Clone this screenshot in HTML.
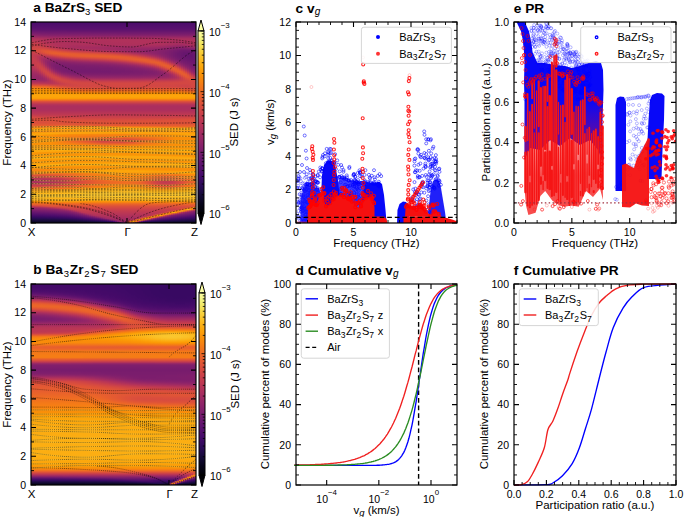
<!DOCTYPE html>
<html><head><meta charset="utf-8"><style>
html,body{margin:0;padding:0;background:#fff;}
svg{display:block;font-family:"Liberation Sans", sans-serif;}
.hc{position:absolute;}
</style></head><body><div style="position:relative;width:685px;height:517px;overflow:hidden">
<div class="hc" style="left:31px;top:22px;width:2px;height:201px;background:linear-gradient(#4a0c6b,#4d0d6c,#520e6d,#550f6d,#59106e,#5f136e,#6a176e,#741a6e,#7f1e6c,#8d2369,#9f2a63,#ae305c,#b93556,#bf3952,#c63d4d,#cb4149,#cc4248,#cf4446,#d34743,#d24644,#cc4248,#c63d4d,#c43c4e,#c63d4d,#c63d4d,#c63d4d,#c43c4e,#c33b4f,#c03a51,#bd3853,#b93556,#b43359,#ae305c,#a82e5f,#a22b62,#9d2964,#9a2865,#972766,#952667,#9f2a63,#ae305c,#bf3952,#d74b3f,#eb6628,#f57b17,#fa9207,#fb9606,#fb9b06,#fca108,#fca50a,#fca50a,#fb9d07,#f3761b,#dd513a,#c83f4b,#b63458,#ab2f5e,#ab2f5e,#ab2f5e,#ae305c,#b43359,#ba3655,#c33b4f,#ce4347,#d94d3d,#dd513a,#db503b,#d94d3d,#df5337,#e65d2f,#ed6925,#f98e09,#fcaa0f,#f78410,#fb9d07,#fca80d,#f98e09,#f98e09,#f98e09,#f98e09,#f98e09,#fa9008,#fa9008,#fa9008,#fa9207,#fb9906,#fcae12,#fb9d07,#fa9207,#fa9207,#fb9d07,#fcae12,#fb9906,#fa9207,#fa9407,#fca309,#fcaa0f,#fa9207,#f8890c,#f78410,#f98b0b,#f37819,#e15635,#d04545,#bf3952,#b1325a,#a92e5e,#ad305d,#b63458,#c73e4c,#da4e3c,#ec6726,#f78410,#fc9f07,#fcb216,#fbbc21,#fac026,#fbba1f,#fcae12,#fc9f07,#f98b0b,#ef6e21,#e45a31,#c13a50,#952667,#85216b,#751b6e,#65156e,#57106e,#470b6a,#380962,#280b53,#1b0c41,#0e092b,#07051b)"></div><div class="hc" style="left:33px;top:22px;width:2px;height:201px;background:linear-gradient(#4a0c6b,#4d0d6c,#520e6d,#550f6d,#59106e,#5f136e,#69166e,#741a6e,#7f1e6c,#8d2369,#9f2a63,#ae305c,#b73557,#bd3853,#c43c4e,#ca404a,#cc4248,#cf4446,#d34743,#d34743,#ce4347,#c73e4c,#c33b4f,#c33b4f,#c43c4e,#c63d4d,#c63d4d,#c63d4d,#c33b4f,#c03a51,#bc3754,#b63458,#b0315b,#a82e5f,#a22b62,#9d2964,#9a2865,#972766,#952667,#9f2a63,#ae305c,#bf3952,#d74b3f,#eb6628,#f57b17,#fa9207,#fb9606,#fb9b06,#fca108,#fca50a,#fca50a,#fb9d07,#f3761b,#dd513a,#c83f4b,#b63458,#ab2f5e,#ab2f5e,#ab2f5e,#ae305c,#b43359,#ba3655,#c33b4f,#ce4347,#d84c3e,#dd513a,#db503b,#d94d3d,#df5337,#e65d2f,#ed6925,#f98e09,#fca80d,#f78212,#fb9d07,#fca60c,#f98e09,#f98e09,#f98e09,#f98e09,#f98e09,#fa9008,#fa9008,#fa9008,#fa9207,#fb9906,#fcae12,#fb9d07,#fa9207,#fa9207,#fc9f07,#fcae12,#fb9906,#fa9207,#fa9407,#fca309,#fca80d,#fa9008,#f8890c,#f78410,#f98b0b,#f3761b,#e15635,#cf4446,#bd3853,#b0315b,#a92e5e,#ab2f5e,#b63458,#c63d4d,#da4e3c,#eb6628,#f78410,#fb9d07,#fcb216,#fbbc21,#fac026,#fbba1f,#fcae12,#fc9f07,#f98b0b,#ef6e21,#e45a31,#c13a50,#952667,#85216b,#751b6e,#65156e,#57106e,#490b6a,#380962,#280b53,#1b0c41,#0e092b,#07051b)"></div><div class="hc" style="left:35px;top:22px;width:2px;height:201px;background:linear-gradient(#4a0c6b,#4d0d6c,#510e6c,#550f6d,#59106e,#5f136e,#69166e,#741a6e,#7f1e6c,#8c2369,#9d2964,#ae305c,#b73557,#bd3853,#c33b4f,#c83f4b,#cb4149,#cf4446,#d44842,#d54a41,#d24644,#c83f4b,#c13a50,#bf3952,#c03a51,#c33b4f,#c63d4d,#c73e4c,#c73e4c,#c63d4d,#c13a50,#bc3754,#b3325a,#ab2f5e,#a32c61,#9d2964,#982766,#952667,#932667,#9d2964,#ad305d,#bf3952,#d74b3f,#eb6628,#f57b17,#fa9207,#fb9606,#fb9b06,#fca108,#fca50a,#fca50a,#fb9d07,#f3761b,#dd513a,#c83f4b,#b63458,#ab2f5e,#ab2f5e,#ab2f5e,#ae305c,#b43359,#ba3655,#c13a50,#cc4248,#d84c3e,#dd513a,#db503b,#da4e3c,#df5337,#e65d2f,#ee6a24,#fa9407,#fca80d,#f78212,#fca108,#fca60c,#f98c0a,#f98e09,#f98e09,#f98e09,#f98e09,#fa9008,#fa9008,#fa9008,#fa9207,#fb9b06,#fcae12,#fb9b06,#fa9207,#fa9207,#fc9f07,#fcae12,#fb9706,#fa9207,#fa9407,#fca50a,#fca80d,#fa9008,#f8890c,#f78410,#f98b0b,#f2741c,#e15635,#cf4446,#bd3853,#ae305c,#a82e5f,#ab2f5e,#b43359,#c63d4d,#da4e3c,#eb6628,#f78410,#fb9d07,#fcb216,#fbbc21,#fac026,#fbba1f,#fcae12,#fc9f07,#f98b0b,#ef6e21,#e45a31,#c43c4e,#952667,#85216b,#751b6e,#67166e,#57106e,#490b6a,#380962,#280b53,#1b0c41,#10092d,#07051b)"></div><div class="hc" style="left:37px;top:22px;width:2px;height:201px;background:linear-gradient(#4a0c6b,#4d0d6c,#510e6c,#550f6d,#59106e,#5d126e,#69166e,#741a6e,#7d1e6d,#8c2369,#9d2964,#ad305d,#b63458,#ba3655,#c13a50,#c73e4c,#ca404a,#cf4446,#d44842,#d84c3e,#d54a41,#cb4149,#c13a50,#ba3655,#ba3655,#bd3853,#c13a50,#c63d4d,#ca404a,#ca404a,#c83f4b,#c33b4f,#bc3754,#b1325a,#a82e5f,#9f2a63,#982766,#952667,#932667,#9d2964,#ad305d,#bf3952,#d74b3f,#eb6628,#f57b17,#fa9207,#fb9606,#fb9b06,#fca108,#fca50a,#fca50a,#fb9d07,#f3761b,#dd513a,#c83f4b,#b63458,#ab2f5e,#ab2f5e,#ab2f5e,#ae305c,#b43359,#ba3655,#c13a50,#cc4248,#d74b3f,#dd513a,#db503b,#da4e3c,#df5337,#e65d2f,#ee6a24,#fb9606,#fca50a,#f78212,#fca309,#fca309,#f98c0a,#f98e09,#f98e09,#f98e09,#f98e09,#fa9008,#fa9008,#fa9008,#fa9207,#fb9b06,#fcae12,#fb9b06,#fa9207,#fa9407,#fca108,#fcac11,#fb9706,#fa9207,#fa9407,#fca50a,#fca60c,#fa9008,#f8890c,#f78410,#f98c0a,#f1731d,#e05536,#cf4446,#bd3853,#ae305c,#a82e5f,#a92e5e,#b43359,#c63d4d,#d94d3d,#eb6628,#f78410,#fb9d07,#fcb216,#fbbc21,#fac026,#fbba1f,#fcae12,#fc9f07,#f98b0b,#ef6e21,#e45a31,#c63d4d,#972766,#87216b,#771c6d,#67166e,#57106e,#490b6a,#390963,#290b55,#1b0c41,#10092d,#07051b)"></div><div class="hc" style="left:39px;top:22px;width:2px;height:201px;background:linear-gradient(#4a0c6b,#4d0d6c,#510e6c,#550f6d,#59106e,#5d126e,#69166e,#721a6e,#7d1e6d,#8a226a,#9b2964,#ab2f5e,#b43359,#b93556,#bf3952,#c43c4e,#c83f4b,#ce4347,#d54a41,#da4e3c,#d94d3d,#cf4446,#c33b4f,#b73557,#b3325a,#b3325a,#b93556,#bf3952,#c63d4d,#ca404a,#cc4248,#cb4149,#c63d4d,#bc3754,#b1325a,#a52c60,#9b2964,#972766,#932667,#9b2964,#ab2f5e,#bd3853,#d54a41,#eb6628,#f57b17,#fa9207,#fb9706,#fb9d07,#fca108,#fca50a,#fca50a,#fb9d07,#f3761b,#dd513a,#c83f4b,#b63458,#ab2f5e,#ab2f5e,#ab2f5e,#ae305c,#b43359,#ba3655,#c13a50,#cb4149,#d74b3f,#dd513a,#dd513a,#da4e3c,#df5337,#e65d2f,#ee6a24,#fb9706,#fca309,#f78212,#fca309,#fca309,#f98c0a,#f98e09,#f98e09,#f98e09,#f98e09,#fa9008,#fa9008,#fa9008,#fa9207,#fb9b06,#fcae12,#fb9906,#fa9207,#fa9407,#fca108,#fcac11,#fb9706,#fa9207,#fa9407,#fca60c,#fca60c,#fa9008,#f8890c,#f8850f,#f98c0a,#f1731d,#e05536,#cf4446,#bd3853,#ae305c,#a82e5f,#a92e5e,#b43359,#c63d4d,#d94d3d,#eb6628,#f78410,#fb9d07,#fcb216,#fbbc21,#fac026,#fbba1f,#fcae12,#fc9f07,#f98b0b,#ef6e21,#e45a31,#c83f4b,#972766,#87216b,#771c6d,#67166e,#59106e,#490b6a,#390963,#290b55,#1b0c41,#10092d,#07051b)"></div><div class="hc" style="left:41px;top:22px;width:2px;height:201px;background:linear-gradient(#4a0c6b,#4d0d6c,#510e6c,#550f6d,#59106e,#5d126e,#67166e,#721a6e,#7c1d6d,#8a226a,#9b2964,#ab2f5e,#b3325a,#b73557,#bc3754,#c13a50,#c63d4d,#cc4248,#d54a41,#dd513a,#dd513a,#d44842,#c63d4d,#b63458,#ab2f5e,#a82e5f,#ab2f5e,#b1325a,#ba3655,#c33b4f,#ca404a,#ce4347,#ce4347,#c73e4c,#bd3853,#b0315b,#a32c61,#9a2865,#952667,#9b2964,#ab2f5e,#bc3754,#d54a41,#eb6628,#f57b17,#fa9207,#fb9706,#fb9d07,#fca108,#fca50a,#fca50a,#fb9d07,#f3761b,#dd513a,#c83f4b,#b63458,#ab2f5e,#ab2f5e,#ab2f5e,#ae305c,#b43359,#ba3655,#c13a50,#cb4149,#d54a41,#db503b,#dd513a,#da4e3c,#df5337,#e65d2f,#ef6c23,#fb9b06,#fca309,#f78212,#fca60c,#fca108,#f98c0a,#f98e09,#f98e09,#f98e09,#f98e09,#fa9008,#fa9008,#fa9008,#fa9207,#fb9d07,#fcae12,#fb9906,#fa9207,#fa9407,#fca309,#fcac11,#fb9606,#fa9207,#fa9407,#fca80d,#fca50a,#fa9008,#f8890c,#f8850f,#f98e09,#f1711f,#e05536,#cf4446,#bd3853,#ae305c,#a82e5f,#a92e5e,#b43359,#c63d4d,#d94d3d,#eb6628,#f78410,#fb9d07,#fcb216,#fbbc21,#fac026,#fbba1f,#fcae12,#fc9f07,#f98b0b,#ef6e21,#e45a31,#cb4149,#9a2865,#88226a,#781c6d,#69166e,#59106e,#490b6a,#390963,#290b55,#1b0c41,#10092d,#07051b)"></div><div class="hc" style="left:43px;top:22px;width:2px;height:201px;background:linear-gradient(#4a0c6b,#4d0d6c,#510e6c,#540f6d,#59106e,#5d126e,#67166e,#721a6e,#7c1d6d,#88226a,#9a2865,#a92e5e,#b3325a,#b43359,#b93556,#bf3952,#c33b4f,#cb4149,#d54a41,#df5337,#e05536,#d94d3d,#c83f4b,#b73557,#a82e5f,#a02a63,#9f2a63,#a32c61,#ab2f5e,#b63458,#c03a51,#ca404a,#cf4446,#cf4446,#c83f4b,#bd3853,#b0315b,#a32c61,#9a2865,#9d2964,#a92e5e,#bc3754,#d44842,#eb6429,#f47918,#fa9207,#fb9606,#fb9b06,#fca108,#fca50a,#fca50a,#fb9d07,#f3761b,#dd513a,#c83f4b,#b63458,#ab2f5e,#ab2f5e,#ab2f5e,#ae305c,#b43359,#ba3655,#c13a50,#cb4149,#d54a41,#db503b,#dd513a,#da4e3c,#df5337,#e65d2f,#ef6c23,#fb9b06,#fc9f07,#f78212,#fca60c,#fc9f07,#f98c0a,#f98e09,#f98e09,#f98e09,#f98e09,#fa9008,#fa9008,#fa9008,#fa9207,#fb9d07,#fcae12,#fb9906,#fa9207,#fa9407,#fca309,#fcaa0f,#fb9606,#fa9207,#fa9407,#fca80d,#fca50a,#f98e09,#f8890c,#f8850f,#f98e09,#f1711f,#e05536,#cf4446,#bd3853,#b0315b,#a92e5e,#ab2f5e,#b43359,#c63d4d,#da4e3c,#eb6628,#f78410,#fb9d07,#fcb216,#fbbc21,#fac026,#fbba1f,#fcae12,#fc9f07,#f98b0b,#ef6e21,#e45a31,#cf4446,#9d2964,#88226a,#781c6d,#69166e,#59106e,#4a0c6b,#390963,#290b55,#1b0c41,#10092d,#07051b)"></div><div class="hc" style="left:45px;top:22px;width:2px;height:201px;background:linear-gradient(#4a0c6b,#4d0d6c,#510e6c,#540f6d,#59106e,#5d126e,#67166e,#71196e,#7c1d6d,#88226a,#9a2865,#a92e5e,#b1325a,#b3325a,#b63458,#bc3754,#c03a51,#c83f4b,#d44842,#df5337,#e35933,#dd513a,#ce4347,#b93556,#a62d60,#9b2964,#952667,#972766,#9a2865,#a32c61,#b0315b,#bf3952,#ca404a,#d04545,#d04545,#ca404a,#bd3853,#ae305c,#a22b62,#a02a63,#ab2f5e,#ba3655,#d34743,#ea632a,#f37819,#fa9008,#fb9606,#fb9b06,#fca108,#fca50a,#fca50a,#fb9d07,#f3761b,#dd513a,#c83f4b,#b63458,#ab2f5e,#ab2f5e,#ab2f5e,#ae305c,#b43359,#ba3655,#c13a50,#ca404a,#d44842,#db503b,#dd513a,#da4e3c,#df5337,#e65d2f,#ef6c23,#fc9f07,#fb9d07,#f78212,#fca80d,#fb9d07,#f98b0b,#f98e09,#f98e09,#f98e09,#f98e09,#fa9008,#fa9008,#fa9008,#fa9207,#fc9f07,#fcae12,#fb9706,#fa9207,#fa9407,#fca50a,#fcaa0f,#fb9606,#fa9207,#fb9606,#fcaa0f,#fca309,#f98e09,#f8890c,#f8870e,#f98e09,#f1711f,#e15635,#d04545,#bf3952,#b0315b,#a92e5e,#ab2f5e,#b63458,#c73e4c,#da4e3c,#ec6726,#f78410,#fc9f07,#fcb216,#fbbc21,#fac026,#fbba1f,#fcae12,#fc9f07,#f98b0b,#ef6e21,#e45a31,#d24644,#a02a63,#8a226a,#7a1d6d,#6a176e,#5a116e,#4a0c6b,#3b0964,#290b55,#1b0c41,#10092d,#07051b)"></div><div class="hc" style="left:47px;top:22px;width:2px;height:201px;background:linear-gradient(#4a0c6b,#4d0d6c,#510e6c,#540f6d,#59106e,#5d126e,#67166e,#71196e,#7a1d6d,#88226a,#982766,#a82e5f,#b0315b,#b1325a,#b43359,#b93556,#bc3754,#c43c4e,#d24644,#df5337,#e45a31,#e05536,#d24644,#bc3754,#a62d60,#982766,#902568,#8d2369,#8f2469,#952667,#9f2a63,#ae305c,#bd3853,#ca404a,#d24644,#d24644,#ca404a,#bc3754,#ae305c,#a82e5f,#ad305d,#b93556,#d04545,#e8602d,#f3761b,#f98e09,#fa9407,#fb9b06,#fca108,#fca50a,#fca50a,#fb9d07,#f3761b,#dd513a,#c83f4b,#b63458,#ab2f5e,#ab2f5e,#ab2f5e,#ae305c,#b43359,#ba3655,#c13a50,#ca404a,#d44842,#db503b,#dd513a,#db503b,#df5337,#e65d2f,#ef6e21,#fca108,#fb9b06,#f78212,#fcaa0f,#fb9d07,#f98b0b,#f98e09,#f98e09,#f98e09,#f98e09,#fa9008,#fa9008,#fa9008,#fa9207,#fca108,#fcae12,#fb9706,#fa9207,#fa9407,#fca60c,#fcaa0f,#fb9606,#fa9207,#fb9606,#fcaa0f,#fca309,#f98e09,#f8890c,#f8870e,#fa9008,#f1711f,#e15635,#d04545,#bf3952,#b1325a,#ab2f5e,#ad305d,#b73557,#c73e4c,#db503b,#ec6726,#f78410,#fc9f07,#fcb216,#fbbc21,#fac026,#fbba1f,#fcae12,#fc9f07,#f98b0b,#ef6e21,#e45a31,#d54a41,#a52c60,#8c2369,#7c1d6d,#6a176e,#5a116e,#4c0c6b,#3b0964,#2b0b57,#1b0c41,#10092d,#07051b)"></div><div class="hc" style="left:49px;top:22px;width:2px;height:201px;background:linear-gradient(#4a0c6b,#4d0d6c,#510e6c,#540f6d,#59106e,#5d126e,#67166e,#71196e,#7a1d6d,#87216b,#982766,#a82e5f,#b0315b,#b1325a,#b3325a,#b63458,#b93556,#c13a50,#cf4446,#de5238,#e55c30,#e35933,#d54a41,#c03a51,#a92e5e,#982766,#8d2369,#88226a,#87216b,#8a226a,#902568,#9d2964,#ad305d,#bf3952,#cb4149,#d24644,#d24644,#c83f4b,#ba3655,#b0315b,#b0315b,#b93556,#cf4446,#e65d2f,#f1731d,#f98c0a,#fa9407,#fb9b06,#fca108,#fca50a,#fca50a,#fb9d07,#f3761b,#dd513a,#c83f4b,#b63458,#ab2f5e,#ab2f5e,#ab2f5e,#ae305c,#b43359,#ba3655,#c03a51,#ca404a,#d44842,#da4e3c,#dd513a,#db503b,#de5238,#e65d2f,#ef6e21,#fca309,#fb9906,#f78410,#fcaa0f,#fb9b06,#f98b0b,#f98e09,#f98e09,#f98e09,#f98e09,#fa9008,#fa9008,#fa9008,#fa9207,#fca108,#fcac11,#fb9706,#fa9207,#fa9407,#fca60c,#fca80d,#fa9407,#fa9207,#fb9606,#fcaa0f,#fca108,#f98e09,#f8890c,#f8870e,#fa9008,#f1711f,#e25734,#d24644,#c03a51,#b3325a,#ad305d,#ae305c,#b93556,#c83f4b,#db503b,#ed6925,#f8850f,#fc9f07,#fcb216,#fbbc21,#fac026,#fbba1f,#fcae12,#fc9f07,#f98b0b,#ef6e21,#e45a31,#d84c3e,#a92e5e,#8d2369,#7c1d6d,#6c186e,#5c126e,#4c0c6b,#3b0964,#2b0b57,#1c0c43,#10092d,#07051b)"></div><div class="hc" style="left:51px;top:22px;width:2px;height:201px;background:linear-gradient(#4a0c6b,#4d0d6c,#510e6c,#540f6d,#57106e,#5d126e,#67166e,#71196e,#7a1d6d,#87216b,#982766,#a82e5f,#b0315b,#b0315b,#b1325a,#b43359,#b63458,#bd3853,#cc4248,#db503b,#e55c30,#e55c30,#d94d3d,#c43c4e,#ad305d,#982766,#8c2369,#85216b,#82206c,#82206c,#87216b,#8f2469,#9d2964,#ae305c,#c03a51,#ce4347,#d34743,#d04545,#c63d4d,#b93556,#b43359,#ba3655,#ce4347,#e45a31,#f1711f,#f8890c,#fa9207,#fb9906,#fca108,#fca50a,#fca50a,#fb9d07,#f3761b,#dd513a,#c83f4b,#b63458,#ab2f5e,#ab2f5e,#ab2f5e,#ae305c,#b43359,#ba3655,#c03a51,#ca404a,#d34743,#da4e3c,#dd513a,#db503b,#de5238,#e55c30,#f06f20,#fca50a,#fb9706,#f78410,#fcac11,#fb9906,#f98b0b,#f98c0a,#f98c0a,#f98e09,#f98e09,#f98e09,#fa9008,#fa9008,#fa9207,#fca309,#fcac11,#fb9706,#fa9207,#fa9407,#fca80d,#fca80d,#fa9407,#fa9207,#fb9606,#fcac11,#fca108,#f98e09,#f8890c,#f8890c,#fa9207,#f1711f,#e25734,#d34743,#c33b4f,#b63458,#ae305c,#b0315b,#ba3655,#ca404a,#dd513a,#ed6925,#f8850f,#fc9f07,#fcb216,#fbbc21,#fac026,#fbba1f,#fcae12,#fc9f07,#f98b0b,#ef6e21,#e45a31,#d94d3d,#b0315b,#8f2469,#7d1e6d,#6d186e,#5d126e,#4d0d6c,#3d0965,#2b0b57,#1c0c43,#10092d,#07051b)"></div><div class="hc" style="left:53px;top:22px;width:2px;height:201px;background:linear-gradient(#4a0c6b,#4d0d6c,#510e6c,#540f6d,#57106e,#5d126e,#67166e,#71196e,#7a1d6d,#87216b,#982766,#a82e5f,#b0315b,#b0315b,#b0315b,#b3325a,#b43359,#ba3655,#c83f4b,#d94d3d,#e55c30,#e65d2f,#dd513a,#c83f4b,#b0315b,#9b2964,#8d2369,#84206b,#801f6c,#7f1e6c,#801f6c,#85216b,#8f2469,#9f2a63,#b1325a,#c43c4e,#d04545,#d34743,#cc4248,#c33b4f,#ba3655,#bc3754,#cc4248,#e25734,#ef6c23,#f8850f,#f98e09,#fb9906,#fca108,#fca50a,#fca50a,#fb9d07,#f3761b,#dd513a,#c83f4b,#b63458,#ab2f5e,#ab2f5e,#ab2f5e,#ae305c,#b43359,#ba3655,#c03a51,#c83f4b,#d34743,#da4e3c,#dd513a,#db503b,#de5238,#e55c30,#f06f20,#fca60c,#fb9606,#f78410,#fcac11,#fb9706,#f8890c,#f98b0b,#f8890c,#f8890c,#f98b0b,#f98c0a,#f98e09,#fa9008,#fa9207,#fca309,#fcac11,#fb9606,#fa9207,#fa9407,#fca80d,#fca60c,#fa9407,#fa9207,#fb9706,#fcac11,#fc9f07,#f98e09,#f8890c,#f98b0b,#fa9207,#f1711f,#e35933,#d44842,#c43c4e,#b73557,#b1325a,#b3325a,#bc3754,#cb4149,#de5238,#ee6a24,#f8870e,#fca108,#fcb216,#fbbc21,#fac026,#fbba1f,#fcae12,#fc9f07,#f98b0b,#ef6e21,#e45a31,#da4e3c,#b63458,#902568,#7f1e6c,#6f196e,#5d126e,#4d0d6c,#3d0965,#2b0b57,#1c0c43,#10092d,#07051b)"></div><div class="hc" style="left:55px;top:22px;width:2px;height:201px;background:linear-gradient(#4a0c6b,#4d0d6c,#510e6c,#540f6d,#57106e,#5c126e,#67166e,#71196e,#7a1d6d,#87216b,#982766,#a82e5f,#ae305c,#b0315b,#b0315b,#b1325a,#b1325a,#b73557,#c63d4d,#d74b3f,#e45a31,#e75e2e,#df5337,#cc4248,#b43359,#9d2964,#8d2369,#84206b,#7f1e6c,#7c1d6d,#7c1d6d,#7f1e6c,#85216b,#922568,#a52c60,#b93556,#ca404a,#d34743,#d24644,#ca404a,#c13a50,#bf3952,#cb4149,#df5337,#ed6925,#f78212,#f98c0a,#fb9706,#fca108,#fca50a,#fca50a,#fb9d07,#f3761b,#dd513a,#c83f4b,#b63458,#ab2f5e,#ab2f5e,#ab2f5e,#ae305c,#b43359,#ba3655,#c03a51,#c83f4b,#d34743,#da4e3c,#dd513a,#db503b,#de5238,#e55c30,#f1711f,#fca60c,#fa9407,#f8850f,#fcac11,#fb9606,#f8870e,#f8870e,#f8850f,#f78410,#f8870e,#f98b0b,#f98e09,#fa9008,#fa9207,#fca309,#fcaa0f,#fb9606,#fa9207,#fb9606,#fca80d,#fca60c,#fa9407,#fa9207,#fb9706,#fcac11,#fc9f07,#f98e09,#f8890c,#f98b0b,#fa9407,#f1711f,#e45a31,#d54a41,#c63d4d,#ba3655,#b3325a,#b43359,#bf3952,#ce4347,#df5337,#ef6c23,#f8870e,#fca108,#fcb418,#fbbe23,#fac026,#fbba1f,#fcae12,#fc9f07,#f98b0b,#ef6e21,#e45a31,#da4e3c,#bd3853,#922568,#801f6c,#71196e,#5f136e,#4f0d6c,#3e0966,#2d0b59,#1c0c43,#10092d,#07051b)"></div><div class="hc" style="left:57px;top:22px;width:2px;height:201px;background:linear-gradient(#4a0c6b,#4d0d6c,#510e6c,#540f6d,#57106e,#5c126e,#67166e,#71196e,#7a1d6d,#87216b,#972766,#a82e5f,#ae305c,#ae305c,#b0315b,#b0315b,#b0315b,#b43359,#c13a50,#d44842,#e25734,#e75e2e,#e15635,#d04545,#b73557,#a02a63,#8f2469,#84206b,#7f1e6c,#7c1d6d,#7a1d6d,#7c1d6d,#801f6c,#8a226a,#982766,#ae305c,#c13a50,#cf4446,#d34743,#cf4446,#c73e4c,#c13a50,#ca404a,#dd513a,#eb6429,#f67e14,#f98b0b,#fb9606,#fc9f07,#fca50a,#fca50a,#fb9d07,#f3761b,#dd513a,#c83f4b,#b63458,#ab2f5e,#ab2f5e,#ab2f5e,#ae305c,#b43359,#ba3655,#c03a51,#c83f4b,#d24644,#d94d3d,#dd513a,#db503b,#de5238,#e55c30,#f1711f,#fcaa0f,#fa9207,#f8850f,#fcae12,#fa9407,#f8870e,#f8850f,#f78212,#f78212,#f8850f,#f8890c,#f98e09,#fa9008,#fa9207,#fca50a,#fcaa0f,#fb9606,#fa9207,#fb9606,#fcaa0f,#fca50a,#fa9407,#fa9207,#fb9706,#fcae12,#fc9f07,#f98e09,#f8890c,#f98c0a,#fa9407,#f1731d,#e55c30,#d84c3e,#c83f4b,#bc3754,#b63458,#b73557,#c03a51,#cf4446,#e05536,#ef6e21,#f8890c,#fca108,#fcb418,#fbbe23,#fac026,#fbba1f,#fcae12,#fc9f07,#f98b0b,#ef6e21,#e45a31,#da4e3c,#c33b4f,#952667,#84206b,#721a6e,#61136e,#510e6c,#3e0966,#2d0b59,#1e0c45,#10092d,#07051b)"></div><div class="hc" style="left:59px;top:22px;width:2px;height:201px;background:linear-gradient(#4a0c6b,#4d0d6c,#510e6c,#540f6d,#57106e,#5c126e,#67166e,#71196e,#7a1d6d,#87216b,#972766,#a82e5f,#ae305c,#ae305c,#ae305c,#b0315b,#ae305c,#b3325a,#bf3952,#d04545,#e15635,#e75e2e,#e35933,#d34743,#bc3754,#a32c61,#902568,#85216b,#7f1e6c,#7a1d6d,#781c6d,#7a1d6d,#7c1d6d,#84206b,#902568,#a32c61,#b73557,#c83f4b,#d34743,#d24644,#cb4149,#c63d4d,#ca404a,#da4e3c,#e9612b,#f57b17,#f8870e,#fa9407,#fc9f07,#fca50a,#fca50a,#fb9b06,#f3761b,#dd513a,#c83f4b,#b63458,#ab2f5e,#ab2f5e,#ab2f5e,#ae305c,#b43359,#ba3655,#c03a51,#c83f4b,#d24644,#d94d3d,#dd513a,#db503b,#de5238,#e55c30,#f1731d,#fca80d,#fa9008,#f8850f,#fcac11,#fa9207,#f8850f,#f78410,#f67e14,#f67e14,#f78212,#f8870e,#f98c0a,#fa9008,#fa9207,#fca50a,#fca80d,#fb9606,#fa9207,#fb9606,#fcaa0f,#fca50a,#fa9407,#fa9207,#fb9706,#fcac11,#fb9d07,#f98e09,#f8890c,#f98c0a,#fa9407,#f1731d,#e65d2f,#d94d3d,#cb4149,#bf3952,#b93556,#ba3655,#c33b4f,#d24644,#e25734,#f06f20,#f8890c,#fca309,#fcb418,#fbbe23,#fac026,#fbba1f,#fcae12,#fc9f07,#f98b0b,#ef6e21,#e45a31,#da4e3c,#c73e4c,#9a2865,#85216b,#741a6e,#62146e,#510e6c,#400a67,#2f0a5b,#1e0c45,#10092d,#07051b)"></div><div class="hc" style="left:61px;top:22px;width:2px;height:201px;background:linear-gradient(#4a0c6b,#4d0d6c,#510e6c,#540f6d,#57106e,#5c126e,#67166e,#71196e,#7a1d6d,#87216b,#972766,#a82e5f,#ae305c,#ae305c,#ae305c,#b0315b,#ae305c,#b0315b,#bc3754,#ce4347,#df5337,#e75e2e,#e45a31,#d74b3f,#bf3952,#a62d60,#932667,#87216b,#7f1e6c,#7a1d6d,#781c6d,#781c6d,#7a1d6d,#7f1e6c,#88226a,#9a2865,#ae305c,#c13a50,#cf4446,#d34743,#cf4446,#c83f4b,#cb4149,#d94d3d,#e75e2e,#f37819,#f8850f,#fa9407,#fc9f07,#fca50a,#fca50a,#fb9b06,#f3761b,#dd513a,#c83f4b,#b63458,#ab2f5e,#ab2f5e,#ab2f5e,#ae305c,#b43359,#ba3655,#c03a51,#c83f4b,#d24644,#d94d3d,#dd513a,#db503b,#de5238,#e55c30,#f2741c,#fcac11,#f98e09,#f8870e,#fcae12,#fa9207,#f8850f,#f78212,#f57b17,#f57b17,#f67e14,#f8870e,#f98c0a,#fa9008,#fa9207,#fca60c,#fca80d,#fb9606,#fa9207,#fb9606,#fcaa0f,#fca50a,#fa9407,#fa9207,#fb9906,#fcae12,#fb9d07,#f98e09,#f98b0b,#f98e09,#fb9606,#f2741c,#e75e2e,#da4e3c,#cc4248,#c13a50,#bc3754,#bd3853,#c63d4d,#d34743,#e35933,#f1711f,#f98b0b,#fca309,#fcb418,#fbbe23,#fac026,#fbba1f,#fcae12,#fc9f07,#f98b0b,#ef6e21,#e45a31,#da4e3c,#cb4149,#9f2a63,#87216b,#751b6e,#64156e,#520e6d,#400a67,#2f0a5b,#1e0c45,#110a30,#07051b)"></div><div class="hc" style="left:63px;top:22px;width:2px;height:201px;background:linear-gradient(#4a0c6b,#4d0d6c,#510e6c,#540f6d,#57106e,#5c126e,#67166e,#71196e,#7a1d6d,#87216b,#972766,#a82e5f,#ae305c,#ae305c,#ae305c,#b0315b,#ad305d,#ae305c,#b93556,#cb4149,#dd513a,#e65d2f,#e55c30,#d94d3d,#c33b4f,#a92e5e,#952667,#87216b,#7f1e6c,#7a1d6d,#781c6d,#771c6d,#781c6d,#7c1d6d,#84206b,#932667,#a62d60,#bc3754,#cb4149,#d34743,#d24644,#cb4149,#cb4149,#d74b3f,#e55c30,#f2741c,#f78212,#fa9207,#fc9f07,#fca50a,#fca50a,#fb9b06,#f3761b,#dd513a,#c83f4b,#b63458,#ab2f5e,#ab2f5e,#ab2f5e,#ae305c,#b43359,#ba3655,#c03a51,#c83f4b,#d24644,#d94d3d,#dd513a,#db503b,#de5238,#e55c30,#f2741c,#fcac11,#f98e09,#f8890c,#fcae12,#fa9008,#f78410,#f68013,#f47918,#f37819,#f57d15,#f78410,#f98b0b,#f98e09,#fa9407,#fca60c,#fca80d,#fa9407,#fa9207,#fb9606,#fcac11,#fca309,#fa9407,#fa9207,#fb9906,#fcae12,#fb9d07,#f98e09,#f98b0b,#fa9008,#fb9606,#f2741c,#e8602d,#dd513a,#cf4446,#c43c4e,#bf3952,#c03a51,#c83f4b,#d54a41,#e45a31,#f1731d,#f98c0a,#fca50a,#fcb418,#fbbe23,#fac026,#fbba1f,#fcae12,#fc9f07,#f98b0b,#ef6e21,#e45a31,#da4e3c,#cf4446,#a62d60,#88226a,#771c6d,#65156e,#540f6d,#420a68,#310a5c,#1e0c45,#110a30,#07051b)"></div><div class="hc" style="left:65px;top:22px;width:2px;height:201px;background:linear-gradient(#4a0c6b,#4d0d6c,#510e6c,#540f6d,#57106e,#5c126e,#67166e,#71196e,#7a1d6d,#87216b,#972766,#a82e5f,#ae305c,#ae305c,#ae305c,#ae305c,#ad305d,#ad305d,#b63458,#c83f4b,#db503b,#e65d2f,#e65d2f,#db503b,#c63d4d,#ad305d,#972766,#88226a,#801f6c,#7a1d6d,#781c6d,#771c6d,#771c6d,#7a1d6d,#82206c,#8f2469,#a02a63,#b63458,#c73e4c,#d24644,#d34743,#ce4347,#cc4248,#d54a41,#e35933,#f1711f,#f68013,#fa9008,#fb9d07,#fca50a,#fca50a,#fb9b06,#f3761b,#dd513a,#c83f4b,#b63458,#ab2f5e,#ab2f5e,#ab2f5e,#ae305c,#b43359,#ba3655,#c03a51,#c73e4c,#d04545,#d84c3e,#dd513a,#dd513a,#de5238,#e55c30,#f2741c,#fcac11,#f98c0a,#f8890c,#fcac11,#fa9008,#f78410,#f67e14,#f3761b,#f2741c,#f47918,#f78212,#f98b0b,#f98e09,#fa9407,#fca60c,#fca60c,#fa9407,#fa9207,#fb9606,#fcac11,#fca309,#fa9407,#fa9207,#fb9906,#fcae12,#fb9b06,#f98e09,#f98b0b,#fa9008,#fb9706,#f3761b,#e9612b,#de5238,#d24644,#c73e4c,#c13a50,#c33b4f,#ca404a,#d84c3e,#e65d2f,#f2741c,#f98c0a,#fca50a,#fbb61a,#fbbe23,#fac026,#fbba1f,#fcae12,#fc9f07,#f98b0b,#ef6e21,#e45a31,#da4e3c,#d04545,#ae305c,#8c2369,#781c6d,#67166e,#550f6d,#440a68,#310a5c,#1f0c48,#110a30,#07051b)"></div><div class="hc" style="left:67px;top:22px;width:2px;height:201px;background:linear-gradient(#4a0c6b,#4d0d6c,#510e6c,#540f6d,#57106e,#5c126e,#65156e,#71196e,#7a1d6d,#87216b,#972766,#a82e5f,#ae305c,#ae305c,#ae305c,#ae305c,#ab2f5e,#ab2f5e,#b43359,#c63d4d,#d94d3d,#e55c30,#e75e2e,#dd513a,#c83f4b,#b0315b,#9a2865,#8a226a,#801f6c,#7c1d6d,#781c6d,#771c6d,#771c6d,#781c6d,#7f1e6c,#8c2369,#9b2964,#b0315b,#c33b4f,#d04545,#d34743,#cf4446,#ce4347,#d44842,#e15635,#ef6e21,#f57d15,#f98e09,#fb9d07,#fca50a,#fca50a,#fb9b06,#f3761b,#dd513a,#c83f4b,#b63458,#ab2f5e,#ab2f5e,#ab2f5e,#ae305c,#b43359,#ba3655,#c03a51,#c73e4c,#d04545,#d84c3e,#dd513a,#dd513a,#de5238,#e55c30,#f3761b,#fcae12,#f98b0b,#f98b0b,#fcae12,#f98e09,#f78410,#f57d15,#f2741c,#f1711f,#f3761b,#f68013,#f8890c,#f98e09,#fa9407,#fca80d,#fca60c,#fa9407,#fa9207,#fb9706,#fcac11,#fca108,#fa9407,#fa9207,#fb9906,#fcae12,#fb9b06,#f98e09,#f98b0b,#fa9207,#fb9906,#f3761b,#ea632a,#e05536,#d44842,#cb4149,#c63d4d,#c63d4d,#cc4248,#d94d3d,#e75e2e,#f3761b,#f98e09,#fca50a,#fbb61a,#fbbe23,#fac026,#fbba1f,#fcae12,#fc9f07,#f98b0b,#ef6e21,#e45a31,#da4e3c,#d24644,#b73557,#8f2469,#7c1d6d,#69166e,#57106e,#450a69,#320a5e,#1f0c48,#110a30,#07051b)"></div><div class="hc" style="left:69px;top:22px;width:2px;height:201px;background:linear-gradient(#4a0c6b,#4d0d6c,#510e6c,#540f6d,#57106e,#5c126e,#65156e,#71196e,#7a1d6d,#87216b,#972766,#a82e5f,#ae305c,#ae305c,#ae305c,#ae305c,#ab2f5e,#a92e5e,#b3325a,#c33b4f,#d74b3f,#e45a31,#e75e2e,#df5337,#cb4149,#b1325a,#9b2964,#8c2369,#801f6c,#7c1d6d,#781c6d,#771c6d,#771c6d,#781c6d,#7d1e6d,#88226a,#972766,#a92e5e,#bf3952,#ce4347,#d34743,#d04545,#ce4347,#d44842,#e05536,#ee6a24,#f57b17,#f98c0a,#fb9d07,#fca50a,#fca50a,#fb9b06,#f3761b,#dd513a,#c83f4b,#b63458,#ab2f5e,#ab2f5e,#ab2f5e,#ae305c,#b43359,#ba3655,#c03a51,#c73e4c,#d04545,#d84c3e,#dd513a,#dd513a,#de5238,#e55c30,#f37819,#fcac11,#f8890c,#f98b0b,#fcae12,#f98e09,#f78212,#f57b17,#f1711f,#ef6e21,#f1731d,#f67e14,#f8890c,#f98e09,#fa9407,#fca80d,#fca60c,#fa9407,#fa9207,#fb9706,#fcac11,#fca108,#fa9407,#fa9207,#fb9b06,#fcae12,#fb9b06,#f98e09,#f98b0b,#fa9407,#fb9906,#f37819,#eb6628,#e25734,#d74b3f,#ce4347,#c83f4b,#c83f4b,#cf4446,#db503b,#e9612b,#f37819,#fa9008,#fca60c,#fbb61a,#fbbe23,#fac026,#fbba1f,#fcae12,#fc9f07,#f98b0b,#ef6e21,#e45a31,#da4e3c,#d24644,#c03a51,#952667,#7f1e6c,#6c186e,#59106e,#470b6a,#340a5f,#210c4a,#110a30,#07051b)"></div><div class="hc" style="left:71px;top:22px;width:2px;height:201px;background:linear-gradient(#4a0c6b,#4d0d6c,#510e6c,#540f6d,#57106e,#5c126e,#65156e,#71196e,#7a1d6d,#87216b,#972766,#a82e5f,#ae305c,#ae305c,#ae305c,#ae305c,#ab2f5e,#a92e5e,#b0315b,#c03a51,#d54a41,#e35933,#e75e2e,#e05536,#ce4347,#b43359,#9d2964,#8d2369,#82206c,#7c1d6d,#781c6d,#771c6d,#751b6e,#771c6d,#7c1d6d,#85216b,#932667,#a52c60,#ba3655,#cb4149,#d34743,#d24644,#cf4446,#d34743,#de5238,#ec6726,#f47918,#f98c0a,#fb9d07,#fca50a,#fca50a,#fb9b06,#f3761b,#dd513a,#c83f4b,#b63458,#ab2f5e,#ab2f5e,#ab2f5e,#ae305c,#b43359,#ba3655,#c03a51,#c73e4c,#d04545,#d84c3e,#dd513a,#dd513a,#de5238,#e55c30,#f37819,#fcae12,#f8890c,#f98c0a,#fcae12,#f98c0a,#f78212,#f47918,#f06f20,#ee6a24,#f06f20,#f57d15,#f8870e,#f98e09,#fa9407,#fca80d,#fca60c,#fa9407,#fa9207,#fb9706,#fcac11,#fca108,#fa9207,#fa9207,#fb9b06,#fcae12,#fb9906,#f98e09,#f98b0b,#fa9407,#fb9906,#f47918,#ec6726,#e35933,#d94d3d,#d04545,#cb4149,#cb4149,#d24644,#de5238,#ea632a,#f47918,#fa9207,#fca60c,#fbb61a,#fbbe23,#fac026,#fbba1f,#fcae12,#fc9f07,#f98b0b,#ef6e21,#e45a31,#da4e3c,#d24644,#c73e4c,#a02a63,#84206b,#6f196e,#5c126e,#490b6a,#360961,#210c4a,#120a32,#07051b)"></div><div class="hc" style="left:73px;top:22px;width:2px;height:201px;background:linear-gradient(#4a0c6b,#4d0d6c,#510e6c,#540f6d,#57106e,#5c126e,#65156e,#71196e,#7a1d6d,#87216b,#972766,#a82e5f,#ae305c,#ae305c,#ae305c,#ae305c,#a92e5e,#a82e5f,#ae305c,#bf3952,#d34743,#e35933,#e75e2e,#e15635,#cf4446,#b73557,#9f2a63,#8d2369,#82206c,#7c1d6d,#781c6d,#771c6d,#751b6e,#771c6d,#7a1d6d,#84206b,#902568,#a22b62,#b63458,#c83f4b,#d24644,#d34743,#d04545,#d34743,#dd513a,#eb6429,#f3761b,#f98b0b,#fb9b06,#fca50a,#fca50a,#fb9b06,#f3761b,#dd513a,#c83f4b,#b63458,#ab2f5e,#ab2f5e,#ab2f5e,#ae305c,#b43359,#ba3655,#c03a51,#c73e4c,#d04545,#d84c3e,#dd513a,#dd513a,#de5238,#e55c30,#f47918,#fcae12,#f8870e,#f98c0a,#fcae12,#f98c0a,#f78212,#f47918,#ef6c23,#ec6726,#ef6e21,#f57b17,#f8870e,#f98e09,#fa9407,#fcaa0f,#fca50a,#fa9407,#fa9207,#fb9706,#fcae12,#fc9f07,#fa9207,#fa9207,#fb9b06,#fcae12,#fb9906,#f98e09,#f98c0a,#fb9606,#fb9b06,#f47918,#ed6925,#e55c30,#db503b,#d34743,#cf4446,#ce4347,#d54a41,#e05536,#eb6628,#f57b17,#fa9207,#fca80d,#fbb81d,#fac026,#fac026,#fbbc21,#fcae12,#fc9f07,#f98b0b,#ef6e21,#e45a31,#da4e3c,#d24644,#ca404a,#ad305d,#88226a,#741a6e,#5f136e,#4c0c6b,#380962,#230c4c,#120a32,#07051b)"></div><div class="hc" style="left:75px;top:22px;width:2px;height:201px;background:linear-gradient(#4a0c6b,#4d0d6c,#510e6c,#540f6d,#57106e,#5c126e,#65156e,#71196e,#7a1d6d,#87216b,#972766,#a82e5f,#ae305c,#ae305c,#ae305c,#ae305c,#a92e5e,#a82e5f,#ae305c,#bd3853,#d24644,#e25734,#e75e2e,#e25734,#d24644,#b93556,#a02a63,#8f2469,#84206b,#7c1d6d,#781c6d,#771c6d,#751b6e,#751b6e,#7a1d6d,#82206c,#8d2369,#9f2a63,#b1325a,#c63d4d,#d24644,#d34743,#d04545,#d34743,#db503b,#ea632a,#f2741c,#f8890c,#fb9b06,#fca50a,#fca50a,#fb9b06,#f3761b,#dd513a,#c83f4b,#b63458,#ab2f5e,#ab2f5e,#ab2f5e,#ae305c,#b43359,#ba3655,#c03a51,#c73e4c,#cf4446,#d74b3f,#db503b,#dd513a,#de5238,#e55c30,#f47918,#fcac11,#f8850f,#f98c0a,#fcac11,#f98b0b,#f68013,#f37819,#ee6a24,#eb6429,#ee6a24,#f47918,#f8850f,#f98c0a,#fa9407,#fcaa0f,#fca50a,#fa9407,#fa9207,#fb9706,#fcac11,#fc9f07,#fa9207,#fa9207,#fb9b06,#fcae12,#fb9906,#f98e09,#f98c0a,#fb9706,#fb9b06,#f57b17,#ee6a24,#e75e2e,#de5238,#d74b3f,#d24644,#d04545,#d84c3e,#e25734,#ec6726,#f57d15,#fa9407,#fca80d,#fbb81d,#fac026,#fac026,#fbbc21,#fcae12,#fc9f07,#f98b0b,#ef6e21,#e45a31,#da4e3c,#d24644,#ca404a,#b93556,#8f2469,#781c6d,#64156e,#4f0d6c,#390963,#240c4f,#120a32,#07051b)"></div><div class="hc" style="left:77px;top:22px;width:2px;height:201px;background:linear-gradient(#4a0c6b,#4d0d6c,#510e6c,#540f6d,#57106e,#5c126e,#65156e,#71196e,#7a1d6d,#87216b,#972766,#a82e5f,#ae305c,#ae305c,#ae305c,#ae305c,#a92e5e,#a62d60,#ad305d,#bc3754,#d04545,#e15635,#e75e2e,#e35933,#d34743,#ba3655,#a22b62,#902568,#84206b,#7d1e6d,#781c6d,#771c6d,#751b6e,#751b6e,#7a1d6d,#801f6c,#8c2369,#9b2964,#b0315b,#c43c4e,#d04545,#d34743,#d24644,#d34743,#da4e3c,#e9612b,#f1731d,#f8890c,#fb9b06,#fca50a,#fca50a,#fb9b06,#f3761b,#dd513a,#c83f4b,#b63458,#ab2f5e,#ab2f5e,#ab2f5e,#ae305c,#b43359,#ba3655,#c03a51,#c73e4c,#cf4446,#d74b3f,#db503b,#dd513a,#de5238,#e45a31,#f57b17,#fcae12,#f8850f,#f98e09,#fcac11,#f98b0b,#f68013,#f3761b,#ec6726,#e9612b,#ec6726,#f3761b,#f8850f,#f98c0a,#fa9407,#fcaa0f,#fca50a,#fa9407,#fa9207,#fb9906,#fcae12,#fc9f07,#fa9207,#fa9207,#fb9d07,#fcae12,#fb9906,#f98e09,#f98c0a,#fb9706,#fb9d07,#f57d15,#ef6e21,#e8602d,#e05536,#d94d3d,#d44842,#d34743,#da4e3c,#e35933,#ee6a24,#f67e14,#fb9606,#fcaa0f,#fbb81d,#fac026,#fac026,#fbbc21,#fcae12,#fc9f07,#f98b0b,#ef6e21,#e45a31,#da4e3c,#d24644,#ca404a,#c03a51,#9b2964,#7d1e6d,#67166e,#520e6d,#3d0965,#260c51,#140b34,#07051b)"></div><div class="hc" style="left:79px;top:22px;width:2px;height:201px;background:linear-gradient(#4a0c6b,#4d0d6c,#510e6c,#540f6d,#57106e,#5c126e,#65156e,#71196e,#7a1d6d,#87216b,#972766,#a82e5f,#ae305c,#ae305c,#ae305c,#ae305c,#a92e5e,#a62d60,#ab2f5e,#b93556,#cf4446,#e05536,#e75e2e,#e35933,#d44842,#bd3853,#a32c61,#902568,#84206b,#7d1e6d,#781c6d,#771c6d,#751b6e,#751b6e,#781c6d,#801f6c,#8c2369,#9a2865,#ad305d,#c33b4f,#d04545,#d34743,#d24644,#d34743,#da4e3c,#e8602d,#f1731d,#f8870e,#fb9b06,#fca50a,#fca50a,#fb9b06,#f3761b,#dd513a,#c83f4b,#b63458,#ab2f5e,#ab2f5e,#ab2f5e,#ae305c,#b43359,#ba3655,#c03a51,#c73e4c,#cf4446,#d74b3f,#db503b,#dd513a,#de5238,#e45a31,#f57d15,#fcae12,#f8850f,#fa9008,#fcac11,#f98b0b,#f68013,#f2741c,#eb6628,#e75e2e,#eb6429,#f2741c,#f78410,#f98c0a,#fa9407,#fcaa0f,#fca309,#fa9407,#fa9207,#fb9906,#fcae12,#fc9f07,#fa9207,#fa9207,#fb9d07,#fcae12,#fb9906,#f98e09,#f98c0a,#fb9906,#fb9d07,#f57d15,#f06f20,#ea632a,#e25734,#db503b,#d74b3f,#d74b3f,#dd513a,#e55c30,#ef6c23,#f68013,#fb9706,#fcaa0f,#fbb81d,#fac026,#fac026,#fbbc21,#fcae12,#fc9f07,#f98b0b,#ef6e21,#e45a31,#da4e3c,#d24644,#ca404a,#c33b4f,#a92e5e,#84206b,#6d186e,#550f6d,#400a67,#280b53,#140b34,#07051b)"></div><div class="hc" style="left:81px;top:22px;width:2px;height:201px;background:linear-gradient(#4a0c6b,#4d0d6c,#510e6c,#540f6d,#57106e,#5c126e,#65156e,#71196e,#7a1d6d,#87216b,#972766,#a82e5f,#b0315b,#ae305c,#ae305c,#ae305c,#a92e5e,#a62d60,#a92e5e,#b73557,#ce4347,#df5337,#e75e2e,#e45a31,#d54a41,#bf3952,#a52c60,#922568,#85216b,#7d1e6d,#781c6d,#771c6d,#751b6e,#751b6e,#781c6d,#801f6c,#8a226a,#9a2865,#ad305d,#c13a50,#cf4446,#d34743,#d24644,#d34743,#da4e3c,#e8602d,#f1711f,#f8870e,#fb9b06,#fca50a,#fca50a,#fb9b06,#f3761b,#dd513a,#c83f4b,#b63458,#ab2f5e,#ab2f5e,#ab2f5e,#ae305c,#b43359,#ba3655,#c03a51,#c73e4c,#cf4446,#d74b3f,#db503b,#dd513a,#de5238,#e45a31,#f57d15,#fcac11,#f78410,#fa9008,#fcaa0f,#f8890c,#f68013,#f2741c,#ea632a,#e55c30,#e9612b,#f1731d,#f78212,#f98c0a,#fa9407,#fcaa0f,#fca309,#fa9407,#fa9207,#fb9906,#fcae12,#fb9d07,#fa9207,#fa9207,#fb9d07,#fcae12,#fb9706,#f98e09,#f98c0a,#fb9906,#fb9d07,#f67e14,#f1711f,#eb6429,#e45a31,#de5238,#da4e3c,#d94d3d,#de5238,#e75e2e,#ef6e21,#f78212,#fb9706,#fcac11,#fbba1f,#fac026,#fac026,#fbbc21,#fcae12,#fc9f07,#f98b0b,#ef6e21,#e45a31,#da4e3c,#d24644,#ca404a,#c33b4f,#b63458,#8c2369,#721a6e,#5a116e,#420a68,#290b55,#150b37,#07051b)"></div><div class="hc" style="left:83px;top:22px;width:2px;height:201px;background:linear-gradient(#4a0c6b,#4d0d6c,#510e6c,#540f6d,#57106e,#5c126e,#65156e,#71196e,#7a1d6d,#85216b,#972766,#a82e5f,#b0315b,#ae305c,#ae305c,#ae305c,#a92e5e,#a62d60,#a92e5e,#b73557,#cc4248,#de5238,#e75e2e,#e45a31,#d74b3f,#c03a51,#a62d60,#932667,#85216b,#7d1e6d,#781c6d,#771c6d,#751b6e,#751b6e,#781c6d,#801f6c,#8a226a,#982766,#ab2f5e,#c13a50,#cf4446,#d34743,#d24644,#d34743,#da4e3c,#e75e2e,#f1711f,#f8870e,#fb9b06,#fca50a,#fca50a,#fb9b06,#f3761b,#dd513a,#c83f4b,#b63458,#ab2f5e,#ab2f5e,#ab2f5e,#ae305c,#b43359,#ba3655,#c03a51,#c73e4c,#cf4446,#d74b3f,#db503b,#dd513a,#de5238,#e45a31,#f67e14,#fcae12,#f78410,#fa9207,#fcac11,#f8890c,#f67e14,#f1731d,#e9612b,#e35933,#e75e2e,#f06f20,#f78212,#f98c0a,#fa9407,#fcac11,#fca309,#fa9407,#fa9207,#fb9906,#fcae12,#fb9d07,#fa9207,#fa9207,#fc9f07,#fcae12,#fb9706,#f98e09,#f98e09,#fb9b06,#fc9f07,#f68013,#f1731d,#ec6726,#e65d2f,#e05536,#dd513a,#da4e3c,#e05536,#e8602d,#f1711f,#f78410,#fb9906,#fcac11,#fbba1f,#fac026,#fac228,#fbbc21,#fcb014,#fc9f07,#f98b0b,#ef6e21,#e45a31,#da4e3c,#d24644,#ca404a,#c33b4f,#bc3754,#9a2865,#781c6d,#5f136e,#470b6a,#2d0b59,#160b39,#07051b)"></div><div class="hc" style="left:85px;top:22px;width:2px;height:201px;background:linear-gradient(#4a0c6b,#4d0d6c,#510e6c,#540f6d,#57106e,#5c126e,#65156e,#71196e,#7a1d6d,#85216b,#972766,#a82e5f,#b0315b,#ae305c,#ae305c,#ae305c,#a92e5e,#a52c60,#a82e5f,#b63458,#cb4149,#de5238,#e75e2e,#e55c30,#d84c3e,#c13a50,#a82e5f,#932667,#87216b,#7d1e6d,#7a1d6d,#771c6d,#751b6e,#751b6e,#781c6d,#801f6c,#8a226a,#982766,#ab2f5e,#c13a50,#cf4446,#d34743,#d24644,#d34743,#d94d3d,#e75e2e,#f1711f,#f8870e,#fb9b06,#fca50a,#fca50a,#fb9b06,#f3761b,#dd513a,#c83f4b,#b63458,#ab2f5e,#ab2f5e,#ab2f5e,#ae305c,#b43359,#ba3655,#c03a51,#c73e4c,#cf4446,#d54a41,#db503b,#dd513a,#de5238,#e45a31,#f67e14,#fcae12,#f78410,#fa9207,#fcaa0f,#f8890c,#f67e14,#f1711f,#e8602d,#e15635,#e55c30,#ef6e21,#f68013,#f98b0b,#fa9407,#fcac11,#fca309,#fa9407,#fa9207,#fb9906,#fcae12,#fb9d07,#fa9207,#fa9207,#fc9f07,#fcae12,#fb9706,#fa9008,#f98e09,#fb9b06,#fc9f07,#f68013,#f2741c,#ed6925,#e8602d,#e25734,#df5337,#dd513a,#e25734,#ea632a,#f1731d,#f8850f,#fb9b06,#fcac11,#fbba1f,#fac026,#fac228,#fbbc21,#fcae12,#fc9f07,#f98b0b,#ef6e21,#e45a31,#da4e3c,#d24644,#ca404a,#c33b4f,#bd3853,#a82e5f,#7f1e6c,#64156e,#4a0c6b,#2f0a5b,#160b39,#07051b)"></div><div class="hc" style="left:87px;top:22px;width:2px;height:201px;background:linear-gradient(#4a0c6b,#4d0d6c,#510e6c,#540f6d,#57106e,#5c126e,#65156e,#71196e,#7a1d6d,#85216b,#972766,#a82e5f,#b0315b,#ae305c,#ae305c,#ae305c,#a92e5e,#a52c60,#a82e5f,#b43359,#ca404a,#dd513a,#e65d2f,#e55c30,#d94d3d,#c33b4f,#a92e5e,#952667,#87216b,#7f1e6c,#7a1d6d,#771c6d,#751b6e,#751b6e,#781c6d,#7f1e6c,#8a226a,#982766,#a92e5e,#c03a51,#cf4446,#d34743,#d24644,#d34743,#d94d3d,#e75e2e,#f1711f,#f8870e,#fb9b06,#fca50a,#fca50a,#fb9b06,#f2741c,#dd513a,#c83f4b,#b63458,#ab2f5e,#ab2f5e,#ab2f5e,#ae305c,#b43359,#ba3655,#c03a51,#c73e4c,#cf4446,#d54a41,#db503b,#dd513a,#de5238,#e45a31,#f68013,#fcae12,#f78410,#fa9207,#fcaa0f,#f8890c,#f67e14,#f1711f,#e65d2f,#df5337,#e45a31,#ef6c23,#f67e14,#f98b0b,#fa9407,#fcac11,#fca309,#fa9407,#fa9207,#fb9906,#fcae12,#fb9d07,#fa9207,#fa9207,#fc9f07,#fcae12,#fb9706,#fa9008,#f98e09,#fb9d07,#fc9f07,#f78212,#f3761b,#ef6c23,#e9612b,#e45a31,#e15635,#df5337,#e45a31,#eb6628,#f2741c,#f8870e,#fb9b06,#fcae12,#fbba1f,#fac026,#fac228,#fbbc21,#fcb014,#fc9f07,#f98b0b,#ef6e21,#e45a31,#da4e3c,#d24644,#ca404a,#c33b4f,#bd3853,#b1325a,#88226a,#6a176e,#4d0d6c,#320a5e,#180c3c,#07051b)"></div><div class="hc" style="left:89px;top:22px;width:2px;height:201px;background:linear-gradient(#4a0c6b,#4d0d6c,#510e6c,#540f6d,#57106e,#5c126e,#65156e,#71196e,#7a1d6d,#85216b,#972766,#a82e5f,#b0315b,#ae305c,#ae305c,#ae305c,#a92e5e,#a52c60,#a62d60,#b3325a,#c83f4b,#db503b,#e65d2f,#e65d2f,#da4e3c,#c43c4e,#ab2f5e,#952667,#87216b,#7f1e6c,#7a1d6d,#771c6d,#751b6e,#751b6e,#781c6d,#7f1e6c,#88226a,#972766,#a92e5e,#c03a51,#ce4347,#d34743,#d24644,#d34743,#d94d3d,#e65d2f,#f06f20,#f8870e,#fb9b06,#fca50a,#fca50a,#fb9b06,#f2741c,#dd513a,#c83f4b,#b63458,#ab2f5e,#ab2f5e,#ab2f5e,#ae305c,#b43359,#ba3655,#c03a51,#c73e4c,#cf4446,#d54a41,#db503b,#dd513a,#de5238,#e45a31,#f68013,#fcae12,#f78212,#fa9407,#fcaa0f,#f8870e,#f67e14,#f06f20,#e55c30,#dd513a,#e25734,#ed6925,#f67e14,#f98b0b,#fa9407,#fcac11,#fca108,#fa9407,#fa9207,#fb9b06,#fcae12,#fb9d07,#fa9207,#fa9207,#fc9f07,#fcae12,#fb9706,#fa9008,#f98e09,#fc9f07,#fca108,#f78212,#f37819,#ef6e21,#eb6429,#e65d2f,#e25734,#e15635,#e55c30,#ec6726,#f37819,#f8890c,#fb9d07,#fcae12,#fbbc21,#fac026,#fac228,#fbbc21,#fcb014,#fc9f07,#f98b0b,#ef6e21,#e45a31,#da4e3c,#d24644,#ca404a,#c33b4f,#bd3853,#b63458,#972766,#6f196e,#520e6d,#360961,#190c3e,#07051b)"></div><div class="hc" style="left:91px;top:22px;width:2px;height:201px;background:linear-gradient(#4a0c6b,#4d0d6c,#510e6c,#540f6d,#57106e,#5c126e,#65156e,#6f196e,#7a1d6d,#85216b,#972766,#a82e5f,#b0315b,#ae305c,#ae305c,#ae305c,#a92e5e,#a52c60,#a62d60,#b1325a,#c73e4c,#da4e3c,#e65d2f,#e65d2f,#db503b,#c63d4d,#ad305d,#972766,#88226a,#7f1e6c,#7a1d6d,#771c6d,#751b6e,#751b6e,#781c6d,#7f1e6c,#88226a,#972766,#a92e5e,#bf3952,#ce4347,#d34743,#d24644,#d34743,#d94d3d,#e65d2f,#f06f20,#f8850f,#fb9906,#fca50a,#fca50a,#fb9906,#f2741c,#dd513a,#c83f4b,#b63458,#ab2f5e,#ab2f5e,#ab2f5e,#ae305c,#b43359,#ba3655,#c03a51,#c73e4c,#cf4446,#d54a41,#db503b,#dd513a,#de5238,#e45a31,#f68013,#fcac11,#f78212,#fa9407,#fca80d,#f8870e,#f57d15,#ef6e21,#e35933,#da4e3c,#e05536,#ec6726,#f57d15,#f98b0b,#fa9407,#fcac11,#fca108,#fa9407,#fa9207,#fb9b06,#fcae12,#fb9b06,#fa9207,#fa9207,#fc9f07,#fcac11,#fb9706,#fa9008,#f98e09,#fc9f07,#fc9f07,#f78410,#f47918,#f06f20,#eb6628,#e8602d,#e45a31,#e35933,#e75e2e,#ed6925,#f47918,#f98b0b,#fc9f07,#fcb014,#fbbc21,#fac228,#fac228,#fbbc21,#fcae12,#fc9f07,#f98b0b,#ef6e21,#e45a31,#da4e3c,#d24644,#ca404a,#c33b4f,#bd3853,#b73557,#a32c61,#751b6e,#57106e,#380962,#1b0c41,#07051b)"></div><div class="hc" style="left:93px;top:22px;width:2px;height:201px;background:linear-gradient(#4a0c6b,#4d0d6c,#510e6c,#540f6d,#57106e,#5c126e,#65156e,#6f196e,#7a1d6d,#85216b,#972766,#a82e5f,#b0315b,#ae305c,#ae305c,#ae305c,#a92e5e,#a32c61,#a62d60,#b1325a,#c63d4d,#da4e3c,#e55c30,#e65d2f,#db503b,#c73e4c,#ad305d,#972766,#88226a,#7f1e6c,#7a1d6d,#771c6d,#751b6e,#751b6e,#781c6d,#7f1e6c,#88226a,#972766,#a82e5f,#bf3952,#ce4347,#d34743,#d24644,#d34743,#d94d3d,#e65d2f,#f06f20,#f8850f,#fb9b06,#fca50a,#fca50a,#fb9b06,#f2741c,#dd513a,#c83f4b,#b63458,#ab2f5e,#ab2f5e,#ab2f5e,#ae305c,#b43359,#ba3655,#c03a51,#c73e4c,#cf4446,#d54a41,#db503b,#dd513a,#de5238,#e45a31,#f78212,#fcae12,#f78212,#fa9407,#fcaa0f,#f8870e,#f57d15,#ef6e21,#e25734,#d84c3e,#de5238,#eb6628,#f57b17,#f8890c,#fa9407,#fcac11,#fca108,#fa9407,#fa9207,#fb9b06,#fcae12,#fb9b06,#fa9207,#fa9207,#fc9f07,#fcae12,#fb9706,#fa9008,#f98e09,#fc9f07,#fca108,#f78410,#f57b17,#f1731d,#ed6925,#e9612b,#e65d2f,#e45a31,#e8602d,#ef6c23,#f57b17,#f98c0a,#fc9f07,#fcb014,#fbbc21,#fac228,#fac228,#fbbc21,#fcb014,#fc9f07,#f98b0b,#ef6e21,#e45a31,#da4e3c,#d24644,#ca404a,#c33b4f,#bd3853,#b73557,#ab2f5e,#7f1e6c,#5c126e,#3b0964,#1c0c43,#07051b)"></div><div class="hc" style="left:95px;top:22px;width:2px;height:201px;background:linear-gradient(#4a0c6b,#4d0d6c,#510e6c,#540f6d,#57106e,#5c126e,#65156e,#6f196e,#7a1d6d,#85216b,#972766,#a82e5f,#b0315b,#ae305c,#ae305c,#ae305c,#a92e5e,#a32c61,#a52c60,#b0315b,#c43c4e,#d94d3d,#e55c30,#e65d2f,#dd513a,#c83f4b,#ae305c,#982766,#88226a,#801f6c,#7a1d6d,#771c6d,#751b6e,#751b6e,#781c6d,#7f1e6c,#88226a,#952667,#a82e5f,#bf3952,#ce4347,#d34743,#d34743,#d34743,#d94d3d,#e65d2f,#f06f20,#f8850f,#fb9906,#fca50a,#fca50a,#fb9906,#f2741c,#dd513a,#c83f4b,#b63458,#ab2f5e,#ab2f5e,#ab2f5e,#ae305c,#b43359,#ba3655,#c03a51,#c73e4c,#ce4347,#d54a41,#db503b,#dd513a,#de5238,#e45a31,#f78212,#fcac11,#f78212,#fa9407,#fcaa0f,#f8870e,#f57d15,#ef6c23,#e15635,#d54a41,#db503b,#ea632a,#f57b17,#f8890c,#fa9407,#fcac11,#fca108,#fa9407,#fa9207,#fb9b06,#fcae12,#fb9b06,#fa9207,#fa9207,#fca108,#fcae12,#fb9706,#fa9008,#f98e09,#fca108,#fca108,#f8850f,#f57d15,#f2741c,#ee6a24,#eb6429,#e75e2e,#e65d2f,#ea632a,#ef6e21,#f57d15,#f98e09,#fca108,#fcb014,#fbbc21,#fac228,#fac228,#fbbc21,#fcb014,#fc9f07,#f98b0b,#ef6e21,#e45a31,#da4e3c,#d24644,#ca404a,#c33b4f,#bd3853,#b73557,#b0315b,#8c2369,#61136e,#400a67,#1e0c45,#07051b)"></div><div class="hc" style="left:97px;top:22px;width:2px;height:201px;background:linear-gradient(#4a0c6b,#4d0d6c,#510e6c,#540f6d,#57106e,#5c126e,#65156e,#6f196e,#7a1d6d,#85216b,#972766,#a82e5f,#b0315b,#ae305c,#ae305c,#ae305c,#a82e5f,#a32c61,#a52c60,#ae305c,#c33b4f,#d84c3e,#e55c30,#e75e2e,#de5238,#ca404a,#b0315b,#9a2865,#8a226a,#801f6c,#7a1d6d,#771c6d,#751b6e,#751b6e,#781c6d,#7f1e6c,#88226a,#952667,#a82e5f,#bf3952,#ce4347,#d34743,#d34743,#d34743,#d94d3d,#e65d2f,#f06f20,#f8850f,#fb9906,#fca50a,#fca50a,#fb9906,#f2741c,#dd513a,#c83f4b,#b63458,#ab2f5e,#ab2f5e,#ab2f5e,#ae305c,#b43359,#ba3655,#c03a51,#c73e4c,#ce4347,#d54a41,#db503b,#dd513a,#de5238,#e45a31,#f78212,#fcac11,#f68013,#fa9407,#fca80d,#f8870e,#f57d15,#ee6a24,#df5337,#d44842,#d94d3d,#e9612b,#f47918,#f8890c,#fa9407,#fcac11,#fca108,#fa9207,#fa9207,#fb9b06,#fcae12,#fb9b06,#fa9207,#fa9207,#fc9f07,#fcac11,#fb9706,#fa9008,#fa9008,#fca108,#fca108,#f8850f,#f57d15,#f3761b,#ef6e21,#eb6628,#e9612b,#e75e2e,#eb6429,#f06f20,#f67e14,#f98e09,#fca108,#fcb216,#fbbc21,#fac228,#fac228,#fbbc21,#fcb014,#fc9f07,#f98b0b,#ef6e21,#e45a31,#da4e3c,#d24644,#ca404a,#c33b4f,#bd3853,#b73557,#b1325a,#9a2865,#67166e,#440a68,#1f0c48,#07051b)"></div><div class="hc" style="left:99px;top:22px;width:2px;height:201px;background:linear-gradient(#4a0c6b,#4d0d6c,#510e6c,#540f6d,#57106e,#5c126e,#65156e,#6f196e,#7a1d6d,#85216b,#972766,#a82e5f,#b0315b,#ae305c,#ae305c,#ae305c,#a82e5f,#a32c61,#a32c61,#ae305c,#c13a50,#d74b3f,#e45a31,#e75e2e,#df5337,#cb4149,#b1325a,#9a2865,#8a226a,#801f6c,#7c1d6d,#781c6d,#751b6e,#751b6e,#781c6d,#7f1e6c,#88226a,#952667,#a62d60,#bd3853,#ce4347,#d34743,#d34743,#d34743,#d84c3e,#e55c30,#ef6e21,#f8850f,#fb9906,#fca50a,#fca50a,#fb9906,#f2741c,#dd513a,#c83f4b,#b63458,#ab2f5e,#ab2f5e,#ab2f5e,#ae305c,#b43359,#ba3655,#c03a51,#c73e4c,#ce4347,#d54a41,#db503b,#dd513a,#de5238,#e45a31,#f78410,#fcae12,#f68013,#fb9606,#fcaa0f,#f8870e,#f57b17,#ee6a24,#de5238,#d24644,#d74b3f,#e8602d,#f37819,#f8890c,#fa9407,#fcac11,#fca108,#fa9207,#fa9207,#fb9b06,#fcae12,#fb9b06,#fa9207,#fa9407,#fca108,#fcae12,#fb9706,#fa9008,#fa9008,#fca108,#fca309,#f8870e,#f67e14,#f37819,#f06f20,#ec6726,#ea632a,#e8602d,#eb6628,#f1711f,#f68013,#fa9008,#fca309,#fcb216,#fbbc21,#fac228,#fac228,#fbbc21,#fcb014,#fc9f07,#f98b0b,#ef6e21,#e45a31,#da4e3c,#d24644,#ca404a,#c33b4f,#bd3853,#b73557,#b1325a,#a32c61,#6f196e,#490b6a,#210c4a,#07051b)"></div><div class="hc" style="left:101px;top:22px;width:2px;height:201px;background:linear-gradient(#4a0c6b,#4d0d6c,#510e6c,#540f6d,#57106e,#5c126e,#65156e,#6f196e,#7a1d6d,#85216b,#972766,#a82e5f,#b0315b,#ae305c,#ae305c,#ae305c,#a82e5f,#a32c61,#a32c61,#ad305d,#c03a51,#d54a41,#e45a31,#e75e2e,#df5337,#cc4248,#b3325a,#9b2964,#8c2369,#801f6c,#7c1d6d,#781c6d,#771c6d,#751b6e,#781c6d,#7f1e6c,#88226a,#952667,#a62d60,#bd3853,#cc4248,#d34743,#d34743,#d34743,#d84c3e,#e55c30,#ef6e21,#f8850f,#fb9906,#fca50a,#fca50a,#fb9906,#f2741c,#dd513a,#c83f4b,#b63458,#ab2f5e,#ab2f5e,#ab2f5e,#ae305c,#b43359,#ba3655,#c03a51,#c73e4c,#ce4347,#d54a41,#db503b,#dd513a,#de5238,#e45a31,#f78410,#fcac11,#f68013,#fb9606,#fca80d,#f8850f,#f57b17,#ed6925,#dd513a,#cf4446,#d44842,#e65d2f,#f37819,#f8890c,#fa9407,#fcac11,#fc9f07,#fa9207,#fa9207,#fb9b06,#fcae12,#fb9b06,#fa9207,#fa9407,#fca108,#fcac11,#fb9706,#fa9008,#fa9008,#fca309,#fca309,#f8870e,#f68013,#f47918,#f1711f,#ee6a24,#eb6429,#e9612b,#ec6726,#f1731d,#f68013,#fa9207,#fca309,#fcb216,#fbbe23,#fac228,#fac228,#fbbc21,#fcb014,#fc9f07,#f98b0b,#ef6e21,#e45a31,#da4e3c,#d24644,#ca404a,#c33b4f,#bd3853,#b73557,#b1325a,#a92e5e,#7d1e6d,#4d0d6c,#240c4f,#07051b)"></div><div class="hc" style="left:103px;top:22px;width:2px;height:201px;background:linear-gradient(#4a0c6b,#4d0d6c,#510e6c,#540f6d,#57106e,#5c126e,#65156e,#6f196e,#7a1d6d,#85216b,#972766,#a82e5f,#b0315b,#ae305c,#ae305c,#ae305c,#a82e5f,#a32c61,#a22b62,#ab2f5e,#bf3952,#d44842,#e35933,#e75e2e,#e05536,#ce4347,#b43359,#9d2964,#8c2369,#82206c,#7c1d6d,#781c6d,#771c6d,#751b6e,#781c6d,#7f1e6c,#88226a,#952667,#a62d60,#bd3853,#cc4248,#d34743,#d34743,#d34743,#d84c3e,#e55c30,#ef6e21,#f8850f,#fb9906,#fca50a,#fca50a,#fb9906,#f2741c,#dd513a,#c83f4b,#b63458,#ab2f5e,#ab2f5e,#ab2f5e,#ae305c,#b43359,#ba3655,#c03a51,#c73e4c,#ce4347,#d54a41,#da4e3c,#dd513a,#de5238,#e45a31,#f78410,#fcac11,#f68013,#fb9606,#fca80d,#f8850f,#f57b17,#ed6925,#db503b,#ce4347,#d34743,#e65d2f,#f3761b,#f8870e,#fa9407,#fcac11,#fc9f07,#fa9207,#fa9207,#fb9b06,#fcae12,#fb9b06,#fa9207,#fa9407,#fca108,#fcac11,#fb9706,#fa9008,#fa9008,#fca309,#fca309,#f8890c,#f68013,#f47918,#f1731d,#ef6c23,#eb6628,#ea632a,#ed6925,#f2741c,#f78212,#fa9207,#fca309,#fcb216,#fbbe23,#fac228,#fac228,#fbbc21,#fcb014,#fc9f07,#f98b0b,#ef6e21,#e45a31,#da4e3c,#d24644,#ca404a,#c33b4f,#bd3853,#b73557,#b1325a,#ab2f5e,#8d2369,#540f6d,#260c51,#07051b)"></div><div class="hc" style="left:105px;top:22px;width:2px;height:201px;background:linear-gradient(#4a0c6b,#4d0d6c,#510e6c,#540f6d,#57106e,#5c126e,#65156e,#6f196e,#7a1d6d,#85216b,#972766,#a82e5f,#b0315b,#ae305c,#ae305c,#ae305c,#a82e5f,#a22b62,#a22b62,#a92e5e,#bd3853,#d34743,#e25734,#e75e2e,#e15635,#cf4446,#b73557,#9f2a63,#8d2369,#82206c,#7c1d6d,#781c6d,#771c6d,#751b6e,#781c6d,#7f1e6c,#88226a,#952667,#a62d60,#bd3853,#cc4248,#d34743,#d34743,#d34743,#d84c3e,#e55c30,#ef6e21,#f8850f,#fb9906,#fca50a,#fca50a,#fb9906,#f2741c,#dd513a,#c83f4b,#b63458,#ab2f5e,#ab2f5e,#ab2f5e,#ae305c,#b43359,#ba3655,#c03a51,#c73e4c,#ce4347,#d54a41,#da4e3c,#dd513a,#de5238,#e45a31,#f8850f,#fcac11,#f68013,#fb9606,#fca80d,#f8850f,#f57b17,#ed6925,#db503b,#ce4347,#d34743,#e65d2f,#f3761b,#f8870e,#fa9407,#fcae12,#fc9f07,#fa9207,#fa9207,#fb9b06,#fcae12,#fb9b06,#fa9207,#fa9407,#fca108,#fcac11,#fb9706,#fa9008,#fa9008,#fca309,#fca50a,#f8890c,#f78212,#f57b17,#f2741c,#ef6e21,#ed6925,#eb6429,#ee6a24,#f3761b,#f78410,#fa9407,#fca50a,#fcb418,#fbbe23,#fac228,#fac228,#fbbc21,#fcb014,#fc9f07,#f98b0b,#ef6e21,#e45a31,#da4e3c,#d24644,#ca404a,#c33b4f,#bd3853,#b73557,#b1325a,#ab2f5e,#9a2865,#5c126e,#290b55,#07051b)"></div><div class="hc" style="left:107px;top:22px;width:2px;height:201px;background:linear-gradient(#4a0c6b,#4d0d6c,#510e6c,#540f6d,#57106e,#5c126e,#65156e,#6f196e,#7a1d6d,#85216b,#972766,#a82e5f,#b0315b,#ae305c,#ae305c,#ae305c,#a82e5f,#a22b62,#a02a63,#a82e5f,#bc3754,#d24644,#e15635,#e75e2e,#e25734,#d24644,#b93556,#a02a63,#8f2469,#82206c,#7c1d6d,#781c6d,#771c6d,#751b6e,#781c6d,#7f1e6c,#88226a,#952667,#a62d60,#bd3853,#cc4248,#d34743,#d34743,#d34743,#d84c3e,#e55c30,#ef6e21,#f8850f,#fb9906,#fca50a,#fca309,#fb9906,#f2741c,#dd513a,#c83f4b,#b63458,#ab2f5e,#ab2f5e,#ab2f5e,#ae305c,#b43359,#ba3655,#c03a51,#c73e4c,#ce4347,#d54a41,#da4e3c,#dd513a,#de5238,#e45a31,#f78410,#fcaa0f,#f68013,#fb9606,#fca80d,#f8850f,#f57b17,#ed6925,#db503b,#ce4347,#d34743,#e65d2f,#f3761b,#f8870e,#fa9407,#fcac11,#fc9f07,#fa9207,#fa9207,#fb9b06,#fcae12,#fb9b06,#fa9207,#fa9407,#fca108,#fcac11,#fb9606,#fa9008,#fa9008,#fca309,#fca309,#f8890c,#f78212,#f57d15,#f3761b,#f06f20,#ed6925,#eb6628,#ef6c23,#f37819,#f78410,#fa9407,#fca50a,#fcb418,#fbbe23,#fac228,#fac228,#fbbc21,#fcb014,#fc9f07,#f98b0b,#ef6e21,#e45a31,#da4e3c,#d24644,#ca404a,#c33b4f,#bd3853,#b73557,#b1325a,#ab2f5e,#a22b62,#6a176e,#2f0a5b,#07051b)"></div><div class="hc" style="left:109px;top:22px;width:2px;height:201px;background:linear-gradient(#4a0c6b,#4d0d6c,#510e6c,#540f6d,#57106e,#5c126e,#65156e,#6f196e,#7a1d6d,#85216b,#972766,#a82e5f,#b0315b,#ae305c,#ae305c,#ae305c,#a82e5f,#a22b62,#a02a63,#a62d60,#b93556,#cf4446,#e15635,#e75e2e,#e35933,#d34743,#bc3754,#a22b62,#8f2469,#84206b,#7d1e6d,#781c6d,#771c6d,#751b6e,#781c6d,#7f1e6c,#88226a,#952667,#a62d60,#bd3853,#cc4248,#d34743,#d34743,#d34743,#d84c3e,#e55c30,#ef6e21,#f8850f,#fb9906,#fca50a,#fca50a,#fb9906,#f2741c,#dd513a,#c83f4b,#b63458,#ab2f5e,#ab2f5e,#ab2f5e,#ae305c,#b43359,#ba3655,#c03a51,#c73e4c,#ce4347,#d54a41,#da4e3c,#dd513a,#de5238,#e45a31,#f8850f,#fcac11,#f68013,#fb9706,#fca80d,#f8850f,#f57b17,#ed6925,#db503b,#ce4347,#d34743,#e55c30,#f3761b,#f8870e,#fb9606,#fcae12,#fc9f07,#fa9207,#fa9207,#fb9b06,#fcae12,#fb9b06,#fa9207,#fa9407,#fca108,#fcac11,#fb9706,#fa9008,#fa9008,#fca309,#fca50a,#f98b0b,#f78410,#f57d15,#f3761b,#f06f20,#ee6a24,#ec6726,#ef6e21,#f37819,#f8850f,#fb9606,#fca50a,#fcb418,#fbbe23,#fac228,#fac228,#fbbc21,#fcb014,#fc9f07,#f98b0b,#ef6e21,#e45a31,#da4e3c,#d24644,#ca404a,#c33b4f,#bd3853,#b73557,#b1325a,#ab2f5e,#a52c60,#7f1e6c,#340a5f,#07051b)"></div><div class="hc" style="left:111px;top:22px;width:2px;height:201px;background:linear-gradient(#4a0c6b,#4d0d6c,#510e6c,#540f6d,#57106e,#5c126e,#65156e,#6f196e,#7a1d6d,#85216b,#972766,#a82e5f,#b0315b,#b0315b,#ae305c,#ae305c,#a82e5f,#a22b62,#9f2a63,#a52c60,#b73557,#ce4347,#df5337,#e75e2e,#e45a31,#d54a41,#bd3853,#a52c60,#902568,#85216b,#7d1e6d,#781c6d,#771c6d,#771c6d,#781c6d,#7f1e6c,#88226a,#952667,#a62d60,#bd3853,#cc4248,#d34743,#d34743,#d34743,#d84c3e,#e55c30,#ef6e21,#f8850f,#fb9906,#fca50a,#fca50a,#fb9906,#f2741c,#dd513a,#c83f4b,#b63458,#ab2f5e,#ab2f5e,#ab2f5e,#ae305c,#b43359,#ba3655,#c03a51,#c73e4c,#ce4347,#d54a41,#da4e3c,#dd513a,#de5238,#e45a31,#f8850f,#fcac11,#f68013,#fb9706,#fca80d,#f8850f,#f57b17,#ed6925,#db503b,#ce4347,#d34743,#e55c30,#f3761b,#f8870e,#fb9606,#fcac11,#fc9f07,#fa9207,#fa9207,#fb9b06,#fcae12,#fb9b06,#fa9207,#fa9407,#fca108,#fcac11,#fb9706,#fa9008,#fa9008,#fca50a,#fca50a,#f98b0b,#f78410,#f67e14,#f37819,#f1711f,#ef6c23,#ed6925,#ef6e21,#f47918,#f8850f,#fb9606,#fca60c,#fcb418,#fbbe23,#fac228,#fac228,#fbbc21,#fcb014,#fc9f07,#f98b0b,#ef6e21,#e45a31,#da4e3c,#d24644,#ca404a,#c33b4f,#bd3853,#b73557,#b1325a,#ab2f5e,#a52c60,#902568,#3b0964,#07051b)"></div><div class="hc" style="left:113px;top:22px;width:2px;height:201px;background:linear-gradient(#4a0c6b,#4d0d6c,#510e6c,#540f6d,#57106e,#5c126e,#65156e,#6f196e,#7a1d6d,#85216b,#972766,#a82e5f,#b0315b,#b0315b,#ae305c,#ae305c,#a82e5f,#a22b62,#9f2a63,#a32c61,#b63458,#cb4149,#de5238,#e75e2e,#e55c30,#d74b3f,#c03a51,#a62d60,#922568,#85216b,#7d1e6d,#7a1d6d,#771c6d,#771c6d,#781c6d,#7f1e6c,#88226a,#952667,#a62d60,#bd3853,#cc4248,#d34743,#d34743,#d34743,#d84c3e,#e55c30,#ef6e21,#f8850f,#fb9906,#fca50a,#fca309,#fb9906,#f2741c,#dd513a,#c83f4b,#b63458,#ab2f5e,#ab2f5e,#ab2f5e,#ae305c,#b43359,#ba3655,#c03a51,#c73e4c,#ce4347,#d54a41,#da4e3c,#dd513a,#de5238,#e45a31,#f78410,#fcaa0f,#f68013,#fb9606,#fca80d,#f8850f,#f57b17,#ed6925,#db503b,#ce4347,#d34743,#e55c30,#f3761b,#f8870e,#fa9407,#fcac11,#fc9f07,#fa9207,#fa9207,#fb9b06,#fcae12,#fb9b06,#fa9207,#fa9407,#fca108,#fcac11,#fb9706,#fa9008,#fa9008,#fca309,#fca50a,#f98b0b,#f8850f,#f68013,#f47918,#f1731d,#ef6e21,#ed6925,#f06f20,#f47918,#f8870e,#fb9606,#fca60c,#fcb418,#fbbe23,#fac228,#fac228,#fbbc21,#fcb014,#fc9f07,#f98b0b,#ef6e21,#e45a31,#da4e3c,#d24644,#ca404a,#c33b4f,#bd3853,#b73557,#b1325a,#ab2f5e,#a52c60,#9b2964,#4f0d6c,#07051b)"></div><div class="hc" style="left:115px;top:22px;width:2px;height:201px;background:linear-gradient(#4a0c6b,#4d0d6c,#510e6c,#540f6d,#57106e,#5c126e,#65156e,#6f196e,#7a1d6d,#85216b,#972766,#a82e5f,#b0315b,#b0315b,#ae305c,#ae305c,#a82e5f,#a02a63,#9d2964,#a22b62,#b3325a,#c83f4b,#dd513a,#e65d2f,#e55c30,#d94d3d,#c33b4f,#a92e5e,#932667,#87216b,#7f1e6c,#7a1d6d,#771c6d,#771c6d,#781c6d,#7f1e6c,#88226a,#952667,#a62d60,#bd3853,#cc4248,#d34743,#d34743,#d34743,#d84c3e,#e55c30,#ef6e21,#f8850f,#fb9906,#fca50a,#fca50a,#fb9906,#f2741c,#dd513a,#c83f4b,#b63458,#ab2f5e,#ab2f5e,#ab2f5e,#ae305c,#b43359,#ba3655,#c03a51,#c73e4c,#ce4347,#d54a41,#da4e3c,#dd513a,#de5238,#e45a31,#f8850f,#fcac11,#f68013,#fb9706,#fca80d,#f8850f,#f57b17,#ed6925,#db503b,#ce4347,#d34743,#e55c30,#f3761b,#f8870e,#fb9606,#fcae12,#fc9f07,#fa9207,#fa9207,#fb9b06,#fcae12,#fb9b06,#fa9207,#fa9407,#fca108,#fcac11,#fb9706,#fa9008,#fa9008,#fca50a,#fca50a,#f98b0b,#f8850f,#f68013,#f47918,#f1731d,#ef6e21,#ee6a24,#f1711f,#f57b17,#f8870e,#fb9706,#fca60c,#fcb418,#fbbe23,#fac228,#fac228,#fbbc21,#fcb014,#fc9f07,#f98b0b,#ef6e21,#e45a31,#da4e3c,#d24644,#ca404a,#c33b4f,#bd3853,#b73557,#b1325a,#ab2f5e,#a52c60,#9f2a63,#6a176e,#07051b)"></div><div class="hc" style="left:117px;top:22px;width:2px;height:201px;background:linear-gradient(#4a0c6b,#4d0d6c,#510e6c,#540f6d,#57106e,#5c126e,#65156e,#6f196e,#781c6d,#85216b,#972766,#a82e5f,#b0315b,#b0315b,#ae305c,#ae305c,#a82e5f,#a02a63,#9d2964,#a02a63,#b1325a,#c73e4c,#da4e3c,#e65d2f,#e65d2f,#da4e3c,#c63d4d,#ab2f5e,#972766,#88226a,#7f1e6c,#7a1d6d,#781c6d,#771c6d,#781c6d,#7f1e6c,#88226a,#952667,#a62d60,#bd3853,#cc4248,#d34743,#d34743,#d34743,#d84c3e,#e55c30,#ef6e21,#f8850f,#fb9906,#fca50a,#fca309,#fb9906,#f2741c,#dd513a,#c83f4b,#b63458,#ab2f5e,#ab2f5e,#ab2f5e,#ae305c,#b43359,#ba3655,#c03a51,#c73e4c,#ce4347,#d54a41,#da4e3c,#dd513a,#de5238,#e45a31,#f78410,#fcac11,#f68013,#fb9606,#fca80d,#f8850f,#f57b17,#ed6925,#db503b,#ce4347,#d34743,#e55c30,#f3761b,#f8870e,#fa9407,#fcac11,#fc9f07,#fa9207,#fa9207,#fb9b06,#fcae12,#fb9b06,#fa9207,#fa9407,#fca108,#fcac11,#fb9706,#fa9008,#fa9008,#fca50a,#fca50a,#f98b0b,#f8850f,#f68013,#f57b17,#f2741c,#f06f20,#ee6a24,#f1711f,#f57b17,#f8890c,#fb9706,#fca60c,#fcb418,#fbbe23,#fac228,#fac228,#fbbc21,#fcb014,#fc9f07,#f98b0b,#ef6e21,#e45a31,#da4e3c,#d24644,#ca404a,#c33b4f,#bd3853,#b73557,#b1325a,#ab2f5e,#a52c60,#9f2a63,#85216b,#09061f)"></div><div class="hc" style="left:119px;top:22px;width:2px;height:201px;background:linear-gradient(#4a0c6b,#4d0d6c,#510e6c,#540f6d,#57106e,#5c126e,#65156e,#6f196e,#781c6d,#85216b,#972766,#a82e5f,#b0315b,#b0315b,#ae305c,#ae305c,#a82e5f,#a02a63,#9b2964,#9f2a63,#ae305c,#c43c4e,#d94d3d,#e55c30,#e75e2e,#dd513a,#c83f4b,#ae305c,#982766,#88226a,#801f6c,#7c1d6d,#781c6d,#771c6d,#781c6d,#7f1e6c,#88226a,#952667,#a62d60,#bd3853,#cc4248,#d34743,#d34743,#d34743,#d84c3e,#e55c30,#ef6e21,#f8850f,#fb9906,#fca50a,#fca50a,#fb9906,#f2741c,#dd513a,#c83f4b,#b63458,#ab2f5e,#ab2f5e,#ab2f5e,#ae305c,#b43359,#ba3655,#c03a51,#c73e4c,#ce4347,#d54a41,#da4e3c,#dd513a,#de5238,#e45a31,#f78410,#fcac11,#f68013,#fb9606,#fca80d,#f8850f,#f57b17,#ed6925,#db503b,#ce4347,#d34743,#e65d2f,#f3761b,#f8870e,#fa9407,#fcac11,#fc9f07,#fa9207,#fa9207,#fb9b06,#fcae12,#fb9b06,#fa9207,#fa9407,#fca108,#fcac11,#fb9706,#fa9008,#fa9008,#fca50a,#fca60c,#f98c0a,#f8850f,#f78212,#f57b17,#f2741c,#f06f20,#ef6c23,#f1711f,#f57b17,#f8890c,#fb9706,#fca60c,#fbb61a,#fbbe23,#fac228,#fac228,#fbbc21,#fcb014,#fc9f07,#f98b0b,#ef6e21,#e45a31,#da4e3c,#d24644,#ca404a,#c33b4f,#bd3853,#b73557,#b1325a,#ab2f5e,#a52c60,#9f2a63,#972766,#1c0c43)"></div><div class="hc" style="left:121px;top:22px;width:2px;height:201px;background:linear-gradient(#4a0c6b,#4d0d6c,#510e6c,#540f6d,#57106e,#5c126e,#65156e,#6f196e,#781c6d,#85216b,#972766,#a82e5f,#b0315b,#b0315b,#ae305c,#ae305c,#a82e5f,#a02a63,#9b2964,#9d2964,#ab2f5e,#c13a50,#d74b3f,#e45a31,#e75e2e,#df5337,#cb4149,#b1325a,#9a2865,#8a226a,#801f6c,#7c1d6d,#781c6d,#771c6d,#7a1d6d,#7f1e6c,#88226a,#952667,#a62d60,#bd3853,#cc4248,#d34743,#d34743,#d34743,#d84c3e,#e55c30,#ef6e21,#f8850f,#fb9906,#fca50a,#fca50a,#fb9906,#f2741c,#dd513a,#c83f4b,#b63458,#ab2f5e,#ab2f5e,#ab2f5e,#ae305c,#b43359,#ba3655,#c03a51,#c73e4c,#ce4347,#d54a41,#da4e3c,#dd513a,#de5238,#e45a31,#f78410,#fcac11,#f68013,#fb9606,#fca80d,#f8850f,#f57b17,#ed6925,#db503b,#ce4347,#d34743,#e65d2f,#f3761b,#f8870e,#fa9407,#fcac11,#fc9f07,#fa9207,#fa9207,#fb9b06,#fcae12,#fb9b06,#fa9207,#fa9407,#fca108,#fcac11,#fb9706,#fa9008,#fa9008,#fca50a,#fca60c,#f98c0a,#f8870e,#f78212,#f57b17,#f3761b,#f06f20,#ef6c23,#f1731d,#f57d15,#f8890c,#fb9706,#fca60c,#fbb61a,#fbbe23,#fac228,#fac228,#fbbc21,#fcb014,#fc9f07,#f98b0b,#ef6e21,#e45a31,#da4e3c,#d24644,#ca404a,#c33b4f,#bd3853,#b73557,#b1325a,#ab2f5e,#a52c60,#9f2a63,#982766,#470b6a)"></div><div class="hc" style="left:123px;top:22px;width:2px;height:201px;background:linear-gradient(#4a0c6b,#4d0d6c,#510e6c,#540f6d,#57106e,#5c126e,#65156e,#6f196e,#781c6d,#85216b,#972766,#a82e5f,#b0315b,#b0315b,#ae305c,#ae305c,#a82e5f,#a02a63,#9b2964,#9b2964,#a92e5e,#bf3952,#d44842,#e35933,#e75e2e,#e05536,#ce4347,#b43359,#9d2964,#8c2369,#82206c,#7c1d6d,#781c6d,#771c6d,#7a1d6d,#7f1e6c,#88226a,#952667,#a62d60,#bd3853,#cc4248,#d34743,#d34743,#d34743,#d84c3e,#e55c30,#ef6e21,#f8850f,#fb9906,#fca50a,#fca309,#fb9906,#f2741c,#dd513a,#c83f4b,#b63458,#ab2f5e,#ab2f5e,#ab2f5e,#ae305c,#b43359,#ba3655,#c03a51,#c73e4c,#ce4347,#d54a41,#da4e3c,#dd513a,#de5238,#e45a31,#f78410,#fcaa0f,#f68013,#fb9606,#fca80d,#f8850f,#f57b17,#ec6726,#db503b,#ce4347,#d34743,#e65d2f,#f3761b,#f8870e,#fa9407,#fcac11,#fc9f07,#fa9207,#fa9207,#fb9b06,#fcae12,#fb9b06,#fa9207,#fa9407,#fca108,#fcac11,#fb9706,#fa9008,#fa9008,#fca309,#fca60c,#f98c0a,#f8870e,#f78212,#f57b17,#f3761b,#f1711f,#ef6c23,#f1731d,#f57d15,#f8890c,#fb9706,#fca60c,#fbb61a,#fbbe23,#fac228,#fac228,#fbbc21,#fcb014,#fc9f07,#f98b0b,#ef6e21,#e45a31,#da4e3c,#d24644,#ca404a,#c33b4f,#bd3853,#b73557,#b1325a,#ab2f5e,#a52c60,#9f2a63,#982766,#71196e)"></div><div class="hc" style="left:125px;top:22px;width:2px;height:201px;background:linear-gradient(#4a0c6b,#4d0d6c,#510e6c,#540f6d,#57106e,#5c126e,#65156e,#6f196e,#781c6d,#85216b,#972766,#a82e5f,#b0315b,#b0315b,#ae305c,#ae305c,#a82e5f,#9f2a63,#9a2865,#9a2865,#a62d60,#bc3754,#d24644,#e25734,#e75e2e,#e25734,#d04545,#b73557,#a02a63,#8d2369,#84206b,#7d1e6d,#7a1d6d,#781c6d,#7a1d6d,#7f1e6c,#88226a,#952667,#a62d60,#bd3853,#cc4248,#d34743,#d34743,#d34743,#d84c3e,#e55c30,#ef6e21,#f8850f,#fb9906,#fca50a,#fca50a,#fb9906,#f2741c,#dd513a,#c83f4b,#b63458,#ab2f5e,#ab2f5e,#ab2f5e,#ae305c,#b43359,#ba3655,#c03a51,#c73e4c,#ce4347,#d54a41,#da4e3c,#dd513a,#de5238,#e45a31,#f78410,#fcac11,#f68013,#fb9606,#fca80d,#f8850f,#f57b17,#ed6925,#dd513a,#d04545,#d54a41,#e75e2e,#f37819,#f8890c,#fa9407,#fcac11,#fca108,#fa9207,#fa9207,#fb9b06,#fcae12,#fb9b06,#fa9207,#fa9407,#fca108,#fcae12,#fb9706,#fa9008,#fa9008,#fca50a,#fca60c,#f98c0a,#f8870e,#f78212,#f57b17,#f3761b,#f1711f,#ef6c23,#f1731d,#f57d15,#f8890c,#fb9706,#fca80d,#fbb61a,#fbbe23,#fac228,#fac228,#fbbc21,#fcb014,#fc9f07,#f98b0b,#ef6e21,#e45a31,#da4e3c,#d24644,#ca404a,#c33b4f,#bd3853,#b73557,#b1325a,#ab2f5e,#a52c60,#9f2a63,#982766,#8f2469)"></div><div class="hc" style="left:127px;top:22px;width:2px;height:201px;background:linear-gradient(#4a0c6b,#4d0d6c,#510e6c,#540f6d,#57106e,#5c126e,#65156e,#6f196e,#781c6d,#85216b,#972766,#a82e5f,#b0315b,#b0315b,#ae305c,#ae305c,#a82e5f,#9f2a63,#9a2865,#9a2865,#a52c60,#b93556,#cf4446,#e05536,#e75e2e,#e35933,#d44842,#bc3754,#a32c61,#902568,#84206b,#7d1e6d,#7a1d6d,#781c6d,#7a1d6d,#7f1e6c,#88226a,#952667,#a62d60,#bd3853,#cc4248,#d34743,#d34743,#d34743,#d84c3e,#e55c30,#ef6e21,#f8850f,#fb9906,#fca50a,#fca50a,#fb9906,#f2741c,#dd513a,#c83f4b,#b63458,#ab2f5e,#ab2f5e,#ab2f5e,#ae305c,#b43359,#ba3655,#c03a51,#c73e4c,#ce4347,#d54a41,#db503b,#dd513a,#de5238,#e45a31,#f78410,#fcac11,#f68013,#fb9606,#fcaa0f,#f8870e,#f57d15,#ee6a24,#df5337,#d34743,#d84c3e,#e8602d,#f47918,#f8890c,#fa9407,#fcac11,#fca108,#fa9207,#fa9207,#fb9b06,#fcae12,#fb9b06,#fa9207,#fa9207,#fca108,#fcae12,#fb9706,#fa9008,#fa9008,#fca50a,#fca60c,#f98c0a,#f8870e,#f78212,#f57b17,#f3761b,#f06f20,#ef6c23,#f1711f,#f57d15,#f8890c,#fb9706,#fca60c,#fbb61a,#fbbe23,#fac228,#fac228,#fbbc21,#fcb014,#fc9f07,#f98b0b,#ef6e21,#e45a31,#da4e3c,#d24644,#ca404a,#c33b4f,#bd3853,#b73557,#b1325a,#ab2f5e,#a52c60,#a02a63,#cb4149,#fb9d07)"></div><div class="hc" style="left:129px;top:22px;width:2px;height:201px;background:linear-gradient(#4a0c6b,#4d0d6c,#510e6c,#540f6d,#57106e,#5c126e,#65156e,#6f196e,#781c6d,#85216b,#972766,#a82e5f,#b0315b,#b0315b,#b0315b,#ae305c,#a82e5f,#9f2a63,#982766,#982766,#a22b62,#b63458,#cb4149,#df5337,#e75e2e,#e45a31,#d74b3f,#bf3952,#a62d60,#922568,#85216b,#7f1e6c,#7a1d6d,#781c6d,#7a1d6d,#801f6c,#88226a,#952667,#a62d60,#bd3853,#cc4248,#d34743,#d34743,#d34743,#d84c3e,#e55c30,#ef6e21,#f8850f,#fb9906,#fca50a,#fca309,#fb9906,#f2741c,#dd513a,#c83f4b,#b63458,#ab2f5e,#ab2f5e,#ab2f5e,#ae305c,#b43359,#ba3655,#c03a51,#c73e4c,#ce4347,#d54a41,#db503b,#dd513a,#de5238,#e45a31,#f78212,#fcac11,#f68013,#fa9407,#fca80d,#f8870e,#f57d15,#ef6c23,#e05536,#d44842,#da4e3c,#ea632a,#f47918,#f8890c,#fa9407,#fcac11,#fca108,#fa9407,#fa9207,#fb9b06,#fcae12,#fb9b06,#fa9207,#fa9207,#fc9f07,#fcac11,#fb9706,#fa9008,#fa9008,#fca309,#fca60c,#f98c0a,#f8870e,#f78212,#f57b17,#f2741c,#f06f20,#ee6a24,#f1711f,#f57b17,#f8890c,#fb9706,#fca60c,#fbb61a,#fbbe23,#fac228,#fac228,#fbbc21,#fcb014,#fc9f07,#f98b0b,#ef6e21,#e45a31,#da4e3c,#d24644,#ca404a,#c33b4f,#bd3853,#b73557,#b1325a,#ab2f5e,#a52c60,#a32c61,#ee6a24,#eb6628)"></div><div class="hc" style="left:131px;top:22px;width:2px;height:201px;background:linear-gradient(#4a0c6b,#4d0d6c,#510e6c,#540f6d,#57106e,#5c126e,#65156e,#6f196e,#781c6d,#85216b,#972766,#a82e5f,#b0315b,#b0315b,#b0315b,#ae305c,#a82e5f,#9f2a63,#982766,#972766,#a02a63,#b1325a,#c83f4b,#dd513a,#e65d2f,#e55c30,#d94d3d,#c33b4f,#a92e5e,#952667,#87216b,#7f1e6c,#7c1d6d,#781c6d,#7a1d6d,#801f6c,#88226a,#952667,#a62d60,#bd3853,#cc4248,#d34743,#d34743,#d34743,#d84c3e,#e55c30,#ef6e21,#f8850f,#fb9906,#fca50a,#fca50a,#fb9906,#f2741c,#dd513a,#c83f4b,#b63458,#ab2f5e,#ab2f5e,#ab2f5e,#ae305c,#b43359,#ba3655,#c03a51,#c73e4c,#ce4347,#d54a41,#db503b,#dd513a,#de5238,#e45a31,#f78212,#fcae12,#f78212,#fa9407,#fcaa0f,#f8870e,#f57d15,#ef6c23,#e15635,#d74b3f,#dd513a,#eb6429,#f57b17,#f8890c,#fa9407,#fcac11,#fca108,#fa9407,#fa9207,#fb9b06,#fcae12,#fb9b06,#fa9207,#fa9207,#fca108,#fcae12,#fb9706,#fa9008,#fa9008,#fca309,#fca80d,#f98c0a,#f8870e,#f78212,#f57b17,#f2741c,#ef6e21,#ee6a24,#f1711f,#f57b17,#f8870e,#fb9706,#fca60c,#fcb418,#fbbe23,#fac228,#fac228,#fbbc21,#fcb014,#fc9f07,#f98b0b,#ef6e21,#e45a31,#da4e3c,#d24644,#ca404a,#c33b4f,#bd3853,#b73557,#b1325a,#ab2f5e,#a52c60,#b0315b,#fb9b06,#ad305d)"></div><div class="hc" style="left:133px;top:22px;width:2px;height:201px;background:linear-gradient(#4a0c6b,#4d0d6c,#510e6c,#540f6d,#57106e,#5c126e,#65156e,#6f196e,#781c6d,#85216b,#972766,#a82e5f,#b0315b,#b0315b,#b0315b,#ae305c,#a82e5f,#9f2a63,#982766,#952667,#9d2964,#ae305c,#c43c4e,#d94d3d,#e55c30,#e65d2f,#dd513a,#c73e4c,#ad305d,#972766,#88226a,#801f6c,#7c1d6d,#7a1d6d,#7a1d6d,#801f6c,#88226a,#952667,#a62d60,#bd3853,#cc4248,#d34743,#d34743,#d34743,#d84c3e,#e55c30,#ef6e21,#f8850f,#fb9906,#fca50a,#fca50a,#fb9906,#f2741c,#dd513a,#c83f4b,#b63458,#ab2f5e,#ab2f5e,#ab2f5e,#ae305c,#b43359,#ba3655,#c03a51,#c73e4c,#ce4347,#d54a41,#db503b,#dd513a,#de5238,#e45a31,#f68013,#fcac11,#f78212,#fa9407,#fcaa0f,#f8870e,#f57d15,#ef6e21,#e35933,#d94d3d,#df5337,#eb6628,#f57d15,#f98b0b,#fa9407,#fcac11,#fca108,#fa9407,#fa9207,#fb9b06,#fcae12,#fb9b06,#fa9207,#fa9207,#fc9f07,#fcae12,#fb9706,#fa9008,#fa9008,#fca309,#fca60c,#f98c0a,#f8850f,#f68013,#f47918,#f1731d,#ef6e21,#ed6925,#f06f20,#f47918,#f8870e,#fb9606,#fca60c,#fcb418,#fbbe23,#fac228,#fac228,#fbbc21,#fcb014,#fc9f07,#f98b0b,#ef6e21,#e45a31,#da4e3c,#d24644,#ca404a,#c33b4f,#bd3853,#b73557,#b1325a,#ab2f5e,#a52c60,#ca404a,#fca309,#5f136e)"></div><div class="hc" style="left:135px;top:22px;width:2px;height:201px;background:linear-gradient(#4a0c6b,#4d0d6c,#510e6c,#540f6d,#57106e,#5c126e,#65156e,#6f196e,#781c6d,#85216b,#972766,#a82e5f,#b0315b,#b0315b,#b0315b,#ae305c,#a82e5f,#9f2a63,#972766,#932667,#9b2964,#ab2f5e,#c13a50,#d74b3f,#e45a31,#e75e2e,#df5337,#cb4149,#b1325a,#9a2865,#8c2369,#82206c,#7c1d6d,#7a1d6d,#7c1d6d,#801f6c,#88226a,#952667,#a62d60,#bd3853,#cc4248,#d34743,#d34743,#d34743,#d84c3e,#e55c30,#ef6e21,#f8850f,#fb9906,#fca50a,#fca50a,#fb9906,#f2741c,#dd513a,#c83f4b,#b63458,#ab2f5e,#ab2f5e,#ab2f5e,#ae305c,#b43359,#ba3655,#c03a51,#c73e4c,#ce4347,#d54a41,#db503b,#dd513a,#de5238,#e45a31,#f68013,#fcae12,#f78212,#fa9407,#fcaa0f,#f8870e,#f67e14,#f06f20,#e45a31,#db503b,#e15635,#ed6925,#f57d15,#f98b0b,#fa9407,#fcac11,#fca108,#fa9407,#fa9207,#fb9b06,#fcae12,#fb9d07,#fa9207,#fa9207,#fc9f07,#fcae12,#fb9706,#fa9008,#fa9008,#fca309,#fca80d,#f98c0a,#f8850f,#f68013,#f37819,#f1711f,#ee6a24,#ec6726,#ef6e21,#f37819,#f8850f,#fb9606,#fca60c,#fcb418,#fbbe23,#fac228,#fac228,#fbbc21,#fcb014,#fc9f07,#f98b0b,#ef6e21,#e45a31,#da4e3c,#d24644,#ca404a,#c33b4f,#bd3853,#b73557,#b1325a,#ab2f5e,#a82e5f,#eb6628,#f47918,#240c4f)"></div><div class="hc" style="left:137px;top:22px;width:2px;height:201px;background:linear-gradient(#4a0c6b,#4d0d6c,#510e6c,#540f6d,#57106e,#5c126e,#65156e,#6f196e,#781c6d,#85216b,#972766,#a82e5f,#b0315b,#b0315b,#b0315b,#ae305c,#a82e5f,#9f2a63,#972766,#922568,#982766,#a82e5f,#bd3853,#d34743,#e25734,#e75e2e,#e15635,#cf4446,#b63458,#9f2a63,#8d2369,#82206c,#7d1e6d,#7a1d6d,#7c1d6d,#801f6c,#88226a,#952667,#a62d60,#bd3853,#cc4248,#d34743,#d34743,#d34743,#d84c3e,#e55c30,#ef6e21,#f8850f,#fb9906,#fca50a,#fca50a,#fb9906,#f2741c,#dd513a,#c83f4b,#b63458,#ab2f5e,#ab2f5e,#ab2f5e,#ae305c,#b43359,#ba3655,#c03a51,#c73e4c,#ce4347,#d54a41,#db503b,#dd513a,#de5238,#e45a31,#f68013,#fcae12,#f78212,#fa9207,#fcaa0f,#f8890c,#f67e14,#f06f20,#e55c30,#de5238,#e25734,#ee6a24,#f67e14,#f98b0b,#fa9407,#fcac11,#fca309,#fa9407,#fa9207,#fb9906,#fcae12,#fb9d07,#fa9207,#fa9207,#fc9f07,#fcae12,#fb9706,#fa9008,#fa9008,#fca309,#fca80d,#f98c0a,#f8850f,#f67e14,#f3761b,#f06f20,#ed6925,#eb6429,#ee6a24,#f3761b,#f78410,#fa9407,#fca50a,#fcb418,#fbbe23,#fac228,#fac228,#fbbc21,#fcb014,#fc9f07,#f98b0b,#ef6e21,#e45a31,#da4e3c,#d24644,#ca404a,#c33b4f,#bd3853,#b73557,#b1325a,#ab2f5e,#b1325a,#fb9606,#cf4446,#0b0724)"></div><div class="hc" style="left:139px;top:22px;width:2px;height:201px;background:linear-gradient(#4a0c6b,#4d0d6c,#510e6c,#540f6d,#57106e,#5c126e,#65156e,#6f196e,#781c6d,#85216b,#972766,#a82e5f,#b0315b,#b0315b,#b0315b,#ae305c,#a82e5f,#9f2a63,#972766,#922568,#972766,#a32c61,#b93556,#cf4446,#e15635,#e75e2e,#e35933,#d34743,#ba3655,#a22b62,#902568,#84206b,#7f1e6c,#7c1d6d,#7c1d6d,#801f6c,#88226a,#952667,#a62d60,#bd3853,#cc4248,#d34743,#d34743,#d34743,#d84c3e,#e55c30,#ef6e21,#f8850f,#fb9906,#fca50a,#fca309,#fb9906,#f2741c,#dd513a,#c83f4b,#b63458,#ab2f5e,#ab2f5e,#ab2f5e,#ae305c,#b43359,#ba3655,#c03a51,#c73e4c,#cf4446,#d54a41,#db503b,#dd513a,#de5238,#e45a31,#f67e14,#fcac11,#f78212,#fa9207,#fcaa0f,#f8890c,#f67e14,#f1711f,#e75e2e,#e05536,#e45a31,#ef6c23,#f68013,#f98b0b,#fa9407,#fcaa0f,#fca108,#fa9407,#fa9207,#fb9906,#fcae12,#fb9d07,#fa9207,#fa9207,#fc9f07,#fcae12,#fb9706,#fa9008,#fa9008,#fca108,#fca60c,#f98c0a,#f78410,#f57d15,#f2741c,#ef6c23,#eb6628,#ea632a,#ec6726,#f1731d,#f68013,#fa9207,#fca50a,#fcb418,#fbbe23,#fac228,#fac228,#fbbc21,#fcb014,#fc9f07,#f98b0b,#ef6e21,#e45a31,#da4e3c,#d24644,#ca404a,#c33b4f,#bd3853,#b73557,#b1325a,#ab2f5e,#c83f4b,#fca60c,#952667,#08051d)"></div><div class="hc" style="left:141px;top:22px;width:2px;height:201px;background:linear-gradient(#4a0c6b,#4d0d6c,#510e6c,#540f6d,#57106e,#5c126e,#65156e,#6f196e,#781c6d,#85216b,#972766,#a82e5f,#b0315b,#b0315b,#b0315b,#ae305c,#a82e5f,#9d2964,#952667,#902568,#952667,#a02a63,#b43359,#cb4149,#de5238,#e75e2e,#e45a31,#d74b3f,#c03a51,#a62d60,#932667,#87216b,#7f1e6c,#7c1d6d,#7c1d6d,#801f6c,#8a226a,#952667,#a82e5f,#bd3853,#ce4347,#d34743,#d34743,#d34743,#d84c3e,#e55c30,#ef6e21,#f8850f,#fb9906,#fca50a,#fca50a,#fb9906,#f2741c,#dd513a,#c83f4b,#b63458,#ab2f5e,#ab2f5e,#ab2f5e,#ae305c,#b43359,#ba3655,#c03a51,#c73e4c,#cf4446,#d54a41,#db503b,#dd513a,#de5238,#e45a31,#f67e14,#fcae12,#f78410,#fa9207,#fcac11,#f8890c,#f67e14,#f1731d,#e8602d,#e25734,#e65d2f,#f06f20,#f68013,#f98c0a,#fa9407,#fcac11,#fca309,#fa9407,#fa9207,#fb9906,#fcae12,#fb9d07,#fa9207,#fa9207,#fc9f07,#fcae12,#fb9906,#fa9008,#fa9008,#fca108,#fca80d,#f98b0b,#f78212,#f57b17,#f1711f,#ed6925,#ea632a,#e75e2e,#eb6429,#f06f20,#f67e14,#fa9008,#fca309,#fcb216,#fbbe23,#fac228,#fac228,#fbbc21,#fcb014,#fc9f07,#f98b0b,#ef6e21,#e45a31,#da4e3c,#d24644,#ca404a,#c33b4f,#bd3853,#b73557,#b1325a,#ad305d,#e75e2e,#f8870e,#65156e,#07051b)"></div><div class="hc" style="left:143px;top:22px;width:2px;height:201px;background:linear-gradient(#4a0c6b,#4d0d6c,#510e6c,#540f6d,#57106e,#5c126e,#65156e,#6f196e,#781c6d,#85216b,#972766,#a82e5f,#b0315b,#b0315b,#b0315b,#ae305c,#a82e5f,#9d2964,#952667,#8f2469,#932667,#9d2964,#b0315b,#c73e4c,#db503b,#e65d2f,#e65d2f,#da4e3c,#c43c4e,#ab2f5e,#972766,#88226a,#801f6c,#7d1e6d,#7d1e6d,#82206c,#8a226a,#972766,#a82e5f,#bd3853,#ce4347,#d34743,#d34743,#d34743,#d84c3e,#e65d2f,#ef6e21,#f8850f,#fb9906,#fca50a,#fca50a,#fb9906,#f2741c,#dd513a,#c83f4b,#b63458,#ab2f5e,#ab2f5e,#ab2f5e,#ae305c,#b43359,#ba3655,#c03a51,#c73e4c,#cf4446,#d54a41,#db503b,#dd513a,#de5238,#e45a31,#f57d15,#fcae12,#f78410,#fa9008,#fcac11,#f8890c,#f68013,#f1731d,#ea632a,#e45a31,#e8602d,#f1711f,#f78212,#f98c0a,#fa9407,#fcac11,#fca309,#fa9407,#fa9207,#fb9906,#fcae12,#fb9d07,#fa9207,#fa9207,#fb9d07,#fcae12,#fb9906,#fa9008,#fa9008,#fca108,#fca80d,#f98b0b,#f68013,#f37819,#ef6e21,#eb6429,#e75e2e,#e55c30,#e9612b,#ef6c23,#f57b17,#f98e09,#fca108,#fcb216,#fbbe23,#fac228,#fac228,#fbbc21,#fcb014,#fc9f07,#f98b0b,#ef6e21,#e45a31,#da4e3c,#d24644,#ca404a,#c33b4f,#bd3853,#b73557,#b1325a,#b43359,#f98e09,#df5337,#470b6a,#07051b)"></div><div class="hc" style="left:145px;top:22px;width:2px;height:201px;background:linear-gradient(#4a0c6b,#4d0d6c,#510e6c,#540f6d,#57106e,#5c126e,#65156e,#6f196e,#781c6d,#85216b,#972766,#a82e5f,#b0315b,#b0315b,#b0315b,#ae305c,#a82e5f,#9d2964,#952667,#8f2469,#922568,#9a2865,#ab2f5e,#c13a50,#d84c3e,#e55c30,#e75e2e,#de5238,#ca404a,#b1325a,#9a2865,#8c2369,#82206c,#7d1e6d,#7d1e6d,#82206c,#8a226a,#972766,#a82e5f,#bf3952,#ce4347,#d34743,#d34743,#d34743,#d94d3d,#e65d2f,#f06f20,#f8850f,#fb9906,#fca50a,#fca50a,#fb9906,#f2741c,#dd513a,#c83f4b,#b63458,#ab2f5e,#ab2f5e,#ab2f5e,#ae305c,#b43359,#ba3655,#c03a51,#c73e4c,#cf4446,#d54a41,#db503b,#dd513a,#de5238,#e45a31,#f57d15,#fcae12,#f78410,#fa9008,#fcac11,#f8890c,#f68013,#f2741c,#eb6429,#e65d2f,#ea632a,#f1731d,#f78410,#f98c0a,#fa9407,#fcaa0f,#fca309,#fa9407,#fa9207,#fb9906,#fcae12,#fb9d07,#fa9207,#fa9207,#fb9d07,#fcae12,#fb9906,#fa9008,#fa9008,#fc9f07,#fca60c,#f98b0b,#f67e14,#f3761b,#ee6a24,#e9612b,#e45a31,#e25734,#e65d2f,#ec6726,#f37819,#f98b0b,#fc9f07,#fcb014,#fbbc21,#fac228,#fac228,#fbbc21,#fcb014,#fc9f07,#f98b0b,#ef6e21,#e45a31,#da4e3c,#d24644,#ca404a,#c33b4f,#bd3853,#b73557,#b1325a,#c63d4d,#fca80d,#b1325a,#390963,#07051b)"></div><div class="hc" style="left:147px;top:22px;width:2px;height:201px;background:linear-gradient(#4a0c6b,#4d0d6c,#510e6c,#540f6d,#57106e,#5c126e,#65156e,#6f196e,#781c6d,#85216b,#972766,#a82e5f,#b0315b,#b0315b,#b0315b,#ae305c,#a82e5f,#9d2964,#932667,#8d2369,#8f2469,#972766,#a62d60,#bc3754,#d34743,#e35933,#e75e2e,#e15635,#cf4446,#b63458,#9f2a63,#8d2369,#84206b,#7f1e6c,#7f1e6c,#82206c,#8a226a,#972766,#a82e5f,#bf3952,#ce4347,#d34743,#d34743,#d34743,#d94d3d,#e65d2f,#f06f20,#f8850f,#fb9906,#fca50a,#fca50a,#fb9906,#f2741c,#dd513a,#c83f4b,#b63458,#ab2f5e,#ab2f5e,#ab2f5e,#ae305c,#b43359,#ba3655,#c03a51,#c73e4c,#cf4446,#d74b3f,#db503b,#dd513a,#de5238,#e45a31,#f57b17,#fcae12,#f8850f,#f98e09,#fcac11,#f98b0b,#f68013,#f3761b,#eb6628,#e8602d,#eb6628,#f3761b,#f78410,#f98c0a,#fa9407,#fcaa0f,#fca50a,#fa9407,#fa9207,#fb9906,#fcae12,#fc9f07,#fa9207,#fa9207,#fb9d07,#fcae12,#fb9906,#fa9008,#fa9008,#fc9f07,#fca80d,#f8890c,#f57d15,#f1731d,#ec6726,#e65d2f,#e15635,#df5337,#e35933,#eb6429,#f2741c,#f8890c,#fb9d07,#fcb014,#fbbc21,#fac228,#fac228,#fbbc21,#fcb014,#fc9f07,#f98b0b,#ef6e21,#e45a31,#da4e3c,#d24644,#ca404a,#c33b4f,#bd3853,#b73557,#b3325a,#e25734,#fb9606,#87216b,#320a5e,#07051b)"></div><div class="hc" style="left:149px;top:22px;width:2px;height:201px;background:linear-gradient(#4a0c6b,#4d0d6c,#510e6c,#540f6d,#57106e,#5c126e,#65156e,#6f196e,#781c6d,#85216b,#972766,#a82e5f,#b0315b,#b0315b,#b0315b,#ae305c,#a82e5f,#9d2964,#932667,#8d2369,#8d2369,#952667,#a22b62,#b73557,#ce4347,#e05536,#e75e2e,#e35933,#d44842,#bc3754,#a32c61,#902568,#85216b,#801f6c,#7f1e6c,#84206b,#8a226a,#972766,#a82e5f,#bf3952,#ce4347,#d34743,#d34743,#d34743,#d94d3d,#e65d2f,#f06f20,#f8850f,#fb9906,#fca50a,#fca50a,#fb9906,#f2741c,#dd513a,#c83f4b,#b63458,#ab2f5e,#ab2f5e,#ab2f5e,#ae305c,#b43359,#ba3655,#c03a51,#c73e4c,#cf4446,#d74b3f,#db503b,#dd513a,#de5238,#e45a31,#f57b17,#fcae12,#f8850f,#f98e09,#fcac11,#f98b0b,#f68013,#f37819,#ed6925,#ea632a,#ed6925,#f37819,#f8850f,#f98c0a,#fa9407,#fcaa0f,#fca50a,#fa9407,#fa9207,#fb9706,#fcae12,#fc9f07,#fa9207,#fa9207,#fb9d07,#fcae12,#fb9906,#fa9008,#fa9008,#fb9d07,#fca60c,#f8890c,#f57b17,#f06f20,#ea632a,#e35933,#de5238,#db503b,#e05536,#e8602d,#f1711f,#f8850f,#fb9b06,#fcae12,#fbbc21,#fac228,#fac228,#fbbc21,#fcb014,#fc9f07,#f98b0b,#ef6e21,#e45a31,#da4e3c,#d24644,#ca404a,#c33b4f,#bd3853,#b73557,#b73557,#f78410,#eb6628,#6a176e,#2d0b59,#07051b)"></div><div class="hc" style="left:151px;top:22px;width:2px;height:201px;background:linear-gradient(#4a0c6b,#4d0d6c,#510e6c,#540f6d,#57106e,#5c126e,#65156e,#6f196e,#781c6d,#85216b,#972766,#a82e5f,#b0315b,#b0315b,#b0315b,#ae305c,#a62d60,#9d2964,#932667,#8c2369,#8c2369,#922568,#9d2964,#b1325a,#c83f4b,#dd513a,#e65d2f,#e55c30,#d94d3d,#c33b4f,#a92e5e,#952667,#88226a,#801f6c,#801f6c,#84206b,#8c2369,#972766,#a82e5f,#bf3952,#ce4347,#d34743,#d24644,#d34743,#d94d3d,#e65d2f,#f06f20,#f8850f,#fb9906,#fca50a,#fca50a,#fb9906,#f2741c,#dd513a,#c83f4b,#b63458,#ab2f5e,#ab2f5e,#ab2f5e,#ae305c,#b43359,#ba3655,#c03a51,#c73e4c,#cf4446,#d74b3f,#db503b,#dd513a,#de5238,#e45a31,#f47918,#fcae12,#f8870e,#f98c0a,#fcac11,#f98c0a,#f78212,#f37819,#ee6a24,#eb6628,#ef6c23,#f47918,#f8870e,#f98e09,#fa9407,#fcaa0f,#fca50a,#fa9407,#fa9207,#fb9706,#fcae12,#fc9f07,#fa9207,#fa9207,#fb9b06,#fcae12,#fb9906,#fa9008,#f98e09,#fb9d07,#fca60c,#f8870e,#f47918,#ef6c23,#e75e2e,#df5337,#d94d3d,#d74b3f,#db503b,#e55c30,#ef6c23,#f78212,#fb9906,#fcae12,#fbbc21,#fac228,#fac228,#fbbc21,#fcb014,#fc9f07,#f98b0b,#ef6e21,#e45a31,#da4e3c,#d24644,#ca404a,#c33b4f,#bd3853,#b73557,#c43c4e,#fca60c,#c63d4d,#5a116e,#290b55,#07051b)"></div><div class="hc" style="left:153px;top:22px;width:2px;height:201px;background:linear-gradient(#4a0c6b,#4d0d6c,#510e6c,#540f6d,#57106e,#5c126e,#65156e,#6f196e,#781c6d,#85216b,#972766,#a82e5f,#b0315b,#b0315b,#ae305c,#ae305c,#a62d60,#9d2964,#922568,#8a226a,#8c2369,#8f2469,#9a2865,#ab2f5e,#c33b4f,#d94d3d,#e55c30,#e65d2f,#dd513a,#c83f4b,#b0315b,#9a2865,#8c2369,#84206b,#801f6c,#84206b,#8c2369,#982766,#a92e5e,#bf3952,#ce4347,#d34743,#d24644,#d34743,#d94d3d,#e65d2f,#f06f20,#f8850f,#fb9b06,#fca50a,#fca50a,#fb9b06,#f2741c,#dd513a,#c83f4b,#b63458,#ab2f5e,#ab2f5e,#ab2f5e,#ae305c,#b43359,#ba3655,#c03a51,#c73e4c,#cf4446,#d74b3f,#db503b,#dd513a,#de5238,#e45a31,#f47918,#fcae12,#f8890c,#f98c0a,#fcae12,#f98c0a,#f78212,#f47918,#ef6e21,#ed6925,#f06f20,#f57b17,#f8870e,#f98e09,#fa9407,#fcaa0f,#fca60c,#fa9407,#fa9207,#fb9706,#fcae12,#fca108,#fa9207,#fa9207,#fb9b06,#fcae12,#fb9b06,#fa9008,#f98e09,#fb9b06,#fca60c,#f8870e,#f37819,#ee6a24,#e55c30,#db503b,#d54a41,#d34743,#d84c3e,#e25734,#ed6925,#f68013,#fb9706,#fcac11,#fbba1f,#fac228,#fac228,#fbbc21,#fcb014,#fc9f07,#f98b0b,#ef6e21,#e45a31,#da4e3c,#d24644,#ca404a,#c33b4f,#bd3853,#b73557,#db503b,#fca309,#9f2a63,#520e6d,#260c51,#07051b)"></div><div class="hc" style="left:155px;top:22px;width:2px;height:201px;background:linear-gradient(#4a0c6b,#4d0d6c,#510e6c,#540f6d,#57106e,#5c126e,#65156e,#6f196e,#781c6d,#85216b,#972766,#a82e5f,#b0315b,#b0315b,#ae305c,#ae305c,#a62d60,#9b2964,#922568,#8a226a,#8a226a,#8d2369,#952667,#a52c60,#bc3754,#d34743,#e25734,#e75e2e,#e15635,#d04545,#b93556,#a22b62,#902568,#85216b,#82206c,#85216b,#8c2369,#982766,#a92e5e,#bf3952,#ce4347,#d34743,#d24644,#d34743,#d94d3d,#e65d2f,#f06f20,#f8850f,#fb9906,#fca50a,#fca309,#fb9906,#f2741c,#dd513a,#c83f4b,#b63458,#ab2f5e,#ab2f5e,#ab2f5e,#ae305c,#b43359,#ba3655,#c03a51,#c73e4c,#cf4446,#d74b3f,#db503b,#dd513a,#de5238,#e45a31,#f37819,#fcac11,#f8890c,#f98b0b,#fcac11,#f98c0a,#f78212,#f57b17,#f06f20,#ef6c23,#f1711f,#f67e14,#f8890c,#f98e09,#fa9407,#fca80d,#fca60c,#fa9407,#fa9207,#fb9706,#fcac11,#fca108,#fa9407,#fa9207,#fb9b06,#fcae12,#fb9b06,#fa9008,#f98e09,#fb9b06,#fca50a,#f8850f,#f3761b,#ec6726,#e25734,#d84c3e,#d04545,#ce4347,#d44842,#df5337,#eb6628,#f57d15,#fb9606,#fcac11,#fbba1f,#fac026,#fac228,#fbbc21,#fcb014,#fc9f07,#f98b0b,#ef6e21,#e45a31,#da4e3c,#d24644,#ca404a,#c33b4f,#bd3853,#ba3655,#f37819,#f47918,#82206c,#4d0d6c,#230c4c,#07051b)"></div><div class="hc" style="left:157px;top:22px;width:2px;height:201px;background:linear-gradient(#4a0c6b,#4d0d6c,#510e6c,#540f6d,#57106e,#5c126e,#65156e,#6f196e,#781c6d,#85216b,#972766,#a82e5f,#b0315b,#ae305c,#ae305c,#ae305c,#a62d60,#9b2964,#902568,#88226a,#88226a,#8a226a,#902568,#9f2a63,#b3325a,#cb4149,#df5337,#e75e2e,#e55c30,#d84c3e,#c13a50,#a92e5e,#972766,#8a226a,#85216b,#87216b,#8d2369,#982766,#a92e5e,#bf3952,#ce4347,#d34743,#d24644,#d34743,#d94d3d,#e65d2f,#f06f20,#f8850f,#fb9b06,#fca50a,#fca50a,#fb9b06,#f2741c,#dd513a,#c83f4b,#b63458,#ab2f5e,#ab2f5e,#ab2f5e,#ae305c,#b43359,#ba3655,#c03a51,#c73e4c,#cf4446,#d74b3f,#db503b,#dd513a,#de5238,#e45a31,#f37819,#fcae12,#f98b0b,#f98b0b,#fcae12,#f98e09,#f78410,#f57d15,#f1731d,#f06f20,#f2741c,#f68013,#f8890c,#f98e09,#fa9407,#fca80d,#fca60c,#fa9407,#fa9207,#fb9706,#fcac11,#fca108,#fa9407,#fa9207,#fb9b06,#fcae12,#fb9b06,#fa9008,#f98e09,#fb9906,#fca60c,#f8850f,#f2741c,#eb6429,#e05536,#d44842,#cc4248,#cb4149,#d04545,#db503b,#e9612b,#f57b17,#fa9407,#fcaa0f,#fbba1f,#fac026,#fac228,#fbbc21,#fcb014,#fc9f07,#f98b0b,#ef6e21,#e45a31,#da4e3c,#d24644,#ca404a,#c33b4f,#bd3853,#c33b4f,#fca108,#d94d3d,#71196e,#490b6a,#210c4a,#07051b)"></div><div class="hc" style="left:159px;top:22px;width:2px;height:201px;background:linear-gradient(#4a0c6b,#4d0d6c,#510e6c,#540f6d,#57106e,#5c126e,#65156e,#6f196e,#781c6d,#85216b,#972766,#a62d60,#ae305c,#ae305c,#ae305c,#ae305c,#a52c60,#9a2865,#902568,#87216b,#85216b,#87216b,#8d2369,#982766,#a92e5e,#c33b4f,#d84c3e,#e55c30,#e75e2e,#df5337,#cc4248,#b43359,#9f2a63,#8f2469,#88226a,#88226a,#8d2369,#9a2865,#a92e5e,#c03a51,#ce4347,#d34743,#d24644,#d34743,#d94d3d,#e65d2f,#f06f20,#f8850f,#fb9b06,#fca50a,#fca50a,#fb9b06,#f2741c,#dd513a,#c83f4b,#b63458,#ab2f5e,#ab2f5e,#ab2f5e,#ae305c,#b43359,#ba3655,#c03a51,#c73e4c,#cf4446,#d74b3f,#db503b,#dd513a,#de5238,#e45a31,#f3761b,#fcac11,#f98b0b,#f8890c,#fcae12,#f98e09,#f78410,#f67e14,#f2741c,#f1731d,#f37819,#f78212,#f98b0b,#f98e09,#fa9407,#fca80d,#fca60c,#fa9407,#fa9207,#fb9706,#fcac11,#fca309,#fa9407,#fa9207,#fb9906,#fcae12,#fb9d07,#fa9008,#f98e09,#fb9906,#fca50a,#f8850f,#f1731d,#ea632a,#de5238,#d24644,#ca404a,#c73e4c,#cc4248,#d94d3d,#e8602d,#f37819,#fa9207,#fcaa0f,#fbba1f,#fac026,#fac228,#fbbc21,#fcb014,#fc9f07,#f98b0b,#ef6e21,#e45a31,#da4e3c,#d24644,#ca404a,#c33b4f,#bd3853,#d54a41,#fcaa0f,#b43359,#67166e,#440a68,#1f0c48,#07051b)"></div><div class="hc" style="left:161px;top:22px;width:2px;height:201px;background:linear-gradient(#4a0c6b,#4d0d6c,#510e6c,#540f6d,#57106e,#5c126e,#65156e,#6f196e,#781c6d,#85216b,#972766,#a62d60,#ae305c,#ae305c,#ae305c,#ad305d,#a52c60,#9a2865,#8f2469,#85216b,#84206b,#85216b,#88226a,#922568,#a22b62,#b73557,#cf4446,#e15635,#e75e2e,#e45a31,#d54a41,#c03a51,#a82e5f,#952667,#8c2369,#8a226a,#8f2469,#9a2865,#ab2f5e,#c03a51,#ce4347,#d34743,#d24644,#d34743,#d94d3d,#e65d2f,#f06f20,#f8850f,#fb9b06,#fca50a,#fca50a,#fb9b06,#f2741c,#dd513a,#c83f4b,#b63458,#ab2f5e,#ab2f5e,#ab2f5e,#ae305c,#b43359,#ba3655,#c03a51,#c73e4c,#d04545,#d74b3f,#dd513a,#dd513a,#de5238,#e45a31,#f2741c,#fcac11,#f98c0a,#f8890c,#fcac11,#fa9008,#f78410,#f67e14,#f37819,#f3761b,#f57b17,#f78410,#f98b0b,#f98e09,#fa9407,#fca60c,#fca80d,#fa9407,#fa9207,#fb9606,#fcac11,#fca309,#fa9407,#fa9207,#fb9906,#fcae12,#fb9d07,#fa9008,#f98e09,#fb9706,#fca50a,#f8850f,#f1731d,#e9612b,#dd513a,#cf4446,#c73e4c,#c43c4e,#cb4149,#d74b3f,#e65d2f,#f3761b,#fa9207,#fca80d,#fbba1f,#fac026,#fac228,#fbbc21,#fcb014,#fc9f07,#f98b0b,#ef6e21,#e45a31,#da4e3c,#d24644,#ca404a,#c33b4f,#bf3952,#ed6925,#f98e09,#972766,#61136e,#400a67,#1e0c45,#07051b)"></div><div class="hc" style="left:163px;top:22px;width:2px;height:201px;background:linear-gradient(#4a0c6b,#4d0d6c,#510e6c,#540f6d,#57106e,#5c126e,#65156e,#6f196e,#781c6d,#85216b,#972766,#a62d60,#ae305c,#ae305c,#ad305d,#ad305d,#a32c61,#982766,#8d2369,#84206b,#82206c,#82206c,#85216b,#8c2369,#982766,#ad305d,#c43c4e,#da4e3c,#e55c30,#e75e2e,#de5238,#cb4149,#b43359,#9f2a63,#922568,#8d2369,#902568,#9b2964,#ab2f5e,#c03a51,#ce4347,#d34743,#d24644,#d34743,#d94d3d,#e65d2f,#f06f20,#f8870e,#fb9b06,#fca50a,#fca50a,#fb9b06,#f2741c,#dd513a,#c83f4b,#b63458,#ab2f5e,#ab2f5e,#ab2f5e,#ae305c,#b43359,#ba3655,#c03a51,#c73e4c,#d04545,#d84c3e,#dd513a,#dd513a,#de5238,#e45a31,#f2741c,#fcac11,#f98e09,#f8870e,#fcae12,#fa9207,#f8850f,#f68013,#f57b17,#f47918,#f57d15,#f8850f,#f98c0a,#fa9008,#fa9207,#fca60c,#fca80d,#fb9606,#fa9207,#fb9606,#fcac11,#fca309,#fa9407,#fa9207,#fb9906,#fcae12,#fb9d07,#fa9008,#f98e09,#fb9706,#fca60c,#f8850f,#f1711f,#e8602d,#db503b,#ce4347,#c43c4e,#c33b4f,#c83f4b,#d54a41,#e65d2f,#f3761b,#fa9207,#fca80d,#fbb81d,#fac026,#fac228,#fbbc21,#fcb014,#fc9f07,#f98b0b,#ef6e21,#e45a31,#da4e3c,#d24644,#ca404a,#c33b4f,#c43c4e,#fa9207,#e9612b,#82206c,#5c126e,#3b0964,#1c0c43,#07051b)"></div><div class="hc" style="left:165px;top:22px;width:2px;height:201px;background:linear-gradient(#4a0c6b,#4d0d6c,#510e6c,#540f6d,#57106e,#5c126e,#65156e,#6f196e,#781c6d,#85216b,#972766,#a62d60,#ae305c,#ae305c,#ad305d,#ab2f5e,#a22b62,#972766,#8c2369,#82206c,#7f1e6c,#7f1e6c,#82206c,#87216b,#902568,#a22b62,#b93556,#d04545,#e15635,#e75e2e,#e45a31,#d54a41,#c03a51,#a92e5e,#982766,#922568,#932667,#9b2964,#ab2f5e,#c03a51,#cf4446,#d34743,#d24644,#d24644,#d94d3d,#e65d2f,#f06f20,#f8870e,#fb9b06,#fca50a,#fca50a,#fb9b06,#f2741c,#dd513a,#c83f4b,#b63458,#ab2f5e,#ab2f5e,#ab2f5e,#ae305c,#b43359,#ba3655,#c03a51,#c73e4c,#d04545,#d84c3e,#dd513a,#dd513a,#de5238,#e55c30,#f1731d,#fcaa0f,#fa9008,#f8870e,#fcac11,#fa9207,#f8850f,#f78212,#f57d15,#f57d15,#f68013,#f8870e,#f98c0a,#fa9008,#fa9207,#fca50a,#fca80d,#fb9606,#fa9207,#fb9606,#fcaa0f,#fca50a,#fa9407,#fa9207,#fb9906,#fcae12,#fc9f07,#fa9008,#f98e09,#fb9606,#fca50a,#f8850f,#f1711f,#e8602d,#da4e3c,#ce4347,#c43c4e,#c13a50,#c83f4b,#d54a41,#e55c30,#f3761b,#fa9008,#fca80d,#fbb81d,#fac026,#fac228,#fbbc21,#fcb014,#fc9f07,#f98b0b,#ef6e21,#e45a31,#da4e3c,#d24644,#ca404a,#c43c4e,#d04545,#fcac11,#c83f4b,#771c6d,#57106e,#390963,#1b0c41,#07051b)"></div><div class="hc" style="left:167px;top:22px;width:2px;height:201px;background:linear-gradient(#4a0c6b,#4d0d6c,#510e6c,#540f6d,#57106e,#5c126e,#65156e,#6f196e,#781c6d,#85216b,#972766,#a62d60,#ae305c,#ad305d,#ab2f5e,#a92e5e,#a02a63,#952667,#8a226a,#801f6c,#7d1e6d,#7d1e6d,#7d1e6d,#82206c,#8a226a,#982766,#ad305d,#c43c4e,#d94d3d,#e55c30,#e75e2e,#de5238,#cc4248,#b63458,#a22b62,#972766,#952667,#9d2964,#ad305d,#c13a50,#cf4446,#d34743,#d24644,#d24644,#d94d3d,#e75e2e,#f1711f,#f8870e,#fb9b06,#fca50a,#fca50a,#fb9b06,#f3761b,#dd513a,#c83f4b,#b63458,#ab2f5e,#ab2f5e,#ab2f5e,#ae305c,#b43359,#ba3655,#c03a51,#c73e4c,#d04545,#d84c3e,#dd513a,#dd513a,#de5238,#e55c30,#f1711f,#fcaa0f,#fa9008,#f8850f,#fcac11,#fa9407,#f8870e,#f78410,#f68013,#f68013,#f78410,#f8890c,#f98c0a,#fa9008,#fa9207,#fca50a,#fcaa0f,#fb9606,#fa9207,#fb9606,#fcaa0f,#fca50a,#fa9407,#fa9207,#fb9706,#fcae12,#fc9f07,#fa9008,#f98e09,#fb9606,#fca50a,#f8850f,#f1711f,#e8602d,#db503b,#ce4347,#c43c4e,#c33b4f,#c83f4b,#d54a41,#e55c30,#f3761b,#fa9008,#fca80d,#fbb81d,#fac026,#fac228,#fbbc21,#fcb014,#fc9f07,#f98b0b,#ef6e21,#e45a31,#da4e3c,#d24644,#ca404a,#c43c4e,#e55c30,#fca309,#a92e5e,#71196e,#540f6d,#360961,#190c3e,#07051b)"></div><div class="hc" style="left:169px;top:22px;width:2px;height:201px;background:linear-gradient(#4a0c6b,#4d0d6c,#510e6c,#540f6d,#57106e,#5c126e,#65156e,#6f196e,#781c6d,#85216b,#972766,#a62d60,#ae305c,#ad305d,#ab2f5e,#a82e5f,#9f2a63,#922568,#87216b,#7d1e6d,#7a1d6d,#7a1d6d,#7a1d6d,#7d1e6d,#84206b,#8f2469,#a02a63,#b73557,#cf4446,#e05536,#e75e2e,#e45a31,#d74b3f,#c13a50,#ad305d,#9f2a63,#9a2865,#a02a63,#ae305c,#c13a50,#cf4446,#d34743,#d24644,#d24644,#d94d3d,#e75e2e,#f1711f,#f8870e,#fb9b06,#fca50a,#fca50a,#fb9b06,#f3761b,#dd513a,#c83f4b,#b63458,#ab2f5e,#ab2f5e,#ab2f5e,#ae305c,#b43359,#ba3655,#c03a51,#c73e4c,#d04545,#d84c3e,#dd513a,#dd513a,#de5238,#e55c30,#f1711f,#fca80d,#fa9407,#f8850f,#fcac11,#fb9606,#f8870e,#f8870e,#f78410,#f78410,#f8850f,#f98b0b,#f98e09,#fa9008,#fa9207,#fca50a,#fcaa0f,#fb9606,#fa9207,#fb9606,#fcaa0f,#fca60c,#fa9407,#fa9207,#fb9706,#fcae12,#fc9f07,#fa9008,#f98e09,#fb9606,#fca60c,#f8870e,#f1711f,#e9612b,#db503b,#cf4446,#c63d4d,#c43c4e,#ca404a,#d74b3f,#e65d2f,#f3761b,#fa9207,#fca80d,#fbba1f,#fac026,#fac228,#fbbc21,#fcb014,#fc9f07,#f98b0b,#ef6e21,#e45a31,#da4e3c,#d24644,#ca404a,#c73e4c,#f78212,#f57b17,#922568,#6c186e,#4f0d6c,#320a5e,#180c3c,#07051b)"></div><div class="hc" style="left:171px;top:22px;width:2px;height:201px;background:linear-gradient(#4a0c6b,#4d0d6c,#510e6c,#540f6d,#57106e,#5c126e,#65156e,#6f196e,#781c6d,#85216b,#972766,#a62d60,#ad305d,#ad305d,#a92e5e,#a82e5f,#9d2964,#902568,#85216b,#7c1d6d,#781c6d,#771c6d,#771c6d,#7a1d6d,#7f1e6c,#87216b,#972766,#ab2f5e,#c33b4f,#d84c3e,#e55c30,#e75e2e,#e05536,#cf4446,#b93556,#a82e5f,#a02a63,#a32c61,#b0315b,#c33b4f,#cf4446,#d34743,#d24644,#d24644,#d94d3d,#e75e2e,#f1711f,#f8870e,#fb9b06,#fca50a,#fca50a,#fb9b06,#f2741c,#dd513a,#c83f4b,#b63458,#ab2f5e,#ab2f5e,#ab2f5e,#ae305c,#b43359,#ba3655,#c03a51,#c83f4b,#d04545,#d84c3e,#dd513a,#dd513a,#de5238,#e55c30,#f06f20,#fca50a,#fa9407,#f78410,#fcaa0f,#fb9606,#f8890c,#f8890c,#f8870e,#f8870e,#f8890c,#f98c0a,#f98e09,#fa9008,#fa9207,#fca309,#fcaa0f,#fb9606,#fa9207,#fa9407,#fca80d,#fca60c,#fa9407,#fa9207,#fb9706,#fcac11,#fca108,#fa9008,#f98e09,#fa9407,#fca50a,#f8890c,#f1731d,#ea632a,#de5238,#d24644,#c83f4b,#c63d4d,#cc4248,#d94d3d,#e75e2e,#f37819,#fa9207,#fcaa0f,#fbba1f,#fac026,#fac228,#fbbc21,#fcb014,#fc9f07,#f98b0b,#ef6e21,#e45a31,#da4e3c,#d24644,#ca404a,#cf4446,#fca50a,#dd513a,#84206b,#67166e,#4c0c6b,#310a5c,#180c3c,#07051b)"></div><div class="hc" style="left:173px;top:22px;width:2px;height:201px;background:linear-gradient(#4a0c6b,#4d0d6c,#510e6c,#540f6d,#57106e,#5c126e,#65156e,#6f196e,#781c6d,#85216b,#972766,#a62d60,#ad305d,#ab2f5e,#a92e5e,#a62d60,#9b2964,#8f2469,#82206c,#781c6d,#751b6e,#741a6e,#741a6e,#751b6e,#7a1d6d,#82206c,#8d2369,#9f2a63,#b63458,#ce4347,#df5337,#e75e2e,#e55c30,#da4e3c,#c73e4c,#b43359,#a82e5f,#a82e5f,#b3325a,#c43c4e,#d04545,#d34743,#d24644,#d24644,#d94d3d,#e75e2e,#f1711f,#f8870e,#fb9b06,#fca50a,#fca50a,#fb9b06,#f3761b,#dd513a,#c83f4b,#b63458,#ab2f5e,#ab2f5e,#ab2f5e,#ae305c,#b43359,#ba3655,#c03a51,#c83f4b,#d24644,#d94d3d,#dd513a,#db503b,#de5238,#e55c30,#f06f20,#fca60c,#fb9706,#f78410,#fcac11,#fb9906,#f98b0b,#f98c0a,#f98b0b,#f98c0a,#f98c0a,#f98e09,#fa9008,#fa9008,#fa9207,#fca309,#fcac11,#fb9606,#fa9207,#fa9407,#fca80d,#fca60c,#fa9407,#fa9207,#fb9706,#fcac11,#fca108,#fa9008,#f98e09,#fa9407,#fca60c,#f98b0b,#f2741c,#eb6429,#e05536,#d44842,#cb4149,#ca404a,#cf4446,#db503b,#e9612b,#f47918,#fa9407,#fcaa0f,#fbba1f,#fac026,#fac228,#fbbc21,#fcb014,#fc9f07,#f98b0b,#ef6e21,#e45a31,#da4e3c,#d24644,#ca404a,#de5238,#fcae12,#bd3853,#7d1e6d,#62146e,#490b6a,#2f0a5b,#160b39,#07051b)"></div><div class="hc" style="left:175px;top:22px;width:2px;height:201px;background:linear-gradient(#4a0c6b,#4d0d6c,#510e6c,#540f6d,#57106e,#5c126e,#65156e,#6f196e,#781c6d,#85216b,#972766,#a62d60,#ad305d,#ab2f5e,#a82e5f,#a52c60,#9a2865,#8d2369,#801f6c,#771c6d,#721a6e,#71196e,#71196e,#721a6e,#751b6e,#7c1d6d,#85216b,#932667,#a82e5f,#c03a51,#d54a41,#e35933,#e75e2e,#e25734,#d44842,#c13a50,#b3325a,#ae305c,#b63458,#c63d4d,#d04545,#d34743,#d04545,#d24644,#d94d3d,#e75e2e,#f1711f,#f8870e,#fb9b06,#fca50a,#fca50a,#fb9b06,#f3761b,#dd513a,#c83f4b,#b63458,#ab2f5e,#ab2f5e,#ab2f5e,#ae305c,#b43359,#ba3655,#c03a51,#c83f4b,#d24644,#d94d3d,#dd513a,#db503b,#de5238,#e55c30,#ef6e21,#fca50a,#fb9906,#f78410,#fcaa0f,#fb9906,#f98b0b,#f98e09,#f98e09,#f98e09,#f98e09,#fa9008,#fa9008,#fa9008,#fa9207,#fca108,#fcac11,#fb9706,#fa9207,#fa9407,#fca60c,#fca80d,#fa9407,#fa9207,#fb9606,#fcac11,#fca309,#fa9207,#f98e09,#fa9407,#fca60c,#f98c0a,#f3761b,#eb6628,#e25734,#d74b3f,#cf4446,#ce4347,#d34743,#de5238,#eb6429,#f57d15,#fb9606,#fcac11,#fbba1f,#fac026,#fac228,#fbbc21,#fcb014,#fc9f07,#f98b0b,#ef6e21,#e45a31,#da4e3c,#d24644,#cb4149,#f06f20,#fb9606,#a32c61,#771c6d,#5f136e,#450a69,#2d0b59,#160b39,#07051b)"></div><div class="hc" style="left:177px;top:22px;width:2px;height:201px;background:linear-gradient(#4a0c6b,#4d0d6c,#510e6c,#540f6d,#57106e,#5c126e,#65156e,#6f196e,#781c6d,#85216b,#972766,#a62d60,#ad305d,#ab2f5e,#a82e5f,#a32c61,#982766,#8a226a,#7f1e6c,#741a6e,#71196e,#6d186e,#6d186e,#6f196e,#721a6e,#771c6d,#7f1e6c,#8a226a,#9b2964,#b0315b,#c83f4b,#db503b,#e55c30,#e75e2e,#df5337,#cf4446,#bf3952,#b63458,#ba3655,#c73e4c,#d04545,#d34743,#d04545,#d04545,#d94d3d,#e75e2e,#f1711f,#f8870e,#fb9b06,#fca50a,#fca50a,#fb9b06,#f3761b,#dd513a,#c83f4b,#b63458,#ab2f5e,#ab2f5e,#ab2f5e,#ae305c,#b43359,#ba3655,#c03a51,#c83f4b,#d24644,#d94d3d,#dd513a,#db503b,#de5238,#e55c30,#ef6e21,#fca108,#fb9906,#f78212,#fcaa0f,#fb9b06,#f98b0b,#f98e09,#f98e09,#f98e09,#f98e09,#fa9008,#fa9008,#fa9008,#fa9207,#fca108,#fcac11,#fb9706,#fa9207,#fa9407,#fca60c,#fca80d,#fb9606,#fa9207,#fb9606,#fcaa0f,#fca309,#fa9207,#f98e09,#fa9407,#fca60c,#f98e09,#f37819,#ed6925,#e45a31,#da4e3c,#d44842,#d24644,#d74b3f,#e15635,#ec6726,#f67e14,#fb9706,#fcac11,#fbba1f,#fac228,#fac228,#fbbc21,#fcb014,#fc9f07,#f98b0b,#ef6e21,#e45a31,#da4e3c,#d24644,#cf4446,#fb9606,#ee6a24,#902568,#721a6e,#5a116e,#440a68,#2b0b57,#150b37,#07051b)"></div><div class="hc" style="left:179px;top:22px;width:2px;height:201px;background:linear-gradient(#4a0c6b,#4d0d6c,#510e6c,#540f6d,#57106e,#5c126e,#65156e,#6f196e,#781c6d,#85216b,#972766,#a62d60,#ad305d,#ab2f5e,#a82e5f,#a32c61,#982766,#8a226a,#7d1e6d,#721a6e,#6d186e,#6c186e,#6c186e,#6d186e,#6f196e,#741a6e,#7a1d6d,#82206c,#8f2469,#a22b62,#b93556,#cf4446,#df5337,#e75e2e,#e55c30,#db503b,#cc4248,#c03a51,#c03a51,#c83f4b,#d24644,#d34743,#d04545,#d04545,#d84c3e,#e65d2f,#f06f20,#f8870e,#fb9b06,#fca50a,#fca50a,#fb9b06,#f3761b,#dd513a,#c83f4b,#b63458,#ab2f5e,#ab2f5e,#ab2f5e,#ae305c,#b43359,#ba3655,#c03a51,#c83f4b,#d24644,#d94d3d,#dd513a,#db503b,#de5238,#e55c30,#ef6c23,#fca108,#fb9d07,#f78212,#fcaa0f,#fb9d07,#f98b0b,#f98e09,#f98e09,#f98e09,#f98e09,#fa9008,#fa9008,#fa9008,#fa9207,#fc9f07,#fcae12,#fb9706,#fa9207,#fa9407,#fca50a,#fcaa0f,#fb9606,#fa9207,#fb9606,#fcaa0f,#fca50a,#fa9207,#f98e09,#fa9207,#fca80d,#fa9008,#f47918,#ef6c23,#e75e2e,#df5337,#d84c3e,#d54a41,#da4e3c,#e45a31,#ef6c23,#f78212,#fb9906,#fcae12,#fbbc21,#fac228,#fac228,#fbbc21,#fcb014,#fc9f07,#f98b0b,#ef6e21,#e45a31,#da4e3c,#d24644,#d94d3d,#fcb014,#d34743,#87216b,#6f196e,#57106e,#400a67,#290b55,#150b37,#07051b)"></div><div class="hc" style="left:181px;top:22px;width:2px;height:201px;background:linear-gradient(#4a0c6b,#4d0d6c,#510e6c,#540f6d,#57106e,#5c126e,#65156e,#6f196e,#781c6d,#85216b,#972766,#a62d60,#ad305d,#ab2f5e,#a82e5f,#a32c61,#982766,#8a226a,#7c1d6d,#71196e,#6c186e,#6a176e,#69166e,#6a176e,#6d186e,#71196e,#751b6e,#7d1e6d,#87216b,#952667,#a82e5f,#bf3952,#d44842,#e25734,#e75e2e,#e35933,#d94d3d,#cc4248,#c73e4c,#cb4149,#d24644,#d34743,#cf4446,#cf4446,#d74b3f,#e55c30,#ef6e21,#f8850f,#fb9906,#fca50a,#fca309,#fb9906,#f2741c,#dd513a,#c83f4b,#b63458,#ab2f5e,#ab2f5e,#ab2f5e,#ae305c,#b43359,#ba3655,#c03a51,#c83f4b,#d34743,#da4e3c,#dd513a,#db503b,#de5238,#e55c30,#ef6c23,#fb9d07,#fc9f07,#f78212,#fca60c,#fc9f07,#f98c0a,#f98e09,#f98e09,#f98e09,#f98e09,#fa9008,#fa9008,#fa9008,#fa9207,#fc9f07,#fcae12,#fb9906,#fa9207,#fa9407,#fca50a,#fcaa0f,#fb9606,#fa9207,#fb9606,#fca80d,#fca50a,#fa9207,#f98e09,#fa9207,#fca80d,#fa9207,#f57d15,#f06f20,#e9612b,#e25734,#dd513a,#da4e3c,#df5337,#e75e2e,#f06f20,#f8850f,#fb9b06,#fcae12,#fbbc21,#fac228,#fac228,#fbbc21,#fcb014,#fc9f07,#f98b0b,#ef6e21,#e45a31,#da4e3c,#d24644,#e8602d,#fcaa0f,#b63458,#82206c,#6a176e,#540f6d,#3e0966,#280b53,#140b34,#07051b)"></div><div class="hc" style="left:183px;top:22px;width:2px;height:201px;background:linear-gradient(#4a0c6b,#4d0d6c,#510e6c,#540f6d,#57106e,#5c126e,#65156e,#6f196e,#781c6d,#85216b,#972766,#a62d60,#ad305d,#ab2f5e,#a92e5e,#a52c60,#9a2865,#8a226a,#7c1d6d,#6f196e,#6a176e,#67166e,#67166e,#69166e,#6a176e,#6d186e,#721a6e,#781c6d,#801f6c,#8a226a,#9a2865,#ae305c,#c43c4e,#d84c3e,#e35933,#e65d2f,#e15635,#d74b3f,#cf4446,#cf4446,#d34743,#d34743,#cf4446,#cf4446,#d54a41,#e45a31,#ef6c23,#f78410,#fb9906,#fca50a,#fca309,#fb9906,#f2741c,#dd513a,#c83f4b,#b63458,#ab2f5e,#ab2f5e,#ab2f5e,#ae305c,#b43359,#ba3655,#c03a51,#c83f4b,#d34743,#da4e3c,#dd513a,#db503b,#de5238,#e55c30,#ef6c23,#fb9b06,#fca108,#f78212,#fca60c,#fc9f07,#f98c0a,#f98e09,#f98e09,#f98e09,#f98e09,#fa9008,#fa9008,#fa9008,#fa9207,#fb9d07,#fcae12,#fb9906,#fa9207,#fa9407,#fca309,#fcac11,#fb9606,#fa9207,#fb9606,#fca80d,#fca60c,#fa9207,#f98e09,#fa9207,#fca80d,#fb9606,#f67e14,#f1731d,#eb6628,#e55c30,#e05536,#de5238,#e25734,#ea632a,#f1731d,#f8870e,#fb9d07,#fcb014,#fbbc21,#fac228,#fac228,#fbbc21,#fcb014,#fc9f07,#f98b0b,#ef6e21,#e45a31,#da4e3c,#d44842,#f78212,#f8890c,#a02a63,#7d1e6d,#67166e,#520e6d,#3d0965,#260c51,#140b34,#07051b)"></div><div class="hc" style="left:185px;top:22px;width:2px;height:201px;background:linear-gradient(#4a0c6b,#4d0d6c,#510e6c,#540f6d,#57106e,#5c126e,#65156e,#6f196e,#781c6d,#85216b,#972766,#a62d60,#ad305d,#ab2f5e,#ab2f5e,#a62d60,#9b2964,#8c2369,#7c1d6d,#6f196e,#6a176e,#67166e,#65156e,#67166e,#69166e,#6c186e,#71196e,#751b6e,#7a1d6d,#82206c,#8d2369,#9f2a63,#b3325a,#c83f4b,#da4e3c,#e45a31,#e55c30,#df5337,#d54a41,#d24644,#d34743,#d34743,#cf4446,#ce4347,#d44842,#e25734,#ed6925,#f68013,#fb9706,#fca50a,#fca309,#fb9906,#f2741c,#dd513a,#c83f4b,#b63458,#ab2f5e,#ab2f5e,#ab2f5e,#ae305c,#b43359,#ba3655,#c03a51,#ca404a,#d34743,#da4e3c,#dd513a,#db503b,#de5238,#e55c30,#ee6a24,#fb9906,#fca309,#f78212,#fca50a,#fca309,#f98c0a,#f98e09,#f98e09,#f98e09,#f98e09,#fa9008,#fa9008,#fa9008,#fa9207,#fb9d07,#fcae12,#fb9906,#fa9207,#fa9407,#fca309,#fcac11,#fb9606,#fa9207,#fa9407,#fca80d,#fca80d,#fa9207,#f98e09,#fa9207,#fca80d,#fb9706,#f68013,#f2741c,#ed6925,#e8602d,#e45a31,#e15635,#e55c30,#ec6726,#f37819,#f98b0b,#fc9f07,#fcb014,#fbbc21,#fac228,#fac228,#fbbc21,#fcb014,#fc9f07,#f98b0b,#ef6e21,#e45a31,#da4e3c,#d94d3d,#fca309,#e8602d,#922568,#781c6d,#64156e,#4f0d6c,#390963,#240c4f,#120a32,#07051b)"></div><div class="hc" style="left:187px;top:22px;width:2px;height:201px;background:linear-gradient(#4a0c6b,#4d0d6c,#510e6c,#540f6d,#57106e,#5c126e,#65156e,#6f196e,#781c6d,#85216b,#972766,#a62d60,#ad305d,#ad305d,#ad305d,#a92e5e,#9f2a63,#8f2469,#7d1e6d,#71196e,#69166e,#65156e,#65156e,#65156e,#67166e,#6a176e,#6d186e,#721a6e,#771c6d,#7d1e6d,#85216b,#902568,#a22b62,#b63458,#ca404a,#da4e3c,#e25734,#e15635,#da4e3c,#d44842,#d34743,#d34743,#d04545,#ce4347,#d34743,#df5337,#eb6628,#f67e14,#fb9706,#fca50a,#fca309,#fb9906,#f2741c,#dd513a,#c83f4b,#b63458,#ab2f5e,#ab2f5e,#ab2f5e,#ae305c,#b43359,#ba3655,#c03a51,#ca404a,#d44842,#da4e3c,#dd513a,#db503b,#de5238,#e55c30,#ee6a24,#fb9606,#fca309,#f78212,#fca309,#fca309,#f98c0a,#f98e09,#f98e09,#f98e09,#f98e09,#fa9008,#fa9008,#fa9008,#fa9207,#fb9b06,#fcae12,#fb9b06,#fa9207,#fa9407,#fca108,#fcac11,#fb9706,#fa9207,#fa9407,#fca60c,#fca80d,#fa9207,#f98e09,#fa9008,#fca60c,#fb9906,#f78212,#f37819,#ef6e21,#eb6429,#e75e2e,#e45a31,#e8602d,#ee6a24,#f57b17,#f98c0a,#fca108,#fcb216,#fbbe23,#fac228,#fac228,#fbbc21,#fcb014,#fc9f07,#f98b0b,#ef6e21,#e45a31,#da4e3c,#e35933,#fcb418,#cc4248,#8a226a,#751b6e,#61136e,#4c0c6b,#380962,#230c4c,#120a32,#07051b)"></div><div class="hc" style="left:189px;top:22px;width:2px;height:201px;background:linear-gradient(#4a0c6b,#4d0d6c,#510e6c,#540f6d,#57106e,#5c126e,#65156e,#6f196e,#781c6d,#85216b,#972766,#a62d60,#ae305c,#ae305c,#ae305c,#ad305d,#a22b62,#922568,#7f1e6c,#71196e,#6a176e,#67166e,#65156e,#65156e,#67166e,#69166e,#6c186e,#71196e,#741a6e,#781c6d,#7f1e6c,#87216b,#932667,#a32c61,#b73557,#cb4149,#da4e3c,#df5337,#dd513a,#d74b3f,#d44842,#d34743,#d24644,#d04545,#d24644,#de5238,#ea632a,#f57d15,#fb9706,#fca50a,#fca309,#fb9906,#f2741c,#dd513a,#c83f4b,#b63458,#ab2f5e,#ab2f5e,#ab2f5e,#ae305c,#b43359,#ba3655,#c13a50,#ca404a,#d44842,#db503b,#dd513a,#db503b,#df5337,#e65d2f,#ee6a24,#fa9407,#fca60c,#f78212,#fca108,#fca50a,#f98c0a,#f98e09,#f98e09,#f98e09,#f98e09,#fa9008,#fa9008,#fa9008,#fa9207,#fb9b06,#fcae12,#fb9b06,#fa9207,#fa9207,#fca108,#fcae12,#fb9706,#fa9207,#fa9407,#fca60c,#fcaa0f,#fa9407,#f98e09,#fa9008,#fca80d,#fb9d07,#f78410,#f57b17,#f1711f,#ed6925,#e9612b,#e75e2e,#eb6429,#f06f20,#f67e14,#fa9008,#fca309,#fcb216,#fbbe23,#fac228,#fac228,#fbbc21,#fcb014,#fc9f07,#f98b0b,#ef6e21,#e45a31,#db503b,#f06f20,#fca50a,#b3325a,#85216b,#721a6e,#5d126e,#4a0c6b,#360961,#230c4c,#120a32,#07051b)"></div><div class="hc" style="left:191px;top:22px;width:2px;height:201px;background:linear-gradient(#4a0c6b,#4d0d6c,#510e6c,#540f6d,#57106e,#5c126e,#65156e,#6f196e,#781c6d,#85216b,#972766,#a62d60,#ae305c,#b0315b,#b0315b,#ae305c,#a52c60,#932667,#801f6c,#721a6e,#6a176e,#67166e,#65156e,#65156e,#67166e,#69166e,#6c186e,#6f196e,#721a6e,#751b6e,#7a1d6d,#801f6c,#88226a,#952667,#a52c60,#ba3655,#cc4248,#d84c3e,#da4e3c,#d74b3f,#d44842,#d44842,#d44842,#d34743,#d34743,#dd513a,#e9612b,#f57b17,#fb9606,#fca50a,#fca309,#fb9906,#f2741c,#dd513a,#c83f4b,#b63458,#ab2f5e,#ab2f5e,#ab2f5e,#ae305c,#b43359,#ba3655,#c13a50,#ca404a,#d44842,#db503b,#dd513a,#da4e3c,#df5337,#e65d2f,#ed6925,#fa9207,#fca80d,#f78212,#fc9f07,#fca60c,#f98e09,#f98e09,#f98e09,#f98e09,#f98e09,#fa9008,#fa9008,#fa9008,#fa9207,#fb9906,#fcae12,#fb9d07,#fa9207,#fa9207,#fc9f07,#fcae12,#fb9706,#fa9207,#fa9407,#fca50a,#fcaa0f,#fa9407,#f98e09,#fa9008,#fca60c,#fc9f07,#f8850f,#f57d15,#f2741c,#ef6c23,#eb6628,#e9612b,#ec6726,#f1731d,#f68013,#fa9207,#fca50a,#fcb418,#fbbe23,#fac228,#fac228,#fbbc21,#fcb014,#fc9f07,#f98b0b,#ef6e21,#e45a31,#de5238,#fa9008,#f78212,#9f2a63,#82206c,#6f196e,#5a116e,#490b6a,#340a5f,#210c4a,#120a32,#07051b)"></div><div class="hc" style="left:193px;top:22px;width:2px;height:201px;background:linear-gradient(#4a0c6b,#4d0d6c,#510e6c,#540f6d,#57106e,#5c126e,#65156e,#6f196e,#781c6d,#85216b,#972766,#a62d60,#ae305c,#b0315b,#b1325a,#b0315b,#a82e5f,#972766,#84206b,#741a6e,#6c186e,#69166e,#67166e,#67166e,#67166e,#69166e,#6c186e,#6d186e,#71196e,#741a6e,#771c6d,#7c1d6d,#82206c,#8a226a,#972766,#a92e5e,#bd3853,#cc4248,#d44842,#d54a41,#d44842,#d44842,#d54a41,#d34743,#d34743,#dd513a,#e9612b,#f57b17,#fb9606,#fca50a,#fca309,#fb9906,#f2741c,#dd513a,#c83f4b,#b63458,#ab2f5e,#ab2f5e,#ab2f5e,#ae305c,#b43359,#ba3655,#c13a50,#cb4149,#d54a41,#db503b,#dd513a,#da4e3c,#df5337,#e65d2f,#ed6925,#f98e09,#fca80d,#f78410,#fb9d07,#fca60c,#f98e09,#f98e09,#f98e09,#f98e09,#f98e09,#fa9008,#fa9008,#fa9008,#fa9207,#fb9906,#fcae12,#fb9d07,#fa9207,#fa9207,#fb9d07,#fcae12,#fb9906,#fa9207,#fa9407,#fca309,#fcaa0f,#fa9407,#f98e09,#fa9008,#fca60c,#fca108,#f8870e,#f67e14,#f3761b,#f06f20,#ed6925,#eb6429,#ee6a24,#f3761b,#f78410,#fa9407,#fca50a,#fcb418,#fbbe23,#fac228,#fac228,#fbbc21,#fcb014,#fc9f07,#f98b0b,#ef6e21,#e45a31,#e25734,#fcac11,#e45a31,#932667,#7d1e6d,#6c186e,#59106e,#450a69,#320a5e,#1f0c48,#110a30,#07051b)"></div><div class="hc" style="left:195px;top:22px;width:1px;height:201px;background:linear-gradient(#4a0c6b,#4d0d6c,#510e6c,#540f6d,#57106e,#5c126e,#65156e,#6f196e,#781c6d,#85216b,#972766,#a82e5f,#b0315b,#b0315b,#b1325a,#b1325a,#a82e5f,#982766,#85216b,#751b6e,#6d186e,#69166e,#67166e,#67166e,#67166e,#69166e,#6a176e,#6d186e,#6f196e,#721a6e,#751b6e,#781c6d,#7f1e6c,#85216b,#8f2469,#9f2a63,#b0315b,#c13a50,#cf4446,#d44842,#d54a41,#d54a41,#d44842,#d24644,#d34743,#de5238,#ea632a,#f57d15,#fb9706,#fca50a,#fca309,#fb9906,#f2741c,#dd513a,#c83f4b,#b63458,#ab2f5e,#ab2f5e,#ab2f5e,#ae305c,#b43359,#ba3655,#c13a50,#cb4149,#d54a41,#db503b,#dd513a,#da4e3c,#df5337,#e65d2f,#ed6925,#f98c0a,#fcac11,#f78410,#fb9d07,#fca80d,#f98e09,#f98e09,#f98e09,#f98e09,#f98e09,#fa9008,#fa9008,#fa9008,#fa9207,#fb9906,#fcae12,#fc9f07,#fa9207,#fa9207,#fb9d07,#fcae12,#fb9906,#fa9207,#fa9407,#fca309,#fcac11,#fb9606,#f98e09,#fa9008,#fca50a,#fca309,#f8890c,#f68013,#f37819,#f1711f,#ee6a24,#ec6726,#ef6c23,#f37819,#f8850f,#fb9606,#fca60c,#fcb418,#fbbe23,#fac228,#fac228,#fbbc21,#fcb014,#fc9f07,#f98b0b,#ef6e21,#e45a31,#e8602d,#fbb61a,#d04545,#8f2469,#7c1d6d,#69166e,#57106e,#450a69,#320a5e,#1f0c48,#110a30,#07051b)"></div><div class="hc" style="left:31px;top:284px;width:2px;height:201px;background:linear-gradient(#420a68,#420a68,#440a68,#470b6a,#4a0c6b,#4f0d6c,#57106e,#64156e,#751b6e,#8d2369,#a82e5f,#c33b4f,#d84c3e,#e65d2f,#eb6628,#eb6429,#e35933,#d54a41,#c13a50,#ab2f5e,#972766,#88226a,#7f1e6c,#7a1d6d,#7a1d6d,#85216b,#922568,#a02a63,#ab2f5e,#b63458,#ba3655,#bc3754,#bd3853,#ca404a,#e15635,#f1731d,#f8850f,#f98c0a,#f98e09,#f98c0a,#f78212,#f1711f,#e9612b,#eb6429,#ef6e21,#f37819,#f47918,#f57b17,#f67e14,#f57b17,#ea632a,#da4e3c,#c13a50,#9b2964,#82206c,#7f1e6c,#7c1d6d,#781c6d,#7a1d6d,#7d1e6d,#82206c,#902568,#a32c61,#b63458,#c63d4d,#d54a41,#da4e3c,#df5337,#e25734,#e45a31,#e55c30,#e65d2f,#e8602d,#ea632a,#eb6628,#ed6925,#ef6c23,#f06f20,#f2741c,#f37819,#f57b17,#f67e14,#f78212,#f8850f,#f8890c,#f98e09,#fa9207,#fb9606,#fb9b06,#fca108,#fca50a,#fca60c,#fca60c,#fca80d,#fca80d,#fcaa0f,#fcaa0f,#fcaa0f,#fcaa0f,#fcac11,#fcac11,#fcac11,#fcae12,#fcae12,#fcae12,#fcae12,#fcae12,#fcae12,#fcae12,#fcae12,#fcae12,#fcae12,#fcae12,#fcae12,#fcae12,#fcae12,#fcac11,#fcaa0f,#fca80d,#fca60c,#fca309,#fb9b06,#fa9407,#f98c0a,#f47918,#e8602d,#d44842,#ba3655,#972766,#6f196e,#4d0d6c,#320a5e,#1b0c41,#0d0829,#07051b)"></div><div class="hc" style="left:33px;top:284px;width:2px;height:201px;background:linear-gradient(#420a68,#420a68,#440a68,#470b6a,#4a0c6b,#4f0d6c,#57106e,#64156e,#751b6e,#8c2369,#a62d60,#c13a50,#d84c3e,#e55c30,#eb6628,#eb6429,#e45a31,#d54a41,#c13a50,#ab2f5e,#972766,#88226a,#7f1e6c,#7a1d6d,#7a1d6d,#85216b,#922568,#a02a63,#ab2f5e,#b63458,#ba3655,#bc3754,#bd3853,#ca404a,#e15635,#f1731d,#f8850f,#f98c0a,#f98e09,#f98c0a,#f78212,#f1711f,#e8602d,#eb6429,#ef6e21,#f37819,#f47918,#f57b17,#f67e14,#f57b17,#ea632a,#da4e3c,#c13a50,#9b2964,#82206c,#7f1e6c,#7c1d6d,#781c6d,#7a1d6d,#7d1e6d,#82206c,#902568,#a32c61,#b63458,#c63d4d,#d54a41,#da4e3c,#df5337,#e25734,#e45a31,#e55c30,#e65d2f,#e8602d,#ea632a,#eb6628,#ed6925,#ef6c23,#f06f20,#f2741c,#f37819,#f57b17,#f67e14,#f78212,#f8850f,#f8890c,#f98e09,#fa9207,#fb9606,#fb9b06,#fca108,#fca50a,#fca60c,#fca60c,#fca80d,#fca80d,#fcaa0f,#fcaa0f,#fcaa0f,#fcaa0f,#fcac11,#fcac11,#fcac11,#fcae12,#fcae12,#fcae12,#fcae12,#fcae12,#fcae12,#fcae12,#fcae12,#fcae12,#fcae12,#fcae12,#fcae12,#fcae12,#fcae12,#fcac11,#fcaa0f,#fca80d,#fca60c,#fca309,#fb9b06,#fa9407,#f98c0a,#f47918,#e8602d,#d44842,#ba3655,#972766,#6f196e,#4d0d6c,#320a5e,#1b0c41,#0d0829,#07051b)"></div><div class="hc" style="left:35px;top:284px;width:2px;height:201px;background:linear-gradient(#420a68,#420a68,#440a68,#470b6a,#4a0c6b,#4f0d6c,#57106e,#64156e,#751b6e,#8c2369,#a52c60,#c03a51,#d74b3f,#e55c30,#eb6628,#eb6429,#e45a31,#d74b3f,#c33b4f,#ad305d,#982766,#8a226a,#7f1e6c,#7a1d6d,#7a1d6d,#85216b,#922568,#a02a63,#ab2f5e,#b63458,#ba3655,#bc3754,#bd3853,#ca404a,#e15635,#f2741c,#f8850f,#f98c0a,#f98e09,#f98c0a,#f78212,#f1711f,#e8602d,#eb6429,#ef6e21,#f37819,#f47918,#f57b17,#f67e14,#f57b17,#ea632a,#da4e3c,#c13a50,#9b2964,#82206c,#7f1e6c,#7c1d6d,#781c6d,#7a1d6d,#7d1e6d,#82206c,#902568,#a32c61,#b63458,#c63d4d,#d54a41,#da4e3c,#df5337,#e25734,#e45a31,#e55c30,#e65d2f,#e8602d,#ea632a,#eb6628,#ed6925,#ef6c23,#f06f20,#f2741c,#f37819,#f57b17,#f67e14,#f78212,#f8850f,#f8890c,#f98e09,#fa9207,#fb9606,#fb9b06,#fca108,#fca50a,#fca60c,#fca60c,#fca80d,#fca80d,#fcaa0f,#fcaa0f,#fcaa0f,#fcaa0f,#fcac11,#fcac11,#fcac11,#fcae12,#fcae12,#fcae12,#fcae12,#fcae12,#fcae12,#fcae12,#fcae12,#fcae12,#fcae12,#fcae12,#fcae12,#fcae12,#fcae12,#fcac11,#fcaa0f,#fca80d,#fca60c,#fca309,#fb9b06,#fa9407,#f98c0a,#f47918,#e8602d,#d44842,#ba3655,#972766,#6f196e,#4d0d6c,#320a5e,#1b0c41,#0d0829,#07051b)"></div><div class="hc" style="left:37px;top:284px;width:2px;height:201px;background:linear-gradient(#420a68,#420a68,#440a68,#470b6a,#4a0c6b,#4f0d6c,#57106e,#62146e,#741a6e,#8a226a,#a52c60,#c03a51,#d54a41,#e45a31,#eb6429,#eb6628,#e55c30,#d84c3e,#c43c4e,#ad305d,#9a2865,#8a226a,#801f6c,#7c1d6d,#7a1d6d,#85216b,#922568,#a02a63,#ad305d,#b63458,#ba3655,#bc3754,#bd3853,#cb4149,#e15635,#f2741c,#f8870e,#f98c0a,#f98e09,#f98c0a,#f68013,#f1711f,#e8602d,#eb6429,#ef6c23,#f37819,#f47918,#f57b17,#f67e14,#f57b17,#ea632a,#da4e3c,#c13a50,#9b2964,#82206c,#7f1e6c,#7c1d6d,#781c6d,#7a1d6d,#7d1e6d,#82206c,#902568,#a32c61,#b63458,#c63d4d,#d54a41,#da4e3c,#df5337,#e25734,#e45a31,#e55c30,#e65d2f,#e8602d,#ea632a,#eb6628,#ed6925,#ef6c23,#f06f20,#f2741c,#f37819,#f57b17,#f67e14,#f78212,#f8850f,#f8890c,#f98e09,#fa9207,#fb9606,#fb9b06,#fca108,#fca50a,#fca60c,#fca60c,#fca80d,#fca80d,#fcaa0f,#fcaa0f,#fcaa0f,#fcaa0f,#fcac11,#fcac11,#fcac11,#fcae12,#fcae12,#fcae12,#fcae12,#fcae12,#fcae12,#fcae12,#fcae12,#fcae12,#fcae12,#fcae12,#fcae12,#fcae12,#fcae12,#fcac11,#fcaa0f,#fca80d,#fca60c,#fca309,#fb9b06,#fa9407,#f98c0a,#f47918,#e8602d,#d44842,#ba3655,#972766,#6f196e,#4d0d6c,#320a5e,#1b0c41,#0d0829,#07051b)"></div><div class="hc" style="left:39px;top:284px;width:2px;height:201px;background:linear-gradient(#420a68,#420a68,#440a68,#470b6a,#490b6a,#4d0d6c,#550f6d,#62146e,#721a6e,#88226a,#a32c61,#bf3952,#d54a41,#e45a31,#eb6429,#eb6628,#e55c30,#d84c3e,#c63d4d,#ae305c,#9a2865,#8c2369,#801f6c,#7c1d6d,#7a1d6d,#85216b,#922568,#a02a63,#ad305d,#b63458,#ba3655,#bc3754,#bd3853,#cb4149,#e25734,#f2741c,#f8870e,#f98c0a,#f98c0a,#f98c0a,#f68013,#f06f20,#e8602d,#eb6429,#ef6c23,#f37819,#f47918,#f57b17,#f67e14,#f57b17,#ea632a,#da4e3c,#c13a50,#9b2964,#82206c,#7f1e6c,#7c1d6d,#781c6d,#7a1d6d,#7d1e6d,#82206c,#902568,#a32c61,#b63458,#c63d4d,#d54a41,#da4e3c,#df5337,#e25734,#e45a31,#e55c30,#e65d2f,#e8602d,#ea632a,#eb6628,#ed6925,#ef6c23,#f06f20,#f2741c,#f37819,#f57b17,#f67e14,#f78212,#f8850f,#f8890c,#f98e09,#fa9207,#fb9606,#fb9b06,#fca108,#fca50a,#fca60c,#fca60c,#fca80d,#fca80d,#fcaa0f,#fcaa0f,#fcaa0f,#fcaa0f,#fcac11,#fcac11,#fcac11,#fcae12,#fcae12,#fcae12,#fcae12,#fcae12,#fcae12,#fcae12,#fcae12,#fcae12,#fcae12,#fcae12,#fcae12,#fcae12,#fcae12,#fcac11,#fcaa0f,#fca80d,#fca60c,#fca309,#fb9b06,#fa9407,#f98c0a,#f47918,#e8602d,#d44842,#ba3655,#972766,#6f196e,#4d0d6c,#320a5e,#1b0c41,#0d0829,#07051b)"></div><div class="hc" style="left:41px;top:284px;width:2px;height:201px;background:linear-gradient(#420a68,#420a68,#440a68,#450a69,#490b6a,#4d0d6c,#550f6d,#61136e,#721a6e,#87216b,#a22b62,#bc3754,#d34743,#e35933,#eb6429,#eb6628,#e65d2f,#d94d3d,#c73e4c,#b0315b,#9b2964,#8c2369,#82206c,#7c1d6d,#7a1d6d,#85216b,#932667,#a02a63,#ad305d,#b63458,#ba3655,#bc3754,#bd3853,#cb4149,#e25734,#f2741c,#f8870e,#f98c0a,#f98c0a,#f98c0a,#f68013,#f06f20,#e8602d,#eb6429,#ef6c23,#f37819,#f47918,#f57b17,#f67e14,#f57b17,#ea632a,#da4e3c,#c13a50,#9b2964,#82206c,#7f1e6c,#7c1d6d,#781c6d,#7a1d6d,#7d1e6d,#82206c,#902568,#a32c61,#b63458,#c63d4d,#d54a41,#da4e3c,#df5337,#e25734,#e45a31,#e55c30,#e65d2f,#e8602d,#ea632a,#eb6628,#ed6925,#ef6c23,#f06f20,#f2741c,#f37819,#f57b17,#f67e14,#f78212,#f8850f,#f8890c,#f98e09,#fa9207,#fb9606,#fb9b06,#fca108,#fca50a,#fca60c,#fca60c,#fca80d,#fca80d,#fcaa0f,#fcaa0f,#fcaa0f,#fcaa0f,#fcac11,#fcac11,#fcac11,#fcae12,#fcae12,#fcae12,#fcae12,#fcae12,#fcae12,#fcae12,#fcae12,#fcae12,#fcae12,#fcae12,#fcae12,#fcae12,#fcae12,#fcac11,#fcaa0f,#fca80d,#fca60c,#fca309,#fb9b06,#fa9407,#f98c0a,#f47918,#e8602d,#d44842,#ba3655,#972766,#6f196e,#4d0d6c,#320a5e,#1b0c41,#0d0829,#07051b)"></div><div class="hc" style="left:43px;top:284px;width:2px;height:201px;background:linear-gradient(#420a68,#420a68,#440a68,#450a69,#490b6a,#4d0d6c,#550f6d,#61136e,#71196e,#85216b,#9f2a63,#ba3655,#d24644,#e25734,#eb6429,#eb6628,#e75e2e,#da4e3c,#c83f4b,#b3325a,#9d2964,#8d2369,#82206c,#7c1d6d,#7c1d6d,#85216b,#932667,#a22b62,#ad305d,#b63458,#ba3655,#bc3754,#bd3853,#cb4149,#e25734,#f3761b,#f8870e,#f98c0a,#f98c0a,#f98c0a,#f68013,#f06f20,#e75e2e,#ea632a,#ef6c23,#f37819,#f47918,#f57b17,#f67e14,#f57b17,#ea632a,#da4e3c,#c13a50,#9b2964,#82206c,#7f1e6c,#7c1d6d,#781c6d,#7a1d6d,#7d1e6d,#82206c,#902568,#a32c61,#b63458,#c63d4d,#d54a41,#da4e3c,#df5337,#e25734,#e45a31,#e55c30,#e65d2f,#e8602d,#ea632a,#eb6628,#ed6925,#ef6c23,#f06f20,#f2741c,#f37819,#f57b17,#f67e14,#f78212,#f8850f,#f8890c,#f98e09,#fa9207,#fb9606,#fb9b06,#fca108,#fca50a,#fca60c,#fca60c,#fca80d,#fca80d,#fcaa0f,#fcaa0f,#fcaa0f,#fcaa0f,#fcac11,#fcac11,#fcac11,#fcae12,#fcae12,#fcae12,#fcae12,#fcae12,#fcae12,#fcae12,#fcae12,#fcae12,#fcae12,#fcae12,#fcae12,#fcae12,#fcae12,#fcac11,#fcaa0f,#fca80d,#fca60c,#fca309,#fb9b06,#fa9407,#f98c0a,#f47918,#e8602d,#d44842,#ba3655,#982766,#71196e,#4d0d6c,#320a5e,#1b0c41,#0d0829,#07051b)"></div><div class="hc" style="left:45px;top:284px;width:2px;height:201px;background:linear-gradient(#420a68,#420a68,#440a68,#450a69,#490b6a,#4d0d6c,#540f6d,#5f136e,#6f196e,#84206b,#9d2964,#b93556,#d04545,#e15635,#ea632a,#eb6628,#e75e2e,#db503b,#ca404a,#b43359,#9f2a63,#8f2469,#84206b,#7d1e6d,#7c1d6d,#85216b,#932667,#a22b62,#ad305d,#b63458,#ba3655,#bc3754,#bd3853,#cc4248,#e35933,#f3761b,#f8870e,#f98c0a,#f98c0a,#f98c0a,#f68013,#f06f20,#e75e2e,#ea632a,#ef6c23,#f37819,#f47918,#f57b17,#f67e14,#f57b17,#ea632a,#da4e3c,#c13a50,#9b2964,#82206c,#7f1e6c,#7c1d6d,#781c6d,#7a1d6d,#7d1e6d,#82206c,#902568,#a32c61,#b63458,#c63d4d,#d54a41,#da4e3c,#df5337,#e25734,#e45a31,#e55c30,#e65d2f,#e8602d,#ea632a,#eb6628,#ed6925,#ef6c23,#f06f20,#f2741c,#f37819,#f57b17,#f67e14,#f78212,#f8850f,#f8890c,#f98e09,#fa9207,#fb9606,#fb9b06,#fca108,#fca50a,#fca60c,#fca60c,#fca80d,#fca80d,#fcaa0f,#fcaa0f,#fcaa0f,#fcaa0f,#fcac11,#fcac11,#fcac11,#fcae12,#fcae12,#fcae12,#fcae12,#fcae12,#fcae12,#fcae12,#fcae12,#fcae12,#fcae12,#fcae12,#fcae12,#fcae12,#fcae12,#fcac11,#fcaa0f,#fca80d,#fca60c,#fca309,#fb9b06,#fa9407,#f98c0a,#f47918,#e8602d,#d44842,#ba3655,#982766,#71196e,#4d0d6c,#320a5e,#1b0c41,#0d0829,#07051b)"></div><div class="hc" style="left:47px;top:284px;width:2px;height:201px;background:linear-gradient(#420a68,#420a68,#440a68,#450a69,#490b6a,#4d0d6c,#540f6d,#5d126e,#6d186e,#82206c,#9b2964,#b63458,#cf4446,#e05536,#ea632a,#eb6628,#e8602d,#de5238,#cb4149,#b63458,#a22b62,#902568,#85216b,#7d1e6d,#7c1d6d,#87216b,#932667,#a22b62,#ad305d,#b63458,#ba3655,#bc3754,#bf3952,#cc4248,#e35933,#f3761b,#f8870e,#f98c0a,#f98c0a,#f98b0b,#f68013,#f06f20,#e75e2e,#ea632a,#ef6c23,#f37819,#f47918,#f57b17,#f67e14,#f57b17,#ea632a,#da4e3c,#c13a50,#9b2964,#82206c,#7f1e6c,#7c1d6d,#781c6d,#7a1d6d,#7d1e6d,#82206c,#902568,#a32c61,#b63458,#c63d4d,#d54a41,#da4e3c,#df5337,#e25734,#e45a31,#e55c30,#e65d2f,#e8602d,#ea632a,#eb6628,#ed6925,#ef6c23,#f06f20,#f2741c,#f37819,#f57b17,#f67e14,#f78212,#f8850f,#f8890c,#f98e09,#fa9207,#fb9606,#fb9b06,#fca108,#fca50a,#fca60c,#fca60c,#fca80d,#fca80d,#fcaa0f,#fcaa0f,#fcaa0f,#fcaa0f,#fcac11,#fcac11,#fcac11,#fcae12,#fcae12,#fcae12,#fcae12,#fcae12,#fcae12,#fcae12,#fcae12,#fcae12,#fcae12,#fcae12,#fcae12,#fcae12,#fcae12,#fcac11,#fcaa0f,#fca80d,#fca60c,#fca309,#fb9b06,#fa9407,#f98c0a,#f47918,#e8602d,#d44842,#ba3655,#982766,#71196e,#4d0d6c,#320a5e,#1b0c41,#0d0829,#07051b)"></div><div class="hc" style="left:49px;top:284px;width:2px;height:201px;background:linear-gradient(#420a68,#420a68,#440a68,#450a69,#490b6a,#4c0c6b,#520e6d,#5d126e,#6c186e,#7f1e6c,#982766,#b43359,#cc4248,#df5337,#e9612b,#eb6628,#e9612b,#df5337,#ce4347,#b93556,#a32c61,#922568,#85216b,#7f1e6c,#7c1d6d,#87216b,#932667,#a22b62,#ad305d,#b63458,#ba3655,#bc3754,#bf3952,#cc4248,#e35933,#f3761b,#f8870e,#f98c0a,#f98c0a,#f98b0b,#f67e14,#ef6e21,#e75e2e,#ea632a,#ef6c23,#f37819,#f47918,#f57b17,#f67e14,#f57b17,#ea632a,#da4e3c,#c13a50,#9b2964,#82206c,#7f1e6c,#7c1d6d,#781c6d,#7a1d6d,#7d1e6d,#82206c,#902568,#a32c61,#b63458,#c63d4d,#d54a41,#da4e3c,#df5337,#e25734,#e45a31,#e55c30,#e65d2f,#e8602d,#ea632a,#eb6628,#ed6925,#ef6c23,#f06f20,#f2741c,#f37819,#f57b17,#f67e14,#f78212,#f8850f,#f8890c,#f98e09,#fa9207,#fb9606,#fb9b06,#fca108,#fca50a,#fca60c,#fca60c,#fca80d,#fca80d,#fcaa0f,#fcaa0f,#fcaa0f,#fcaa0f,#fcac11,#fcac11,#fcac11,#fcae12,#fcae12,#fcae12,#fcae12,#fcae12,#fcae12,#fcae12,#fcae12,#fcae12,#fcae12,#fcae12,#fcae12,#fcae12,#fcae12,#fcac11,#fcaa0f,#fca80d,#fca60c,#fca309,#fb9b06,#fa9407,#f98c0a,#f47918,#e8602d,#d44842,#ba3655,#982766,#71196e,#4d0d6c,#320a5e,#1c0c43,#0d0829,#07051b)"></div><div class="hc" style="left:51px;top:284px;width:2px;height:201px;background:linear-gradient(#420a68,#420a68,#440a68,#450a69,#490b6a,#4c0c6b,#520e6d,#5c126e,#6a176e,#7d1e6d,#952667,#b1325a,#cb4149,#de5238,#e8602d,#eb6628,#e9612b,#e05536,#cf4446,#ba3655,#a52c60,#932667,#87216b,#7f1e6c,#7d1e6d,#87216b,#932667,#a22b62,#ad305d,#b63458,#ba3655,#bc3754,#bf3952,#cc4248,#e45a31,#f37819,#f8870e,#f98c0a,#f98c0a,#f98b0b,#f67e14,#ef6e21,#e75e2e,#ea632a,#ef6c23,#f37819,#f47918,#f57b17,#f67e14,#f57b17,#ea632a,#da4e3c,#c13a50,#9b2964,#82206c,#7f1e6c,#7c1d6d,#781c6d,#7a1d6d,#7d1e6d,#82206c,#902568,#a32c61,#b63458,#c63d4d,#d54a41,#da4e3c,#df5337,#e25734,#e45a31,#e55c30,#e65d2f,#e8602d,#ea632a,#eb6628,#ed6925,#ef6c23,#f06f20,#f2741c,#f37819,#f57b17,#f67e14,#f78212,#f8850f,#f8890c,#f98e09,#fa9207,#fb9606,#fb9b06,#fca108,#fca50a,#fca60c,#fca60c,#fca80d,#fca80d,#fcaa0f,#fcaa0f,#fcaa0f,#fcaa0f,#fcac11,#fcac11,#fcac11,#fcae12,#fcae12,#fcae12,#fcae12,#fcae12,#fcae12,#fcae12,#fcae12,#fcae12,#fcae12,#fcae12,#fcae12,#fcae12,#fcae12,#fcac11,#fcaa0f,#fca80d,#fca60c,#fca309,#fb9b06,#fa9407,#f98c0a,#f47918,#e8602d,#d44842,#ba3655,#982766,#71196e,#4d0d6c,#320a5e,#1c0c43,#0d0829,#07051b)"></div><div class="hc" style="left:53px;top:284px;width:2px;height:201px;background:linear-gradient(#420a68,#420a68,#440a68,#450a69,#470b6a,#4c0c6b,#520e6d,#5a116e,#69166e,#7c1d6d,#932667,#ae305c,#c83f4b,#dd513a,#e8602d,#eb6628,#ea632a,#e15635,#d24644,#bd3853,#a82e5f,#952667,#88226a,#801f6c,#7d1e6d,#87216b,#932667,#a22b62,#ad305d,#b63458,#ba3655,#bc3754,#bf3952,#ce4347,#e45a31,#f37819,#f8870e,#f98c0a,#f98c0a,#f98b0b,#f67e14,#ef6e21,#e75e2e,#ea632a,#ef6c23,#f37819,#f47918,#f57b17,#f67e14,#f57b17,#ea632a,#da4e3c,#c13a50,#9b2964,#82206c,#7f1e6c,#7c1d6d,#781c6d,#7a1d6d,#7d1e6d,#82206c,#902568,#a32c61,#b63458,#c63d4d,#d54a41,#da4e3c,#df5337,#e25734,#e45a31,#e55c30,#e65d2f,#e8602d,#ea632a,#eb6628,#ed6925,#ef6c23,#f06f20,#f2741c,#f37819,#f57b17,#f67e14,#f78212,#f8850f,#f8890c,#f98e09,#fa9207,#fb9606,#fb9b06,#fca108,#fca50a,#fca60c,#fca60c,#fca80d,#fca80d,#fcaa0f,#fcaa0f,#fcaa0f,#fcaa0f,#fcac11,#fcac11,#fcac11,#fcae12,#fcae12,#fcae12,#fcae12,#fcae12,#fcae12,#fcae12,#fcae12,#fcae12,#fcae12,#fcae12,#fcae12,#fcae12,#fcae12,#fcac11,#fcaa0f,#fca80d,#fca60c,#fca309,#fb9b06,#fa9407,#f98c0a,#f47918,#e8602d,#d44842,#ba3655,#982766,#71196e,#4d0d6c,#320a5e,#1c0c43,#0d0829,#07051b)"></div><div class="hc" style="left:55px;top:284px;width:2px;height:201px;background:linear-gradient(#420a68,#420a68,#440a68,#450a69,#470b6a,#4c0c6b,#510e6c,#5a116e,#67166e,#781c6d,#902568,#ab2f5e,#c63d4d,#da4e3c,#e75e2e,#eb6628,#ea632a,#e25734,#d44842,#c03a51,#a92e5e,#982766,#8a226a,#82206c,#7f1e6c,#87216b,#932667,#a22b62,#ad305d,#b63458,#ba3655,#bc3754,#bf3952,#ce4347,#e45a31,#f37819,#f8870e,#f98c0a,#f98c0a,#f98b0b,#f67e14,#ef6e21,#e75e2e,#ea632a,#ef6c23,#f37819,#f47918,#f57b17,#f67e14,#f57b17,#ea632a,#da4e3c,#c13a50,#9b2964,#82206c,#7f1e6c,#7c1d6d,#781c6d,#7a1d6d,#7d1e6d,#82206c,#902568,#a32c61,#b63458,#c63d4d,#d54a41,#da4e3c,#df5337,#e25734,#e45a31,#e55c30,#e65d2f,#e8602d,#ea632a,#eb6628,#ed6925,#ef6c23,#f06f20,#f2741c,#f37819,#f57b17,#f67e14,#f78212,#f8850f,#f8890c,#f98e09,#fa9207,#fb9606,#fb9b06,#fca108,#fca50a,#fca60c,#fca60c,#fca80d,#fca80d,#fcaa0f,#fcaa0f,#fcaa0f,#fcaa0f,#fcac11,#fcac11,#fcac11,#fcae12,#fcae12,#fcae12,#fcae12,#fcae12,#fcae12,#fcae12,#fcae12,#fcae12,#fcae12,#fcae12,#fcae12,#fcae12,#fcae12,#fcac11,#fcaa0f,#fca80d,#fca60c,#fca309,#fb9b06,#fa9407,#f98c0a,#f47918,#e8602d,#d44842,#ba3655,#982766,#721a6e,#4f0d6c,#320a5e,#1c0c43,#0d0829,#07051b)"></div><div class="hc" style="left:57px;top:284px;width:2px;height:201px;background:linear-gradient(#420a68,#420a68,#440a68,#450a69,#470b6a,#4a0c6b,#510e6c,#59106e,#65156e,#771c6d,#8d2369,#a82e5f,#c33b4f,#d84c3e,#e65d2f,#eb6628,#eb6429,#e45a31,#d54a41,#c33b4f,#ad305d,#9a2865,#8c2369,#82206c,#7f1e6c,#88226a,#932667,#a22b62,#ad305d,#b73557,#ba3655,#bc3754,#bf3952,#ce4347,#e55c30,#f37819,#f8890c,#f98c0a,#f98c0a,#f98b0b,#f67e14,#ef6e21,#e65d2f,#ea632a,#ef6c23,#f37819,#f47918,#f57b17,#f67e14,#f57b17,#ea632a,#da4e3c,#c13a50,#9b2964,#82206c,#7f1e6c,#7c1d6d,#781c6d,#7a1d6d,#7d1e6d,#82206c,#902568,#a32c61,#b63458,#c63d4d,#d54a41,#da4e3c,#df5337,#e25734,#e45a31,#e55c30,#e65d2f,#e8602d,#ea632a,#eb6628,#ed6925,#ef6c23,#f06f20,#f2741c,#f37819,#f57b17,#f67e14,#f78212,#f8850f,#f8890c,#f98e09,#fa9207,#fb9606,#fb9b06,#fca108,#fca50a,#fca60c,#fca60c,#fca80d,#fca80d,#fcaa0f,#fcaa0f,#fcaa0f,#fcaa0f,#fcac11,#fcac11,#fcac11,#fcae12,#fcae12,#fcae12,#fcae12,#fcae12,#fcae12,#fcae12,#fcae12,#fcae12,#fcae12,#fcae12,#fcae12,#fcae12,#fcae12,#fcac11,#fcaa0f,#fca80d,#fca60c,#fca309,#fb9b06,#fa9407,#f98c0a,#f47918,#e8602d,#d44842,#ba3655,#982766,#721a6e,#4f0d6c,#320a5e,#1c0c43,#0d0829,#07051b)"></div><div class="hc" style="left:59px;top:284px;width:2px;height:201px;background:linear-gradient(#420a68,#420a68,#440a68,#450a69,#470b6a,#4a0c6b,#4f0d6c,#57106e,#64156e,#751b6e,#8c2369,#a52c60,#c03a51,#d74b3f,#e55c30,#eb6429,#eb6628,#e55c30,#d84c3e,#c43c4e,#b0315b,#9d2964,#8d2369,#84206b,#801f6c,#88226a,#952667,#a22b62,#ad305d,#b73557,#ba3655,#bc3754,#bf3952,#cf4446,#e55c30,#f47918,#f8890c,#f98c0a,#f98c0a,#f98b0b,#f67e14,#ef6e21,#e65d2f,#ea632a,#ef6c23,#f37819,#f47918,#f57b17,#f67e14,#f57b17,#ea632a,#da4e3c,#c13a50,#9b2964,#82206c,#7f1e6c,#7c1d6d,#781c6d,#7a1d6d,#7d1e6d,#82206c,#902568,#a32c61,#b63458,#c63d4d,#d54a41,#da4e3c,#df5337,#e25734,#e45a31,#e55c30,#e65d2f,#e8602d,#ea632a,#eb6628,#ed6925,#ef6c23,#f06f20,#f2741c,#f37819,#f57b17,#f67e14,#f78212,#f8850f,#f8890c,#f98e09,#fa9207,#fb9606,#fb9b06,#fca108,#fca50a,#fca60c,#fca60c,#fca80d,#fca80d,#fcaa0f,#fcaa0f,#fcaa0f,#fcaa0f,#fcac11,#fcac11,#fcac11,#fcae12,#fcae12,#fcae12,#fcae12,#fcae12,#fcae12,#fcae12,#fcae12,#fcae12,#fcae12,#fcae12,#fcae12,#fcae12,#fcae12,#fcac11,#fcaa0f,#fca80d,#fca60c,#fca309,#fb9b06,#fa9407,#f98c0a,#f47918,#e8602d,#d44842,#ba3655,#982766,#721a6e,#4f0d6c,#340a5f,#1c0c43,#0d0829,#07051b)"></div><div class="hc" style="left:61px;top:284px;width:2px;height:201px;background:linear-gradient(#420a68,#420a68,#440a68,#450a69,#470b6a,#4a0c6b,#4f0d6c,#57106e,#62146e,#721a6e,#88226a,#a22b62,#bd3853,#d44842,#e35933,#eb6429,#eb6628,#e65d2f,#da4e3c,#c73e4c,#b3325a,#9f2a63,#8f2469,#85216b,#801f6c,#88226a,#952667,#a22b62,#ae305c,#b73557,#bc3754,#bc3754,#bf3952,#cf4446,#e65d2f,#f47918,#f8890c,#f98c0a,#f98c0a,#f98b0b,#f67e14,#ef6e21,#e65d2f,#ea632a,#ef6c23,#f37819,#f47918,#f57b17,#f67e14,#f57b17,#ea632a,#da4e3c,#c13a50,#9b2964,#82206c,#7f1e6c,#7c1d6d,#781c6d,#781c6d,#7d1e6d,#82206c,#902568,#a32c61,#b43359,#c63d4d,#d54a41,#da4e3c,#df5337,#e25734,#e45a31,#e55c30,#e65d2f,#e8602d,#ea632a,#eb6628,#ed6925,#ef6c23,#f06f20,#f2741c,#f37819,#f57b17,#f67e14,#f78212,#f8850f,#f8890c,#f98e09,#fa9207,#fb9606,#fb9b06,#fca108,#fca50a,#fca60c,#fca60c,#fca80d,#fca80d,#fcaa0f,#fcaa0f,#fcaa0f,#fcaa0f,#fcac11,#fcac11,#fcac11,#fcae12,#fcae12,#fcae12,#fcae12,#fcae12,#fcae12,#fcae12,#fcae12,#fcae12,#fcae12,#fcae12,#fcae12,#fcae12,#fcae12,#fcac11,#fcaa0f,#fca80d,#fca60c,#fca309,#fb9b06,#fa9407,#f98c0a,#f47918,#e8602d,#d44842,#ba3655,#982766,#721a6e,#4f0d6c,#340a5f,#1c0c43,#0d0829,#07051b)"></div><div class="hc" style="left:63px;top:284px;width:2px;height:201px;background:linear-gradient(#420a68,#420a68,#440a68,#450a69,#470b6a,#4a0c6b,#4d0d6c,#550f6d,#61136e,#71196e,#85216b,#9f2a63,#ba3655,#d24644,#e25734,#ea632a,#eb6628,#e75e2e,#db503b,#ca404a,#b63458,#a22b62,#922568,#87216b,#82206c,#88226a,#952667,#a32c61,#ae305c,#b73557,#bc3754,#bc3754,#c03a51,#d04545,#e65d2f,#f57b17,#f8890c,#f98c0a,#f98c0a,#f98b0b,#f67e14,#ef6c23,#e65d2f,#ea632a,#ef6c23,#f37819,#f47918,#f57b17,#f67e14,#f57b17,#ea632a,#da4e3c,#c13a50,#9b2964,#82206c,#7f1e6c,#7c1d6d,#781c6d,#781c6d,#7d1e6d,#82206c,#902568,#a32c61,#b43359,#c63d4d,#d44842,#da4e3c,#de5238,#e25734,#e35933,#e55c30,#e65d2f,#e8602d,#ea632a,#eb6628,#ed6925,#ef6c23,#f06f20,#f2741c,#f37819,#f57b17,#f67e14,#f78212,#f8850f,#f8890c,#f98e09,#fa9207,#fb9606,#fb9b06,#fca108,#fca50a,#fca60c,#fca60c,#fca80d,#fca80d,#fcaa0f,#fcaa0f,#fcaa0f,#fcaa0f,#fcac11,#fcac11,#fcac11,#fcae12,#fcae12,#fcae12,#fcae12,#fcae12,#fcae12,#fcae12,#fcae12,#fcae12,#fcae12,#fcae12,#fcae12,#fcae12,#fcae12,#fcac11,#fcaa0f,#fca80d,#fca60c,#fca309,#fb9b06,#fa9407,#f98c0a,#f47918,#e8602d,#d44842,#ba3655,#9a2865,#741a6e,#4f0d6c,#340a5f,#1c0c43,#0d0829,#07051b)"></div><div class="hc" style="left:65px;top:284px;width:2px;height:201px;background:linear-gradient(#420a68,#420a68,#440a68,#450a69,#470b6a,#490b6a,#4d0d6c,#540f6d,#5f136e,#6d186e,#82206c,#9b2964,#b73557,#cf4446,#e05536,#ea632a,#eb6628,#e8602d,#de5238,#cc4248,#b73557,#a32c61,#932667,#88226a,#82206c,#8a226a,#952667,#a32c61,#ae305c,#b73557,#bc3754,#bc3754,#c03a51,#d04545,#e75e2e,#f57b17,#f8890c,#f98c0a,#f98c0a,#f98b0b,#f57d15,#ef6c23,#e65d2f,#ea632a,#ef6c23,#f37819,#f47918,#f57b17,#f67e14,#f57b17,#ea632a,#d94d3d,#c13a50,#9b2964,#82206c,#7f1e6c,#7c1d6d,#781c6d,#781c6d,#7d1e6d,#82206c,#902568,#a22b62,#b43359,#c43c4e,#d44842,#d94d3d,#de5238,#e25734,#e35933,#e55c30,#e65d2f,#e8602d,#ea632a,#eb6628,#ed6925,#ef6c23,#f06f20,#f2741c,#f37819,#f57b17,#f67e14,#f78212,#f8850f,#f8890c,#f98e09,#fa9207,#fb9606,#fb9b06,#fca108,#fca50a,#fca60c,#fca60c,#fca80d,#fca80d,#fcaa0f,#fcaa0f,#fcaa0f,#fcaa0f,#fcac11,#fcac11,#fcac11,#fcae12,#fcae12,#fcae12,#fcae12,#fcae12,#fcae12,#fcae12,#fcae12,#fcae12,#fcae12,#fcae12,#fcae12,#fcae12,#fcae12,#fcac11,#fcaa0f,#fca80d,#fca60c,#fca309,#fb9b06,#fa9407,#f98c0a,#f47918,#e8602d,#d44842,#ba3655,#9a2865,#741a6e,#510e6c,#340a5f,#1c0c43,#0d0829,#07051b)"></div><div class="hc" style="left:67px;top:284px;width:2px;height:201px;background:linear-gradient(#420a68,#420a68,#440a68,#440a68,#470b6a,#490b6a,#4d0d6c,#540f6d,#5d126e,#6c186e,#7f1e6c,#982766,#b43359,#cc4248,#df5337,#e9612b,#eb6628,#e9612b,#df5337,#cf4446,#bc3754,#a62d60,#952667,#8a226a,#84206b,#8a226a,#952667,#a32c61,#ae305c,#b73557,#bc3754,#bc3754,#c03a51,#d24644,#e8602d,#f57d15,#f98b0b,#f98c0a,#f98c0a,#f98b0b,#f57d15,#ef6c23,#e65d2f,#ea632a,#ef6c23,#f37819,#f47918,#f57b17,#f67e14,#f57b17,#ea632a,#d94d3d,#c13a50,#9b2964,#82206c,#7f1e6c,#7c1d6d,#781c6d,#781c6d,#7d1e6d,#82206c,#8f2469,#a22b62,#b3325a,#c43c4e,#d44842,#d94d3d,#de5238,#e25734,#e35933,#e55c30,#e65d2f,#e8602d,#ea632a,#eb6628,#ed6925,#ef6c23,#f06f20,#f2741c,#f37819,#f57b17,#f67e14,#f78212,#f8850f,#f8890c,#f98e09,#fa9207,#fb9606,#fb9b06,#fca108,#fca50a,#fca60c,#fca60c,#fca80d,#fca80d,#fcaa0f,#fcaa0f,#fcaa0f,#fcaa0f,#fcac11,#fcac11,#fcac11,#fcae12,#fcae12,#fcae12,#fcae12,#fcae12,#fcae12,#fcae12,#fcae12,#fcae12,#fcae12,#fcae12,#fcae12,#fcae12,#fcae12,#fcac11,#fcaa0f,#fca80d,#fca60c,#fca309,#fb9b06,#fa9407,#f98c0a,#f47918,#e8602d,#d44842,#ba3655,#9a2865,#741a6e,#510e6c,#340a5f,#1c0c43,#0d0829,#07051b)"></div><div class="hc" style="left:69px;top:284px;width:2px;height:201px;background:linear-gradient(#420a68,#420a68,#440a68,#440a68,#450a69,#490b6a,#4c0c6b,#520e6d,#5c126e,#6a176e,#7d1e6d,#952667,#b0315b,#ca404a,#dd513a,#e8602d,#eb6628,#ea632a,#e15635,#d24644,#bf3952,#a92e5e,#982766,#8c2369,#85216b,#8c2369,#952667,#a32c61,#ae305c,#b73557,#bc3754,#bc3754,#c13a50,#d34743,#e9612b,#f57d15,#f98b0b,#f98c0a,#f98c0a,#f98b0b,#f57d15,#ef6c23,#e65d2f,#ea632a,#ef6c23,#f37819,#f47918,#f57b17,#f67e14,#f57b17,#ea632a,#d94d3d,#c13a50,#9b2964,#82206c,#7f1e6c,#7c1d6d,#781c6d,#781c6d,#7d1e6d,#801f6c,#8f2469,#a22b62,#b3325a,#c33b4f,#d34743,#d94d3d,#de5238,#e15635,#e35933,#e55c30,#e65d2f,#e8602d,#ea632a,#eb6628,#ed6925,#ef6c23,#f06f20,#f2741c,#f37819,#f57b17,#f67e14,#f78212,#f8850f,#f8890c,#f98e09,#fa9207,#fb9606,#fb9b06,#fca108,#fca50a,#fca60c,#fca60c,#fca80d,#fca80d,#fcaa0f,#fcaa0f,#fcaa0f,#fcaa0f,#fcac11,#fcac11,#fcac11,#fcae12,#fcae12,#fcae12,#fcae12,#fcae12,#fcae12,#fcae12,#fcae12,#fcae12,#fcae12,#fcae12,#fcae12,#fcae12,#fcae12,#fcac11,#fcaa0f,#fca80d,#fca60c,#fca309,#fb9b06,#fa9407,#f98c0a,#f47918,#e8602d,#d44842,#ba3655,#9a2865,#751b6e,#510e6c,#340a5f,#1c0c43,#0d0829,#07051b)"></div><div class="hc" style="left:71px;top:284px;width:2px;height:201px;background:linear-gradient(#420a68,#420a68,#440a68,#440a68,#450a69,#490b6a,#4c0c6b,#510e6c,#5a116e,#67166e,#7a1d6d,#922568,#ad305d,#c73e4c,#da4e3c,#e75e2e,#eb6628,#ea632a,#e25734,#d44842,#c13a50,#ad305d,#9a2865,#8d2369,#85216b,#8c2369,#972766,#a32c61,#ae305c,#b73557,#bc3754,#bc3754,#c33b4f,#d44842,#ea632a,#f67e14,#f98b0b,#f98e09,#f98c0a,#f98b0b,#f57d15,#ef6c23,#e65d2f,#ea632a,#ef6c23,#f37819,#f47918,#f57b17,#f67e14,#f57b17,#e9612b,#d94d3d,#c13a50,#9a2865,#82206c,#7f1e6c,#7c1d6d,#781c6d,#781c6d,#7d1e6d,#801f6c,#8f2469,#a02a63,#b1325a,#c33b4f,#d24644,#d84c3e,#dd513a,#e15635,#e35933,#e55c30,#e65d2f,#e8602d,#ea632a,#eb6628,#ed6925,#ef6c23,#f06f20,#f2741c,#f37819,#f57b17,#f67e14,#f78212,#f8850f,#f8890c,#f98e09,#fa9207,#fb9606,#fb9b06,#fca108,#fca50a,#fca60c,#fca60c,#fca80d,#fca80d,#fcaa0f,#fcaa0f,#fcaa0f,#fcaa0f,#fcac11,#fcac11,#fcac11,#fcae12,#fcae12,#fcae12,#fcae12,#fcae12,#fcae12,#fcae12,#fcae12,#fcae12,#fcae12,#fcae12,#fcae12,#fcae12,#fcae12,#fcac11,#fcaa0f,#fca80d,#fca60c,#fca309,#fb9b06,#fa9407,#f98c0a,#f47918,#e8602d,#d44842,#ba3655,#9a2865,#751b6e,#510e6c,#340a5f,#1c0c43,#0d0829,#07051b)"></div><div class="hc" style="left:73px;top:284px;width:2px;height:201px;background:linear-gradient(#420a68,#420a68,#440a68,#440a68,#450a69,#470b6a,#4c0c6b,#510e6c,#59106e,#65156e,#771c6d,#8f2469,#a92e5e,#c33b4f,#d84c3e,#e65d2f,#eb6628,#eb6429,#e45a31,#d74b3f,#c43c4e,#b0315b,#9d2964,#8f2469,#87216b,#8d2369,#972766,#a32c61,#ae305c,#b73557,#bc3754,#bd3853,#c43c4e,#d74b3f,#eb6429,#f68013,#f98c0a,#f98e09,#f98c0a,#f98b0b,#f57d15,#ef6c23,#e65d2f,#ea632a,#ef6c23,#f37819,#f47918,#f57b17,#f67e14,#f57b17,#e9612b,#d94d3d,#c13a50,#9a2865,#82206c,#7f1e6c,#7c1d6d,#781c6d,#781c6d,#7d1e6d,#801f6c,#8f2469,#a02a63,#b1325a,#c13a50,#d24644,#d84c3e,#dd513a,#e15635,#e35933,#e45a31,#e65d2f,#e8602d,#ea632a,#eb6628,#ed6925,#ef6c23,#f06f20,#f2741c,#f37819,#f57b17,#f67e14,#f78212,#f8850f,#f8890c,#f98e09,#fa9207,#fb9606,#fb9b06,#fca108,#fca50a,#fca60c,#fca60c,#fca80d,#fca80d,#fcaa0f,#fcaa0f,#fcaa0f,#fcaa0f,#fcac11,#fcac11,#fcac11,#fcae12,#fcae12,#fcae12,#fcae12,#fcae12,#fcae12,#fcae12,#fcae12,#fcae12,#fcae12,#fcae12,#fcae12,#fcae12,#fcae12,#fcac11,#fcaa0f,#fca80d,#fca60c,#fca309,#fb9b06,#fa9407,#f98c0a,#f47918,#e8602d,#d44842,#ba3655,#9a2865,#751b6e,#520e6d,#340a5f,#1c0c43,#0d0829,#07051b)"></div><div class="hc" style="left:75px;top:284px;width:2px;height:201px;background:linear-gradient(#400a67,#420a68,#440a68,#440a68,#450a69,#470b6a,#4a0c6b,#4f0d6c,#57106e,#64156e,#741a6e,#8c2369,#a52c60,#c03a51,#d54a41,#e45a31,#eb6429,#eb6628,#e55c30,#d94d3d,#c73e4c,#b3325a,#a02a63,#922568,#88226a,#8d2369,#972766,#a32c61,#ae305c,#b73557,#bc3754,#bd3853,#c63d4d,#d84c3e,#eb6628,#f68013,#f98c0a,#f98e09,#f98c0a,#f98b0b,#f57d15,#ef6c23,#e65d2f,#ea632a,#ef6c23,#f37819,#f47918,#f57b17,#f67e14,#f57b17,#e9612b,#d94d3d,#c03a51,#9a2865,#82206c,#7f1e6c,#7c1d6d,#781c6d,#781c6d,#7d1e6d,#801f6c,#8d2369,#9f2a63,#b0315b,#c03a51,#d04545,#d74b3f,#db503b,#e15635,#e25734,#e45a31,#e65d2f,#e8602d,#ea632a,#eb6628,#ed6925,#ef6c23,#f06f20,#f2741c,#f37819,#f57b17,#f67e14,#f78212,#f8850f,#f8890c,#f98e09,#fa9207,#fb9606,#fb9b06,#fca108,#fca50a,#fca60c,#fca60c,#fca80d,#fca80d,#fcaa0f,#fcaa0f,#fcaa0f,#fcaa0f,#fcac11,#fcac11,#fcac11,#fcae12,#fcae12,#fcae12,#fcae12,#fcae12,#fcae12,#fcae12,#fcae12,#fcae12,#fcae12,#fcae12,#fcae12,#fcae12,#fcae12,#fcac11,#fcaa0f,#fca80d,#fca60c,#fca309,#fb9b06,#fa9407,#f98c0a,#f47918,#e8602d,#d44842,#ba3655,#9a2865,#751b6e,#520e6d,#360961,#1c0c43,#0d0829,#07051b)"></div><div class="hc" style="left:77px;top:284px;width:2px;height:201px;background:linear-gradient(#400a67,#420a68,#440a68,#440a68,#450a69,#470b6a,#4a0c6b,#4f0d6c,#550f6d,#61136e,#721a6e,#87216b,#a02a63,#bc3754,#d34743,#e25734,#eb6429,#eb6628,#e75e2e,#db503b,#cb4149,#b73557,#a32c61,#952667,#8c2369,#8f2469,#982766,#a32c61,#ae305c,#b73557,#bc3754,#bf3952,#c73e4c,#da4e3c,#ed6925,#f78212,#f98e09,#f98e09,#f98c0a,#f98b0b,#f57d15,#ef6c23,#e65d2f,#ea632a,#ef6c23,#f37819,#f47918,#f57b17,#f67e14,#f57b17,#e9612b,#d94d3d,#c03a51,#9a2865,#82206c,#7f1e6c,#7c1d6d,#781c6d,#781c6d,#7d1e6d,#801f6c,#8d2369,#9f2a63,#ae305c,#bf3952,#cf4446,#d54a41,#db503b,#e05536,#e25734,#e45a31,#e65d2f,#e8602d,#ea632a,#eb6628,#ed6925,#ef6c23,#f06f20,#f2741c,#f37819,#f57b17,#f67e14,#f78212,#f8850f,#f8890c,#f98e09,#fa9207,#fb9606,#fb9b06,#fca108,#fca50a,#fca60c,#fca60c,#fca80d,#fca80d,#fcaa0f,#fcaa0f,#fcaa0f,#fcaa0f,#fcac11,#fcac11,#fcac11,#fcae12,#fcae12,#fcae12,#fcae12,#fcae12,#fcae12,#fcae12,#fcae12,#fcae12,#fcae12,#fcae12,#fcae12,#fcae12,#fcae12,#fcac11,#fcaa0f,#fca80d,#fca60c,#fca309,#fb9b06,#fa9407,#f98c0a,#f47918,#e8602d,#d44842,#ba3655,#9a2865,#771c6d,#520e6d,#360961,#1c0c43,#0d0829,#07051b)"></div><div class="hc" style="left:79px;top:284px;width:2px;height:201px;background:linear-gradient(#400a67,#420a68,#420a68,#440a68,#450a69,#470b6a,#4a0c6b,#4d0d6c,#540f6d,#5f136e,#6f196e,#84206b,#9b2964,#b73557,#cf4446,#e05536,#ea632a,#eb6628,#e8602d,#df5337,#ce4347,#ba3655,#a82e5f,#972766,#8d2369,#902568,#982766,#a52c60,#ae305c,#b73557,#bc3754,#c03a51,#ca404a,#db503b,#ee6a24,#f78410,#f98e09,#f98e09,#f98c0a,#f98b0b,#f57d15,#ef6c23,#e65d2f,#ea632a,#ef6c23,#f37819,#f47918,#f57b17,#f57d15,#f57b17,#e9612b,#d94d3d,#c03a51,#9a2865,#82206c,#7f1e6c,#7c1d6d,#781c6d,#781c6d,#7d1e6d,#801f6c,#8d2369,#9d2964,#ae305c,#bf3952,#ce4347,#d54a41,#da4e3c,#e05536,#e25734,#e45a31,#e65d2f,#e75e2e,#ea632a,#eb6628,#ed6925,#ef6c23,#f06f20,#f2741c,#f37819,#f57b17,#f67e14,#f78212,#f8850f,#f8890c,#f98e09,#fa9207,#fb9606,#fb9b06,#fca108,#fca50a,#fca60c,#fca60c,#fca80d,#fca80d,#fcaa0f,#fcaa0f,#fcaa0f,#fcaa0f,#fcac11,#fcac11,#fcac11,#fcae12,#fcae12,#fcae12,#fcae12,#fcae12,#fcae12,#fcae12,#fcae12,#fcae12,#fcae12,#fcae12,#fcae12,#fcae12,#fcae12,#fcac11,#fcaa0f,#fca80d,#fca60c,#fca309,#fb9b06,#fa9407,#f98c0a,#f47918,#e8602d,#d44842,#ba3655,#9a2865,#771c6d,#520e6d,#360961,#1e0c45,#0d0829,#07051b)"></div><div class="hc" style="left:81px;top:284px;width:2px;height:201px;background:linear-gradient(#400a67,#420a68,#420a68,#440a68,#450a69,#470b6a,#490b6a,#4d0d6c,#540f6d,#5d126e,#6c186e,#7f1e6c,#972766,#b3325a,#cb4149,#de5238,#e8602d,#eb6628,#ea632a,#e15635,#d24644,#bf3952,#ab2f5e,#9b2964,#8f2469,#922568,#9a2865,#a52c60,#ae305c,#b73557,#bd3853,#c13a50,#cb4149,#de5238,#ef6e21,#f8850f,#fa9008,#fa9008,#f98c0a,#f98b0b,#f57d15,#ef6c23,#e65d2f,#e9612b,#ef6c23,#f37819,#f47918,#f57b17,#f57d15,#f57b17,#e9612b,#d94d3d,#c03a51,#9a2865,#801f6c,#7d1e6d,#7c1d6d,#781c6d,#781c6d,#7c1d6d,#801f6c,#8c2369,#9b2964,#ad305d,#bd3853,#cc4248,#d44842,#da4e3c,#df5337,#e25734,#e45a31,#e65d2f,#e75e2e,#ea632a,#eb6628,#ed6925,#ef6c23,#f06f20,#f2741c,#f37819,#f57b17,#f67e14,#f78212,#f8850f,#f8890c,#f98e09,#fa9207,#fb9606,#fb9b06,#fca108,#fca50a,#fca60c,#fca60c,#fca80d,#fca80d,#fcaa0f,#fcaa0f,#fcaa0f,#fcaa0f,#fcac11,#fcac11,#fcac11,#fcae12,#fcae12,#fcae12,#fcae12,#fcae12,#fcae12,#fcae12,#fcae12,#fcae12,#fcae12,#fcae12,#fcae12,#fcae12,#fcae12,#fcac11,#fcaa0f,#fca80d,#fca60c,#fca309,#fb9b06,#fa9407,#f98c0a,#f47918,#e8602d,#d44842,#ba3655,#9b2964,#771c6d,#540f6d,#360961,#1e0c45,#0d0829,#07051b)"></div><div class="hc" style="left:83px;top:284px;width:2px;height:201px;background:linear-gradient(#400a67,#420a68,#420a68,#440a68,#450a69,#470b6a,#490b6a,#4c0c6b,#520e6d,#5a116e,#69166e,#7c1d6d,#922568,#ad305d,#c73e4c,#da4e3c,#e75e2e,#eb6628,#eb6429,#e35933,#d54a41,#c33b4f,#b0315b,#9f2a63,#922568,#932667,#9a2865,#a52c60,#ae305c,#b73557,#bd3853,#c33b4f,#ce4347,#e05536,#f06f20,#f8870e,#fa9008,#fa9008,#f98e09,#f98b0b,#f57d15,#ef6c23,#e65d2f,#e9612b,#ef6c23,#f37819,#f47918,#f57b17,#f57d15,#f47918,#e9612b,#d94d3d,#c03a51,#9a2865,#801f6c,#7d1e6d,#7c1d6d,#781c6d,#781c6d,#7c1d6d,#7f1e6c,#8c2369,#9b2964,#ab2f5e,#bc3754,#cb4149,#d34743,#d94d3d,#df5337,#e15635,#e35933,#e55c30,#e75e2e,#ea632a,#eb6628,#ed6925,#ef6c23,#f06f20,#f2741c,#f37819,#f57b17,#f67e14,#f78212,#f8850f,#f8890c,#f98e09,#fa9207,#fb9606,#fb9b06,#fca108,#fca50a,#fca60c,#fca60c,#fca80d,#fca80d,#fcaa0f,#fcaa0f,#fcaa0f,#fcaa0f,#fcac11,#fcac11,#fcac11,#fcae12,#fcae12,#fcae12,#fcae12,#fcae12,#fcae12,#fcae12,#fcae12,#fcae12,#fcae12,#fcae12,#fcae12,#fcae12,#fcae12,#fcac11,#fcaa0f,#fca80d,#fca60c,#fca309,#fb9b06,#fa9407,#f98c0a,#f47918,#e8602d,#d44842,#ba3655,#9b2964,#781c6d,#540f6d,#360961,#1e0c45,#0d0829,#07051b)"></div><div class="hc" style="left:85px;top:284px;width:2px;height:201px;background:linear-gradient(#400a67,#420a68,#420a68,#440a68,#440a68,#450a69,#490b6a,#4c0c6b,#510e6c,#59106e,#65156e,#771c6d,#8d2369,#a82e5f,#c13a50,#d74b3f,#e55c30,#eb6628,#eb6628,#e55c30,#d94d3d,#c83f4b,#b43359,#a22b62,#952667,#952667,#9b2964,#a52c60,#ae305c,#b73557,#bd3853,#c43c4e,#d04545,#e25734,#f1731d,#f8890c,#fa9008,#fa9008,#f98e09,#f98b0b,#f57d15,#ef6c23,#e65d2f,#e9612b,#ef6c23,#f37819,#f47918,#f57b17,#f57d15,#f47918,#e9612b,#d84c3e,#c03a51,#9a2865,#801f6c,#7d1e6d,#7a1d6d,#781c6d,#781c6d,#7c1d6d,#7f1e6c,#8a226a,#9a2865,#a92e5e,#b93556,#ca404a,#d24644,#d84c3e,#de5238,#e15635,#e35933,#e55c30,#e75e2e,#e9612b,#eb6628,#ed6925,#ef6c23,#f06f20,#f1731d,#f37819,#f57b17,#f67e14,#f78212,#f8850f,#f8890c,#f98e09,#fa9207,#fb9606,#fb9b06,#fca108,#fca50a,#fca60c,#fca60c,#fca80d,#fca80d,#fcaa0f,#fcaa0f,#fcaa0f,#fcaa0f,#fcac11,#fcac11,#fcac11,#fcae12,#fcae12,#fcae12,#fcae12,#fcae12,#fcae12,#fcae12,#fcae12,#fcae12,#fcae12,#fcae12,#fcae12,#fcae12,#fcae12,#fcac11,#fcaa0f,#fca80d,#fca60c,#fca309,#fb9b06,#fa9407,#f98c0a,#f47918,#e8602d,#d44842,#ba3655,#9b2964,#781c6d,#540f6d,#380962,#1e0c45,#0e092b,#07051b)"></div><div class="hc" style="left:87px;top:284px;width:2px;height:201px;background:linear-gradient(#400a67,#420a68,#420a68,#440a68,#440a68,#450a69,#470b6a,#4a0c6b,#4f0d6c,#57106e,#62146e,#721a6e,#88226a,#a22b62,#bc3754,#d34743,#e25734,#eb6429,#eb6628,#e75e2e,#dd513a,#cc4248,#b93556,#a62d60,#982766,#972766,#9d2964,#a62d60,#ae305c,#b73557,#bf3952,#c63d4d,#d34743,#e45a31,#f3761b,#f98b0b,#fa9207,#fa9207,#f98e09,#f98b0b,#f57d15,#ef6c23,#e65d2f,#e9612b,#ef6c23,#f37819,#f47918,#f57b17,#f57d15,#f47918,#e9612b,#d84c3e,#c03a51,#9a2865,#801f6c,#7d1e6d,#7a1d6d,#781c6d,#781c6d,#7c1d6d,#7f1e6c,#8a226a,#982766,#a82e5f,#b73557,#c83f4b,#d04545,#d74b3f,#de5238,#e05536,#e35933,#e55c30,#e75e2e,#e9612b,#eb6429,#ec6726,#ef6c23,#f06f20,#f1731d,#f3761b,#f57b17,#f67e14,#f78212,#f8850f,#f8890c,#f98e09,#fa9207,#fb9606,#fb9b06,#fca108,#fca50a,#fca60c,#fca60c,#fca80d,#fca80d,#fcaa0f,#fcaa0f,#fcaa0f,#fcaa0f,#fcac11,#fcac11,#fcac11,#fcae12,#fcae12,#fcae12,#fcae12,#fcae12,#fcae12,#fcae12,#fcae12,#fcae12,#fcae12,#fcae12,#fcae12,#fcae12,#fcae12,#fcac11,#fcaa0f,#fca80d,#fca60c,#fca309,#fb9b06,#fa9407,#f98c0a,#f47918,#e8602d,#d44842,#ba3655,#9b2964,#781c6d,#550f6d,#380962,#1e0c45,#0e092b,#07051b)"></div><div class="hc" style="left:89px;top:284px;width:2px;height:201px;background:linear-gradient(#400a67,#420a68,#420a68,#440a68,#440a68,#450a69,#470b6a,#4a0c6b,#4d0d6c,#550f6d,#5f136e,#6f196e,#84206b,#9b2964,#b73557,#ce4347,#e05536,#e9612b,#eb6628,#e9612b,#e05536,#d04545,#bf3952,#ab2f5e,#9d2964,#9a2865,#9f2a63,#a62d60,#ae305c,#b73557,#bf3952,#c83f4b,#d54a41,#e75e2e,#f37819,#f98c0a,#fa9207,#fa9207,#f98e09,#f98b0b,#f57d15,#ef6c23,#e65d2f,#e9612b,#ef6c23,#f37819,#f47918,#f57b17,#f57d15,#f47918,#e9612b,#d84c3e,#c03a51,#9a2865,#801f6c,#7d1e6d,#7a1d6d,#781c6d,#781c6d,#7c1d6d,#7f1e6c,#88226a,#972766,#a62d60,#b63458,#c73e4c,#cf4446,#d54a41,#dd513a,#e05536,#e35933,#e55c30,#e65d2f,#e9612b,#eb6429,#ec6726,#ee6a24,#ef6e21,#f1731d,#f3761b,#f57b17,#f67e14,#f78212,#f8850f,#f8890c,#f98e09,#fa9207,#fb9606,#fb9b06,#fca108,#fca50a,#fca60c,#fca60c,#fca80d,#fca80d,#fcaa0f,#fcaa0f,#fcaa0f,#fcaa0f,#fcac11,#fcac11,#fcac11,#fcae12,#fcae12,#fcae12,#fcae12,#fcae12,#fcae12,#fcae12,#fcae12,#fcae12,#fcae12,#fcae12,#fcae12,#fcae12,#fcae12,#fcac11,#fcaa0f,#fca80d,#fca60c,#fca309,#fb9b06,#fa9407,#f98c0a,#f47918,#e8602d,#d44842,#ba3655,#9b2964,#7a1d6d,#550f6d,#380962,#1e0c45,#0e092b,#07051b)"></div><div class="hc" style="left:91px;top:284px;width:2px;height:201px;background:linear-gradient(#400a67,#420a68,#420a68,#440a68,#440a68,#450a69,#470b6a,#490b6a,#4d0d6c,#520e6d,#5d126e,#6c186e,#7f1e6c,#972766,#b0315b,#ca404a,#dd513a,#e8602d,#eb6628,#ea632a,#e25734,#d54a41,#c33b4f,#b0315b,#a02a63,#9d2964,#a02a63,#a62d60,#ae305c,#b73557,#c03a51,#ca404a,#d84c3e,#e9612b,#f57b17,#f98e09,#fa9407,#fa9207,#f98e09,#f98b0b,#f57d15,#ef6c23,#e65d2f,#e9612b,#ef6c23,#f37819,#f47918,#f57b17,#f57d15,#f47918,#e9612b,#d84c3e,#bf3952,#9a2865,#801f6c,#7d1e6d,#7a1d6d,#781c6d,#781c6d,#7c1d6d,#7f1e6c,#88226a,#972766,#a52c60,#b43359,#c43c4e,#ce4347,#d54a41,#db503b,#df5337,#e25734,#e45a31,#e65d2f,#e8602d,#ea632a,#eb6628,#ed6925,#ef6e21,#f1711f,#f3761b,#f47918,#f67e14,#f78212,#f8850f,#f8890c,#f98e09,#fa9207,#fb9606,#fb9b06,#fca108,#fca50a,#fca60c,#fca60c,#fca80d,#fca80d,#fcaa0f,#fcaa0f,#fcaa0f,#fcaa0f,#fcac11,#fcac11,#fcac11,#fcae12,#fcae12,#fcae12,#fcae12,#fcae12,#fcae12,#fcae12,#fcae12,#fcae12,#fcae12,#fcae12,#fcae12,#fcae12,#fcae12,#fcac11,#fcaa0f,#fca80d,#fca60c,#fca309,#fb9b06,#fa9407,#f98c0a,#f47918,#e8602d,#d44842,#ba3655,#9b2964,#7a1d6d,#57106e,#380962,#1e0c45,#0e092b,#07051b)"></div><div class="hc" style="left:93px;top:284px;width:2px;height:201px;background:linear-gradient(#400a67,#420a68,#420a68,#420a68,#440a68,#450a69,#470b6a,#490b6a,#4c0c6b,#510e6c,#5a116e,#67166e,#7a1d6d,#902568,#a92e5e,#c43c4e,#d94d3d,#e55c30,#eb6628,#eb6429,#e55c30,#d94d3d,#c83f4b,#b63458,#a52c60,#a02a63,#a22b62,#a82e5f,#ae305c,#b73557,#c03a51,#cc4248,#da4e3c,#eb6429,#f67e14,#f98e09,#fa9407,#fa9207,#f98e09,#f98b0b,#f57d15,#ef6c23,#e65d2f,#e9612b,#ef6c23,#f37819,#f47918,#f57b17,#f57d15,#f47918,#e9612b,#d84c3e,#bf3952,#982766,#801f6c,#7d1e6d,#7a1d6d,#781c6d,#781c6d,#7c1d6d,#7f1e6c,#88226a,#952667,#a32c61,#b3325a,#c33b4f,#cb4149,#d44842,#da4e3c,#df5337,#e25734,#e45a31,#e65d2f,#e8602d,#ea632a,#eb6628,#ed6925,#ef6c23,#f1711f,#f2741c,#f47918,#f67e14,#f78212,#f8850f,#f8890c,#f98e09,#fa9207,#fb9606,#fb9b06,#fca108,#fca50a,#fca60c,#fca60c,#fca80d,#fca80d,#fcaa0f,#fcaa0f,#fcaa0f,#fcaa0f,#fcac11,#fcac11,#fcac11,#fcae12,#fcae12,#fcae12,#fcae12,#fcae12,#fcae12,#fcae12,#fcae12,#fcae12,#fcae12,#fcae12,#fcae12,#fcae12,#fcae12,#fcac11,#fcaa0f,#fca80d,#fca60c,#fca309,#fb9b06,#fa9407,#f98c0a,#f47918,#e8602d,#d44842,#ba3655,#9b2964,#7a1d6d,#57106e,#380962,#1e0c45,#0e092b,#07051b)"></div><div class="hc" style="left:95px;top:284px;width:2px;height:201px;background:linear-gradient(#400a67,#400a67,#420a68,#420a68,#440a68,#440a68,#450a69,#470b6a,#4a0c6b,#4f0d6c,#57106e,#64156e,#751b6e,#8a226a,#a32c61,#bf3952,#d44842,#e35933,#eb6429,#eb6628,#e75e2e,#dd513a,#cc4248,#ba3655,#a92e5e,#a32c61,#a32c61,#a92e5e,#b0315b,#b73557,#c13a50,#ce4347,#de5238,#ec6726,#f68013,#fa9008,#fb9606,#fa9407,#f98e09,#f98b0b,#f57d15,#ef6c23,#e65d2f,#e9612b,#ef6c23,#f37819,#f47918,#f57b17,#f57d15,#f47918,#e9612b,#d84c3e,#bf3952,#982766,#801f6c,#7d1e6d,#7a1d6d,#781c6d,#781c6d,#7c1d6d,#7d1e6d,#87216b,#932667,#a02a63,#b0315b,#c13a50,#ca404a,#d34743,#da4e3c,#de5238,#e15635,#e45a31,#e65d2f,#e8602d,#e9612b,#eb6429,#ec6726,#ee6a24,#f06f20,#f2741c,#f47918,#f57d15,#f78212,#f8850f,#f8890c,#f98e09,#fa9207,#fb9606,#fb9b06,#fca108,#fca50a,#fca60c,#fca60c,#fca80d,#fca80d,#fcaa0f,#fcaa0f,#fcaa0f,#fcaa0f,#fcac11,#fcac11,#fcac11,#fcae12,#fcae12,#fcae12,#fcae12,#fcae12,#fcae12,#fcae12,#fcae12,#fcae12,#fcae12,#fcae12,#fcae12,#fcae12,#fcae12,#fcac11,#fcaa0f,#fca80d,#fca60c,#fca309,#fb9b06,#fa9407,#f98c0a,#f47918,#e8602d,#d44842,#ba3655,#9b2964,#7c1d6d,#57106e,#390963,#1e0c45,#0e092b,#07051b)"></div><div class="hc" style="left:97px;top:284px;width:2px;height:201px;background:linear-gradient(#400a67,#400a67,#420a68,#420a68,#440a68,#440a68,#450a69,#470b6a,#4a0c6b,#4d0d6c,#550f6d,#61136e,#71196e,#85216b,#9d2964,#b73557,#cf4446,#e05536,#e9612b,#eb6628,#e9612b,#e05536,#d24644,#c03a51,#ae305c,#a62d60,#a62d60,#a92e5e,#b0315b,#b93556,#c33b4f,#d04545,#e05536,#ef6c23,#f78410,#fa9207,#fb9606,#fa9407,#fa9008,#f98b0b,#f57d15,#ef6c23,#e55c30,#e9612b,#ef6c23,#f37819,#f47918,#f57b17,#f57d15,#f47918,#e9612b,#d84c3e,#bf3952,#982766,#801f6c,#7d1e6d,#7a1d6d,#781c6d,#781c6d,#7c1d6d,#7d1e6d,#87216b,#922568,#9f2a63,#ae305c,#bf3952,#c83f4b,#d24644,#d94d3d,#de5238,#e15635,#e35933,#e55c30,#e75e2e,#e9612b,#ea632a,#eb6628,#ee6a24,#ef6e21,#f1731d,#f37819,#f57d15,#f78212,#f8850f,#f8890c,#f98e09,#fa9207,#fb9606,#fb9b06,#fca108,#fca50a,#fca60c,#fca60c,#fca80d,#fca80d,#fcaa0f,#fcaa0f,#fcaa0f,#fcaa0f,#fcac11,#fcac11,#fcac11,#fcae12,#fcae12,#fcae12,#fcae12,#fcae12,#fcae12,#fcae12,#fcae12,#fcae12,#fcae12,#fcae12,#fcae12,#fcae12,#fcae12,#fcac11,#fcaa0f,#fca80d,#fca60c,#fca309,#fb9b06,#fa9407,#f98c0a,#f47918,#e8602d,#d44842,#ba3655,#9b2964,#7c1d6d,#59106e,#390963,#1f0c48,#0e092b,#07051b)"></div><div class="hc" style="left:99px;top:284px;width:2px;height:201px;background:linear-gradient(#400a67,#400a67,#420a68,#420a68,#440a68,#440a68,#450a69,#470b6a,#490b6a,#4d0d6c,#540f6d,#5d126e,#6c186e,#7f1e6c,#972766,#b1325a,#ca404a,#dd513a,#e8602d,#eb6628,#ea632a,#e35933,#d54a41,#c63d4d,#b3325a,#ab2f5e,#a82e5f,#ab2f5e,#b1325a,#b93556,#c43c4e,#d34743,#e25734,#f06f20,#f8850f,#fa9407,#fb9706,#fa9407,#fa9008,#f98b0b,#f57d15,#ef6c23,#e55c30,#e9612b,#ef6c23,#f37819,#f47918,#f57b17,#f57d15,#f47918,#e9612b,#d84c3e,#bf3952,#982766,#801f6c,#7d1e6d,#7a1d6d,#781c6d,#781c6d,#7c1d6d,#7d1e6d,#85216b,#902568,#9d2964,#ab2f5e,#bd3853,#c73e4c,#cf4446,#d84c3e,#dd513a,#e05536,#e35933,#e55c30,#e75e2e,#e8602d,#ea632a,#eb6429,#ed6925,#ef6e21,#f1731d,#f37819,#f57d15,#f78212,#f8850f,#f8890c,#f98e09,#fa9207,#fb9606,#fb9b06,#fca108,#fca50a,#fca60c,#fca60c,#fca80d,#fca80d,#fcaa0f,#fcaa0f,#fcaa0f,#fcaa0f,#fcac11,#fcac11,#fcac11,#fcae12,#fcae12,#fcae12,#fcae12,#fcae12,#fcae12,#fcae12,#fcae12,#fcae12,#fcae12,#fcae12,#fcae12,#fcae12,#fcae12,#fcac11,#fcaa0f,#fca80d,#fca60c,#fca309,#fb9b06,#fa9407,#f98c0a,#f47918,#e8602d,#d44842,#ba3655,#9b2964,#7c1d6d,#59106e,#390963,#1f0c48,#0e092b,#07051b)"></div><div class="hc" style="left:101px;top:284px;width:2px;height:201px;background:linear-gradient(#400a67,#400a67,#420a68,#420a68,#420a68,#440a68,#450a69,#450a69,#490b6a,#4c0c6b,#510e6c,#5a116e,#67166e,#7a1d6d,#902568,#a92e5e,#c43c4e,#d84c3e,#e55c30,#eb6628,#eb6628,#e55c30,#da4e3c,#ca404a,#b93556,#ae305c,#ab2f5e,#ae305c,#b1325a,#ba3655,#c63d4d,#d54a41,#e45a31,#f1731d,#f8890c,#fb9606,#fb9706,#fb9606,#fa9008,#f98b0b,#f57d15,#ef6c23,#e55c30,#e9612b,#ef6c23,#f37819,#f47918,#f57b17,#f57d15,#f47918,#e9612b,#d84c3e,#bf3952,#982766,#801f6c,#7d1e6d,#7a1d6d,#781c6d,#781c6d,#7a1d6d,#7d1e6d,#85216b,#8f2469,#9b2964,#a92e5e,#ba3655,#c43c4e,#ce4347,#d74b3f,#db503b,#e05536,#e35933,#e45a31,#e65d2f,#e75e2e,#e9612b,#ea632a,#ec6726,#ef6c23,#f1711f,#f3761b,#f57d15,#f68013,#f8850f,#f8890c,#f98e09,#fa9207,#fb9606,#fb9b06,#fca108,#fca50a,#fca60c,#fca60c,#fca80d,#fca80d,#fcaa0f,#fcaa0f,#fcaa0f,#fcaa0f,#fcac11,#fcac11,#fcac11,#fcae12,#fcae12,#fcae12,#fcae12,#fcae12,#fcae12,#fcae12,#fcae12,#fcae12,#fcae12,#fcae12,#fcae12,#fcae12,#fcae12,#fcac11,#fcaa0f,#fca80d,#fca60c,#fca309,#fb9b06,#fa9407,#f98c0a,#f47918,#e8602d,#d44842,#ba3655,#9b2964,#7d1e6d,#5a116e,#3b0964,#1f0c48,#0e092b,#07051b)"></div><div class="hc" style="left:103px;top:284px;width:2px;height:201px;background:linear-gradient(#400a67,#400a67,#400a67,#420a68,#420a68,#440a68,#440a68,#450a69,#470b6a,#4a0c6b,#4f0d6c,#59106e,#64156e,#741a6e,#8a226a,#a32c61,#bd3853,#d34743,#e35933,#eb6429,#eb6628,#e8602d,#de5238,#cf4446,#bf3952,#b3325a,#ae305c,#b0315b,#b3325a,#bc3754,#c73e4c,#d74b3f,#e65d2f,#f3761b,#f98b0b,#fb9706,#fb9906,#fb9606,#fa9008,#f98b0b,#f57d15,#ef6c23,#e55c30,#e9612b,#ef6c23,#f37819,#f47918,#f57b17,#f57d15,#f47918,#e9612b,#d84c3e,#bf3952,#982766,#801f6c,#7d1e6d,#7a1d6d,#781c6d,#781c6d,#7a1d6d,#7d1e6d,#84206b,#8d2369,#9a2865,#a62d60,#b73557,#c33b4f,#cc4248,#d54a41,#db503b,#e05536,#e25734,#e45a31,#e65d2f,#e75e2e,#e8602d,#e9612b,#eb6628,#ee6a24,#f06f20,#f3761b,#f57b17,#f68013,#f8850f,#f8890c,#f98e09,#fa9207,#fb9606,#fb9b06,#fca108,#fca50a,#fca60c,#fca60c,#fca80d,#fca80d,#fcaa0f,#fcaa0f,#fcaa0f,#fcaa0f,#fcac11,#fcac11,#fcac11,#fcae12,#fcae12,#fcae12,#fcae12,#fcae12,#fcae12,#fcae12,#fcae12,#fcae12,#fcae12,#fcae12,#fcae12,#fcae12,#fcae12,#fcac11,#fcaa0f,#fca80d,#fca60c,#fca309,#fb9b06,#fa9407,#f98c0a,#f47918,#e8602d,#d44842,#ba3655,#9b2964,#7d1e6d,#5a116e,#3b0964,#1f0c48,#0e092b,#07051b)"></div><div class="hc" style="left:105px;top:284px;width:2px;height:201px;background:linear-gradient(#400a67,#400a67,#400a67,#420a68,#420a68,#440a68,#440a68,#450a69,#470b6a,#4a0c6b,#4d0d6c,#550f6d,#61136e,#6f196e,#84206b,#9b2964,#b73557,#ce4347,#df5337,#e9612b,#eb6628,#e9612b,#e15635,#d44842,#c33b4f,#b73557,#b1325a,#b1325a,#b43359,#bc3754,#ca404a,#d94d3d,#e9612b,#f47918,#f98e09,#fb9906,#fb9906,#fb9606,#fa9008,#f98b0b,#f57d15,#ef6c23,#e55c30,#e9612b,#ef6c23,#f37819,#f47918,#f57b17,#f57d15,#f47918,#e9612b,#d84c3e,#bf3952,#982766,#801f6c,#7d1e6d,#7a1d6d,#781c6d,#781c6d,#7a1d6d,#7c1d6d,#84206b,#8d2369,#972766,#a52c60,#b63458,#c03a51,#cb4149,#d44842,#da4e3c,#df5337,#e25734,#e45a31,#e55c30,#e65d2f,#e75e2e,#e8602d,#eb6429,#ed6925,#f06f20,#f2741c,#f57b17,#f68013,#f8850f,#f8890c,#f98e09,#fa9207,#fb9606,#fb9b06,#fca108,#fca50a,#fca60c,#fca60c,#fca80d,#fca80d,#fcaa0f,#fcaa0f,#fcaa0f,#fcaa0f,#fcac11,#fcac11,#fcac11,#fcae12,#fcae12,#fcae12,#fcae12,#fcae12,#fcae12,#fcae12,#fcae12,#fcae12,#fcae12,#fcae12,#fcae12,#fcae12,#fcae12,#fcac11,#fcaa0f,#fca80d,#fca60c,#fca309,#fb9b06,#fa9407,#f98c0a,#f47918,#e8602d,#d44842,#ba3655,#9b2964,#7d1e6d,#5c126e,#3b0964,#1f0c48,#0e092b,#07051b)"></div><div class="hc" style="left:107px;top:284px;width:2px;height:201px;background:linear-gradient(#400a67,#400a67,#400a67,#420a68,#420a68,#420a68,#440a68,#450a69,#470b6a,#490b6a,#4d0d6c,#540f6d,#5d126e,#6c186e,#7d1e6d,#952667,#b0315b,#c83f4b,#db503b,#e75e2e,#eb6628,#eb6429,#e45a31,#d84c3e,#c83f4b,#bc3754,#b63458,#b43359,#b63458,#bd3853,#cb4149,#db503b,#eb6429,#f57d15,#fa9008,#fb9906,#fb9b06,#fb9706,#fa9008,#f98c0a,#f57d15,#ef6c23,#e55c30,#e9612b,#ef6c23,#f37819,#f47918,#f57b17,#f57d15,#f47918,#e9612b,#d84c3e,#bf3952,#982766,#801f6c,#7d1e6d,#7a1d6d,#781c6d,#781c6d,#7a1d6d,#7c1d6d,#82206c,#8c2369,#952667,#a32c61,#b3325a,#bf3952,#ca404a,#d34743,#d94d3d,#de5238,#e15635,#e35933,#e55c30,#e55c30,#e65d2f,#e75e2e,#ea632a,#ec6726,#ef6e21,#f2741c,#f57b17,#f68013,#f8850f,#f8890c,#f98e09,#fa9207,#fb9606,#fb9b06,#fca108,#fca50a,#fca60c,#fca60c,#fca80d,#fca80d,#fcaa0f,#fcaa0f,#fcaa0f,#fcaa0f,#fcac11,#fcac11,#fcac11,#fcae12,#fcae12,#fcae12,#fcae12,#fcae12,#fcae12,#fcae12,#fcae12,#fcae12,#fcae12,#fcae12,#fcae12,#fcae12,#fcae12,#fcac11,#fcaa0f,#fca80d,#fca60c,#fca309,#fb9b06,#fa9407,#f98c0a,#f47918,#e8602d,#d44842,#ba3655,#9b2964,#7f1e6c,#5d126e,#3d0965,#210c4a,#0e092b,#07051b)"></div><div class="hc" style="left:109px;top:284px;width:2px;height:201px;background:linear-gradient(#3e0966,#400a67,#400a67,#400a67,#420a68,#420a68,#440a68,#440a68,#450a69,#470b6a,#4c0c6b,#510e6c,#5a116e,#67166e,#781c6d,#8f2469,#a82e5f,#c13a50,#d74b3f,#e45a31,#eb6429,#eb6628,#e65d2f,#dd513a,#ce4347,#c03a51,#b93556,#b73557,#b73557,#c03a51,#cc4248,#de5238,#eb6628,#f67e14,#fa9207,#fb9b06,#fb9b06,#fb9706,#fa9207,#f98c0a,#f57d15,#ef6c23,#e55c30,#e9612b,#ef6c23,#f37819,#f47918,#f57b17,#f57d15,#f47918,#e9612b,#d84c3e,#bf3952,#982766,#801f6c,#7d1e6d,#7a1d6d,#781c6d,#781c6d,#7a1d6d,#7c1d6d,#82206c,#8a226a,#932667,#a02a63,#b0315b,#bc3754,#c73e4c,#d24644,#d94d3d,#de5238,#e15635,#e35933,#e45a31,#e55c30,#e55c30,#e65d2f,#e8602d,#eb6628,#ef6c23,#f1731d,#f47918,#f68013,#f8850f,#f8890c,#f98c0a,#fa9207,#fb9606,#fb9b06,#fca108,#fca50a,#fca60c,#fca60c,#fca80d,#fca80d,#fcaa0f,#fcaa0f,#fcaa0f,#fcaa0f,#fcac11,#fcac11,#fcac11,#fcae12,#fcae12,#fcae12,#fcae12,#fcae12,#fcae12,#fcae12,#fcae12,#fcae12,#fcae12,#fcae12,#fcae12,#fcae12,#fcae12,#fcac11,#fcaa0f,#fca80d,#fca60c,#fca309,#fb9b06,#fa9407,#f98c0a,#f47918,#e8602d,#d44842,#ba3655,#9b2964,#7f1e6c,#5d126e,#3d0965,#210c4a,#0e092b,#07051b)"></div><div class="hc" style="left:111px;top:284px;width:2px;height:201px;background:linear-gradient(#3e0966,#400a67,#400a67,#400a67,#420a68,#420a68,#440a68,#440a68,#450a69,#470b6a,#4a0c6b,#4f0d6c,#57106e,#64156e,#741a6e,#88226a,#a22b62,#bc3754,#d24644,#e25734,#ea632a,#eb6628,#e8602d,#e05536,#d24644,#c63d4d,#bd3853,#b93556,#ba3655,#c13a50,#ce4347,#df5337,#ed6925,#f78212,#fa9407,#fb9d07,#fb9d07,#fb9706,#fa9207,#f98c0a,#f67e14,#ef6c23,#e55c30,#e9612b,#ef6c23,#f37819,#f47918,#f57b17,#f57d15,#f47918,#e9612b,#d84c3e,#bf3952,#982766,#801f6c,#7d1e6d,#7a1d6d,#781c6d,#781c6d,#7a1d6d,#7c1d6d,#801f6c,#88226a,#922568,#9f2a63,#ae305c,#ba3655,#c63d4d,#d04545,#d84c3e,#dd513a,#e15635,#e35933,#e45a31,#e45a31,#e45a31,#e55c30,#e75e2e,#eb6429,#ee6a24,#f1711f,#f47918,#f67e14,#f78410,#f8890c,#f98c0a,#fa9207,#fb9606,#fb9b06,#fca108,#fca50a,#fca60c,#fca60c,#fca80d,#fca80d,#fcaa0f,#fcaa0f,#fcaa0f,#fcaa0f,#fcac11,#fcac11,#fcac11,#fcae12,#fcae12,#fcae12,#fcae12,#fcae12,#fcae12,#fcae12,#fcae12,#fcae12,#fcae12,#fcae12,#fcae12,#fcae12,#fcae12,#fcac11,#fcaa0f,#fca80d,#fca60c,#fca309,#fb9b06,#fa9407,#f98c0a,#f47918,#e8602d,#d44842,#ba3655,#9b2964,#7f1e6c,#5f136e,#3e0966,#210c4a,#0e092b,#07051b)"></div><div class="hc" style="left:113px;top:284px;width:2px;height:201px;background:linear-gradient(#3e0966,#400a67,#400a67,#400a67,#420a68,#420a68,#420a68,#440a68,#450a69,#470b6a,#490b6a,#4d0d6c,#550f6d,#5f136e,#6f196e,#82206c,#9a2865,#b43359,#cc4248,#de5238,#e8602d,#eb6628,#ea632a,#e35933,#d74b3f,#ca404a,#c13a50,#bd3853,#bd3853,#c33b4f,#d04545,#e15635,#ef6c23,#f8850f,#fb9706,#fc9f07,#fb9d07,#fb9706,#fa9207,#f98c0a,#f67e14,#ef6c23,#e55c30,#e9612b,#ef6c23,#f37819,#f47918,#f57b17,#f57d15,#f47918,#e9612b,#d84c3e,#bf3952,#982766,#801f6c,#7d1e6d,#7a1d6d,#781c6d,#781c6d,#7a1d6d,#7c1d6d,#801f6c,#87216b,#902568,#9b2964,#ab2f5e,#b73557,#c43c4e,#cf4446,#d74b3f,#dd513a,#e05536,#e25734,#e35933,#e45a31,#e45a31,#e45a31,#e65d2f,#e9612b,#ed6925,#f1711f,#f37819,#f67e14,#f78410,#f8890c,#f98c0a,#fa9207,#fb9606,#fb9b06,#fca108,#fca50a,#fca60c,#fca60c,#fca80d,#fca80d,#fcaa0f,#fcaa0f,#fcaa0f,#fcaa0f,#fcac11,#fcac11,#fcac11,#fcae12,#fcae12,#fcae12,#fcae12,#fcae12,#fcae12,#fcae12,#fcae12,#fcae12,#fcae12,#fcae12,#fcae12,#fcae12,#fcae12,#fcac11,#fcaa0f,#fca80d,#fca60c,#fca309,#fb9b06,#fa9407,#f98c0a,#f47918,#e8602d,#d44842,#ba3655,#9b2964,#801f6c,#61136e,#400a67,#230c4c,#0e092b,#07051b)"></div><div class="hc" style="left:115px;top:284px;width:2px;height:201px;background:linear-gradient(#3e0966,#3e0966,#400a67,#400a67,#400a67,#420a68,#420a68,#440a68,#440a68,#450a69,#490b6a,#4c0c6b,#540f6d,#5c126e,#6a176e,#7d1e6d,#932667,#ad305d,#c63d4d,#d94d3d,#e65d2f,#eb6628,#eb6429,#e55c30,#db503b,#cf4446,#c63d4d,#c03a51,#c03a51,#c63d4d,#d24644,#e25734,#f06f20,#f8870e,#fb9906,#fca108,#fc9f07,#fb9906,#fa9207,#f98c0a,#f67e14,#ef6c23,#e55c30,#e9612b,#ef6c23,#f37819,#f47918,#f57b17,#f57d15,#f47918,#e9612b,#d84c3e,#bf3952,#982766,#801f6c,#7d1e6d,#7a1d6d,#781c6d,#781c6d,#7a1d6d,#7c1d6d,#801f6c,#85216b,#8d2369,#9a2865,#a92e5e,#b63458,#c13a50,#ce4347,#d54a41,#db503b,#e05536,#e25734,#e35933,#e35933,#e35933,#e35933,#e55c30,#e8602d,#ec6726,#f06f20,#f37819,#f67e14,#f78410,#f8890c,#f98c0a,#fa9207,#fb9606,#fb9b06,#fca108,#fca50a,#fca60c,#fca60c,#fca80d,#fca80d,#fcaa0f,#fcaa0f,#fcaa0f,#fcaa0f,#fcac11,#fcac11,#fcac11,#fcae12,#fcae12,#fcae12,#fcae12,#fcae12,#fcae12,#fcae12,#fcae12,#fcae12,#fcae12,#fcae12,#fcae12,#fcae12,#fcae12,#fcac11,#fcaa0f,#fca80d,#fca60c,#fca309,#fb9b06,#fa9407,#f98c0a,#f47918,#e8602d,#d44842,#ba3655,#9b2964,#801f6c,#62146e,#400a67,#230c4c,#10092d,#07051b)"></div><div class="hc" style="left:117px;top:284px;width:2px;height:201px;background:linear-gradient(#3e0966,#3e0966,#400a67,#400a67,#400a67,#400a67,#420a68,#420a68,#440a68,#450a69,#470b6a,#4c0c6b,#510e6c,#5a116e,#65156e,#771c6d,#8c2369,#a52c60,#bf3952,#d34743,#e25734,#ea632a,#eb6429,#e75e2e,#df5337,#d44842,#ca404a,#c43c4e,#c33b4f,#c83f4b,#d44842,#e45a31,#f1711f,#f98b0b,#fb9b06,#fca108,#fc9f07,#fb9906,#fa9207,#f98c0a,#f67e14,#ef6c23,#e55c30,#e9612b,#ef6c23,#f37819,#f47918,#f57b17,#f57d15,#f47918,#e9612b,#d84c3e,#bf3952,#982766,#801f6c,#7d1e6d,#7a1d6d,#781c6d,#781c6d,#7a1d6d,#7c1d6d,#7f1e6c,#85216b,#8c2369,#972766,#a62d60,#b3325a,#c03a51,#cc4248,#d54a41,#db503b,#df5337,#e25734,#e35933,#e25734,#e25734,#e25734,#e45a31,#e75e2e,#eb6628,#ef6e21,#f3761b,#f57d15,#f78410,#f8890c,#f98c0a,#fa9207,#fb9606,#fb9b06,#fca108,#fca50a,#fca60c,#fca60c,#fca80d,#fca80d,#fcaa0f,#fcaa0f,#fcaa0f,#fcaa0f,#fcac11,#fcac11,#fcac11,#fcae12,#fcae12,#fcae12,#fcae12,#fcae12,#fcae12,#fcae12,#fcae12,#fcae12,#fcae12,#fcae12,#fcae12,#fcae12,#fcae12,#fcac11,#fcaa0f,#fca80d,#fca60c,#fca309,#fb9b06,#fa9407,#f98c0a,#f47918,#e8602d,#d44842,#ba3655,#9b2964,#801f6c,#64156e,#420a68,#230c4c,#10092d,#07051b)"></div><div class="hc" style="left:119px;top:284px;width:2px;height:201px;background:linear-gradient(#3e0966,#3e0966,#3e0966,#400a67,#400a67,#400a67,#420a68,#420a68,#440a68,#440a68,#470b6a,#4a0c6b,#4f0d6c,#57106e,#61136e,#71196e,#84206b,#9b2964,#b63458,#cc4248,#dd513a,#e75e2e,#eb6429,#e9612b,#e25734,#d94d3d,#cf4446,#c83f4b,#c73e4c,#cb4149,#d74b3f,#e65d2f,#f2741c,#f98c0a,#fb9d07,#fca309,#fca108,#fb9b06,#fa9407,#f98c0a,#f67e14,#ef6c23,#e55c30,#e9612b,#ef6c23,#f37819,#f47918,#f57b17,#f57d15,#f47918,#e9612b,#d84c3e,#bf3952,#982766,#801f6c,#7d1e6d,#7a1d6d,#781c6d,#781c6d,#7a1d6d,#7a1d6d,#7f1e6c,#84206b,#8a226a,#952667,#a32c61,#b1325a,#bf3952,#cb4149,#d44842,#da4e3c,#df5337,#e15635,#e25734,#e25734,#e15635,#e15635,#e35933,#e65d2f,#eb6429,#ef6c23,#f3761b,#f57d15,#f78410,#f8890c,#f98c0a,#fa9207,#fb9606,#fb9b06,#fca108,#fca50a,#fca60c,#fca60c,#fca80d,#fca80d,#fcaa0f,#fcaa0f,#fcaa0f,#fcaa0f,#fcac11,#fcac11,#fcac11,#fcae12,#fcae12,#fcae12,#fcae12,#fcae12,#fcae12,#fcae12,#fcae12,#fcae12,#fcae12,#fcae12,#fcae12,#fcae12,#fcae12,#fcac11,#fcaa0f,#fca80d,#fca60c,#fca309,#fb9b06,#fa9407,#f98c0a,#f47918,#e8602d,#d44842,#ba3655,#9b2964,#801f6c,#64156e,#440a68,#240c4f,#10092d,#07051b)"></div><div class="hc" style="left:121px;top:284px;width:2px;height:201px;background:linear-gradient(#3e0966,#3e0966,#3e0966,#3e0966,#400a67,#400a67,#400a67,#420a68,#420a68,#440a68,#450a69,#490b6a,#4d0d6c,#540f6d,#5d126e,#6a176e,#7d1e6d,#922568,#ab2f5e,#c33b4f,#d74b3f,#e35933,#e9612b,#e9612b,#e45a31,#dd513a,#d44842,#ce4347,#ca404a,#ce4347,#d94d3d,#e8602d,#f37819,#fa9008,#fc9f07,#fca50a,#fca309,#fb9b06,#fa9407,#f98c0a,#f67e14,#ef6c23,#e55c30,#e9612b,#ef6c23,#f37819,#f47918,#f57b17,#f57d15,#f47918,#e9612b,#d84c3e,#bf3952,#982766,#801f6c,#7d1e6d,#7a1d6d,#781c6d,#781c6d,#7a1d6d,#7a1d6d,#7d1e6d,#82206c,#88226a,#922568,#a22b62,#ae305c,#bc3754,#ca404a,#d34743,#da4e3c,#df5337,#e15635,#e25734,#e15635,#e05536,#e05536,#e15635,#e55c30,#ea632a,#ee6a24,#f2741c,#f57d15,#f78410,#f8890c,#f98c0a,#fa9207,#fb9606,#fb9b06,#fca108,#fca50a,#fca60c,#fca60c,#fca80d,#fca80d,#fcaa0f,#fcaa0f,#fcaa0f,#fcaa0f,#fcac11,#fcac11,#fcac11,#fcae12,#fcae12,#fcae12,#fcae12,#fcae12,#fcae12,#fcae12,#fcae12,#fcae12,#fcae12,#fcae12,#fcae12,#fcae12,#fcae12,#fcac11,#fcaa0f,#fca80d,#fca60c,#fca309,#fb9b06,#fa9407,#f98c0a,#f47918,#e8602d,#d44842,#ba3655,#9b2964,#801f6c,#65156e,#450a69,#240c4f,#10092d,#07051b)"></div><div class="hc" style="left:123px;top:284px;width:2px;height:201px;background:linear-gradient(#3e0966,#3e0966,#3e0966,#3e0966,#400a67,#400a67,#400a67,#420a68,#420a68,#440a68,#450a69,#470b6a,#4c0c6b,#510e6c,#59106e,#65156e,#751b6e,#8a226a,#a22b62,#b93556,#cf4446,#de5238,#e65d2f,#e8602d,#e65d2f,#e05536,#d84c3e,#d24644,#ce4347,#d04545,#db503b,#e9612b,#f57b17,#fa9207,#fca108,#fca60c,#fca309,#fb9d07,#fa9407,#f98e09,#f67e14,#ef6c23,#e55c30,#e9612b,#ef6c23,#f37819,#f47918,#f57b17,#f57d15,#f47918,#e9612b,#d84c3e,#bf3952,#982766,#801f6c,#7d1e6d,#7a1d6d,#781c6d,#781c6d,#7a1d6d,#7a1d6d,#7d1e6d,#82206c,#87216b,#902568,#9f2a63,#ad305d,#ba3655,#c83f4b,#d24644,#d94d3d,#de5238,#e15635,#e25734,#e15635,#e05536,#df5337,#e05536,#e45a31,#e9612b,#ee6a24,#f1731d,#f57b17,#f78212,#f8890c,#f98c0a,#fa9207,#fb9606,#fb9b06,#fca108,#fca50a,#fca60c,#fca60c,#fca80d,#fca80d,#fcaa0f,#fcaa0f,#fcaa0f,#fcaa0f,#fcac11,#fcac11,#fcac11,#fcae12,#fcae12,#fcae12,#fcae12,#fcae12,#fcae12,#fcae12,#fcae12,#fcae12,#fcae12,#fcae12,#fcae12,#fcae12,#fcae12,#fcac11,#fcaa0f,#fca80d,#fca60c,#fca309,#fb9b06,#fa9407,#f98c0a,#f47918,#e8602d,#d44842,#ba3655,#9b2964,#801f6c,#67166e,#470b6a,#260c51,#10092d,#07051b)"></div><div class="hc" style="left:125px;top:284px;width:2px;height:201px;background:linear-gradient(#3d0965,#3e0966,#3e0966,#3e0966,#3e0966,#400a67,#400a67,#400a67,#420a68,#420a68,#440a68,#470b6a,#4a0c6b,#4f0d6c,#550f6d,#61136e,#6f196e,#801f6c,#972766,#ae305c,#c63d4d,#d74b3f,#e25734,#e75e2e,#e65d2f,#e15635,#da4e3c,#d44842,#d04545,#d44842,#de5238,#eb6429,#f57d15,#fb9606,#fca50a,#fca80d,#fca50a,#fb9d07,#fb9606,#f98e09,#f67e14,#ef6c23,#e55c30,#e9612b,#ef6c23,#f37819,#f47918,#f57b17,#f57d15,#f47918,#e9612b,#d84c3e,#bf3952,#982766,#801f6c,#7d1e6d,#7a1d6d,#781c6d,#781c6d,#7a1d6d,#7a1d6d,#7d1e6d,#801f6c,#85216b,#8f2469,#9d2964,#a92e5e,#b93556,#c73e4c,#d04545,#d84c3e,#de5238,#e05536,#e15635,#e15635,#df5337,#de5238,#df5337,#e35933,#e8602d,#ed6925,#f1731d,#f57b17,#f78212,#f8890c,#f98c0a,#fa9207,#fb9606,#fb9b06,#fca108,#fca50a,#fca60c,#fca60c,#fca80d,#fca80d,#fcaa0f,#fcaa0f,#fcaa0f,#fcaa0f,#fcac11,#fcac11,#fcac11,#fcae12,#fcae12,#fcae12,#fcae12,#fcae12,#fcae12,#fcae12,#fcae12,#fcae12,#fcae12,#fcae12,#fcae12,#fcae12,#fcae12,#fcac11,#fcaa0f,#fca80d,#fca60c,#fca309,#fb9b06,#fa9407,#f98c0a,#f47918,#e8602d,#d44842,#ba3655,#9b2964,#7f1e6c,#67166e,#490b6a,#280b53,#110a30,#07051b)"></div><div class="hc" style="left:127px;top:284px;width:2px;height:201px;background:linear-gradient(#3d0965,#3d0965,#3e0966,#3e0966,#3e0966,#3e0966,#400a67,#400a67,#400a67,#420a68,#440a68,#450a69,#490b6a,#4d0d6c,#520e6d,#5c126e,#69166e,#781c6d,#8d2369,#a52c60,#bc3754,#cf4446,#dd513a,#e45a31,#e55c30,#e35933,#de5238,#d84c3e,#d44842,#d74b3f,#e05536,#ec6726,#f68013,#fb9706,#fca60c,#fca80d,#fca60c,#fc9f07,#fb9606,#f98e09,#f67e14,#ef6c23,#e55c30,#e9612b,#ef6c23,#f37819,#f47918,#f57b17,#f57d15,#f47918,#e9612b,#d84c3e,#bf3952,#982766,#801f6c,#7d1e6d,#7a1d6d,#781c6d,#781c6d,#7a1d6d,#7a1d6d,#7d1e6d,#801f6c,#84206b,#8d2369,#9a2865,#a82e5f,#b73557,#c63d4d,#cf4446,#d84c3e,#dd513a,#e05536,#e15635,#e05536,#df5337,#dd513a,#de5238,#e15635,#e75e2e,#ec6726,#f1711f,#f57b17,#f78212,#f8870e,#f98c0a,#fa9207,#fb9606,#fb9b06,#fca108,#fca50a,#fca60c,#fca60c,#fca80d,#fca80d,#fcaa0f,#fcaa0f,#fcaa0f,#fcaa0f,#fcac11,#fcac11,#fcac11,#fcae12,#fcae12,#fcae12,#fcae12,#fcae12,#fcae12,#fcae12,#fcae12,#fcae12,#fcae12,#fcae12,#fcae12,#fcae12,#fcae12,#fcac11,#fcaa0f,#fca80d,#fca60c,#fca309,#fb9b06,#fa9407,#f98c0a,#f47918,#e8602d,#d44842,#ba3655,#9b2964,#7f1e6c,#69166e,#4a0c6b,#280b53,#110a30,#07051b)"></div><div class="hc" style="left:129px;top:284px;width:2px;height:201px;background:linear-gradient(#3d0965,#3d0965,#3d0965,#3e0966,#3e0966,#3e0966,#3e0966,#400a67,#400a67,#420a68,#420a68,#450a69,#470b6a,#4c0c6b,#510e6c,#59106e,#64156e,#721a6e,#85216b,#9a2865,#b1325a,#c73e4c,#d74b3f,#e05536,#e45a31,#e35933,#df5337,#da4e3c,#d74b3f,#d94d3d,#e25734,#ee6a24,#f78410,#fb9b06,#fca80d,#fcaa0f,#fca60c,#fc9f07,#fb9706,#f98e09,#f67e14,#ef6c23,#e55c30,#e9612b,#ef6c23,#f37819,#f47918,#f57b17,#f57d15,#f47918,#e9612b,#d84c3e,#bf3952,#982766,#801f6c,#7d1e6d,#7a1d6d,#771c6d,#781c6d,#7a1d6d,#7a1d6d,#7c1d6d,#7f1e6c,#84206b,#8c2369,#982766,#a62d60,#b43359,#c43c4e,#cf4446,#d74b3f,#dd513a,#e05536,#e15635,#e05536,#de5238,#dd513a,#dd513a,#e05536,#e65d2f,#eb6628,#f1711f,#f47918,#f78212,#f8870e,#f98c0a,#fa9207,#fb9606,#fb9b06,#fca108,#fca50a,#fca60c,#fca60c,#fca80d,#fca80d,#fcaa0f,#fcaa0f,#fcaa0f,#fcaa0f,#fcac11,#fcac11,#fcac11,#fcae12,#fcae12,#fcae12,#fcae12,#fcae12,#fcae12,#fcae12,#fcae12,#fcae12,#fcae12,#fcae12,#fcae12,#fcae12,#fcae12,#fcac11,#fcaa0f,#fca80d,#fca60c,#fca309,#fb9b06,#fa9407,#f98c0a,#f47918,#e8602d,#d44842,#ba3655,#9b2964,#7f1e6c,#69166e,#4c0c6b,#290b55,#110a30,#07051b)"></div><div class="hc" style="left:131px;top:284px;width:2px;height:201px;background:linear-gradient(#3d0965,#3d0965,#3d0965,#3d0965,#3e0966,#3e0966,#3e0966,#3e0966,#400a67,#400a67,#420a68,#440a68,#470b6a,#4a0c6b,#4f0d6c,#550f6d,#5f136e,#6c186e,#7d1e6d,#902568,#a82e5f,#bf3952,#d04545,#db503b,#e15635,#e25734,#e05536,#db503b,#d94d3d,#db503b,#e45a31,#ef6e21,#f8870e,#fb9d07,#fcaa0f,#fcac11,#fca80d,#fca108,#fb9706,#fa9008,#f68013,#ef6c23,#e65d2f,#e9612b,#ef6c23,#f37819,#f47918,#f57b17,#f57d15,#f47918,#e9612b,#d84c3e,#bf3952,#982766,#801f6c,#7d1e6d,#7a1d6d,#771c6d,#781c6d,#7a1d6d,#7a1d6d,#7c1d6d,#7f1e6c,#82206c,#8a226a,#972766,#a32c61,#b3325a,#c33b4f,#ce4347,#d74b3f,#dd513a,#e05536,#e05536,#df5337,#dd513a,#db503b,#db503b,#e05536,#e55c30,#eb6628,#f06f20,#f47918,#f78212,#f8870e,#f98c0a,#fa9207,#fb9606,#fb9b06,#fca108,#fca50a,#fca60c,#fca60c,#fca80d,#fca80d,#fcaa0f,#fcaa0f,#fcaa0f,#fcaa0f,#fcac11,#fcac11,#fcac11,#fcae12,#fcae12,#fcae12,#fcae12,#fcae12,#fcae12,#fcae12,#fcae12,#fcae12,#fcae12,#fcae12,#fcae12,#fcae12,#fcae12,#fcac11,#fcaa0f,#fca80d,#fca60c,#fca309,#fb9b06,#fa9407,#f98c0a,#f47918,#e8602d,#d44842,#ba3655,#9b2964,#7f1e6c,#69166e,#4d0d6c,#2b0b57,#110a30,#07051b)"></div><div class="hc" style="left:133px;top:284px;width:2px;height:201px;background:linear-gradient(#3d0965,#3d0965,#3d0965,#3d0965,#3d0965,#3e0966,#3e0966,#3e0966,#400a67,#400a67,#420a68,#440a68,#450a69,#490b6a,#4d0d6c,#520e6d,#5c126e,#67166e,#771c6d,#88226a,#9f2a63,#b63458,#c83f4b,#d74b3f,#de5238,#e15635,#e05536,#dd513a,#da4e3c,#dd513a,#e55c30,#f1711f,#f8890c,#fca108,#fcac11,#fcae12,#fcaa0f,#fca309,#fb9906,#fa9008,#f68013,#ef6e21,#e65d2f,#e9612b,#ef6c23,#f37819,#f47918,#f57b17,#f57d15,#f47918,#e9612b,#d84c3e,#bf3952,#982766,#801f6c,#7d1e6d,#7a1d6d,#771c6d,#781c6d,#7a1d6d,#7a1d6d,#7c1d6d,#7d1e6d,#801f6c,#88226a,#952667,#a22b62,#b1325a,#c13a50,#cc4248,#d54a41,#db503b,#df5337,#e05536,#df5337,#dd513a,#da4e3c,#db503b,#df5337,#e45a31,#eb6429,#f06f20,#f47918,#f78212,#f8870e,#f98c0a,#fa9207,#fb9606,#fb9b06,#fca108,#fca50a,#fca60c,#fca60c,#fca80d,#fca80d,#fcaa0f,#fcaa0f,#fcaa0f,#fcaa0f,#fcac11,#fcac11,#fcac11,#fcae12,#fcae12,#fcae12,#fcae12,#fcae12,#fcae12,#fcae12,#fcae12,#fcae12,#fcae12,#fcae12,#fcae12,#fcae12,#fcae12,#fcac11,#fcaa0f,#fca80d,#fca60c,#fca309,#fb9b06,#fa9407,#f98c0a,#f47918,#e8602d,#d44842,#ba3655,#9b2964,#7f1e6c,#69166e,#4f0d6c,#2d0b59,#120a32,#07051b)"></div><div class="hc" style="left:135px;top:284px;width:2px;height:201px;background:linear-gradient(#3d0965,#3d0965,#3d0965,#3d0965,#3d0965,#3d0965,#3e0966,#3e0966,#3e0966,#400a67,#400a67,#440a68,#450a69,#490b6a,#4c0c6b,#510e6c,#59106e,#62146e,#71196e,#82206c,#972766,#ae305c,#c13a50,#d24644,#da4e3c,#df5337,#df5337,#de5238,#db503b,#df5337,#e75e2e,#f1731d,#f98c0a,#fca309,#fcae12,#fcb014,#fcac11,#fca309,#fb9906,#fa9207,#f68013,#ef6e21,#e65d2f,#e9612b,#ef6c23,#f37819,#f47918,#f57b17,#f57d15,#f47918,#e9612b,#d84c3e,#bf3952,#982766,#801f6c,#7d1e6d,#7a1d6d,#781c6d,#781c6d,#7a1d6d,#7a1d6d,#7c1d6d,#7d1e6d,#801f6c,#87216b,#922568,#a02a63,#b0315b,#c03a51,#cb4149,#d54a41,#db503b,#df5337,#e05536,#df5337,#dd513a,#da4e3c,#da4e3c,#de5238,#e35933,#ea632a,#ef6e21,#f37819,#f68013,#f8870e,#f98c0a,#fa9207,#fb9606,#fb9b06,#fca108,#fca50a,#fca60c,#fca60c,#fca80d,#fca80d,#fcaa0f,#fcaa0f,#fcaa0f,#fcaa0f,#fcac11,#fcac11,#fcac11,#fcae12,#fcae12,#fcae12,#fcae12,#fcae12,#fcae12,#fcae12,#fcae12,#fcae12,#fcae12,#fcae12,#fcae12,#fcae12,#fcae12,#fcac11,#fcaa0f,#fca80d,#fca60c,#fca309,#fb9b06,#fa9407,#f98c0a,#f47918,#e8602d,#d44842,#ba3655,#9b2964,#7f1e6c,#67166e,#510e6c,#2f0a5b,#120a32,#07051b)"></div><div class="hc" style="left:137px;top:284px;width:2px;height:201px;background:linear-gradient(#3d0965,#3d0965,#3d0965,#3d0965,#3d0965,#3d0965,#3d0965,#3e0966,#3e0966,#3e0966,#400a67,#420a68,#440a68,#470b6a,#4a0c6b,#4f0d6c,#550f6d,#5f136e,#6c186e,#7c1d6d,#902568,#a62d60,#bc3754,#cb4149,#d74b3f,#dd513a,#de5238,#de5238,#dd513a,#e05536,#e8602d,#f3761b,#f98e09,#fca50a,#fcb014,#fcb216,#fcae12,#fca50a,#fb9b06,#fa9207,#f78212,#ef6e21,#e65d2f,#e9612b,#ef6c23,#f37819,#f47918,#f57b17,#f57d15,#f47918,#e9612b,#d84c3e,#bf3952,#982766,#801f6c,#7d1e6d,#7a1d6d,#781c6d,#781c6d,#7a1d6d,#7a1d6d,#7c1d6d,#7d1e6d,#7f1e6c,#85216b,#902568,#9f2a63,#ae305c,#bf3952,#cb4149,#d44842,#db503b,#df5337,#e05536,#df5337,#db503b,#d94d3d,#d94d3d,#dd513a,#e35933,#ea632a,#ef6e21,#f37819,#f68013,#f8870e,#f98c0a,#fa9207,#fb9606,#fb9b06,#fca108,#fca50a,#fca60c,#fca60c,#fca80d,#fca80d,#fcaa0f,#fcaa0f,#fcaa0f,#fcaa0f,#fcac11,#fcac11,#fcac11,#fcae12,#fcae12,#fcae12,#fcae12,#fcae12,#fcae12,#fcae12,#fcae12,#fcae12,#fcae12,#fcae12,#fcae12,#fcae12,#fcae12,#fcac11,#fcaa0f,#fca80d,#fca60c,#fca309,#fb9b06,#fa9407,#f98c0a,#f47918,#e8602d,#d44842,#ba3655,#9b2964,#7f1e6c,#67166e,#520e6d,#310a5c,#140b34,#07051b)"></div><div class="hc" style="left:139px;top:284px;width:2px;height:201px;background:linear-gradient(#3b0964,#3b0964,#3b0964,#3d0965,#3d0965,#3d0965,#3d0965,#3d0965,#3e0966,#3e0966,#400a67,#420a68,#440a68,#470b6a,#4a0c6b,#4d0d6c,#540f6d,#5d126e,#69166e,#781c6d,#8c2369,#a02a63,#b63458,#c73e4c,#d34743,#da4e3c,#dd513a,#dd513a,#dd513a,#e05536,#e9612b,#f37819,#fa9207,#fca60c,#fcb216,#fcb418,#fcae12,#fca60c,#fb9b06,#fa9207,#f78212,#ef6e21,#e65d2f,#e9612b,#ef6c23,#f37819,#f47918,#f57b17,#f57d15,#f47918,#e9612b,#d84c3e,#bf3952,#982766,#801f6c,#7d1e6d,#7a1d6d,#781c6d,#781c6d,#7a1d6d,#7a1d6d,#7c1d6d,#7c1d6d,#7f1e6c,#84206b,#902568,#9d2964,#ad305d,#bd3853,#ca404a,#d44842,#da4e3c,#df5337,#e05536,#df5337,#db503b,#d94d3d,#d94d3d,#dd513a,#e25734,#e9612b,#ef6c23,#f37819,#f68013,#f8870e,#f98c0a,#fa9207,#fb9606,#fb9b06,#fca108,#fca50a,#fca60c,#fca60c,#fca80d,#fca80d,#fcaa0f,#fcaa0f,#fcaa0f,#fcaa0f,#fcac11,#fcac11,#fcac11,#fcae12,#fcae12,#fcae12,#fcae12,#fcae12,#fcae12,#fcae12,#fcae12,#fcae12,#fcae12,#fcae12,#fcae12,#fcae12,#fcae12,#fcac11,#fcaa0f,#fca80d,#fca60c,#fca309,#fb9b06,#fa9407,#f98c0a,#f47918,#e8602d,#d44842,#ba3655,#9b2964,#7f1e6c,#65156e,#520e6d,#320a5e,#140b34,#07051b)"></div><div class="hc" style="left:141px;top:284px;width:2px;height:201px;background:linear-gradient(#3b0964,#3b0964,#3b0964,#3b0964,#3b0964,#3d0965,#3d0965,#3d0965,#3d0965,#3e0966,#3e0966,#420a68,#440a68,#450a69,#490b6a,#4d0d6c,#540f6d,#5c126e,#67166e,#751b6e,#87216b,#9b2964,#b1325a,#c13a50,#cf4446,#d84c3e,#db503b,#db503b,#dd513a,#e05536,#ea632a,#f47918,#fa9407,#fcaa0f,#fcb418,#fbb61a,#fcb014,#fca80d,#fb9d07,#fa9407,#f78212,#ef6e21,#e65d2f,#e9612b,#ef6c23,#f37819,#f47918,#f57b17,#f57d15,#f47918,#e9612b,#d84c3e,#bf3952,#982766,#801f6c,#7d1e6d,#7a1d6d,#781c6d,#781c6d,#7a1d6d,#7a1d6d,#7c1d6d,#7c1d6d,#7d1e6d,#84206b,#8f2469,#9b2964,#ab2f5e,#bc3754,#c83f4b,#d34743,#da4e3c,#de5238,#e05536,#df5337,#db503b,#d94d3d,#d94d3d,#db503b,#e15635,#e9612b,#ef6c23,#f37819,#f68013,#f8870e,#f98c0a,#fa9207,#fb9606,#fb9b06,#fca108,#fca50a,#fca60c,#fca60c,#fca80d,#fca80d,#fcaa0f,#fcaa0f,#fcaa0f,#fcaa0f,#fcac11,#fcac11,#fcac11,#fcae12,#fcae12,#fcae12,#fcae12,#fcae12,#fcae12,#fcae12,#fcae12,#fcae12,#fcae12,#fcae12,#fcae12,#fcae12,#fcae12,#fcac11,#fcaa0f,#fca80d,#fca60c,#fca309,#fb9b06,#fa9407,#f98c0a,#f47918,#e8602d,#d44842,#ba3655,#9b2964,#7f1e6c,#64156e,#520e6d,#360961,#150b37,#07051b)"></div><div class="hc" style="left:143px;top:284px;width:2px;height:201px;background:linear-gradient(#3b0964,#3b0964,#3b0964,#3b0964,#3b0964,#3b0964,#3b0964,#3d0965,#3d0965,#3e0966,#3e0966,#400a67,#420a68,#450a69,#490b6a,#4c0c6b,#520e6d,#5a116e,#64156e,#721a6e,#84206b,#982766,#ab2f5e,#bd3853,#cb4149,#d44842,#d94d3d,#da4e3c,#db503b,#e15635,#eb6429,#f57b17,#fb9606,#fcac11,#fbb61a,#fbb61a,#fcb216,#fcaa0f,#fc9f07,#fa9407,#f78410,#f06f20,#e65d2f,#ea632a,#ef6c23,#f37819,#f47918,#f57b17,#f57d15,#f47918,#e9612b,#d84c3e,#bf3952,#982766,#801f6c,#7d1e6d,#7a1d6d,#781c6d,#781c6d,#7a1d6d,#7a1d6d,#7c1d6d,#7c1d6d,#7d1e6d,#82206c,#8d2369,#9b2964,#ab2f5e,#ba3655,#c83f4b,#d34743,#da4e3c,#de5238,#e05536,#df5337,#db503b,#d94d3d,#d84c3e,#db503b,#e15635,#e8602d,#ef6c23,#f3761b,#f68013,#f8870e,#f98c0a,#fa9008,#fb9606,#fb9b06,#fca108,#fca50a,#fca60c,#fca60c,#fca80d,#fca80d,#fcaa0f,#fcaa0f,#fcaa0f,#fcaa0f,#fcac11,#fcac11,#fcac11,#fcae12,#fcae12,#fcae12,#fcae12,#fcae12,#fcae12,#fcae12,#fcae12,#fcae12,#fcae12,#fcae12,#fcae12,#fcae12,#fcae12,#fcac11,#fcaa0f,#fca80d,#fca60c,#fca309,#fb9b06,#fa9407,#f98c0a,#f47918,#e8602d,#d44842,#ba3655,#9b2964,#7f1e6c,#62146e,#520e6d,#380962,#150b37,#07051b)"></div><div class="hc" style="left:145px;top:284px;width:2px;height:201px;background:linear-gradient(#3b0964,#3b0964,#3b0964,#3b0964,#3b0964,#3b0964,#3b0964,#3b0964,#3d0965,#3d0965,#3e0966,#400a67,#420a68,#440a68,#470b6a,#4c0c6b,#510e6c,#59106e,#62146e,#6f196e,#801f6c,#932667,#a62d60,#b93556,#c73e4c,#d24644,#d74b3f,#d94d3d,#db503b,#e15635,#eb6429,#f57d15,#fb9706,#fcac11,#fbb81d,#fbb81d,#fcb418,#fcac11,#fca108,#fb9606,#f78410,#f06f20,#e65d2f,#ea632a,#ef6c23,#f37819,#f47918,#f57b17,#f57d15,#f47918,#e9612b,#d84c3e,#bf3952,#982766,#801f6c,#7d1e6d,#7a1d6d,#781c6d,#781c6d,#7a1d6d,#7a1d6d,#7c1d6d,#7c1d6d,#7d1e6d,#82206c,#8d2369,#9a2865,#a92e5e,#ba3655,#c73e4c,#d24644,#d94d3d,#de5238,#e05536,#df5337,#db503b,#d94d3d,#d84c3e,#da4e3c,#e15635,#e8602d,#ee6a24,#f3761b,#f68013,#f8870e,#f98c0a,#fa9008,#fb9606,#fb9b06,#fca108,#fca50a,#fca60c,#fca60c,#fca80d,#fca80d,#fcaa0f,#fcaa0f,#fcaa0f,#fcaa0f,#fcac11,#fcac11,#fcac11,#fcae12,#fcae12,#fcae12,#fcae12,#fcae12,#fcae12,#fcae12,#fcae12,#fcae12,#fcae12,#fcae12,#fcae12,#fcae12,#fcae12,#fcac11,#fcaa0f,#fca80d,#fca60c,#fca309,#fb9b06,#fa9407,#f98c0a,#f47918,#e8602d,#d44842,#ba3655,#9b2964,#7f1e6c,#62146e,#510e6c,#390963,#160b39,#07051b)"></div><div class="hc" style="left:147px;top:284px;width:2px;height:201px;background:linear-gradient(#3b0964,#3b0964,#3b0964,#3b0964,#3b0964,#3b0964,#3b0964,#3b0964,#3b0964,#3d0965,#3e0966,#400a67,#420a68,#440a68,#470b6a,#4a0c6b,#510e6c,#57106e,#61136e,#6d186e,#7d1e6d,#8f2469,#a32c61,#b43359,#c33b4f,#cf4446,#d54a41,#d84c3e,#db503b,#e15635,#eb6628,#f67e14,#fb9906,#fcae12,#fbba1f,#fbba1f,#fbb61a,#fcac11,#fca108,#fb9606,#f78410,#f06f20,#e65d2f,#ea632a,#ef6c23,#f37819,#f47918,#f57b17,#f57d15,#f47918,#e9612b,#d84c3e,#bf3952,#982766,#801f6c,#7d1e6d,#7a1d6d,#781c6d,#781c6d,#7a1d6d,#7a1d6d,#7c1d6d,#7c1d6d,#7d1e6d,#82206c,#8c2369,#982766,#a82e5f,#b93556,#c73e4c,#d24644,#d94d3d,#de5238,#e05536,#df5337,#db503b,#d94d3d,#d84c3e,#da4e3c,#e05536,#e8602d,#ee6a24,#f3761b,#f67e14,#f8870e,#f98c0a,#fa9008,#fb9606,#fb9b06,#fca108,#fca50a,#fca60c,#fca60c,#fca80d,#fca80d,#fcaa0f,#fcaa0f,#fcaa0f,#fcaa0f,#fcac11,#fcac11,#fcac11,#fcae12,#fcae12,#fcae12,#fcae12,#fcae12,#fcae12,#fcae12,#fcae12,#fcae12,#fcae12,#fcae12,#fcae12,#fcae12,#fcae12,#fcac11,#fcaa0f,#fca80d,#fca60c,#fca309,#fb9b06,#fa9407,#f98c0a,#f47918,#e8602d,#d44842,#ba3655,#9b2964,#7f1e6c,#62146e,#510e6c,#3b0964,#180c3c,#07051b)"></div><div class="hc" style="left:149px;top:284px;width:2px;height:201px;background:linear-gradient(#3b0964,#3b0964,#390963,#390963,#390963,#3b0964,#3b0964,#3b0964,#3b0964,#3d0965,#3d0965,#3e0966,#400a67,#440a68,#470b6a,#4a0c6b,#4f0d6c,#550f6d,#5f136e,#6a176e,#7a1d6d,#8c2369,#9f2a63,#b1325a,#bf3952,#cb4149,#d34743,#d74b3f,#da4e3c,#e15635,#eb6628,#f68013,#fb9b06,#fcb014,#fbba1f,#fbbc21,#fbb81d,#fcae12,#fca309,#fb9706,#f8850f,#f06f20,#e65d2f,#ea632a,#ef6c23,#f37819,#f47918,#f57b17,#f57d15,#f57b17,#e9612b,#d84c3e,#bf3952,#982766,#801f6c,#7d1e6d,#7a1d6d,#781c6d,#781c6d,#7a1d6d,#7a1d6d,#7c1d6d,#7c1d6d,#7d1e6d,#82206c,#8c2369,#982766,#a82e5f,#b93556,#c63d4d,#d04545,#d94d3d,#de5238,#e05536,#df5337,#db503b,#d94d3d,#d84c3e,#da4e3c,#e05536,#e75e2e,#ee6a24,#f3761b,#f67e14,#f8870e,#f98c0a,#fa9008,#fb9606,#fb9b06,#fca108,#fca50a,#fca60c,#fca60c,#fca80d,#fca80d,#fcaa0f,#fcaa0f,#fcaa0f,#fcaa0f,#fcac11,#fcac11,#fcac11,#fcae12,#fcae12,#fcae12,#fcae12,#fcae12,#fcae12,#fcae12,#fcae12,#fcae12,#fcae12,#fcae12,#fcae12,#fcae12,#fcae12,#fcac11,#fcaa0f,#fca80d,#fca60c,#fca309,#fb9b06,#fa9407,#f98c0a,#f47918,#e8602d,#d44842,#ba3655,#9b2964,#7f1e6c,#62146e,#4d0d6c,#3d0965,#190c3e,#07051b)"></div><div class="hc" style="left:151px;top:284px;width:2px;height:201px;background:linear-gradient(#390963,#390963,#390963,#390963,#390963,#390963,#390963,#3b0964,#3b0964,#3b0964,#3d0965,#3e0966,#400a67,#440a68,#450a69,#4a0c6b,#4f0d6c,#550f6d,#5d126e,#69166e,#771c6d,#88226a,#9b2964,#ad305d,#bc3754,#c83f4b,#d04545,#d54a41,#da4e3c,#e15635,#ec6726,#f68013,#fb9d07,#fcb216,#fbbc21,#fbbe23,#fbba1f,#fcb014,#fca50a,#fb9906,#f8850f,#f06f20,#e75e2e,#ea632a,#ef6c23,#f37819,#f47918,#f57b17,#f67e14,#f57b17,#e9612b,#d84c3e,#c03a51,#982766,#801f6c,#7d1e6d,#7a1d6d,#781c6d,#781c6d,#7a1d6d,#7a1d6d,#7c1d6d,#7c1d6d,#7d1e6d,#82206c,#8c2369,#982766,#a62d60,#b73557,#c63d4d,#d04545,#d94d3d,#de5238,#e05536,#df5337,#dd513a,#d94d3d,#d84c3e,#da4e3c,#e05536,#e75e2e,#ee6a24,#f3761b,#f67e14,#f8870e,#f98c0a,#fa9008,#fb9606,#fb9b06,#fca108,#fca50a,#fca60c,#fca60c,#fca80d,#fca80d,#fcaa0f,#fcaa0f,#fcaa0f,#fcaa0f,#fcac11,#fcac11,#fcac11,#fcae12,#fcae12,#fcae12,#fcae12,#fcae12,#fcae12,#fcae12,#fcae12,#fcae12,#fcae12,#fcae12,#fcae12,#fcae12,#fcae12,#fcac11,#fcaa0f,#fca80d,#fca60c,#fca309,#fb9b06,#fa9407,#f98c0a,#f47918,#e8602d,#d44842,#ba3655,#9b2964,#7f1e6c,#62146e,#490b6a,#3e0966,#1c0c43,#07051b)"></div><div class="hc" style="left:153px;top:284px;width:2px;height:201px;background:linear-gradient(#390963,#390963,#390963,#390963,#390963,#390963,#390963,#390963,#3b0964,#3b0964,#3d0965,#3e0966,#400a67,#420a68,#450a69,#490b6a,#4d0d6c,#540f6d,#5c126e,#67166e,#751b6e,#85216b,#982766,#a92e5e,#b93556,#c63d4d,#cf4446,#d44842,#d94d3d,#e15635,#ec6726,#f78212,#fc9f07,#fcb418,#fbbe23,#fac026,#fbbc21,#fcb216,#fca60c,#fb9906,#f8850f,#f1711f,#e75e2e,#ea632a,#ef6c23,#f37819,#f47918,#f57b17,#f67e14,#f57b17,#e9612b,#d84c3e,#c03a51,#982766,#801f6c,#7d1e6d,#7a1d6d,#781c6d,#781c6d,#7a1d6d,#7a1d6d,#7c1d6d,#7c1d6d,#7d1e6d,#801f6c,#8a226a,#972766,#a62d60,#b73557,#c43c4e,#d04545,#d84c3e,#de5238,#e05536,#df5337,#dd513a,#d94d3d,#d84c3e,#da4e3c,#e05536,#e75e2e,#ed6925,#f2741c,#f67e14,#f8850f,#f98c0a,#fa9008,#fb9606,#fb9b06,#fca108,#fca50a,#fca60c,#fca60c,#fca80d,#fca80d,#fcaa0f,#fcaa0f,#fcaa0f,#fcaa0f,#fcac11,#fcac11,#fcac11,#fcae12,#fcae12,#fcae12,#fcae12,#fcae12,#fcae12,#fcae12,#fcae12,#fcae12,#fcae12,#fcae12,#fcae12,#fcae12,#fcae12,#fcac11,#fcaa0f,#fca80d,#fca60c,#fca309,#fb9b06,#fa9407,#f98c0a,#f47918,#e8602d,#d44842,#ba3655,#9b2964,#7f1e6c,#62146e,#450a69,#3d0965,#1f0c48,#07051b)"></div><div class="hc" style="left:155px;top:284px;width:2px;height:201px;background:linear-gradient(#390963,#390963,#390963,#390963,#390963,#390963,#390963,#390963,#390963,#3b0964,#3d0965,#3e0966,#400a67,#420a68,#450a69,#490b6a,#4d0d6c,#540f6d,#5c126e,#65156e,#741a6e,#84206b,#952667,#a62d60,#b43359,#c33b4f,#cc4248,#d34743,#d84c3e,#e15635,#ec6726,#f78410,#fca108,#fbb61a,#fac026,#fac228,#fbbe23,#fcb418,#fca60c,#fb9b06,#f8870e,#f1711f,#e75e2e,#ea632a,#ef6c23,#f37819,#f47918,#f57b17,#f67e14,#f57b17,#e9612b,#d84c3e,#c03a51,#9a2865,#801f6c,#7d1e6d,#7a1d6d,#781c6d,#781c6d,#7a1d6d,#7a1d6d,#7c1d6d,#7c1d6d,#7d1e6d,#801f6c,#8a226a,#972766,#a52c60,#b63458,#c43c4e,#cf4446,#d84c3e,#dd513a,#e05536,#df5337,#dd513a,#d94d3d,#d84c3e,#da4e3c,#e05536,#e75e2e,#ed6925,#f2741c,#f67e14,#f8850f,#f98c0a,#fa9008,#fb9606,#fb9b06,#fca108,#fca50a,#fca60c,#fca60c,#fca80d,#fca80d,#fcaa0f,#fcaa0f,#fcaa0f,#fcaa0f,#fcac11,#fcac11,#fcac11,#fcae12,#fcae12,#fcae12,#fcae12,#fcae12,#fcae12,#fcae12,#fcae12,#fcae12,#fcae12,#fcae12,#fcae12,#fcae12,#fcae12,#fcac11,#fcaa0f,#fca80d,#fca60c,#fca309,#fb9b06,#fa9407,#f98c0a,#f47918,#e8602d,#d44842,#ba3655,#9b2964,#7f1e6c,#62146e,#450a69,#390963,#210c4a,#07051b)"></div><div class="hc" style="left:157px;top:284px;width:2px;height:201px;background:linear-gradient(#390963,#390963,#390963,#390963,#390963,#390963,#390963,#390963,#390963,#3b0964,#3b0964,#3d0965,#3e0966,#420a68,#440a68,#490b6a,#4c0c6b,#520e6d,#5a116e,#64156e,#721a6e,#82206c,#922568,#a32c61,#b3325a,#c13a50,#cb4149,#d24644,#d84c3e,#e15635,#ed6925,#f8850f,#fca108,#fbb81d,#fac026,#fac228,#fbbe23,#fbb61a,#fca80d,#fb9b06,#f8870e,#f1711f,#e75e2e,#ea632a,#ef6c23,#f37819,#f47918,#f57b17,#f67e14,#f57b17,#e9612b,#d94d3d,#c03a51,#9a2865,#801f6c,#7d1e6d,#7a1d6d,#781c6d,#781c6d,#7a1d6d,#7a1d6d,#7c1d6d,#7d1e6d,#7d1e6d,#801f6c,#8a226a,#952667,#a52c60,#b63458,#c33b4f,#cf4446,#d84c3e,#dd513a,#e05536,#df5337,#dd513a,#d94d3d,#d84c3e,#da4e3c,#df5337,#e65d2f,#ed6925,#f2741c,#f67e14,#f8850f,#f98c0a,#fa9008,#fb9606,#fb9b06,#fca108,#fca50a,#fca60c,#fca60c,#fca80d,#fca80d,#fcaa0f,#fcaa0f,#fcaa0f,#fcaa0f,#fcac11,#fcac11,#fcac11,#fcae12,#fcae12,#fcae12,#fcae12,#fcae12,#fcae12,#fcae12,#fcae12,#fcae12,#fcae12,#fcae12,#fcae12,#fcae12,#fcae12,#fcac11,#fcaa0f,#fca80d,#fca60c,#fca309,#fb9b06,#fa9407,#f98c0a,#f47918,#e8602d,#d44842,#ba3655,#9b2964,#7f1e6c,#62146e,#450a69,#320a5e,#230c4c,#08051d)"></div><div class="hc" style="left:159px;top:284px;width:2px;height:201px;background:linear-gradient(#390963,#390963,#390963,#390963,#380962,#380962,#390963,#390963,#390963,#390963,#3b0964,#3d0965,#3e0966,#420a68,#440a68,#470b6a,#4c0c6b,#520e6d,#5a116e,#64156e,#71196e,#7f1e6c,#902568,#a02a63,#b0315b,#bf3952,#c83f4b,#d04545,#d74b3f,#e15635,#ed6925,#f8850f,#fca309,#fbb81d,#fac228,#fac42a,#fac026,#fbb61a,#fca80d,#fb9b06,#f8870e,#f1711f,#e75e2e,#ea632a,#ef6c23,#f37819,#f47918,#f57b17,#f67e14,#f57b17,#e9612b,#d94d3d,#c03a51,#9a2865,#801f6c,#7d1e6d,#7a1d6d,#781c6d,#781c6d,#7a1d6d,#7a1d6d,#7c1d6d,#7d1e6d,#7d1e6d,#801f6c,#88226a,#952667,#a32c61,#b43359,#c33b4f,#ce4347,#d74b3f,#dd513a,#e05536,#df5337,#dd513a,#d94d3d,#d84c3e,#da4e3c,#df5337,#e65d2f,#ed6925,#f2741c,#f67e14,#f8850f,#f98c0a,#fa9008,#fb9606,#fb9b06,#fca108,#fca50a,#fca60c,#fca60c,#fca80d,#fca80d,#fcaa0f,#fcaa0f,#fcaa0f,#fcaa0f,#fcac11,#fcac11,#fcac11,#fcae12,#fcae12,#fcae12,#fcae12,#fcae12,#fcae12,#fcae12,#fcae12,#fcae12,#fcae12,#fcae12,#fcae12,#fcae12,#fcae12,#fcac11,#fcaa0f,#fca80d,#fca60c,#fca309,#fb9b06,#fa9407,#f98c0a,#f47918,#e8602d,#d44842,#ba3655,#9b2964,#7f1e6c,#62146e,#450a69,#2f0a5b,#230c4c,#08051d)"></div><div class="hc" style="left:161px;top:284px;width:2px;height:201px;background:linear-gradient(#390963,#390963,#390963,#380962,#380962,#380962,#380962,#390963,#390963,#390963,#3b0964,#3d0965,#3e0966,#400a67,#440a68,#470b6a,#4c0c6b,#520e6d,#59106e,#62146e,#6f196e,#7f1e6c,#8f2469,#9f2a63,#ae305c,#bd3853,#c73e4c,#cf4446,#d74b3f,#e05536,#ed6925,#f8870e,#fca50a,#fbba1f,#fac42a,#fac42a,#fac228,#fbb81d,#fcaa0f,#fb9d07,#f8890c,#f1711f,#e75e2e,#ea632a,#ef6c23,#f37819,#f47918,#f57b17,#f67e14,#f57b17,#e9612b,#d94d3d,#c03a51,#9a2865,#801f6c,#7d1e6d,#7a1d6d,#781c6d,#781c6d,#7a1d6d,#7a1d6d,#7c1d6d,#7d1e6d,#7d1e6d,#801f6c,#88226a,#932667,#a32c61,#b3325a,#c13a50,#ce4347,#d74b3f,#dd513a,#e05536,#df5337,#dd513a,#d94d3d,#d84c3e,#da4e3c,#df5337,#e65d2f,#ed6925,#f2741c,#f67e14,#f8850f,#f98c0a,#fa9008,#fb9606,#fb9b06,#fca108,#fca50a,#fca60c,#fca60c,#fca80d,#fca80d,#fcaa0f,#fcaa0f,#fcaa0f,#fcaa0f,#fcac11,#fcac11,#fcac11,#fcae12,#fcae12,#fcae12,#fcae12,#fcae12,#fcae12,#fcae12,#fcae12,#fcae12,#fcae12,#fcae12,#fcae12,#fcae12,#fcae12,#fcac11,#fcaa0f,#fca80d,#fca60c,#fca309,#fb9b06,#fa9407,#f98c0a,#f47918,#e8602d,#d44842,#ba3655,#9b2964,#7f1e6c,#62146e,#450a69,#2f0a5b,#1f0c48,#08051d)"></div><div class="hc" style="left:163px;top:284px;width:2px;height:201px;background:linear-gradient(#390963,#390963,#380962,#380962,#380962,#380962,#380962,#380962,#390963,#390963,#3b0964,#3d0965,#3e0966,#400a67,#440a68,#470b6a,#4c0c6b,#510e6c,#59106e,#62146e,#6f196e,#7d1e6d,#8d2369,#9d2964,#ad305d,#bc3754,#c73e4c,#cf4446,#d54a41,#e05536,#ed6925,#f8870e,#fca50a,#fbba1f,#fac42a,#fac62d,#fac228,#fbb81d,#fcaa0f,#fb9d07,#f8890c,#f1731d,#e75e2e,#ea632a,#ef6c23,#f37819,#f47918,#f57b17,#f67e14,#f57b17,#e9612b,#d94d3d,#c03a51,#9a2865,#801f6c,#7d1e6d,#7a1d6d,#781c6d,#781c6d,#7a1d6d,#7a1d6d,#7c1d6d,#7d1e6d,#7d1e6d,#801f6c,#88226a,#932667,#a22b62,#b3325a,#c13a50,#ce4347,#d74b3f,#dd513a,#e05536,#df5337,#dd513a,#da4e3c,#d84c3e,#d94d3d,#df5337,#e65d2f,#ec6726,#f2741c,#f67e14,#f8850f,#f98c0a,#fa9008,#fb9606,#fb9b06,#fca108,#fca50a,#fca60c,#fca60c,#fca80d,#fca80d,#fcaa0f,#fcaa0f,#fcaa0f,#fcaa0f,#fcac11,#fcac11,#fcac11,#fcae12,#fcae12,#fcae12,#fcae12,#fcae12,#fcae12,#fcae12,#fcae12,#fcae12,#fcae12,#fcae12,#fcae12,#fcae12,#fcae12,#fcac11,#fcaa0f,#fca80d,#fca60c,#fca309,#fb9b06,#fa9407,#f98c0a,#f47918,#e8602d,#d44842,#ba3655,#9b2964,#7f1e6c,#62146e,#450a69,#2f0a5b,#1b0c41,#09061f)"></div><div class="hc" style="left:165px;top:284px;width:2px;height:201px;background:linear-gradient(#390963,#380962,#380962,#380962,#380962,#380962,#380962,#380962,#380962,#390963,#3b0964,#3b0964,#3e0966,#400a67,#440a68,#470b6a,#4c0c6b,#510e6c,#59106e,#61136e,#6d186e,#7d1e6d,#8d2369,#9d2964,#ab2f5e,#ba3655,#c63d4d,#ce4347,#d54a41,#e05536,#ed6925,#f8870e,#fca60c,#fbbc21,#fac42a,#fac62d,#fac228,#fbba1f,#fcac11,#fb9d07,#f8890c,#f1731d,#e75e2e,#ea632a,#ef6c23,#f37819,#f47918,#f57b17,#f67e14,#f57b17,#e9612b,#d94d3d,#c03a51,#9a2865,#801f6c,#7d1e6d,#7a1d6d,#781c6d,#781c6d,#7a1d6d,#7a1d6d,#7d1e6d,#7d1e6d,#7d1e6d,#801f6c,#87216b,#922568,#a22b62,#b1325a,#c03a51,#cc4248,#d74b3f,#dd513a,#df5337,#df5337,#dd513a,#da4e3c,#d84c3e,#d94d3d,#df5337,#e65d2f,#ec6726,#f1731d,#f57d15,#f8850f,#f98c0a,#fa9008,#fb9606,#fb9b06,#fca108,#fca50a,#fca60c,#fca60c,#fca80d,#fca80d,#fcaa0f,#fcaa0f,#fcaa0f,#fcaa0f,#fcac11,#fcac11,#fcac11,#fcae12,#fcae12,#fcae12,#fcae12,#fcae12,#fcae12,#fcae12,#fcae12,#fcae12,#fcae12,#fcae12,#fcae12,#fcae12,#fcae12,#fcac11,#fcaa0f,#fca80d,#fca60c,#fca309,#fb9b06,#fa9407,#f98c0a,#f47918,#e8602d,#d44842,#ba3655,#9b2964,#7f1e6c,#62146e,#450a69,#2f0a5b,#190c3e,#0a0722)"></div><div class="hc" style="left:167px;top:284px;width:2px;height:201px;background:linear-gradient(#390963,#380962,#380962,#380962,#380962,#380962,#380962,#380962,#380962,#390963,#390963,#3b0964,#3d0965,#400a67,#420a68,#470b6a,#4a0c6b,#510e6c,#57106e,#61136e,#6d186e,#7c1d6d,#8c2369,#9b2964,#a92e5e,#b93556,#c43c4e,#ce4347,#d44842,#e05536,#ed6925,#f8870e,#fca60c,#fbbc21,#fac62d,#fac62d,#fac42a,#fbba1f,#fcac11,#fb9d07,#f8890c,#f1731d,#e75e2e,#ea632a,#ef6c23,#f37819,#f47918,#f57b17,#f67e14,#f57b17,#e9612b,#d94d3d,#c03a51,#9a2865,#801f6c,#7d1e6d,#7a1d6d,#781c6d,#781c6d,#7a1d6d,#7a1d6d,#7d1e6d,#7d1e6d,#7d1e6d,#801f6c,#87216b,#922568,#a02a63,#b1325a,#c03a51,#cc4248,#d54a41,#db503b,#df5337,#e05536,#dd513a,#da4e3c,#d84c3e,#d94d3d,#df5337,#e55c30,#ec6726,#f1731d,#f57d15,#f8850f,#f98c0a,#fa9008,#fb9606,#fb9b06,#fca108,#fca50a,#fca60c,#fca60c,#fca80d,#fca80d,#fcaa0f,#fcaa0f,#fcaa0f,#fcaa0f,#fcac11,#fcac11,#fcac11,#fcae12,#fcae12,#fcae12,#fcae12,#fcae12,#fcae12,#fcae12,#fcae12,#fcae12,#fcae12,#fcae12,#fcae12,#fcae12,#fcae12,#fcac11,#fcaa0f,#fca80d,#fca60c,#fca309,#fb9b06,#fa9407,#f98c0a,#f47918,#e8602d,#d44842,#ba3655,#9b2964,#7f1e6c,#62146e,#450a69,#2f0a5b,#190c3e,#0a0722)"></div><div class="hc" style="left:169px;top:284px;width:2px;height:201px;background:linear-gradient(#390963,#380962,#380962,#380962,#380962,#380962,#380962,#380962,#380962,#390963,#390963,#3b0964,#3d0965,#400a67,#420a68,#450a69,#4a0c6b,#510e6c,#57106e,#61136e,#6d186e,#7c1d6d,#8c2369,#9b2964,#a92e5e,#b93556,#c43c4e,#cc4248,#d44842,#e05536,#ed6925,#f8890c,#fca60c,#fbbc21,#fac62d,#f9c72f,#fac42a,#fbba1f,#fcac11,#fb9d07,#f8890c,#f1731d,#e75e2e,#ea632a,#ef6c23,#f37819,#f47918,#f57b17,#f67e14,#f57b17,#e9612b,#d94d3d,#c03a51,#9a2865,#801f6c,#7d1e6d,#7a1d6d,#781c6d,#781c6d,#7a1d6d,#7a1d6d,#7d1e6d,#7d1e6d,#7d1e6d,#801f6c,#87216b,#922568,#a02a63,#b0315b,#bf3952,#cb4149,#d54a41,#db503b,#df5337,#e05536,#de5238,#da4e3c,#d84c3e,#d94d3d,#de5238,#e55c30,#ec6726,#f1731d,#f57d15,#f8850f,#f98c0a,#fa9008,#fb9606,#fb9b06,#fca108,#fca50a,#fca60c,#fca60c,#fca80d,#fca80d,#fcaa0f,#fcaa0f,#fcaa0f,#fcaa0f,#fcac11,#fcac11,#fcac11,#fcae12,#fcae12,#fcae12,#fcae12,#fcae12,#fcae12,#fcae12,#fcae12,#fcae12,#fcae12,#fcae12,#fcae12,#fcae12,#fcae12,#fcac11,#fcaa0f,#fca80d,#fca60c,#fca309,#fb9b06,#fa9407,#f98c0a,#f47918,#e8602d,#d44842,#ba3655,#9b2964,#7f1e6c,#62146e,#450a69,#310a5c,#8a226a,#ee6a24)"></div><div class="hc" style="left:171px;top:284px;width:2px;height:201px;background:linear-gradient(#380962,#380962,#380962,#380962,#380962,#380962,#380962,#380962,#380962,#390963,#390963,#3b0964,#3d0965,#400a67,#420a68,#450a69,#4a0c6b,#510e6c,#57106e,#61136e,#6d186e,#7c1d6d,#8c2369,#9b2964,#a92e5e,#b93556,#c43c4e,#cc4248,#d44842,#e05536,#ed6925,#f8870e,#fca60c,#fbbc21,#fac62d,#f9c72f,#fac42a,#fbba1f,#fcac11,#fb9d07,#f8890c,#f1731d,#e75e2e,#ea632a,#ef6c23,#f37819,#f47918,#f57b17,#f67e14,#f57b17,#e9612b,#d94d3d,#c03a51,#9a2865,#801f6c,#7d1e6d,#7a1d6d,#781c6d,#781c6d,#7a1d6d,#7a1d6d,#7d1e6d,#7d1e6d,#7d1e6d,#7f1e6c,#87216b,#902568,#9f2a63,#b0315b,#bf3952,#cb4149,#d54a41,#db503b,#df5337,#e05536,#de5238,#da4e3c,#d84c3e,#d94d3d,#de5238,#e55c30,#ec6726,#f1731d,#f57d15,#f8850f,#f98b0b,#fa9008,#fb9606,#fb9b06,#fca108,#fca50a,#fca60c,#fca60c,#fca80d,#fca80d,#fcaa0f,#fcaa0f,#fcaa0f,#fcaa0f,#fcac11,#fcac11,#fcac11,#fcae12,#fcae12,#fcae12,#fcae12,#fcae12,#fcae12,#fcae12,#fcae12,#fcae12,#fcae12,#fcae12,#fcae12,#fcae12,#fcae12,#fcac11,#fcaa0f,#fca80d,#fca60c,#fca309,#fb9b06,#fa9407,#f98c0a,#f47918,#e8602d,#d44842,#ba3655,#9b2964,#7f1e6c,#62146e,#450a69,#450a69,#ef6c23,#84206b)"></div><div class="hc" style="left:173px;top:284px;width:2px;height:201px;background:linear-gradient(#380962,#380962,#380962,#380962,#380962,#380962,#380962,#380962,#380962,#380962,#390963,#3b0964,#3d0965,#400a67,#420a68,#450a69,#4a0c6b,#510e6c,#57106e,#61136e,#6d186e,#7c1d6d,#8c2369,#9b2964,#a92e5e,#b93556,#c43c4e,#cc4248,#d44842,#e05536,#ed6925,#f8870e,#fca60c,#fbbc21,#fac62d,#f9c72f,#fac42a,#fbba1f,#fcac11,#fb9d07,#f8890c,#f1731d,#e75e2e,#ea632a,#ef6c23,#f37819,#f47918,#f57b17,#f67e14,#f57b17,#e9612b,#d94d3d,#c03a51,#9a2865,#801f6c,#7d1e6d,#7a1d6d,#781c6d,#781c6d,#7a1d6d,#7a1d6d,#7d1e6d,#7d1e6d,#7d1e6d,#7f1e6c,#85216b,#902568,#9f2a63,#ae305c,#bd3853,#cb4149,#d44842,#db503b,#df5337,#e05536,#de5238,#da4e3c,#d84c3e,#d94d3d,#de5238,#e55c30,#ec6726,#f1731d,#f57d15,#f8850f,#f98b0b,#fa9008,#fb9606,#fb9b06,#fca108,#fca50a,#fca60c,#fca60c,#fca80d,#fca80d,#fcaa0f,#fcaa0f,#fcaa0f,#fcaa0f,#fcac11,#fcac11,#fcac11,#fcae12,#fcae12,#fcae12,#fcae12,#fcae12,#fcae12,#fcae12,#fcae12,#fcae12,#fcae12,#fcae12,#fcae12,#fcae12,#fcae12,#fcac11,#fcaa0f,#fca80d,#fca60c,#fca309,#fb9b06,#fa9407,#f98c0a,#f47918,#e8602d,#d44842,#ba3655,#9b2964,#7f1e6c,#62146e,#470b6a,#8d2369,#f47918,#230c4c)"></div><div class="hc" style="left:175px;top:284px;width:2px;height:201px;background:linear-gradient(#380962,#380962,#380962,#380962,#380962,#380962,#380962,#380962,#380962,#380962,#390963,#3b0964,#3d0965,#3e0966,#420a68,#450a69,#4a0c6b,#510e6c,#57106e,#61136e,#6d186e,#7c1d6d,#8c2369,#9b2964,#a92e5e,#b93556,#c43c4e,#cc4248,#d44842,#e05536,#ed6925,#f8870e,#fca60c,#fbbc21,#fac42a,#fac62d,#fac42a,#fbba1f,#fcac11,#fb9d07,#f8890c,#f1731d,#e75e2e,#ea632a,#ef6c23,#f37819,#f47918,#f57b17,#f67e14,#f57b17,#e9612b,#d94d3d,#c03a51,#9a2865,#801f6c,#7d1e6d,#7a1d6d,#781c6d,#781c6d,#7a1d6d,#7a1d6d,#7d1e6d,#7d1e6d,#7d1e6d,#7f1e6c,#85216b,#8f2469,#9d2964,#ae305c,#bd3853,#ca404a,#d44842,#db503b,#df5337,#e05536,#de5238,#da4e3c,#d84c3e,#d94d3d,#de5238,#e55c30,#eb6628,#f1731d,#f57d15,#f8850f,#f98b0b,#fa9008,#fb9606,#fb9b06,#fca108,#fca50a,#fca60c,#fca60c,#fca80d,#fca80d,#fcaa0f,#fcaa0f,#fcaa0f,#fcaa0f,#fcac11,#fcac11,#fcac11,#fcae12,#fcae12,#fcae12,#fcae12,#fcae12,#fcae12,#fcae12,#fcae12,#fcae12,#fcae12,#fcae12,#fcae12,#fcae12,#fcae12,#fcac11,#fcaa0f,#fca80d,#fca60c,#fca309,#fb9b06,#fa9407,#f98c0a,#f47918,#e8602d,#d44842,#ba3655,#9b2964,#7f1e6c,#62146e,#550f6d,#ee6a24,#a02a63,#0b0724)"></div><div class="hc" style="left:177px;top:284px;width:2px;height:201px;background:linear-gradient(#380962,#380962,#380962,#380962,#380962,#380962,#380962,#380962,#380962,#380962,#390963,#3b0964,#3d0965,#3e0966,#420a68,#450a69,#4a0c6b,#510e6c,#57106e,#61136e,#6d186e,#7c1d6d,#8c2369,#9b2964,#a92e5e,#b93556,#c43c4e,#cc4248,#d44842,#e05536,#ed6925,#f8870e,#fca50a,#fbba1f,#fac42a,#fac62d,#fac228,#fbb81d,#fcaa0f,#fb9d07,#f8890c,#f1731d,#e75e2e,#ea632a,#ef6c23,#f37819,#f47918,#f57b17,#f67e14,#f57b17,#e9612b,#d94d3d,#c03a51,#9a2865,#801f6c,#7d1e6d,#7a1d6d,#781c6d,#781c6d,#7a1d6d,#7c1d6d,#7d1e6d,#7f1e6c,#7d1e6d,#7f1e6c,#85216b,#8f2469,#9d2964,#ad305d,#bc3754,#ca404a,#d44842,#da4e3c,#df5337,#e05536,#de5238,#da4e3c,#d84c3e,#d94d3d,#de5238,#e55c30,#eb6628,#f1731d,#f57d15,#f8850f,#f98b0b,#fa9008,#fb9606,#fb9b06,#fca108,#fca50a,#fca60c,#fca60c,#fca80d,#fca80d,#fcaa0f,#fcaa0f,#fcaa0f,#fcaa0f,#fcac11,#fcac11,#fcac11,#fcae12,#fcae12,#fcae12,#fcae12,#fcae12,#fcae12,#fcae12,#fcae12,#fcae12,#fcae12,#fcae12,#fcae12,#fcae12,#fcae12,#fcac11,#fcaa0f,#fca80d,#fca60c,#fca309,#fb9b06,#fa9407,#f98c0a,#f47918,#e8602d,#d44842,#ba3655,#9b2964,#7f1e6c,#64156e,#952667,#f78212,#450a69,#08051d)"></div><div class="hc" style="left:179px;top:284px;width:2px;height:201px;background:linear-gradient(#380962,#380962,#380962,#380962,#380962,#380962,#380962,#380962,#380962,#380962,#390963,#3b0964,#3d0965,#3e0966,#420a68,#450a69,#4a0c6b,#510e6c,#57106e,#61136e,#6d186e,#7c1d6d,#8c2369,#9b2964,#a92e5e,#b93556,#c43c4e,#cc4248,#d44842,#df5337,#ed6925,#f8850f,#fca50a,#fbba1f,#fac42a,#fac62d,#fac228,#fbb81d,#fcaa0f,#fb9d07,#f8890c,#f1711f,#e75e2e,#ea632a,#ef6c23,#f37819,#f47918,#f57b17,#f67e14,#f57b17,#e9612b,#d94d3d,#c03a51,#9a2865,#801f6c,#7d1e6d,#7a1d6d,#781c6d,#781c6d,#7a1d6d,#7c1d6d,#7d1e6d,#7f1e6c,#7d1e6d,#7f1e6c,#85216b,#8f2469,#9b2964,#ad305d,#bc3754,#c83f4b,#d34743,#da4e3c,#df5337,#e05536,#de5238,#da4e3c,#d84c3e,#d94d3d,#de5238,#e45a31,#eb6628,#f1731d,#f57d15,#f8850f,#f98b0b,#fa9008,#fb9606,#fb9b06,#fca108,#fca50a,#fca60c,#fca60c,#fca80d,#fca80d,#fcaa0f,#fcaa0f,#fcaa0f,#fcaa0f,#fcac11,#fcac11,#fcac11,#fcae12,#fcae12,#fcae12,#fcae12,#fcae12,#fcae12,#fcae12,#fcae12,#fcae12,#fcae12,#fcae12,#fcae12,#fcae12,#fcae12,#fcac11,#fcaa0f,#fca80d,#fca60c,#fca309,#fb9b06,#fa9407,#f98c0a,#f47918,#e8602d,#d44842,#ba3655,#9b2964,#7f1e6c,#6f196e,#ef6c23,#b1325a,#260c51,#07051b)"></div><div class="hc" style="left:181px;top:284px;width:2px;height:201px;background:linear-gradient(#380962,#380962,#380962,#380962,#380962,#380962,#380962,#380962,#380962,#380962,#390963,#3b0964,#3d0965,#3e0966,#420a68,#450a69,#4a0c6b,#510e6c,#57106e,#61136e,#6d186e,#7c1d6d,#8c2369,#9b2964,#a92e5e,#b93556,#c43c4e,#cc4248,#d44842,#df5337,#ec6726,#f8850f,#fca309,#fbb81d,#fac228,#fac42a,#fac026,#fbb61a,#fcaa0f,#fb9b06,#f8870e,#f1711f,#e75e2e,#ea632a,#ef6c23,#f37819,#f47918,#f57b17,#f67e14,#f57b17,#e9612b,#d94d3d,#c03a51,#9a2865,#801f6c,#7d1e6d,#7a1d6d,#781c6d,#781c6d,#7a1d6d,#7c1d6d,#7d1e6d,#7f1e6c,#7f1e6c,#7f1e6c,#85216b,#8d2369,#9b2964,#ab2f5e,#ba3655,#c83f4b,#d34743,#da4e3c,#df5337,#e05536,#de5238,#da4e3c,#d84c3e,#d94d3d,#de5238,#e45a31,#eb6628,#f1711f,#f57d15,#f8850f,#f98b0b,#fa9008,#fb9606,#fb9b06,#fca108,#fca50a,#fca60c,#fca60c,#fca80d,#fca80d,#fcaa0f,#fcaa0f,#fcaa0f,#fcaa0f,#fcac11,#fcac11,#fcac11,#fcae12,#fcae12,#fcae12,#fcae12,#fcae12,#fcae12,#fcae12,#fcae12,#fcae12,#fcae12,#fcae12,#fcae12,#fcae12,#fcae12,#fcac11,#fcaa0f,#fca80d,#fca60c,#fca309,#fb9b06,#fa9407,#f98c0a,#f47918,#e8602d,#d44842,#ba3655,#9b2964,#7f1e6c,#a62d60,#f98b0b,#5d126e,#1e0c45,#07051b)"></div><div class="hc" style="left:183px;top:284px;width:2px;height:201px;background:linear-gradient(#380962,#380962,#380962,#380962,#380962,#380962,#380962,#380962,#380962,#380962,#390963,#3b0964,#3d0965,#3e0966,#420a68,#450a69,#4a0c6b,#510e6c,#57106e,#61136e,#6d186e,#7c1d6d,#8c2369,#9b2964,#a92e5e,#b93556,#c43c4e,#cc4248,#d44842,#df5337,#ec6726,#f78410,#fca309,#fbb81d,#fac228,#fac228,#fbbe23,#fbb61a,#fca80d,#fb9b06,#f8870e,#f1711f,#e75e2e,#ea632a,#ef6c23,#f37819,#f47918,#f57b17,#f67e14,#f57b17,#e9612b,#d94d3d,#c03a51,#9a2865,#801f6c,#7d1e6d,#7a1d6d,#781c6d,#781c6d,#7a1d6d,#7c1d6d,#7d1e6d,#7f1e6c,#7f1e6c,#7f1e6c,#84206b,#8d2369,#9a2865,#ab2f5e,#ba3655,#c73e4c,#d34743,#da4e3c,#df5337,#e05536,#de5238,#da4e3c,#d84c3e,#d94d3d,#de5238,#e45a31,#eb6628,#f1711f,#f57d15,#f8850f,#f98b0b,#fa9008,#fb9606,#fb9b06,#fca108,#fca50a,#fca60c,#fca60c,#fca80d,#fca80d,#fcaa0f,#fcaa0f,#fcaa0f,#fcaa0f,#fcac11,#fcac11,#fcac11,#fcae12,#fcae12,#fcae12,#fcae12,#fcae12,#fcae12,#fcae12,#fcae12,#fcae12,#fcae12,#fcae12,#fcae12,#fcae12,#fcae12,#fcac11,#fcaa0f,#fca80d,#fca60c,#fca309,#fb9b06,#fa9407,#f98c0a,#f47918,#e8602d,#d44842,#ba3655,#9b2964,#8a226a,#f1731d,#c03a51,#420a68,#190c3e,#07051b)"></div><div class="hc" style="left:185px;top:284px;width:2px;height:201px;background:linear-gradient(#380962,#380962,#380962,#380962,#380962,#380962,#380962,#380962,#380962,#380962,#390963,#3b0964,#3d0965,#400a67,#420a68,#450a69,#4a0c6b,#510e6c,#57106e,#61136e,#6d186e,#7c1d6d,#8c2369,#9b2964,#a92e5e,#b93556,#c43c4e,#cc4248,#d44842,#df5337,#eb6628,#f78410,#fca108,#fbb61a,#fac026,#fac228,#fbbe23,#fcb418,#fca60c,#fb9b06,#f8870e,#f1711f,#e75e2e,#ea632a,#ef6c23,#f37819,#f47918,#f57b17,#f67e14,#f57b17,#e9612b,#d94d3d,#c03a51,#9a2865,#801f6c,#7d1e6d,#7a1d6d,#781c6d,#781c6d,#7a1d6d,#7c1d6d,#7d1e6d,#7f1e6c,#7f1e6c,#7f1e6c,#84206b,#8d2369,#9a2865,#a92e5e,#b93556,#c73e4c,#d24644,#da4e3c,#df5337,#df5337,#de5238,#da4e3c,#d84c3e,#d94d3d,#de5238,#e45a31,#eb6628,#f1711f,#f57d15,#f8850f,#f98b0b,#fa9008,#fb9606,#fb9b06,#fca108,#fca50a,#fca60c,#fca60c,#fca80d,#fca80d,#fcaa0f,#fcaa0f,#fcaa0f,#fcaa0f,#fcac11,#fcac11,#fcac11,#fcae12,#fcae12,#fcae12,#fcae12,#fcae12,#fcae12,#fcae12,#fcae12,#fcae12,#fcae12,#fcae12,#fcae12,#fcae12,#fcae12,#fcac11,#fcaa0f,#fca80d,#fca60c,#fca309,#fb9b06,#fa9407,#f98c0a,#f47918,#e8602d,#d44842,#ba3655,#9b2964,#b93556,#fa9207,#6f196e,#390963,#150b37,#07051b)"></div><div class="hc" style="left:187px;top:284px;width:2px;height:201px;background:linear-gradient(#390963,#380962,#380962,#380962,#380962,#380962,#380962,#380962,#380962,#390963,#390963,#3b0964,#3d0965,#400a67,#420a68,#450a69,#4a0c6b,#510e6c,#57106e,#61136e,#6d186e,#7c1d6d,#8c2369,#9b2964,#a92e5e,#b93556,#c43c4e,#cc4248,#d34743,#de5238,#eb6628,#f78212,#fc9f07,#fcb418,#fbbe23,#fac026,#fbbc21,#fcb216,#fca60c,#fb9906,#f8850f,#f1711f,#e75e2e,#ea632a,#ef6c23,#f37819,#f47918,#f57b17,#f67e14,#f57b17,#e9612b,#d94d3d,#c03a51,#9a2865,#801f6c,#7d1e6d,#7a1d6d,#781c6d,#781c6d,#7a1d6d,#7c1d6d,#7f1e6c,#7f1e6c,#7f1e6c,#7f1e6c,#84206b,#8c2369,#982766,#a92e5e,#b93556,#c73e4c,#d24644,#d94d3d,#de5238,#df5337,#de5238,#da4e3c,#d84c3e,#d94d3d,#de5238,#e45a31,#eb6628,#f1711f,#f57d15,#f8850f,#f98b0b,#fa9008,#fb9606,#fb9b06,#fca108,#fca50a,#fca60c,#fca60c,#fca80d,#fca80d,#fcaa0f,#fcaa0f,#fcaa0f,#fcaa0f,#fcac11,#fcac11,#fcac11,#fcae12,#fcae12,#fcae12,#fcae12,#fcae12,#fcae12,#fcae12,#fcae12,#fcae12,#fcae12,#fcae12,#fcae12,#fcae12,#fcae12,#fcac11,#fcaa0f,#fca80d,#fca60c,#fca309,#fb9b06,#fa9407,#f98c0a,#f47918,#e8602d,#d44842,#ba3655,#a52c60,#f67e14,#cc4248,#550f6d,#310a5c,#140b34,#07051b)"></div><div class="hc" style="left:189px;top:284px;width:2px;height:201px;background:linear-gradient(#390963,#380962,#380962,#380962,#380962,#380962,#380962,#380962,#380962,#390963,#390963,#3b0964,#3d0965,#400a67,#420a68,#470b6a,#4a0c6b,#510e6c,#57106e,#61136e,#6d186e,#7c1d6d,#8c2369,#9b2964,#a92e5e,#b93556,#c43c4e,#cc4248,#d34743,#de5238,#eb6429,#f68013,#fb9d07,#fcb216,#fbbc21,#fbbe23,#fbba1f,#fcb014,#fca50a,#fb9906,#f8850f,#f1711f,#e75e2e,#ea632a,#ef6c23,#f37819,#f47918,#f57b17,#f67e14,#f57b17,#e9612b,#d94d3d,#c03a51,#9a2865,#801f6c,#7d1e6d,#7a1d6d,#781c6d,#781c6d,#7a1d6d,#7c1d6d,#7f1e6c,#7f1e6c,#7f1e6c,#7f1e6c,#84206b,#8c2369,#982766,#a82e5f,#b73557,#c63d4d,#d24644,#d94d3d,#de5238,#df5337,#de5238,#da4e3c,#d84c3e,#d94d3d,#de5238,#e45a31,#eb6628,#f1711f,#f57d15,#f8850f,#f98b0b,#fa9008,#fb9606,#fb9b06,#fca108,#fca50a,#fca60c,#fca60c,#fca80d,#fca80d,#fcaa0f,#fcaa0f,#fcaa0f,#fcaa0f,#fcac11,#fcac11,#fcac11,#fcae12,#fcae12,#fcae12,#fcae12,#fcae12,#fcae12,#fcae12,#fcae12,#fcae12,#fcae12,#fcae12,#fcae12,#fcae12,#fcae12,#fcac11,#fcaa0f,#fca80d,#fca60c,#fca309,#fb9b06,#fa9407,#f98c0a,#f47918,#e8602d,#d44842,#ba3655,#cc4248,#fb9906,#82206c,#4c0c6b,#290b55,#110a30,#07051b)"></div><div class="hc" style="left:191px;top:284px;width:2px;height:201px;background:linear-gradient(#390963,#380962,#380962,#380962,#380962,#380962,#380962,#380962,#380962,#390963,#390963,#3b0964,#3e0966,#400a67,#440a68,#470b6a,#4a0c6b,#510e6c,#57106e,#61136e,#6d186e,#7c1d6d,#8c2369,#9b2964,#a92e5e,#b93556,#c43c4e,#cc4248,#d34743,#de5238,#eb6429,#f67e14,#fb9b06,#fcb216,#fbbc21,#fbbc21,#fbb81d,#fcb014,#fca309,#fb9706,#f8850f,#f06f20,#e75e2e,#ea632a,#ef6c23,#f37819,#f47918,#f57b17,#f67e14,#f57b17,#e9612b,#d94d3d,#c03a51,#9a2865,#801f6c,#7d1e6d,#7a1d6d,#781c6d,#781c6d,#7a1d6d,#7c1d6d,#7f1e6c,#7f1e6c,#7f1e6c,#7f1e6c,#84206b,#8c2369,#982766,#a82e5f,#b73557,#c63d4d,#d04545,#d94d3d,#de5238,#df5337,#de5238,#da4e3c,#d84c3e,#d94d3d,#de5238,#e45a31,#eb6628,#f1711f,#f57d15,#f8850f,#f98b0b,#fa9008,#fb9606,#fb9b06,#fca108,#fca50a,#fca60c,#fca60c,#fca80d,#fca80d,#fcaa0f,#fcaa0f,#fcaa0f,#fcaa0f,#fcac11,#fcac11,#fcac11,#fcae12,#fcae12,#fcae12,#fcae12,#fcae12,#fcae12,#fcae12,#fcae12,#fcae12,#fcae12,#fcae12,#fcae12,#fcae12,#fcae12,#fcac11,#fcaa0f,#fca80d,#fca60c,#fca309,#fb9b06,#fa9407,#f98c0a,#f47918,#e8602d,#d44842,#c13a50,#f98b0b,#d54a41,#67166e,#440a68,#240c4f,#10092d,#07051b)"></div><div class="hc" style="left:193px;top:284px;width:2px;height:201px;background:linear-gradient(#390963,#390963,#380962,#380962,#380962,#380962,#380962,#380962,#390963,#390963,#3b0964,#3d0965,#3e0966,#400a67,#440a68,#470b6a,#4c0c6b,#510e6c,#59106e,#61136e,#6d186e,#7c1d6d,#8c2369,#9b2964,#a92e5e,#b93556,#c43c4e,#cc4248,#d34743,#dd513a,#ea632a,#f57d15,#fb9906,#fcb014,#fbba1f,#fbba1f,#fbb61a,#fcae12,#fca309,#fb9706,#f78410,#f06f20,#e65d2f,#ea632a,#ef6c23,#f37819,#f47918,#f57b17,#f67e14,#f57b17,#e9612b,#d94d3d,#c03a51,#9a2865,#801f6c,#7d1e6d,#7a1d6d,#781c6d,#781c6d,#7a1d6d,#7c1d6d,#7f1e6c,#801f6c,#7f1e6c,#7f1e6c,#84206b,#8a226a,#972766,#a62d60,#b63458,#c43c4e,#d04545,#d94d3d,#de5238,#df5337,#de5238,#da4e3c,#d84c3e,#d94d3d,#de5238,#e45a31,#eb6628,#f1711f,#f57d15,#f8850f,#f98b0b,#fa9008,#fb9606,#fb9b06,#fca108,#fca50a,#fca60c,#fca60c,#fca80d,#fca80d,#fcaa0f,#fcaa0f,#fcaa0f,#fcaa0f,#fcac11,#fcac11,#fcac11,#fcae12,#fcae12,#fcae12,#fcae12,#fcae12,#fcae12,#fcae12,#fcae12,#fcae12,#fcae12,#fcae12,#fcae12,#fcae12,#fcae12,#fcac11,#fcaa0f,#fca80d,#fca60c,#fca309,#fb9b06,#fa9407,#f98c0a,#f47918,#e8602d,#d54a41,#e15635,#fb9d07,#932667,#5a116e,#3b0964,#1f0c48,#0e092b,#07051b)"></div><div class="hc" style="left:195px;top:284px;width:1px;height:201px;background:linear-gradient(#390963,#390963,#380962,#380962,#380962,#380962,#380962,#380962,#390963,#390963,#3b0964,#3d0965,#3e0966,#400a67,#440a68,#470b6a,#4c0c6b,#510e6c,#59106e,#61136e,#6d186e,#7c1d6d,#8c2369,#9b2964,#a92e5e,#b93556,#c43c4e,#cc4248,#d34743,#dd513a,#ea632a,#f57d15,#fb9706,#fcae12,#fbb81d,#fbba1f,#fbb61a,#fcac11,#fca108,#fb9606,#f78410,#f06f20,#e65d2f,#ea632a,#ef6c23,#f37819,#f47918,#f57b17,#f67e14,#f57b17,#ea632a,#d94d3d,#c03a51,#9a2865,#801f6c,#7d1e6d,#7a1d6d,#781c6d,#781c6d,#7a1d6d,#7c1d6d,#7f1e6c,#801f6c,#7f1e6c,#7f1e6c,#82206c,#8a226a,#972766,#a62d60,#b63458,#c43c4e,#d04545,#d84c3e,#de5238,#df5337,#de5238,#da4e3c,#d84c3e,#d94d3d,#de5238,#e45a31,#eb6628,#f1711f,#f57d15,#f8850f,#f98b0b,#fa9008,#fb9606,#fb9b06,#fca108,#fca50a,#fca60c,#fca60c,#fca80d,#fca80d,#fcaa0f,#fcaa0f,#fcaa0f,#fcaa0f,#fcac11,#fcac11,#fcac11,#fcae12,#fcae12,#fcae12,#fcae12,#fcae12,#fcae12,#fcae12,#fcae12,#fcae12,#fcae12,#fcae12,#fcae12,#fcae12,#fcae12,#fcac11,#fcaa0f,#fca80d,#fca60c,#fca309,#fb9b06,#fa9407,#f98c0a,#f47918,#e8602d,#d84c3e,#f8890c,#eb6429,#7c1d6d,#520e6d,#360961,#1c0c43,#0d0829,#07051b)"></div>
<svg width="685" height="517" viewBox="0 0 685 517" style="position:absolute;left:0;top:0">
<path d="M31.0 177.5L35.2 177.3L39.5 177.1L43.7 176.9L47.9 176.8L52.2 176.7L56.4 176.6L60.6 176.6L64.8 176.5L69.1 176.5L73.3 176.5L77.5 176.5L81.8 176.5L86.0 176.5L90.2 176.5L94.5 176.6L98.7 176.8L102.9 177.1L107.2 177.3L111.4 177.6L115.6 177.9L119.8 178.2L124.1 178.5L128.3 178.7L132.5 178.9L136.8 179.1L141.0 179.1L145.2 179.1L149.5 179.1L153.7 179.0L157.9 179.0L162.2 178.9L166.4 178.9L170.6 178.8L174.8 178.7L179.1 178.5L183.3 178.4L187.5 178.2L191.8 178.0L196.0 177.7M31.0 172.1L35.2 172.1L39.5 172.1L43.7 172.1L47.9 172.0L52.2 172.0L56.4 172.0L60.6 172.0L64.8 172.0L69.1 172.0L73.3 172.0L77.5 172.0L81.8 172.0L86.0 172.0L90.2 172.1L94.5 172.4L98.7 172.7L102.9 173.1L107.2 173.6L111.4 174.2L115.6 174.8L119.8 175.3L124.1 175.8L128.3 176.3L132.5 176.6L136.8 176.8L141.0 176.9L145.2 176.9L149.5 176.9L153.7 176.9L157.9 176.9L162.2 176.9L166.4 176.9L170.6 176.8L174.8 176.8L179.1 176.7L183.3 176.7L187.5 176.6L191.8 176.5L196.0 176.4M31.0 174.1L35.2 173.8L39.5 173.4L43.7 173.1L47.9 172.9L52.2 172.6L56.4 172.4L60.6 172.2L64.8 172.0L69.1 171.9L73.3 171.8L77.5 171.7L81.8 171.7L86.0 171.7L90.2 171.7L94.5 171.9L98.7 172.0L102.9 172.3L107.2 172.5L111.4 172.8L115.6 173.1L119.8 173.4L124.1 173.7L128.3 173.9L132.5 174.1L136.8 174.2L141.0 174.3L145.2 174.3L149.5 174.2L153.7 174.1L157.9 174.0L162.2 173.9L166.4 173.7L170.6 173.5L174.8 173.3L179.1 173.0L183.3 172.7L187.5 172.3L191.8 172.0L196.0 171.6M31.0 167.1L35.2 167.5L39.5 167.8L43.7 168.1L47.9 168.4L52.2 168.6L56.4 168.8L60.6 169.0L64.8 169.1L69.1 169.3L73.3 169.4L77.5 169.4L81.8 169.5L86.0 169.5L90.2 169.4L94.5 169.3L98.7 169.1L102.9 168.9L107.2 168.7L111.4 168.4L115.6 168.1L119.8 167.8L124.1 167.5L128.3 167.3L132.5 167.1L136.8 167.0L141.0 167.0L145.2 167.0L149.5 167.0L153.7 167.0L157.9 167.0L162.2 167.0L166.4 167.0L170.6 167.1L174.8 167.1L179.1 167.1L183.3 167.2L187.5 167.3L191.8 167.4L196.0 167.5M31.0 167.9L35.2 167.4L39.5 167.0L43.7 166.6L47.9 166.2L52.2 165.9L56.4 165.6L60.6 165.3L64.8 165.0L69.1 164.9L73.3 164.7L77.5 164.6L81.8 164.5L86.0 164.5L90.2 164.5L94.5 164.6L98.7 164.7L102.9 164.9L107.2 165.1L111.4 165.3L115.6 165.5L119.8 165.7L124.1 165.9L128.3 166.1L132.5 166.3L136.8 166.3L141.0 166.4L145.2 166.4L149.5 166.4L153.7 166.3L157.9 166.3L162.2 166.3L166.4 166.2L170.6 166.1L174.8 166.1L179.1 166.0L183.3 165.9L187.5 165.7L191.8 165.6L196.0 165.4M31.0 163.0L35.2 162.6L39.5 162.3L43.7 162.0L47.9 161.7L52.2 161.5L56.4 161.2L60.6 161.0L64.8 160.8L69.1 160.7L73.3 160.6L77.5 160.5L81.8 160.4L86.0 160.4L90.2 160.4L94.5 160.5L98.7 160.5L102.9 160.7L107.2 160.8L111.4 160.9L115.6 161.1L119.8 161.2L124.1 161.4L128.3 161.6L132.5 161.7L136.8 161.9L141.0 162.0L145.2 162.1L149.5 162.3L153.7 162.4L157.9 162.5L162.2 162.7L166.4 162.8L170.6 162.9L174.8 163.1L179.1 163.2L183.3 163.4L187.5 163.5L191.8 163.6L196.0 163.8M31.0 158.1L35.2 157.8L39.5 157.6L43.7 157.4L47.9 157.2L52.2 157.1L56.4 157.0L60.6 156.9L64.8 156.8L69.1 156.7L73.3 156.7L77.5 156.6L81.8 156.6L86.0 156.6L90.2 156.7L94.5 156.8L98.7 157.0L102.9 157.2L107.2 157.5L111.4 157.8L115.6 158.2L119.8 158.5L124.1 158.8L128.3 159.1L132.5 159.3L136.8 159.5L141.0 159.6L145.2 159.7L149.5 159.7L153.7 159.8L157.9 159.9L162.2 159.9L166.4 160.0L170.6 160.0L174.8 160.1L179.1 160.1L183.3 160.1L187.5 160.1L191.8 160.1L196.0 160.1M31.0 155.9L35.2 155.5L39.5 155.1L43.7 154.7L47.9 154.4L52.2 154.0L56.4 153.7L60.6 153.4L64.8 153.2L69.1 152.9L73.3 152.7L77.5 152.6L81.8 152.5L86.0 152.4L90.2 152.4L94.5 152.3L98.7 152.3L102.9 152.3L107.2 152.3L111.4 152.2L115.6 152.2L119.8 152.2L124.1 152.2L128.3 152.2L132.5 152.2L136.8 152.2L141.0 152.2L145.2 152.2L149.5 152.2L153.7 152.3L157.9 152.4L162.2 152.5L166.4 152.7L170.6 152.8L174.8 153.0L179.1 153.2L183.3 153.4L187.5 153.6L191.8 153.8L196.0 154.1M31.0 149.4L35.2 149.4L39.5 149.4L43.7 149.4L47.9 149.4L52.2 149.4L56.4 149.5L60.6 149.5L64.8 149.5L69.1 149.6L73.3 149.6L77.5 149.7L81.8 149.7L86.0 149.7L90.2 149.8L94.5 150.0L98.7 150.1L102.9 150.4L107.2 150.6L111.4 150.9L115.6 151.2L119.8 151.5L124.1 151.7L128.3 152.0L132.5 152.3L136.8 152.5L141.0 152.7L145.2 152.9L149.5 153.0L153.7 153.2L157.9 153.4L162.2 153.5L166.4 153.7L170.6 153.8L174.8 153.9L179.1 154.1L183.3 154.2L187.5 154.3L191.8 154.4L196.0 154.5M31.0 147.7L35.2 147.8L39.5 147.8L43.7 147.8L47.9 147.9L52.2 147.9L56.4 147.9L60.6 148.0L64.8 148.0L69.1 148.1L73.3 148.2L77.5 148.2L81.8 148.3L86.0 148.3L90.2 148.4L94.5 148.5L98.7 148.6L102.9 148.7L107.2 148.8L111.4 148.9L115.6 149.0L119.8 149.1L124.1 149.2L128.3 149.3L132.5 149.4L136.8 149.5L141.0 149.6L145.2 149.7L149.5 149.7L153.7 149.8L157.9 149.9L162.2 149.9L166.4 150.0L170.6 150.1L174.8 150.1L179.1 150.2L183.3 150.3L187.5 150.3L191.8 150.4L196.0 150.4M31.0 146.1L35.2 146.0L39.5 145.9L43.7 145.8L47.9 145.8L52.2 145.8L56.4 145.7L60.6 145.7L64.8 145.7L69.1 145.7L73.3 145.7L77.5 145.7L81.8 145.7L86.0 145.7L90.2 145.7L94.5 145.7L98.7 145.8L102.9 146.0L107.2 146.1L111.4 146.2L115.6 146.4L119.8 146.5L124.1 146.6L128.3 146.8L132.5 146.8L136.8 146.9L141.0 146.9L145.2 146.9L149.5 146.9L153.7 146.9L157.9 146.9L162.2 146.9L166.4 146.9L170.6 146.9L174.8 146.9L179.1 146.9L183.3 146.9L187.5 146.8L191.8 146.8L196.0 146.8M31.0 142.5L35.2 142.2L39.5 141.8L43.7 141.5L47.9 141.2L52.2 141.0L56.4 140.8L60.6 140.6L64.8 140.4L69.1 140.2L73.3 140.1L77.5 140.0L81.8 140.0L86.0 140.0L90.2 140.0L94.5 140.0L98.7 140.1L102.9 140.2L107.2 140.4L111.4 140.5L115.6 140.7L119.8 140.9L124.1 141.0L128.3 141.2L132.5 141.4L136.8 141.5L141.0 141.7L145.2 141.8L149.5 142.0L153.7 142.1L157.9 142.3L162.2 142.4L166.4 142.6L170.6 142.7L174.8 142.9L179.1 143.0L183.3 143.2L187.5 143.3L191.8 143.5L196.0 143.6M31.0 140.4L35.2 140.2L39.5 140.1L43.7 139.9L47.9 139.8L52.2 139.7L56.4 139.6L60.6 139.5L64.8 139.4L69.1 139.4L73.3 139.3L77.5 139.3L81.8 139.3L86.0 139.3L90.2 139.3L94.5 139.4L98.7 139.5L102.9 139.6L107.2 139.8L111.4 140.0L115.6 140.2L119.8 140.3L124.1 140.5L128.3 140.7L132.5 140.8L136.8 140.8L141.0 140.9L145.2 140.9L149.5 140.9L153.7 140.9L157.9 140.9L162.2 140.9L166.4 140.9L170.6 140.9L174.8 140.9L179.1 140.9L183.3 140.9L187.5 140.9L191.8 140.9L196.0 140.9M31.0 135.7L35.2 136.1L39.5 136.4L43.7 136.8L47.9 137.1L52.2 137.4L56.4 137.6L60.6 137.8L64.8 138.0L69.1 138.1L73.3 138.2L77.5 138.3L81.8 138.4L86.0 138.4L90.2 138.3L94.5 138.2L98.7 138.0L102.9 137.8L107.2 137.6L111.4 137.3L115.6 137.0L119.8 136.7L124.1 136.4L128.3 136.2L132.5 136.0L136.8 135.9L141.0 135.9L145.2 135.9L149.5 135.9L153.7 135.9L157.9 135.9L162.2 135.9L166.4 136.0L170.6 136.0L174.8 136.1L179.1 136.1L183.3 136.2L187.5 136.3L191.8 136.5L196.0 136.7M31.0 131.2L35.2 131.2L39.5 131.2L43.7 131.1L47.9 131.1L52.2 131.1L56.4 131.1L60.6 131.0L64.8 131.0L69.1 131.0L73.3 131.0L77.5 131.0L81.8 131.0L86.0 131.0L90.2 131.0L94.5 131.0L98.7 131.0L102.9 131.1L107.2 131.1L111.4 131.1L115.6 131.2L119.8 131.2L124.1 131.3L128.3 131.3L132.5 131.3L136.8 131.3L141.0 131.3L145.2 131.3L149.5 131.3L153.7 131.3L157.9 131.3L162.2 131.4L166.4 131.4L170.6 131.4L174.8 131.4L179.1 131.4L183.3 131.4L187.5 131.4L191.8 131.4L196.0 131.4M31.0 130.1L35.2 129.8L39.5 129.6L43.7 129.3L47.9 129.1L52.2 128.9L56.4 128.8L60.6 128.6L64.8 128.5L69.1 128.4L73.3 128.4L77.5 128.3L81.8 128.3L86.0 128.3L90.2 128.3L94.5 128.4L98.7 128.5L102.9 128.7L107.2 128.9L111.4 129.2L115.6 129.4L119.8 129.6L124.1 129.9L128.3 130.1L132.5 130.2L136.8 130.3L141.0 130.3L145.2 130.3L149.5 130.3L153.7 130.3L157.9 130.2L162.2 130.1L166.4 130.1L170.6 129.9L174.8 129.8L179.1 129.7L183.3 129.5L187.5 129.3L191.8 129.1L196.0 128.9M31.0 127.2L35.2 127.0L39.5 126.9L43.7 126.8L47.9 126.7L52.2 126.6L56.4 126.6L60.6 126.5L64.8 126.5L69.1 126.5L73.3 126.4L77.5 126.4L81.8 126.4L86.0 126.4L90.2 126.5L94.5 126.6L98.7 126.8L102.9 127.0L107.2 127.2L111.4 127.5L115.6 127.8L119.8 128.1L124.1 128.3L128.3 128.5L132.5 128.7L136.8 128.8L141.0 128.9L145.2 128.9L149.5 128.8L153.7 128.8L157.9 128.8L162.2 128.7L166.4 128.7L170.6 128.6L174.8 128.5L179.1 128.4L183.3 128.3L187.5 128.1L191.8 127.9L196.0 127.7M31.0 188.6L35.2 188.2L39.5 187.8L43.7 187.5L47.9 187.2L52.2 187.0L56.4 186.9L60.6 186.8L64.8 186.8L69.1 186.9L73.3 187.1L77.5 187.5L81.8 187.8L86.0 188.2L90.2 188.5L94.5 188.6L98.7 188.7L102.9 188.5L107.2 188.2L111.4 187.8L115.6 187.4L119.8 187.1L124.1 186.8L128.3 186.6L132.5 186.6L136.8 186.8L141.0 186.9L145.2 187.2L149.5 187.4L153.7 187.6L157.9 187.8L162.2 187.9L166.4 187.9L170.6 187.9L174.8 187.8L179.1 187.8L183.3 187.8L187.5 187.7L191.8 187.6L196.0 187.5M31.0 183.5L35.2 183.6L39.5 183.7L43.7 183.8L47.9 183.8L52.2 183.9L56.4 184.0L60.6 184.1L64.8 184.2L69.1 184.3L73.3 184.4L77.5 184.5L81.8 184.6L86.0 184.6L90.2 184.7L94.5 184.8L98.7 184.8L102.9 184.9L107.2 184.9L111.4 185.0L115.6 185.0L119.8 185.0L124.1 185.1L128.3 185.1L132.5 185.2L136.8 185.2L141.0 185.3L145.2 185.3L149.5 185.4L153.7 185.4L157.9 185.4L162.2 185.4L166.4 185.4L170.6 185.3L174.8 185.1L179.1 184.9L183.3 184.6L187.5 184.3L191.8 183.9L196.0 183.6M31.0 180.1L35.2 180.4L39.5 180.5L43.7 180.7L47.9 180.8L52.2 180.9L56.4 180.9L60.6 180.9L64.8 180.9L69.1 180.8L73.3 180.5L77.5 180.1L81.8 179.8L86.0 179.4L90.2 179.1L94.5 178.9L98.7 178.9L102.9 179.0L107.2 179.2L111.4 179.5L115.6 179.9L119.8 180.2L124.1 180.4L128.3 180.6L132.5 180.6L136.8 180.5L141.0 180.5L145.2 180.4L149.5 180.3L153.7 180.3L157.9 180.2L162.2 180.2L166.4 180.2L170.6 180.2L174.8 180.2L179.1 180.3L183.3 180.3L187.5 180.4L191.8 180.4L196.0 180.5M31.0 200.1L35.2 200.2L39.5 200.3L43.7 200.5L47.9 200.5L52.2 200.6L56.4 200.6L60.6 200.7L64.8 200.7L69.1 200.6L73.3 200.6L77.5 200.5L81.8 200.3L86.0 200.2L90.2 200.1L94.5 200.1L98.7 200.1L102.9 200.1L107.2 200.1L111.4 200.2L115.6 200.3L119.8 200.3L124.1 200.4L128.3 200.4L132.5 200.4L136.8 200.4L141.0 200.4L145.2 200.4L149.5 200.5L153.7 200.5L157.9 200.5L162.2 200.5L166.4 200.5L170.6 200.5L174.8 200.6L179.1 200.7L183.3 200.8L187.5 200.9L191.8 201.0L196.0 201.2M31.0 198.4L35.2 198.7L39.5 199.0L43.7 199.2L47.9 199.4L52.2 199.6L56.4 199.7L60.6 199.8L64.8 199.8L69.1 199.8L73.3 199.8L77.5 199.7L81.8 199.7L86.0 199.6L90.2 199.5L94.5 199.5L98.7 199.4L102.9 199.4L107.2 199.4L111.4 199.3L115.6 199.3L119.8 199.3L124.1 199.3L128.3 199.2L132.5 199.2L136.8 199.1L141.0 199.0L145.2 198.9L149.5 198.9L153.7 198.8L157.9 198.7L162.2 198.7L166.4 198.7L170.6 198.8L174.8 198.8L179.1 198.9L183.3 199.0L187.5 199.2L191.8 199.4L196.0 199.5M31.0 196.9L35.2 196.9L39.5 196.8L43.7 196.8L47.9 196.8L52.2 196.8L56.4 196.8L60.6 196.8L64.8 196.8L69.1 196.8L73.3 197.0L77.5 197.2L81.8 197.4L86.0 197.6L90.2 197.8L94.5 197.9L98.7 197.9L102.9 197.9L107.2 197.8L111.4 197.7L115.6 197.6L119.8 197.5L124.1 197.4L128.3 197.3L132.5 197.3L136.8 197.4L141.0 197.5L145.2 197.7L149.5 197.9L153.7 198.0L157.9 198.1L162.2 198.2L166.4 198.2L170.6 198.1L174.8 198.1L179.1 198.1L183.3 198.0L187.5 197.9L191.8 197.8L196.0 197.6M31.0 196.5L35.2 196.2L39.5 195.9L43.7 195.7L47.9 195.5L52.2 195.4L56.4 195.2L60.6 195.2L64.8 195.2L69.1 195.2L73.3 195.3L77.5 195.4L81.8 195.6L86.0 195.7L90.2 195.8L94.5 195.9L98.7 195.9L102.9 195.9L107.2 195.7L111.4 195.6L115.6 195.5L119.8 195.3L124.1 195.2L128.3 195.2L132.5 195.2L136.8 195.2L141.0 195.2L145.2 195.3L149.5 195.3L153.7 195.4L157.9 195.4L162.2 195.4L166.4 195.4L170.6 195.4L174.8 195.4L179.1 195.4L183.3 195.4L187.5 195.4L191.8 195.3L196.0 195.3M31.0 194.7L35.2 194.7L39.5 194.7L43.7 194.8L47.9 194.8L52.2 194.8L56.4 194.8L60.6 194.8L64.8 194.8L69.1 194.7L73.3 194.6L77.5 194.5L81.8 194.4L86.0 194.2L90.2 194.1L94.5 194.1L98.7 194.0L102.9 194.1L107.2 194.2L111.4 194.3L115.6 194.4L119.8 194.5L124.1 194.6L128.3 194.7L132.5 194.6L136.8 194.6L141.0 194.4L145.2 194.3L149.5 194.1L153.7 194.0L157.9 193.9L162.2 193.8L166.4 193.9L170.6 193.9L174.8 193.9L179.1 193.9L183.3 194.0L187.5 194.1L191.8 194.2L196.0 194.3M31.0 192.5L35.2 192.4L39.5 192.2L43.7 192.1L47.9 192.1L52.2 192.0L56.4 191.9L60.6 191.9L64.8 191.9L69.1 191.9L73.3 192.0L77.5 192.1L81.8 192.2L86.0 192.3L90.2 192.4L94.5 192.5L98.7 192.5L102.9 192.6L107.2 192.7L111.4 192.8L115.6 192.9L119.8 193.0L124.1 193.1L128.3 193.1L132.5 193.1L136.8 193.1L141.0 193.1L145.2 193.1L149.5 193.1L153.7 193.1L157.9 193.1L162.2 193.0L166.4 193.0L170.6 193.0L174.8 192.9L179.1 192.8L183.3 192.8L187.5 192.7L191.8 192.6L196.0 192.5M31.0 190.9L35.2 190.8L39.5 190.8L43.7 190.8L47.9 190.7L52.2 190.7L56.4 190.7L60.6 190.7L64.8 190.7L69.1 190.7L73.3 190.8L77.5 190.8L81.8 190.9L86.0 191.0L90.2 191.0L94.5 191.0L98.7 191.0L102.9 191.0L107.2 191.0L111.4 190.9L115.6 190.8L119.8 190.8L124.1 190.7L128.3 190.7L132.5 190.7L136.8 190.7L141.0 190.8L145.2 190.8L149.5 190.9L153.7 191.0L157.9 191.0L162.2 191.0L166.4 191.0L170.6 191.0L174.8 191.0L179.1 191.0L183.3 190.9L187.5 190.9L191.8 190.8L196.0 190.7M31.0 188.9L35.2 189.1L39.5 189.2L43.7 189.4L47.9 189.5L52.2 189.6L56.4 189.7L60.6 189.7L64.8 189.7L69.1 189.7L73.3 189.7L77.5 189.6L81.8 189.6L86.0 189.5L90.2 189.5L94.5 189.5L98.7 189.4L102.9 189.4L107.2 189.4L111.4 189.4L115.6 189.3L119.8 189.3L124.1 189.3L128.3 189.3L132.5 189.2L136.8 189.2L141.0 189.2L145.2 189.1L149.5 189.1L153.7 189.0L157.9 189.0L162.2 189.0L166.4 189.0L170.6 189.0L174.8 189.1L179.1 189.2L183.3 189.3L187.5 189.4L191.8 189.5L196.0 189.6" fill="none" stroke="#fbd54a" stroke-width="1.4" stroke-opacity="0.4"/><defs><pattern id="pma" x="80.30" y="0" width="3.0" height="20" patternUnits="userSpaceOnUse"><rect width="1.2" height="20" fill="#fff"/></pattern><mask id="ma" maskUnits="userSpaceOnUse" x="31" y="22" width="165" height="201"><rect x="31" y="22" width="165" height="201" fill="url(#pma)"/></mask><clipPath id="cma"><rect x="31" y="22" width="165" height="201"/></clipPath></defs><g clip-path="url(#cma)" mask="url(#ma)"><path d="M31.0 43.0L35.2 42.1L39.5 41.2L43.7 40.4L47.9 39.7L52.2 39.1L56.4 38.8L60.6 38.7L64.8 38.6L69.1 38.5L73.3 38.4L77.5 38.4L81.8 38.3L86.0 38.2L90.2 38.2L94.5 38.1L98.7 38.1L102.9 38.1L107.2 38.1L111.4 38.1L115.6 38.1L119.8 38.1L124.1 38.1L128.3 38.1L132.5 38.2L136.8 38.2L141.0 38.2L145.2 38.3L149.5 38.3L153.7 38.4L157.9 38.6L162.2 38.8L166.4 39.1L170.6 39.4L174.8 39.8L179.1 40.2L183.3 40.7L187.5 41.4L191.8 42.1L196.0 42.8M31.0 46.3L35.2 45.2L39.5 44.2L43.7 43.4L47.9 42.8L52.2 42.3L56.4 41.9L60.6 41.6L64.8 41.5L69.1 41.6L73.3 41.7L77.5 41.9L81.8 42.2L86.0 42.6L90.2 43.1L94.5 43.8L98.7 44.4L102.9 45.1L107.2 45.6L111.4 46.0L115.6 46.3L119.8 46.6L124.1 46.8L128.3 46.9L132.5 47.0L136.8 46.5L141.0 45.7L145.2 44.6L149.5 43.6L153.7 42.8L157.9 42.4L162.2 42.3L166.4 42.3L170.6 42.3L174.8 42.2L179.1 42.3L183.3 42.6L187.5 43.1L191.8 43.6L196.0 44.3M31.0 44.3L35.2 44.9L39.5 45.4L43.7 46.0L47.9 46.5L52.2 47.0L56.4 47.5L60.6 48.0L64.8 48.4L69.1 48.7L73.3 49.1L77.5 49.5L81.8 49.9L86.0 50.3L90.2 50.6L94.5 50.9L98.7 51.2L102.9 51.4L107.2 51.5L111.4 51.6L115.6 51.6L119.8 51.6L124.1 51.7L128.3 51.7L132.5 51.7L136.8 51.7L141.0 51.7L145.2 51.4L149.5 50.9L153.7 50.3L157.9 49.7L162.2 49.1L166.4 48.7L170.6 48.3L174.8 47.9L179.1 47.5L183.3 47.1L187.5 46.6L191.8 46.2L196.0 45.7M31.0 49.6L35.2 51.8L39.5 54.1L43.7 56.3L47.9 58.5L52.2 60.7L56.4 62.8L60.6 64.9L64.8 67.0L69.1 69.1L73.3 71.2L77.5 73.4L81.8 75.7L86.0 78.0L90.2 80.2L94.5 82.3L98.7 84.2L102.9 85.7L107.2 86.8L111.4 87.7L115.6 88.3L119.8 88.3L124.1 88.3L128.3 88.3L132.5 88.3L136.8 88.2L141.0 87.9L145.2 86.5L149.5 84.2L153.7 81.3L157.9 78.1L162.2 75.0L166.4 72.1L170.6 68.7L174.8 65.1L179.1 61.3L183.3 57.7L187.5 54.5L191.8 51.9L196.0 50.0M31.0 93.5L35.2 93.5L39.5 93.5L43.7 93.5L47.9 93.5L52.2 93.5L56.4 93.5L60.6 93.5L64.8 93.5L69.1 93.5L73.3 93.5L77.5 93.5L81.8 93.5L86.0 93.5L90.2 93.5L94.5 93.5L98.7 93.5L102.9 93.5L107.2 93.5L111.4 93.5L115.6 93.5L119.8 93.5L124.1 93.5L128.3 93.5L132.5 93.5L136.8 93.5L141.0 93.5L145.2 93.5L149.5 93.5L153.7 93.5L157.9 93.5L162.2 93.5L166.4 93.5L170.6 93.5L174.8 93.5L179.1 93.5L183.3 93.5L187.5 93.5L191.8 93.5L196.0 93.5M31.0 92.1L35.2 92.1L39.5 92.1L43.7 92.1L47.9 92.1L52.2 92.1L56.4 92.1L60.6 92.1L64.8 92.1L69.1 92.1L73.3 92.1L77.5 92.1L81.8 92.1L86.0 92.1L90.2 92.1L94.5 92.1L98.7 92.1L102.9 92.1L107.2 92.1L111.4 92.1L115.6 92.1L119.8 92.1L124.1 92.1L128.3 92.1L132.5 92.1L136.8 92.1L141.0 92.1L145.2 92.1L149.5 92.1L153.7 92.1L157.9 92.1L162.2 92.1L166.4 92.1L170.6 92.1L174.8 92.1L179.1 92.1L183.3 92.1L187.5 92.1L191.8 92.1L196.0 92.1M31.0 90.3L35.2 90.3L39.5 90.3L43.7 90.3L47.9 90.3L52.2 90.3L56.4 90.3L60.6 90.3L64.8 90.3L69.1 90.3L73.3 90.3L77.5 90.3L81.8 90.3L86.0 90.3L90.2 90.3L94.5 90.3L98.7 90.3L102.9 90.3L107.2 90.3L111.4 90.3L115.6 90.3L119.8 90.3L124.1 90.3L128.3 90.3L132.5 90.3L136.8 90.3L141.0 90.3L145.2 90.3L149.5 90.3L153.7 90.3L157.9 90.3L162.2 90.3L166.4 90.3L170.6 90.3L174.8 90.3L179.1 90.3L183.3 90.3L187.5 90.3L191.8 90.3L196.0 90.3M31.0 88.5L35.2 88.5L39.5 88.5L43.7 88.5L47.9 88.5L52.2 88.5L56.4 88.5L60.6 88.5L64.8 88.5L69.1 88.5L73.3 88.5L77.5 88.5L81.8 88.5L86.0 88.5L90.2 88.5L94.5 88.5L98.7 88.5L102.9 88.5L107.2 88.5L111.4 88.5L115.6 88.5L119.8 88.5L124.1 88.5L128.3 88.5L132.5 88.5L136.8 88.5L141.0 88.5L145.2 88.5L149.5 88.5L153.7 88.5L157.9 88.5L162.2 88.5L166.4 88.5L170.6 88.5L174.8 88.5L179.1 88.5L183.3 88.5L187.5 88.5L191.8 88.5L196.0 88.5M31.0 119.3L35.2 119.0L39.5 118.6L43.7 118.3L47.9 118.0L52.2 117.7L56.4 117.4L60.6 117.1L64.8 116.9L69.1 116.7L73.3 116.4L77.5 116.2L81.8 116.0L86.0 115.7L90.2 115.5L94.5 115.3L98.7 115.2L102.9 115.0L107.2 114.9L111.4 114.9L115.6 114.9L119.8 114.9L124.1 114.9L128.3 114.9L132.5 115.0L136.8 115.0L141.0 115.1L145.2 115.1L149.5 115.2L153.7 115.2L157.9 115.3L162.2 115.3L166.4 115.4L170.6 115.4L174.8 115.5L179.1 115.6L183.3 115.7L187.5 115.8L191.8 115.9L196.0 116.0M31.0 120.5L35.2 120.3L39.5 120.2L43.7 120.2L47.9 120.2L52.2 120.3L56.4 120.8L60.6 121.4L64.8 121.9L69.1 122.1L73.3 122.3L77.5 122.5L81.8 122.6L86.0 122.8L90.2 122.9L94.5 123.0L98.7 123.1L102.9 123.1L107.2 123.2L111.4 123.2L115.6 123.2L119.8 123.2L124.1 123.2L128.3 123.2L132.5 123.2L136.8 123.2L141.0 123.2L145.2 123.2L149.5 123.2L153.7 123.2L157.9 123.2L162.2 123.1L166.4 123.1L170.6 123.1L174.8 123.0L179.1 123.0L183.3 123.0L187.5 122.9L191.8 122.9L196.0 122.8M31.0 177.5L35.2 177.3L39.5 177.1L43.7 176.9L47.9 176.8L52.2 176.7L56.4 176.6L60.6 176.6L64.8 176.5L69.1 176.5L73.3 176.5L77.5 176.5L81.8 176.5L86.0 176.5L90.2 176.5L94.5 176.6L98.7 176.8L102.9 177.1L107.2 177.3L111.4 177.6L115.6 177.9L119.8 178.2L124.1 178.5L128.3 178.7L132.5 178.9L136.8 179.1L141.0 179.1L145.2 179.1L149.5 179.1L153.7 179.0L157.9 179.0L162.2 178.9L166.4 178.9L170.6 178.8L174.8 178.7L179.1 178.5L183.3 178.4L187.5 178.2L191.8 178.0L196.0 177.7M31.0 172.1L35.2 172.1L39.5 172.1L43.7 172.1L47.9 172.0L52.2 172.0L56.4 172.0L60.6 172.0L64.8 172.0L69.1 172.0L73.3 172.0L77.5 172.0L81.8 172.0L86.0 172.0L90.2 172.1L94.5 172.4L98.7 172.7L102.9 173.1L107.2 173.6L111.4 174.2L115.6 174.8L119.8 175.3L124.1 175.8L128.3 176.3L132.5 176.6L136.8 176.8L141.0 176.9L145.2 176.9L149.5 176.9L153.7 176.9L157.9 176.9L162.2 176.9L166.4 176.9L170.6 176.8L174.8 176.8L179.1 176.7L183.3 176.7L187.5 176.6L191.8 176.5L196.0 176.4M31.0 174.1L35.2 173.8L39.5 173.4L43.7 173.1L47.9 172.9L52.2 172.6L56.4 172.4L60.6 172.2L64.8 172.0L69.1 171.9L73.3 171.8L77.5 171.7L81.8 171.7L86.0 171.7L90.2 171.7L94.5 171.9L98.7 172.0L102.9 172.3L107.2 172.5L111.4 172.8L115.6 173.1L119.8 173.4L124.1 173.7L128.3 173.9L132.5 174.1L136.8 174.2L141.0 174.3L145.2 174.3L149.5 174.2L153.7 174.1L157.9 174.0L162.2 173.9L166.4 173.7L170.6 173.5L174.8 173.3L179.1 173.0L183.3 172.7L187.5 172.3L191.8 172.0L196.0 171.6M31.0 167.1L35.2 167.5L39.5 167.8L43.7 168.1L47.9 168.4L52.2 168.6L56.4 168.8L60.6 169.0L64.8 169.1L69.1 169.3L73.3 169.4L77.5 169.4L81.8 169.5L86.0 169.5L90.2 169.4L94.5 169.3L98.7 169.1L102.9 168.9L107.2 168.7L111.4 168.4L115.6 168.1L119.8 167.8L124.1 167.5L128.3 167.3L132.5 167.1L136.8 167.0L141.0 167.0L145.2 167.0L149.5 167.0L153.7 167.0L157.9 167.0L162.2 167.0L166.4 167.0L170.6 167.1L174.8 167.1L179.1 167.1L183.3 167.2L187.5 167.3L191.8 167.4L196.0 167.5M31.0 167.9L35.2 167.4L39.5 167.0L43.7 166.6L47.9 166.2L52.2 165.9L56.4 165.6L60.6 165.3L64.8 165.0L69.1 164.9L73.3 164.7L77.5 164.6L81.8 164.5L86.0 164.5L90.2 164.5L94.5 164.6L98.7 164.7L102.9 164.9L107.2 165.1L111.4 165.3L115.6 165.5L119.8 165.7L124.1 165.9L128.3 166.1L132.5 166.3L136.8 166.3L141.0 166.4L145.2 166.4L149.5 166.4L153.7 166.3L157.9 166.3L162.2 166.3L166.4 166.2L170.6 166.1L174.8 166.1L179.1 166.0L183.3 165.9L187.5 165.7L191.8 165.6L196.0 165.4M31.0 163.0L35.2 162.6L39.5 162.3L43.7 162.0L47.9 161.7L52.2 161.5L56.4 161.2L60.6 161.0L64.8 160.8L69.1 160.7L73.3 160.6L77.5 160.5L81.8 160.4L86.0 160.4L90.2 160.4L94.5 160.5L98.7 160.5L102.9 160.7L107.2 160.8L111.4 160.9L115.6 161.1L119.8 161.2L124.1 161.4L128.3 161.6L132.5 161.7L136.8 161.9L141.0 162.0L145.2 162.1L149.5 162.3L153.7 162.4L157.9 162.5L162.2 162.7L166.4 162.8L170.6 162.9L174.8 163.1L179.1 163.2L183.3 163.4L187.5 163.5L191.8 163.6L196.0 163.8M31.0 158.1L35.2 157.8L39.5 157.6L43.7 157.4L47.9 157.2L52.2 157.1L56.4 157.0L60.6 156.9L64.8 156.8L69.1 156.7L73.3 156.7L77.5 156.6L81.8 156.6L86.0 156.6L90.2 156.7L94.5 156.8L98.7 157.0L102.9 157.2L107.2 157.5L111.4 157.8L115.6 158.2L119.8 158.5L124.1 158.8L128.3 159.1L132.5 159.3L136.8 159.5L141.0 159.6L145.2 159.7L149.5 159.7L153.7 159.8L157.9 159.9L162.2 159.9L166.4 160.0L170.6 160.0L174.8 160.1L179.1 160.1L183.3 160.1L187.5 160.1L191.8 160.1L196.0 160.1M31.0 155.9L35.2 155.5L39.5 155.1L43.7 154.7L47.9 154.4L52.2 154.0L56.4 153.7L60.6 153.4L64.8 153.2L69.1 152.9L73.3 152.7L77.5 152.6L81.8 152.5L86.0 152.4L90.2 152.4L94.5 152.3L98.7 152.3L102.9 152.3L107.2 152.3L111.4 152.2L115.6 152.2L119.8 152.2L124.1 152.2L128.3 152.2L132.5 152.2L136.8 152.2L141.0 152.2L145.2 152.2L149.5 152.2L153.7 152.3L157.9 152.4L162.2 152.5L166.4 152.7L170.6 152.8L174.8 153.0L179.1 153.2L183.3 153.4L187.5 153.6L191.8 153.8L196.0 154.1M31.0 149.4L35.2 149.4L39.5 149.4L43.7 149.4L47.9 149.4L52.2 149.4L56.4 149.5L60.6 149.5L64.8 149.5L69.1 149.6L73.3 149.6L77.5 149.7L81.8 149.7L86.0 149.7L90.2 149.8L94.5 150.0L98.7 150.1L102.9 150.4L107.2 150.6L111.4 150.9L115.6 151.2L119.8 151.5L124.1 151.7L128.3 152.0L132.5 152.3L136.8 152.5L141.0 152.7L145.2 152.9L149.5 153.0L153.7 153.2L157.9 153.4L162.2 153.5L166.4 153.7L170.6 153.8L174.8 153.9L179.1 154.1L183.3 154.2L187.5 154.3L191.8 154.4L196.0 154.5M31.0 147.7L35.2 147.8L39.5 147.8L43.7 147.8L47.9 147.9L52.2 147.9L56.4 147.9L60.6 148.0L64.8 148.0L69.1 148.1L73.3 148.2L77.5 148.2L81.8 148.3L86.0 148.3L90.2 148.4L94.5 148.5L98.7 148.6L102.9 148.7L107.2 148.8L111.4 148.9L115.6 149.0L119.8 149.1L124.1 149.2L128.3 149.3L132.5 149.4L136.8 149.5L141.0 149.6L145.2 149.7L149.5 149.7L153.7 149.8L157.9 149.9L162.2 149.9L166.4 150.0L170.6 150.1L174.8 150.1L179.1 150.2L183.3 150.3L187.5 150.3L191.8 150.4L196.0 150.4M31.0 146.1L35.2 146.0L39.5 145.9L43.7 145.8L47.9 145.8L52.2 145.8L56.4 145.7L60.6 145.7L64.8 145.7L69.1 145.7L73.3 145.7L77.5 145.7L81.8 145.7L86.0 145.7L90.2 145.7L94.5 145.7L98.7 145.8L102.9 146.0L107.2 146.1L111.4 146.2L115.6 146.4L119.8 146.5L124.1 146.6L128.3 146.8L132.5 146.8L136.8 146.9L141.0 146.9L145.2 146.9L149.5 146.9L153.7 146.9L157.9 146.9L162.2 146.9L166.4 146.9L170.6 146.9L174.8 146.9L179.1 146.9L183.3 146.9L187.5 146.8L191.8 146.8L196.0 146.8M31.0 142.5L35.2 142.2L39.5 141.8L43.7 141.5L47.9 141.2L52.2 141.0L56.4 140.8L60.6 140.6L64.8 140.4L69.1 140.2L73.3 140.1L77.5 140.0L81.8 140.0L86.0 140.0L90.2 140.0L94.5 140.0L98.7 140.1L102.9 140.2L107.2 140.4L111.4 140.5L115.6 140.7L119.8 140.9L124.1 141.0L128.3 141.2L132.5 141.4L136.8 141.5L141.0 141.7L145.2 141.8L149.5 142.0L153.7 142.1L157.9 142.3L162.2 142.4L166.4 142.6L170.6 142.7L174.8 142.9L179.1 143.0L183.3 143.2L187.5 143.3L191.8 143.5L196.0 143.6M31.0 140.4L35.2 140.2L39.5 140.1L43.7 139.9L47.9 139.8L52.2 139.7L56.4 139.6L60.6 139.5L64.8 139.4L69.1 139.4L73.3 139.3L77.5 139.3L81.8 139.3L86.0 139.3L90.2 139.3L94.5 139.4L98.7 139.5L102.9 139.6L107.2 139.8L111.4 140.0L115.6 140.2L119.8 140.3L124.1 140.5L128.3 140.7L132.5 140.8L136.8 140.8L141.0 140.9L145.2 140.9L149.5 140.9L153.7 140.9L157.9 140.9L162.2 140.9L166.4 140.9L170.6 140.9L174.8 140.9L179.1 140.9L183.3 140.9L187.5 140.9L191.8 140.9L196.0 140.9M31.0 135.7L35.2 136.1L39.5 136.4L43.7 136.8L47.9 137.1L52.2 137.4L56.4 137.6L60.6 137.8L64.8 138.0L69.1 138.1L73.3 138.2L77.5 138.3L81.8 138.4L86.0 138.4L90.2 138.3L94.5 138.2L98.7 138.0L102.9 137.8L107.2 137.6L111.4 137.3L115.6 137.0L119.8 136.7L124.1 136.4L128.3 136.2L132.5 136.0L136.8 135.9L141.0 135.9L145.2 135.9L149.5 135.9L153.7 135.9L157.9 135.9L162.2 135.9L166.4 136.0L170.6 136.0L174.8 136.1L179.1 136.1L183.3 136.2L187.5 136.3L191.8 136.5L196.0 136.7M31.0 131.2L35.2 131.2L39.5 131.2L43.7 131.1L47.9 131.1L52.2 131.1L56.4 131.1L60.6 131.0L64.8 131.0L69.1 131.0L73.3 131.0L77.5 131.0L81.8 131.0L86.0 131.0L90.2 131.0L94.5 131.0L98.7 131.0L102.9 131.1L107.2 131.1L111.4 131.1L115.6 131.2L119.8 131.2L124.1 131.3L128.3 131.3L132.5 131.3L136.8 131.3L141.0 131.3L145.2 131.3L149.5 131.3L153.7 131.3L157.9 131.3L162.2 131.4L166.4 131.4L170.6 131.4L174.8 131.4L179.1 131.4L183.3 131.4L187.5 131.4L191.8 131.4L196.0 131.4M31.0 130.1L35.2 129.8L39.5 129.6L43.7 129.3L47.9 129.1L52.2 128.9L56.4 128.8L60.6 128.6L64.8 128.5L69.1 128.4L73.3 128.4L77.5 128.3L81.8 128.3L86.0 128.3L90.2 128.3L94.5 128.4L98.7 128.5L102.9 128.7L107.2 128.9L111.4 129.2L115.6 129.4L119.8 129.6L124.1 129.9L128.3 130.1L132.5 130.2L136.8 130.3L141.0 130.3L145.2 130.3L149.5 130.3L153.7 130.3L157.9 130.2L162.2 130.1L166.4 130.1L170.6 129.9L174.8 129.8L179.1 129.7L183.3 129.5L187.5 129.3L191.8 129.1L196.0 128.9M31.0 127.2L35.2 127.0L39.5 126.9L43.7 126.8L47.9 126.7L52.2 126.6L56.4 126.6L60.6 126.5L64.8 126.5L69.1 126.5L73.3 126.4L77.5 126.4L81.8 126.4L86.0 126.4L90.2 126.5L94.5 126.6L98.7 126.8L102.9 127.0L107.2 127.2L111.4 127.5L115.6 127.8L119.8 128.1L124.1 128.3L128.3 128.5L132.5 128.7L136.8 128.8L141.0 128.9L145.2 128.9L149.5 128.8L153.7 128.8L157.9 128.8L162.2 128.7L166.4 128.7L170.6 128.6L174.8 128.5L179.1 128.4L183.3 128.3L187.5 128.1L191.8 127.9L196.0 127.7M31.0 188.6L35.2 188.2L39.5 187.8L43.7 187.5L47.9 187.2L52.2 187.0L56.4 186.9L60.6 186.8L64.8 186.8L69.1 186.9L73.3 187.1L77.5 187.5L81.8 187.8L86.0 188.2L90.2 188.5L94.5 188.6L98.7 188.7L102.9 188.5L107.2 188.2L111.4 187.8L115.6 187.4L119.8 187.1L124.1 186.8L128.3 186.6L132.5 186.6L136.8 186.8L141.0 186.9L145.2 187.2L149.5 187.4L153.7 187.6L157.9 187.8L162.2 187.9L166.4 187.9L170.6 187.9L174.8 187.8L179.1 187.8L183.3 187.8L187.5 187.7L191.8 187.6L196.0 187.5M31.0 183.5L35.2 183.6L39.5 183.7L43.7 183.8L47.9 183.8L52.2 183.9L56.4 184.0L60.6 184.1L64.8 184.2L69.1 184.3L73.3 184.4L77.5 184.5L81.8 184.6L86.0 184.6L90.2 184.7L94.5 184.8L98.7 184.8L102.9 184.9L107.2 184.9L111.4 185.0L115.6 185.0L119.8 185.0L124.1 185.1L128.3 185.1L132.5 185.2L136.8 185.2L141.0 185.3L145.2 185.3L149.5 185.4L153.7 185.4L157.9 185.4L162.2 185.4L166.4 185.4L170.6 185.3L174.8 185.1L179.1 184.9L183.3 184.6L187.5 184.3L191.8 183.9L196.0 183.6M31.0 180.1L35.2 180.4L39.5 180.5L43.7 180.7L47.9 180.8L52.2 180.9L56.4 180.9L60.6 180.9L64.8 180.9L69.1 180.8L73.3 180.5L77.5 180.1L81.8 179.8L86.0 179.4L90.2 179.1L94.5 178.9L98.7 178.9L102.9 179.0L107.2 179.2L111.4 179.5L115.6 179.9L119.8 180.2L124.1 180.4L128.3 180.6L132.5 180.6L136.8 180.5L141.0 180.5L145.2 180.4L149.5 180.3L153.7 180.3L157.9 180.2L162.2 180.2L166.4 180.2L170.6 180.2L174.8 180.2L179.1 180.3L183.3 180.3L187.5 180.4L191.8 180.4L196.0 180.5M31.0 200.1L35.2 200.2L39.5 200.3L43.7 200.5L47.9 200.5L52.2 200.6L56.4 200.6L60.6 200.7L64.8 200.7L69.1 200.6L73.3 200.6L77.5 200.5L81.8 200.3L86.0 200.2L90.2 200.1L94.5 200.1L98.7 200.1L102.9 200.1L107.2 200.1L111.4 200.2L115.6 200.3L119.8 200.3L124.1 200.4L128.3 200.4L132.5 200.4L136.8 200.4L141.0 200.4L145.2 200.4L149.5 200.5L153.7 200.5L157.9 200.5L162.2 200.5L166.4 200.5L170.6 200.5L174.8 200.6L179.1 200.7L183.3 200.8L187.5 200.9L191.8 201.0L196.0 201.2M31.0 198.4L35.2 198.7L39.5 199.0L43.7 199.2L47.9 199.4L52.2 199.6L56.4 199.7L60.6 199.8L64.8 199.8L69.1 199.8L73.3 199.8L77.5 199.7L81.8 199.7L86.0 199.6L90.2 199.5L94.5 199.5L98.7 199.4L102.9 199.4L107.2 199.4L111.4 199.3L115.6 199.3L119.8 199.3L124.1 199.3L128.3 199.2L132.5 199.2L136.8 199.1L141.0 199.0L145.2 198.9L149.5 198.9L153.7 198.8L157.9 198.7L162.2 198.7L166.4 198.7L170.6 198.8L174.8 198.8L179.1 198.9L183.3 199.0L187.5 199.2L191.8 199.4L196.0 199.5M31.0 196.9L35.2 196.9L39.5 196.8L43.7 196.8L47.9 196.8L52.2 196.8L56.4 196.8L60.6 196.8L64.8 196.8L69.1 196.8L73.3 197.0L77.5 197.2L81.8 197.4L86.0 197.6L90.2 197.8L94.5 197.9L98.7 197.9L102.9 197.9L107.2 197.8L111.4 197.7L115.6 197.6L119.8 197.5L124.1 197.4L128.3 197.3L132.5 197.3L136.8 197.4L141.0 197.5L145.2 197.7L149.5 197.9L153.7 198.0L157.9 198.1L162.2 198.2L166.4 198.2L170.6 198.1L174.8 198.1L179.1 198.1L183.3 198.0L187.5 197.9L191.8 197.8L196.0 197.6M31.0 196.5L35.2 196.2L39.5 195.9L43.7 195.7L47.9 195.5L52.2 195.4L56.4 195.2L60.6 195.2L64.8 195.2L69.1 195.2L73.3 195.3L77.5 195.4L81.8 195.6L86.0 195.7L90.2 195.8L94.5 195.9L98.7 195.9L102.9 195.9L107.2 195.7L111.4 195.6L115.6 195.5L119.8 195.3L124.1 195.2L128.3 195.2L132.5 195.2L136.8 195.2L141.0 195.2L145.2 195.3L149.5 195.3L153.7 195.4L157.9 195.4L162.2 195.4L166.4 195.4L170.6 195.4L174.8 195.4L179.1 195.4L183.3 195.4L187.5 195.4L191.8 195.3L196.0 195.3M31.0 194.7L35.2 194.7L39.5 194.7L43.7 194.8L47.9 194.8L52.2 194.8L56.4 194.8L60.6 194.8L64.8 194.8L69.1 194.7L73.3 194.6L77.5 194.5L81.8 194.4L86.0 194.2L90.2 194.1L94.5 194.1L98.7 194.0L102.9 194.1L107.2 194.2L111.4 194.3L115.6 194.4L119.8 194.5L124.1 194.6L128.3 194.7L132.5 194.6L136.8 194.6L141.0 194.4L145.2 194.3L149.5 194.1L153.7 194.0L157.9 193.9L162.2 193.8L166.4 193.9L170.6 193.9L174.8 193.9L179.1 193.9L183.3 194.0L187.5 194.1L191.8 194.2L196.0 194.3M31.0 192.5L35.2 192.4L39.5 192.2L43.7 192.1L47.9 192.1L52.2 192.0L56.4 191.9L60.6 191.9L64.8 191.9L69.1 191.9L73.3 192.0L77.5 192.1L81.8 192.2L86.0 192.3L90.2 192.4L94.5 192.5L98.7 192.5L102.9 192.6L107.2 192.7L111.4 192.8L115.6 192.9L119.8 193.0L124.1 193.1L128.3 193.1L132.5 193.1L136.8 193.1L141.0 193.1L145.2 193.1L149.5 193.1L153.7 193.1L157.9 193.1L162.2 193.0L166.4 193.0L170.6 193.0L174.8 192.9L179.1 192.8L183.3 192.8L187.5 192.7L191.8 192.6L196.0 192.5M31.0 190.9L35.2 190.8L39.5 190.8L43.7 190.8L47.9 190.7L52.2 190.7L56.4 190.7L60.6 190.7L64.8 190.7L69.1 190.7L73.3 190.8L77.5 190.8L81.8 190.9L86.0 191.0L90.2 191.0L94.5 191.0L98.7 191.0L102.9 191.0L107.2 191.0L111.4 190.9L115.6 190.8L119.8 190.8L124.1 190.7L128.3 190.7L132.5 190.7L136.8 190.7L141.0 190.8L145.2 190.8L149.5 190.9L153.7 191.0L157.9 191.0L162.2 191.0L166.4 191.0L170.6 191.0L174.8 191.0L179.1 191.0L183.3 190.9L187.5 190.9L191.8 190.8L196.0 190.7M31.0 188.9L35.2 189.1L39.5 189.2L43.7 189.4L47.9 189.5L52.2 189.6L56.4 189.7L60.6 189.7L64.8 189.7L69.1 189.7L73.3 189.7L77.5 189.6L81.8 189.6L86.0 189.5L90.2 189.5L94.5 189.5L98.7 189.4L102.9 189.4L107.2 189.4L111.4 189.4L115.6 189.3L119.8 189.3L124.1 189.3L128.3 189.3L132.5 189.2L136.8 189.2L141.0 189.2L145.2 189.1L149.5 189.1L153.7 189.0L157.9 189.0L162.2 189.0L166.4 189.0L170.6 189.0L174.8 189.1L179.1 189.2L183.3 189.3L187.5 189.4L191.8 189.5L196.0 189.6M31.0 201.8L35.4 201.9L39.7 202.1L44.1 202.4L48.5 202.7L52.8 203.2L57.2 203.7L61.6 204.2L65.9 204.7L70.3 205.3L74.7 205.9L79.0 206.6L83.4 207.4L87.7 208.3L92.1 209.3L96.5 210.4L100.8 211.6L105.2 213.0L109.6 214.6L113.9 216.4L118.3 218.5L122.7 220.7L127.0 223.0M31.0 202.6L35.4 202.7L39.7 202.8L44.1 203.1L48.5 203.5L52.8 203.9L57.2 204.4L61.6 205.0L65.9 205.6L70.3 206.2L74.7 206.9L79.0 207.5L83.4 208.3L87.7 209.2L92.1 210.4L96.5 211.6L100.8 213.0L105.2 214.4L109.6 215.8L113.9 217.5L118.3 219.2L122.7 221.1L127.0 223.0M80.5 203.6L85.2 204.2L89.8 205.1L94.5 206.4L99.1 207.9L103.8 209.6L108.4 211.5L113.1 213.6L117.7 216.3L122.4 219.5L127.0 223.0M127.0 223.0L131.6 217.4L136.2 212.3L140.8 208.1L145.4 204.9L150.0 203.1L154.6 202.6L159.2 202.2L163.8 202.0L168.4 201.8L173.0 201.6L177.6 201.5L182.2 201.3L186.8 201.2L191.4 201.1L196.0 201.0M127.0 223.0L131.6 220.6L136.2 218.3L140.8 216.2L145.4 214.2L150.0 212.4L154.6 210.7L159.2 209.3L163.8 208.0L168.4 206.8L173.0 205.8L177.6 204.8L182.2 203.9L186.8 203.1L191.4 202.4L196.0 201.8M127.0 223.0L131.6 221.8L136.2 220.7L140.8 219.5L145.4 218.4L150.0 217.2L154.6 216.1L159.2 215.0L163.8 213.9L168.4 212.8L173.0 211.7L177.6 210.6L182.2 209.5L186.8 208.5L191.4 207.7L196.0 207.1" fill="none" stroke="#000" stroke-width="0.8" stroke-opacity="0.8"/></g><path d="M127.00 223v-5M127.00 22v5M31 223.00h5M196 223.00h-5M31 194.29h5M196 194.29h-5M31 165.57h5M196 165.57h-5M31 136.86h5M196 136.86h-5M31 108.14h5M196 108.14h-5M31 79.43h5M196 79.43h-5M31 50.71h5M196 50.71h-5M31 22.00h5M196 22.00h-5" stroke="#000" stroke-width="1.1" fill="none"/><path d="M31 208.64h3M196 208.64h-3M31 179.93h3M196 179.93h-3M31 151.21h3M196 151.21h-3M31 122.50h3M196 122.50h-3M31 93.79h3M196 93.79h-3M31 65.07h3M196 65.07h-3M31 36.36h3M196 36.36h-3" stroke="#000" stroke-width="0.9" fill="none"/><rect x="31" y="22" width="165" height="201" fill="none" stroke="#000" stroke-width="1.2"/><text x="26" y="226.78" font-size="10.5" text-anchor="end" font-weight="normal">0</text><text x="26" y="198.06571428571428" font-size="10.5" text-anchor="end" font-weight="normal">2</text><text x="26" y="169.35142857142856" font-size="10.5" text-anchor="end" font-weight="normal">4</text><text x="26" y="140.63714285714286" font-size="10.5" text-anchor="end" font-weight="normal">6</text><text x="26" y="111.92285714285714" font-size="10.5" text-anchor="end" font-weight="normal">8</text><text x="26" y="83.20857142857142" font-size="10.5" text-anchor="end" font-weight="normal">10</text><text x="26" y="54.49428571428572" font-size="10.5" text-anchor="end" font-weight="normal">12</text><text x="26" y="25.78" font-size="10.5" text-anchor="end" font-weight="normal">14</text><text x="31.5" y="235.7" font-size="11.5" text-anchor="middle" font-weight="normal">X</text><text x="127.7" y="235.7" font-size="11.5" text-anchor="middle" font-weight="normal">&#915;</text><text x="194.4" y="235.7" font-size="11.5" text-anchor="middle" font-weight="normal">Z</text><text x="10.7" y="122.5" font-size="11.5" text-anchor="middle" font-weight="normal" transform="rotate(-90 10.7 122.5)">Frequency (THz)</text><text x="33.3" y="12.4" font-size="13.7" text-anchor="start" font-weight="bold">a BaZrS<tspan dy="2.3" font-size="9.5" font-weight="normal">3</tspan><tspan dy="-2.3"> SED</tspan></text><defs><linearGradient id="cb22" x1="0" y1="0" x2="0" y2="1"><stop offset="0.00" stop-color="#fcffa4"/><stop offset="0.05" stop-color="#f1ef75"/><stop offset="0.10" stop-color="#f6d746"/><stop offset="0.15" stop-color="#fbbe23"/><stop offset="0.20" stop-color="#fca50a"/><stop offset="0.25" stop-color="#f98e09"/><stop offset="0.30" stop-color="#f37819"/><stop offset="0.35" stop-color="#ea632a"/><stop offset="0.40" stop-color="#dd513a"/><stop offset="0.45" stop-color="#cc4248"/><stop offset="0.50" stop-color="#bc3754"/><stop offset="0.55" stop-color="#a82e5f"/><stop offset="0.60" stop-color="#932667"/><stop offset="0.65" stop-color="#7f1e6c"/><stop offset="0.70" stop-color="#6a176e"/><stop offset="0.75" stop-color="#57106e"/><stop offset="0.80" stop-color="#420a68"/><stop offset="0.85" stop-color="#2b0b57"/><stop offset="0.90" stop-color="#160b39"/><stop offset="0.95" stop-color="#07051b"/><stop offset="1.00" stop-color="#000004"/></linearGradient></defs><path d="M198 31L201.0 20L204 31Z" fill="#fcffa4" stroke="#000" stroke-width="1"/><path d="M198 213L201.0 224.5L204 213Z" fill="#000004" stroke="#000" stroke-width="1"/><rect x="198" y="31" width="6" height="182" fill="url(#cb22)" stroke="#000" stroke-width="1"/><path d="M204 194.74h-2.2M204 184.05h-2.2M204 176.48h-2.2M204 170.60h-2.2M204 165.79h-2.2M204 161.73h-2.2M204 158.21h-2.2M204 155.11h-2.2M204 134.07h-2.2M204 123.39h-2.2M204 115.81h-2.2M204 109.93h-2.2M204 105.13h-2.2M204 101.06h-2.2M204 97.55h-2.2M204 94.44h-2.2M204 73.40h-2.2M204 62.72h-2.2M204 55.14h-2.2M204 49.26h-2.2M204 44.46h-2.2M204 40.40h-2.2M204 36.88h-2.2M204 33.78h-2.2M204 31.00h-3.5M204 91.67h-3.5M204 152.33h-3.5M204 213.00h-3.5" stroke="#000" stroke-width="0.8"/><text x="209" y="36.4" font-size="10.5" text-anchor="start" font-weight="normal">10<tspan dy="-8" font-size="7.9">&#8722;3</tspan></text><text x="209" y="97.06666666666666" font-size="10.5" text-anchor="start" font-weight="normal">10<tspan dy="-8" font-size="7.9">&#8722;4</tspan></text><text x="209" y="157.73333333333332" font-size="10.5" text-anchor="start" font-weight="normal">10<tspan dy="-8" font-size="7.9">&#8722;5</tspan></text><text x="209" y="218.4" font-size="10.5" text-anchor="start" font-weight="normal">10<tspan dy="-8" font-size="7.9">&#8722;6</tspan></text><text x="238" y="122" font-size="11.5" text-anchor="middle" font-weight="normal" transform="rotate(-90 238 122)">SED (J s)</text><path d="M31.0 416.9L35.2 416.8L39.5 416.8L43.7 416.8L47.9 416.8L52.2 416.7L56.4 416.7L60.6 416.7L64.8 416.7L69.1 416.7L73.3 416.7L77.5 416.8L81.8 416.8L86.0 416.8L90.2 416.8L94.5 416.9L98.7 416.9L102.9 417.0L107.2 417.0L111.4 417.1L115.6 417.2L119.8 417.3L124.1 417.4L128.3 417.4L132.5 417.5L136.8 417.6L141.0 417.6L145.2 417.7L149.5 417.8L153.7 417.8L157.9 417.9L162.2 418.0L166.4 418.0L170.6 418.1L174.8 418.1L179.1 418.2L183.3 418.2L187.5 418.3L191.8 418.3L196.0 418.4M31.0 414.1L35.2 414.1L39.5 414.1L43.7 414.1L47.9 414.1L52.2 414.1L56.4 414.1L60.6 414.1L64.8 414.1L69.1 414.1L73.3 414.1L77.5 414.0L81.8 414.0L86.0 413.9L90.2 413.9L94.5 413.9L98.7 413.9L102.9 413.9L107.2 413.9L111.4 413.9L115.6 413.9L119.8 414.0L124.1 414.0L128.3 414.0L132.5 414.0L136.8 414.0L141.0 413.9L145.2 413.9L149.5 413.9L153.7 413.9L157.9 413.8L162.2 413.8L166.4 413.8L170.6 413.8L174.8 413.8L179.1 413.8L183.3 413.8L187.5 413.8L191.8 413.9L196.0 413.9M31.0 409.9L35.2 409.9L39.5 409.9L43.7 409.9L47.9 409.9L52.2 409.9L56.4 410.0L60.6 410.0L64.8 410.0L69.1 410.0L73.3 410.0L77.5 410.0L81.8 410.0L86.0 410.1L90.2 410.1L94.5 410.1L98.7 410.1L102.9 410.2L107.2 410.2L111.4 410.3L115.6 410.3L119.8 410.4L124.1 410.4L128.3 410.5L132.5 410.5L136.8 410.5L141.0 410.6L145.2 410.6L149.5 410.6L153.7 410.7L157.9 410.7L162.2 410.7L166.4 410.7L170.6 410.6L174.8 410.5L179.1 410.4L183.3 410.2L187.5 410.0L191.8 409.8L196.0 409.5M31.0 468.1L35.2 467.9L39.5 467.6L43.7 467.3L47.9 467.0L52.2 466.8L56.4 466.5L60.6 466.3L64.8 466.1L69.1 465.9L73.3 465.8L77.5 465.7L81.8 465.6L86.0 465.6L90.2 465.6L94.5 465.6L98.7 465.6L102.9 465.6L107.2 465.6L111.4 465.6L115.6 465.6L119.8 465.6L124.1 465.6L128.3 465.6L132.5 465.6L136.8 465.6L141.0 465.6L145.2 465.7L149.5 465.7L153.7 465.8L157.9 465.9L162.2 466.0L166.4 466.2L170.6 466.3L174.8 466.5L179.1 466.7L183.3 466.9L187.5 467.1L191.8 467.3L196.0 467.5M31.0 463.9L35.2 463.9L39.5 463.9L43.7 463.8L47.9 463.8L52.2 463.8L56.4 463.8L60.6 463.7L64.8 463.7L69.1 463.7L73.3 463.6L77.5 463.6L81.8 463.5L86.0 463.5L90.2 463.4L94.5 463.4L98.7 463.3L102.9 463.2L107.2 463.1L111.4 462.9L115.6 462.8L119.8 462.7L124.1 462.6L128.3 462.6L132.5 462.5L136.8 462.5L141.0 462.4L145.2 462.5L149.5 462.5L153.7 462.5L157.9 462.5L162.2 462.6L166.4 462.6L170.6 462.7L174.8 462.8L179.1 462.9L183.3 463.0L187.5 463.1L191.8 463.2L196.0 463.3M31.0 460.6L35.2 460.4L39.5 460.2L43.7 460.1L47.9 459.9L52.2 459.8L56.4 459.7L60.6 459.6L64.8 459.5L69.1 459.4L73.3 459.3L77.5 459.3L81.8 459.2L86.0 459.2L90.2 459.3L94.5 459.3L98.7 459.4L102.9 459.4L107.2 459.5L111.4 459.6L115.6 459.8L119.8 459.9L124.1 460.0L128.3 460.0L132.5 460.1L136.8 460.1L141.0 460.2L145.2 460.1L149.5 460.0L153.7 459.9L157.9 459.7L162.2 459.5L166.4 459.2L170.6 458.9L174.8 458.6L179.1 458.2L183.3 457.8L187.5 457.4L191.8 456.9L196.0 456.5M31.0 452.5L35.2 453.2L39.5 453.8L43.7 454.4L47.9 454.9L52.2 455.4L56.4 455.8L60.6 456.2L64.8 456.5L69.1 456.7L73.3 457.0L77.5 457.1L81.8 457.2L86.0 457.2L90.2 457.2L94.5 457.0L98.7 456.8L102.9 456.5L107.2 456.1L111.4 455.7L115.6 455.3L119.8 454.9L124.1 454.6L128.3 454.3L132.5 454.0L136.8 453.9L141.0 453.8L145.2 453.8L149.5 453.8L153.7 453.8L157.9 453.8L162.2 453.9L166.4 453.9L170.6 453.9L174.8 454.0L179.1 454.0L183.3 454.1L187.5 454.2L191.8 454.3L196.0 454.5M31.0 449.2L35.2 449.3L39.5 449.4L43.7 449.5L47.9 449.6L52.2 449.7L56.4 449.8L60.6 449.9L64.8 450.0L69.1 450.1L73.3 450.2L77.5 450.3L81.8 450.3L86.0 450.4L90.2 450.5L94.5 450.5L98.7 450.6L102.9 450.7L107.2 450.7L111.4 450.8L115.6 450.8L119.8 450.9L124.1 450.9L128.3 451.0L132.5 451.0L136.8 451.0L141.0 451.0L145.2 451.0L149.5 451.0L153.7 451.0L157.9 450.9L162.2 450.9L166.4 450.8L170.6 450.8L174.8 450.7L179.1 450.6L183.3 450.5L187.5 450.4L191.8 450.3L196.0 450.2M31.0 448.3L35.2 448.1L39.5 447.9L43.7 447.8L47.9 447.7L52.2 447.5L56.4 447.4L60.6 447.3L64.8 447.1L69.1 447.0L73.3 446.9L77.5 446.8L81.8 446.7L86.0 446.7L90.2 446.6L94.5 446.5L98.7 446.4L102.9 446.4L107.2 446.3L111.4 446.2L115.6 446.2L119.8 446.1L124.1 446.1L128.3 446.0L132.5 446.0L136.8 446.0L141.0 446.0L145.2 446.0L149.5 446.0L153.7 446.1L157.9 446.2L162.2 446.3L166.4 446.5L170.6 446.6L174.8 446.8L179.1 447.0L183.3 447.2L187.5 447.4L191.8 447.6L196.0 447.8M31.0 441.8L35.2 441.9L39.5 442.0L43.7 442.1L47.9 442.2L52.2 442.3L56.4 442.3L60.6 442.4L64.8 442.4L69.1 442.5L73.3 442.5L77.5 442.5L81.8 442.5L86.0 442.5L90.2 442.5L94.5 442.5L98.7 442.4L102.9 442.3L107.2 442.2L111.4 442.1L115.6 442.0L119.8 441.9L124.1 441.8L128.3 441.7L132.5 441.6L136.8 441.6L141.0 441.6L145.2 441.6L149.5 441.7L153.7 441.9L157.9 442.1L162.2 442.4L166.4 442.7L170.6 443.0L174.8 443.4L179.1 443.8L183.3 444.3L187.5 444.8L191.8 445.3L196.0 445.8M31.0 440.4L35.2 440.1L39.5 439.8L43.7 439.5L47.9 439.3L52.2 439.1L56.4 438.9L60.6 438.7L64.8 438.5L69.1 438.4L73.3 438.3L77.5 438.2L81.8 438.2L86.0 438.2L90.2 438.2L94.5 438.3L98.7 438.4L102.9 438.5L107.2 438.7L111.4 438.9L115.6 439.0L119.8 439.2L124.1 439.4L128.3 439.5L132.5 439.6L136.8 439.7L141.0 439.7L145.2 439.7L149.5 439.7L153.7 439.7L157.9 439.6L162.2 439.6L166.4 439.5L170.6 439.4L174.8 439.3L179.1 439.2L183.3 439.1L187.5 439.0L191.8 438.8L196.0 438.6M31.0 434.5L35.2 434.9L39.5 435.4L43.7 435.9L47.9 436.3L52.2 436.7L56.4 437.1L60.6 437.4L64.8 437.8L69.1 438.0L73.3 438.2L77.5 438.4L81.8 438.5L86.0 438.5L90.2 438.5L94.5 438.5L98.7 438.5L102.9 438.5L107.2 438.5L111.4 438.5L115.6 438.4L119.8 438.4L124.1 438.4L128.3 438.3L132.5 438.3L136.8 438.3L141.0 438.2L145.2 438.2L149.5 438.1L153.7 437.9L157.9 437.7L162.2 437.5L166.4 437.3L170.6 437.0L174.8 436.7L179.1 436.4L183.3 436.0L187.5 435.7L191.8 435.3L196.0 435.0M31.0 431.2L35.2 431.2L39.5 431.2L43.7 431.3L47.9 431.3L52.2 431.4L56.4 431.4L60.6 431.5L64.8 431.6L69.1 431.6L73.3 431.7L77.5 431.8L81.8 431.9L86.0 432.0L90.2 432.1L94.5 432.2L98.7 432.4L102.9 432.6L107.2 432.8L111.4 433.1L115.6 433.3L119.8 433.5L124.1 433.7L128.3 433.9L132.5 434.0L136.8 434.1L141.0 434.1L145.2 434.1L149.5 434.1L153.7 434.1L157.9 434.1L162.2 434.1L166.4 434.0L170.6 434.0L174.8 434.0L179.1 433.9L183.3 433.8L187.5 433.7L191.8 433.6L196.0 433.5M31.0 429.2L35.2 429.2L39.5 429.3L43.7 429.3L47.9 429.4L52.2 429.5L56.4 429.5L60.6 429.6L64.8 429.6L69.1 429.6L73.3 429.7L77.5 429.7L81.8 429.7L86.0 429.7L90.2 429.8L94.5 429.8L98.7 429.8L102.9 429.8L107.2 429.8L111.4 429.8L115.6 429.8L119.8 429.8L124.1 429.8L128.3 429.8L132.5 429.8L136.8 429.8L141.0 429.8L145.2 429.8L149.5 429.9L153.7 429.9L157.9 429.9L162.2 429.9L166.4 429.9L170.6 429.9L174.8 430.0L179.1 430.0L183.3 430.0L187.5 430.0L191.8 430.0L196.0 430.1M31.0 424.2L35.2 424.7L39.5 425.2L43.7 425.6L47.9 426.0L52.2 426.3L56.4 426.7L60.6 426.9L64.8 427.2L69.1 427.4L73.3 427.5L77.5 427.7L81.8 427.7L86.0 427.8L90.2 427.7L94.5 427.6L98.7 427.4L102.9 427.2L107.2 426.9L111.4 426.6L115.6 426.3L119.8 426.0L124.1 425.8L128.3 425.5L132.5 425.3L136.8 425.2L141.0 425.2L145.2 425.2L149.5 425.1L153.7 425.1L157.9 425.1L162.2 425.1L166.4 425.1L170.6 425.1L174.8 425.1L179.1 425.1L183.3 425.1L187.5 425.1L191.8 425.1L196.0 425.1M31.0 420.3L35.2 421.0L39.5 421.6L43.7 422.1L47.9 422.6L52.2 423.1L56.4 423.5L60.6 423.9L64.8 424.2L69.1 424.4L73.3 424.7L77.5 424.8L81.8 424.9L86.0 424.9L90.2 424.9L94.5 424.7L98.7 424.5L102.9 424.2L107.2 423.9L111.4 423.5L115.6 423.2L119.8 422.8L124.1 422.5L128.3 422.2L132.5 422.0L136.8 421.8L141.0 421.8L145.2 421.8L149.5 421.8L153.7 421.8L157.9 421.8L162.2 421.8L166.4 421.8L170.6 421.8L174.8 421.8L179.1 421.8L183.3 421.8L187.5 421.8L191.8 421.8L196.0 421.8M31.0 419.2L35.2 419.4L39.5 419.6L43.7 419.9L47.9 420.1L52.2 420.3L56.4 420.5L60.6 420.7L64.8 420.8L69.1 421.0L73.3 421.1L77.5 421.2L81.8 421.2L86.0 421.3L90.2 421.3L94.5 421.3L98.7 421.3L102.9 421.3L107.2 421.3L111.4 421.3L115.6 421.3L119.8 421.3L124.1 421.3L128.3 421.3L132.5 421.3L136.8 421.3L141.0 421.3L145.2 421.3L149.5 421.3L153.7 421.3L157.9 421.3L162.2 421.2L166.4 421.2L170.6 421.1L174.8 421.0L179.1 421.0L183.3 420.9L187.5 420.8L191.8 420.7L196.0 420.7" fill="none" stroke="#fbd54a" stroke-width="1.4" stroke-opacity="0.35"/><defs><pattern id="pmb" x="39.52" y="0" width="2.05" height="20" patternUnits="userSpaceOnUse"><rect width="0.95" height="20" fill="#fff"/></pattern><mask id="mb" maskUnits="userSpaceOnUse" x="31" y="284" width="165" height="201"><rect x="31" y="284" width="165" height="201" fill="url(#pmb)"/></mask><clipPath id="cmb"><rect x="31" y="284" width="165" height="201"/></clipPath></defs><g clip-path="url(#cmb)" mask="url(#mb)"><path d="M31.0 296.2L35.2 296.5L39.5 296.9L43.7 297.2L47.9 297.6L52.2 298.1L56.4 298.5L60.6 299.0L64.8 299.4L69.1 299.9L73.3 300.4L77.5 301.0L81.8 301.6L86.0 302.2L90.2 302.9L94.5 303.5L98.7 304.2L102.9 304.9L107.2 305.6L111.4 306.3L115.6 306.9L119.8 307.7L124.1 308.6L128.3 309.5L132.5 310.3L136.8 311.2L141.0 311.9L145.2 312.5L149.5 312.9L153.7 313.1L157.9 313.1L162.2 313.1L166.4 313.1L170.6 313.1L174.8 313.1L179.1 313.1L183.3 313.1L187.5 313.1L191.8 313.1L196.0 313.1M31.0 297.5L35.2 297.9L39.5 298.4L43.7 299.0L47.9 299.6L52.2 300.2L56.4 300.9L60.6 301.6L64.8 302.4L69.1 303.2L73.3 304.0L77.5 305.0L81.8 306.0L86.0 307.1L90.2 308.3L94.5 309.6L98.7 310.8L102.9 312.0L107.2 313.2L111.4 314.3L115.6 315.2L119.8 316.2L124.1 317.1L128.3 317.9L132.5 318.8L136.8 319.6L141.0 320.4L145.2 321.2L149.5 322.1L153.7 322.9L157.9 323.7L162.2 324.3L166.4 324.6L170.6 324.6L174.8 324.6L179.1 324.6L183.3 324.6L187.5 324.6L191.8 324.6L196.0 324.6M31.0 324.6L35.2 324.6L39.5 324.6L43.7 324.6L47.9 324.6L52.2 324.6L56.4 324.6L60.6 324.6L64.8 324.6L69.1 324.6L73.3 324.6L77.5 324.6L81.8 324.6L86.0 324.6L90.2 324.6L94.5 324.6L98.7 324.6L102.9 324.6L107.2 324.6L111.4 324.6L115.6 324.6L119.8 324.6L124.1 324.6L128.3 324.6L132.5 324.6L136.8 324.6L141.0 324.6L145.2 324.6L149.5 324.6L153.7 324.6L157.9 324.6L162.2 324.6L166.4 324.6L170.6 324.6L174.8 324.6L179.1 324.6L183.3 324.6L187.5 324.6L191.8 324.6L196.0 324.6M31.0 342.1L35.2 341.3L39.5 340.5L43.7 339.7L47.9 339.0L52.2 338.2L56.4 337.5L60.6 336.8L64.8 336.1L69.1 335.5L73.3 334.8L77.5 334.2L81.8 333.6L86.0 333.1L90.2 332.5L94.5 332.0L98.7 331.5L102.9 331.0L107.2 330.6L111.4 330.2L115.6 329.8L119.8 329.4L124.1 329.1L128.3 328.7L132.5 328.4L136.8 328.1L141.0 327.8L145.2 327.6L149.5 327.3L153.7 327.1L157.9 326.9L162.2 326.7L166.4 326.6L170.6 326.4L174.8 326.2L179.1 326.1L183.3 325.9L187.5 325.8L191.8 325.7L196.0 325.6M31.0 345.6L35.2 345.0L39.5 344.5L43.7 343.9L47.9 343.4L52.2 342.9L56.4 342.4L60.6 341.9L64.8 341.5L69.1 341.0L73.3 340.5L77.5 340.1L81.8 339.7L86.0 339.3L90.2 338.9L94.5 338.5L98.7 338.1L102.9 337.7L107.2 337.4L111.4 337.0L115.6 336.7L119.8 336.4L124.1 336.1L128.3 335.8L132.5 335.5L136.8 335.2L141.0 335.0L145.2 334.7L149.5 334.5L153.7 334.3L157.9 334.1L162.2 333.9L166.4 333.8L170.6 333.6L174.8 333.4L179.1 333.3L183.3 333.1L187.5 333.0L191.8 332.9L196.0 332.8M31.0 351.5L35.2 351.5L39.5 351.6L43.7 351.6L47.9 351.6L52.2 351.7L56.4 351.7L60.6 351.7L64.8 351.8L69.1 351.8L73.3 351.8L77.5 351.9L81.8 351.9L86.0 352.0L90.2 352.0L94.5 352.0L98.7 352.1L102.9 352.1L107.2 352.1L111.4 352.2L115.6 352.2L119.8 352.3L124.1 352.3L128.3 352.3L132.5 352.4L136.8 352.4L141.0 352.4L145.2 352.5L149.5 352.5L153.7 352.5L157.9 352.6L162.2 352.6L166.4 352.7L170.6 352.7L174.8 352.7L179.1 352.8L183.3 352.8L187.5 352.8L191.8 352.9L196.0 352.9M168.9 357.2L174.4 352.2L179.8 348.9L185.2 346.0L190.6 341.7L196.0 335.4M31.0 378.3L35.2 378.8L39.5 379.4L43.7 380.0L47.9 380.7L52.2 381.4L56.4 382.2L60.6 383.0L64.8 384.1L69.1 385.4L73.3 386.7L77.5 387.8L81.8 388.8L86.0 389.3L90.2 389.6L94.5 389.9L98.7 390.2L102.9 390.4L107.2 390.6L111.4 390.7L115.6 390.7L119.8 390.6L124.1 390.5L128.3 390.3L132.5 390.1L136.8 389.8L141.0 389.6L145.2 389.4L149.5 389.3L153.7 389.2L157.9 389.2L162.2 389.2L166.4 389.2L170.6 389.2L174.8 389.2L179.1 389.2L183.3 389.2L187.5 389.2L191.8 389.2L196.0 389.2M31.0 381.8L35.2 381.9L39.5 382.2L43.7 382.7L47.9 383.3L52.2 384.1L56.4 384.9L60.6 385.8L64.8 387.2L69.1 388.9L73.3 390.9L77.5 392.8L81.8 394.8L86.0 396.9L90.2 399.1L94.5 401.3L98.7 403.6L102.9 405.9L107.2 408.1L111.4 410.0L115.6 411.4L119.8 412.7L124.1 413.7L128.3 414.5L132.5 414.8L136.8 415.1L141.0 415.4L145.2 415.6L149.5 415.8L153.7 416.0L157.9 416.0L162.2 416.1L166.4 416.1L170.6 416.1L174.8 416.1L179.1 416.1L183.3 416.1L187.5 416.1L191.8 416.1L196.0 416.1M31.0 388.8L35.2 389.1L39.5 389.5L43.7 389.8L47.9 390.2L52.2 390.5L56.4 390.8L60.6 391.1L64.8 391.4L69.1 391.7L73.3 391.9L77.5 392.2L81.8 392.4L86.0 392.6L90.2 392.8L94.5 392.9L98.7 393.0L102.9 393.1L107.2 393.2L111.4 393.3L115.6 393.3L119.8 393.3L124.1 393.3L128.3 393.3L132.5 393.3L136.8 393.3L141.0 393.3L145.2 393.3L149.5 393.3L153.7 393.3L157.9 393.3L162.2 393.3L166.4 393.3L170.6 393.3L174.8 393.3L179.1 393.3L183.3 393.3L187.5 393.3L191.8 393.3L196.0 393.3M31.0 382.5L35.2 382.9L39.5 383.5L43.7 384.3L47.9 385.2L52.2 386.2L56.4 387.3L60.6 388.5L64.8 389.8L69.1 391.3L73.3 393.1L77.5 395.1L81.8 397.3L86.0 399.6L90.2 401.8L94.5 404.3L98.7 407.0L102.9 409.7L107.2 412.2L111.4 414.4L115.6 416.4L119.8 418.4L124.1 420.3L128.3 422.2L132.5 423.9L136.8 425.4L141.0 426.8L145.2 428.0L149.5 429.0L153.7 430.0L157.9 431.0L162.2 431.8L166.4 432.3L170.6 432.6L174.8 432.6L179.1 432.6L183.3 432.6L187.5 432.6L191.8 432.6L196.0 432.6M31.0 380.6L35.2 381.0L39.5 381.6L43.7 382.4L47.9 383.3L52.2 384.3L56.4 385.5L60.6 386.7L64.8 387.9L69.1 389.4L73.3 391.2L77.5 393.3L81.8 395.5L86.0 397.7L90.2 399.9L94.5 402.4L98.7 405.1L102.9 407.8L107.2 410.3L111.4 412.5L115.6 414.5L119.8 416.5L124.1 418.5L128.3 420.3L132.5 422.0L136.8 423.6L141.0 424.9L145.2 426.1L149.5 427.1L153.7 428.2L157.9 429.1L162.2 429.9L166.4 430.5L170.6 430.7L174.8 430.7L179.1 430.7L183.3 430.7L187.5 430.7L191.8 430.7L196.0 430.7M31.0 378.9L35.2 379.3L39.5 379.9L43.7 380.7L47.9 381.6L52.2 382.6L56.4 383.7L60.6 384.9L64.8 386.2L69.1 387.7L73.3 389.5L77.5 391.6L81.8 393.7L86.0 396.0L90.2 398.2L94.5 400.7L98.7 403.4L102.9 406.1L107.2 408.6L111.4 410.8L115.6 412.8L119.8 414.8L124.1 416.7L128.3 418.6L132.5 420.3L136.8 421.8L141.0 423.2L145.2 424.4L149.5 425.4L153.7 426.4L157.9 427.4L162.2 428.2L166.4 428.8L170.6 429.0L174.8 429.0L179.1 429.0L183.3 429.0L187.5 429.0L191.8 429.0L196.0 429.0M31.0 377.2L35.2 377.6L39.5 378.2L43.7 378.9L47.9 379.9L52.2 380.9L56.4 382.0L60.6 383.2L64.8 384.5L69.1 386.0L73.3 387.8L77.5 389.8L81.8 392.0L86.0 394.2L90.2 396.5L94.5 399.0L98.7 401.7L102.9 404.4L107.2 406.9L111.4 409.1L115.6 411.1L119.8 413.1L124.1 415.0L128.3 416.8L132.5 418.5L136.8 420.1L141.0 421.5L145.2 422.7L149.5 423.7L153.7 424.7L157.9 425.7L162.2 426.5L166.4 427.0L170.6 427.3L174.8 427.3L179.1 427.3L183.3 427.3L187.5 427.3L191.8 427.3L196.0 427.3M31.0 397.4L35.2 397.7L39.5 398.0L43.7 398.3L47.9 398.6L52.2 399.0L56.4 399.3L60.6 399.6L64.8 400.0L69.1 400.3L73.3 400.6L77.5 401.0L81.8 401.4L86.0 401.7L90.2 402.1L94.5 402.4L98.7 402.8L102.9 403.2L107.2 403.6L111.4 403.9L115.6 404.3L119.8 404.7L124.1 405.2L128.3 405.6L132.5 406.0L136.8 406.5L141.0 406.9L145.2 407.3L149.5 407.7L153.7 408.1L157.9 408.4L162.2 408.8L166.4 409.1L170.6 409.4L174.8 409.7L179.1 409.9L183.3 410.2L187.5 410.5L191.8 410.7L196.0 410.9M168.9 424.7L174.2 415.2L179.4 410.2L184.7 405.8L189.9 400.9L195.2 396.0M31.0 416.9L35.2 416.8L39.5 416.8L43.7 416.8L47.9 416.8L52.2 416.7L56.4 416.7L60.6 416.7L64.8 416.7L69.1 416.7L73.3 416.7L77.5 416.8L81.8 416.8L86.0 416.8L90.2 416.8L94.5 416.9L98.7 416.9L102.9 417.0L107.2 417.0L111.4 417.1L115.6 417.2L119.8 417.3L124.1 417.4L128.3 417.4L132.5 417.5L136.8 417.6L141.0 417.6L145.2 417.7L149.5 417.8L153.7 417.8L157.9 417.9L162.2 418.0L166.4 418.0L170.6 418.1L174.8 418.1L179.1 418.2L183.3 418.2L187.5 418.3L191.8 418.3L196.0 418.4M31.0 414.1L35.2 414.1L39.5 414.1L43.7 414.1L47.9 414.1L52.2 414.1L56.4 414.1L60.6 414.1L64.8 414.1L69.1 414.1L73.3 414.1L77.5 414.0L81.8 414.0L86.0 413.9L90.2 413.9L94.5 413.9L98.7 413.9L102.9 413.9L107.2 413.9L111.4 413.9L115.6 413.9L119.8 414.0L124.1 414.0L128.3 414.0L132.5 414.0L136.8 414.0L141.0 413.9L145.2 413.9L149.5 413.9L153.7 413.9L157.9 413.8L162.2 413.8L166.4 413.8L170.6 413.8L174.8 413.8L179.1 413.8L183.3 413.8L187.5 413.8L191.8 413.9L196.0 413.9M31.0 409.9L35.2 409.9L39.5 409.9L43.7 409.9L47.9 409.9L52.2 409.9L56.4 410.0L60.6 410.0L64.8 410.0L69.1 410.0L73.3 410.0L77.5 410.0L81.8 410.0L86.0 410.1L90.2 410.1L94.5 410.1L98.7 410.1L102.9 410.2L107.2 410.2L111.4 410.3L115.6 410.3L119.8 410.4L124.1 410.4L128.3 410.5L132.5 410.5L136.8 410.5L141.0 410.6L145.2 410.6L149.5 410.6L153.7 410.7L157.9 410.7L162.2 410.7L166.4 410.7L170.6 410.6L174.8 410.5L179.1 410.4L183.3 410.2L187.5 410.0L191.8 409.8L196.0 409.5M31.0 407.0L35.2 407.1L39.5 407.1L43.7 407.1L47.9 407.1L52.2 407.2L56.4 407.2L60.6 407.2L64.8 407.2L69.1 407.3L73.3 407.3L77.5 407.4L81.8 407.4L86.0 407.5L90.2 407.5L94.5 407.5L98.7 407.5L102.9 407.4L107.2 407.1L111.4 406.9L115.6 406.6L119.8 406.3L124.1 406.1L128.3 405.9L132.5 405.9L136.8 406.1L141.0 406.3L145.2 406.6L149.5 406.9L153.7 407.1L157.9 407.3L162.2 407.4L166.4 407.4L170.6 407.4L174.8 407.4L179.1 407.4L183.3 407.3L187.5 407.3L191.8 407.2L196.0 407.1M31.0 468.1L35.2 467.9L39.5 467.6L43.7 467.3L47.9 467.0L52.2 466.8L56.4 466.5L60.6 466.3L64.8 466.1L69.1 465.9L73.3 465.8L77.5 465.7L81.8 465.6L86.0 465.6L90.2 465.6L94.5 465.6L98.7 465.6L102.9 465.6L107.2 465.6L111.4 465.6L115.6 465.6L119.8 465.6L124.1 465.6L128.3 465.6L132.5 465.6L136.8 465.6L141.0 465.6L145.2 465.7L149.5 465.7L153.7 465.8L157.9 465.9L162.2 466.0L166.4 466.2L170.6 466.3L174.8 466.5L179.1 466.7L183.3 466.9L187.5 467.1L191.8 467.3L196.0 467.5M31.0 463.9L35.2 463.9L39.5 463.9L43.7 463.8L47.9 463.8L52.2 463.8L56.4 463.8L60.6 463.7L64.8 463.7L69.1 463.7L73.3 463.6L77.5 463.6L81.8 463.5L86.0 463.5L90.2 463.4L94.5 463.4L98.7 463.3L102.9 463.2L107.2 463.1L111.4 462.9L115.6 462.8L119.8 462.7L124.1 462.6L128.3 462.6L132.5 462.5L136.8 462.5L141.0 462.4L145.2 462.5L149.5 462.5L153.7 462.5L157.9 462.5L162.2 462.6L166.4 462.6L170.6 462.7L174.8 462.8L179.1 462.9L183.3 463.0L187.5 463.1L191.8 463.2L196.0 463.3M31.0 460.6L35.2 460.4L39.5 460.2L43.7 460.1L47.9 459.9L52.2 459.8L56.4 459.7L60.6 459.6L64.8 459.5L69.1 459.4L73.3 459.3L77.5 459.3L81.8 459.2L86.0 459.2L90.2 459.3L94.5 459.3L98.7 459.4L102.9 459.4L107.2 459.5L111.4 459.6L115.6 459.8L119.8 459.9L124.1 460.0L128.3 460.0L132.5 460.1L136.8 460.1L141.0 460.2L145.2 460.1L149.5 460.0L153.7 459.9L157.9 459.7L162.2 459.5L166.4 459.2L170.6 458.9L174.8 458.6L179.1 458.2L183.3 457.8L187.5 457.4L191.8 456.9L196.0 456.5M31.0 452.5L35.2 453.2L39.5 453.8L43.7 454.4L47.9 454.9L52.2 455.4L56.4 455.8L60.6 456.2L64.8 456.5L69.1 456.7L73.3 457.0L77.5 457.1L81.8 457.2L86.0 457.2L90.2 457.2L94.5 457.0L98.7 456.8L102.9 456.5L107.2 456.1L111.4 455.7L115.6 455.3L119.8 454.9L124.1 454.6L128.3 454.3L132.5 454.0L136.8 453.9L141.0 453.8L145.2 453.8L149.5 453.8L153.7 453.8L157.9 453.8L162.2 453.9L166.4 453.9L170.6 453.9L174.8 454.0L179.1 454.0L183.3 454.1L187.5 454.2L191.8 454.3L196.0 454.5M31.0 449.2L35.2 449.3L39.5 449.4L43.7 449.5L47.9 449.6L52.2 449.7L56.4 449.8L60.6 449.9L64.8 450.0L69.1 450.1L73.3 450.2L77.5 450.3L81.8 450.3L86.0 450.4L90.2 450.5L94.5 450.5L98.7 450.6L102.9 450.7L107.2 450.7L111.4 450.8L115.6 450.8L119.8 450.9L124.1 450.9L128.3 451.0L132.5 451.0L136.8 451.0L141.0 451.0L145.2 451.0L149.5 451.0L153.7 451.0L157.9 450.9L162.2 450.9L166.4 450.8L170.6 450.8L174.8 450.7L179.1 450.6L183.3 450.5L187.5 450.4L191.8 450.3L196.0 450.2M31.0 448.3L35.2 448.1L39.5 447.9L43.7 447.8L47.9 447.7L52.2 447.5L56.4 447.4L60.6 447.3L64.8 447.1L69.1 447.0L73.3 446.9L77.5 446.8L81.8 446.7L86.0 446.7L90.2 446.6L94.5 446.5L98.7 446.4L102.9 446.4L107.2 446.3L111.4 446.2L115.6 446.2L119.8 446.1L124.1 446.1L128.3 446.0L132.5 446.0L136.8 446.0L141.0 446.0L145.2 446.0L149.5 446.0L153.7 446.1L157.9 446.2L162.2 446.3L166.4 446.5L170.6 446.6L174.8 446.8L179.1 447.0L183.3 447.2L187.5 447.4L191.8 447.6L196.0 447.8M31.0 441.8L35.2 441.9L39.5 442.0L43.7 442.1L47.9 442.2L52.2 442.3L56.4 442.3L60.6 442.4L64.8 442.4L69.1 442.5L73.3 442.5L77.5 442.5L81.8 442.5L86.0 442.5L90.2 442.5L94.5 442.5L98.7 442.4L102.9 442.3L107.2 442.2L111.4 442.1L115.6 442.0L119.8 441.9L124.1 441.8L128.3 441.7L132.5 441.6L136.8 441.6L141.0 441.6L145.2 441.6L149.5 441.7L153.7 441.9L157.9 442.1L162.2 442.4L166.4 442.7L170.6 443.0L174.8 443.4L179.1 443.8L183.3 444.3L187.5 444.8L191.8 445.3L196.0 445.8M31.0 440.4L35.2 440.1L39.5 439.8L43.7 439.5L47.9 439.3L52.2 439.1L56.4 438.9L60.6 438.7L64.8 438.5L69.1 438.4L73.3 438.3L77.5 438.2L81.8 438.2L86.0 438.2L90.2 438.2L94.5 438.3L98.7 438.4L102.9 438.5L107.2 438.7L111.4 438.9L115.6 439.0L119.8 439.2L124.1 439.4L128.3 439.5L132.5 439.6L136.8 439.7L141.0 439.7L145.2 439.7L149.5 439.7L153.7 439.7L157.9 439.6L162.2 439.6L166.4 439.5L170.6 439.4L174.8 439.3L179.1 439.2L183.3 439.1L187.5 439.0L191.8 438.8L196.0 438.6M31.0 434.5L35.2 434.9L39.5 435.4L43.7 435.9L47.9 436.3L52.2 436.7L56.4 437.1L60.6 437.4L64.8 437.8L69.1 438.0L73.3 438.2L77.5 438.4L81.8 438.5L86.0 438.5L90.2 438.5L94.5 438.5L98.7 438.5L102.9 438.5L107.2 438.5L111.4 438.5L115.6 438.4L119.8 438.4L124.1 438.4L128.3 438.3L132.5 438.3L136.8 438.3L141.0 438.2L145.2 438.2L149.5 438.1L153.7 437.9L157.9 437.7L162.2 437.5L166.4 437.3L170.6 437.0L174.8 436.7L179.1 436.4L183.3 436.0L187.5 435.7L191.8 435.3L196.0 435.0M31.0 431.2L35.2 431.2L39.5 431.2L43.7 431.3L47.9 431.3L52.2 431.4L56.4 431.4L60.6 431.5L64.8 431.6L69.1 431.6L73.3 431.7L77.5 431.8L81.8 431.9L86.0 432.0L90.2 432.1L94.5 432.2L98.7 432.4L102.9 432.6L107.2 432.8L111.4 433.1L115.6 433.3L119.8 433.5L124.1 433.7L128.3 433.9L132.5 434.0L136.8 434.1L141.0 434.1L145.2 434.1L149.5 434.1L153.7 434.1L157.9 434.1L162.2 434.1L166.4 434.0L170.6 434.0L174.8 434.0L179.1 433.9L183.3 433.8L187.5 433.7L191.8 433.6L196.0 433.5M31.0 429.2L35.2 429.2L39.5 429.3L43.7 429.3L47.9 429.4L52.2 429.5L56.4 429.5L60.6 429.6L64.8 429.6L69.1 429.6L73.3 429.7L77.5 429.7L81.8 429.7L86.0 429.7L90.2 429.8L94.5 429.8L98.7 429.8L102.9 429.8L107.2 429.8L111.4 429.8L115.6 429.8L119.8 429.8L124.1 429.8L128.3 429.8L132.5 429.8L136.8 429.8L141.0 429.8L145.2 429.8L149.5 429.9L153.7 429.9L157.9 429.9L162.2 429.9L166.4 429.9L170.6 429.9L174.8 430.0L179.1 430.0L183.3 430.0L187.5 430.0L191.8 430.0L196.0 430.1M31.0 424.2L35.2 424.7L39.5 425.2L43.7 425.6L47.9 426.0L52.2 426.3L56.4 426.7L60.6 426.9L64.8 427.2L69.1 427.4L73.3 427.5L77.5 427.7L81.8 427.7L86.0 427.8L90.2 427.7L94.5 427.6L98.7 427.4L102.9 427.2L107.2 426.9L111.4 426.6L115.6 426.3L119.8 426.0L124.1 425.8L128.3 425.5L132.5 425.3L136.8 425.2L141.0 425.2L145.2 425.2L149.5 425.1L153.7 425.1L157.9 425.1L162.2 425.1L166.4 425.1L170.6 425.1L174.8 425.1L179.1 425.1L183.3 425.1L187.5 425.1L191.8 425.1L196.0 425.1M31.0 420.3L35.2 421.0L39.5 421.6L43.7 422.1L47.9 422.6L52.2 423.1L56.4 423.5L60.6 423.9L64.8 424.2L69.1 424.4L73.3 424.7L77.5 424.8L81.8 424.9L86.0 424.9L90.2 424.9L94.5 424.7L98.7 424.5L102.9 424.2L107.2 423.9L111.4 423.5L115.6 423.2L119.8 422.8L124.1 422.5L128.3 422.2L132.5 422.0L136.8 421.8L141.0 421.8L145.2 421.8L149.5 421.8L153.7 421.8L157.9 421.8L162.2 421.8L166.4 421.8L170.6 421.8L174.8 421.8L179.1 421.8L183.3 421.8L187.5 421.8L191.8 421.8L196.0 421.8M31.0 419.2L35.2 419.4L39.5 419.6L43.7 419.9L47.9 420.1L52.2 420.3L56.4 420.5L60.6 420.7L64.8 420.8L69.1 421.0L73.3 421.1L77.5 421.2L81.8 421.2L86.0 421.3L90.2 421.3L94.5 421.3L98.7 421.3L102.9 421.3L107.2 421.3L111.4 421.3L115.6 421.3L119.8 421.3L124.1 421.3L128.3 421.3L132.5 421.3L136.8 421.3L141.0 421.3L145.2 421.3L149.5 421.3L153.7 421.3L157.9 421.3L162.2 421.2L166.4 421.2L170.6 421.1L174.8 421.0L179.1 421.0L183.3 420.9L187.5 420.8L191.8 420.7L196.0 420.7M31.0 467.8L35.3 467.8L39.6 467.8L43.9 467.9L48.2 468.0L52.6 468.1L56.9 468.2L61.2 468.4L65.5 468.5L69.8 468.7L74.1 468.9L78.4 469.1L82.7 469.4L87.0 469.6L91.3 469.9L95.7 470.1L100.0 470.4L104.3 470.7L108.6 471.0L112.9 471.3L117.2 471.7L121.5 472.0L125.8 472.5L130.1 473.0L134.5 473.7L138.8 474.4L143.1 475.2L147.4 476.1L151.7 477.1L156.0 478.2L160.3 480.0L164.6 482.4L168.9 485.0M97.0 466.3L101.5 466.4L106.0 466.7L110.5 467.2L115.0 467.8L119.5 468.6L124.0 469.4L128.5 470.4L133.0 471.5L137.5 472.6L142.0 473.8L146.5 474.9L151.0 476.4L155.5 478.2L159.9 480.3L164.4 482.6L168.9 485.0M168.9 485.0L174.4 480.7L179.8 476.8L185.2 473.6L190.6 470.8L196.0 468.5M168.9 485.0L174.4 483.2L179.8 481.5L185.2 479.7L190.6 478.1L196.0 476.4M168.9 485.0L174.4 479.3L179.8 473.9L185.2 468.7L190.6 463.8L196.0 459.2" fill="none" stroke="#000" stroke-width="0.9" stroke-opacity="0.55"/></g><path d="M169.00 485v-5M169.00 284v5M31 485.00h5M196 485.00h-5M31 456.29h5M196 456.29h-5M31 427.57h5M196 427.57h-5M31 398.86h5M196 398.86h-5M31 370.14h5M196 370.14h-5M31 341.43h5M196 341.43h-5M31 312.71h5M196 312.71h-5M31 284.00h5M196 284.00h-5" stroke="#000" stroke-width="1.1" fill="none"/><path d="M31 470.64h3M196 470.64h-3M31 441.93h3M196 441.93h-3M31 413.21h3M196 413.21h-3M31 384.50h3M196 384.50h-3M31 355.79h3M196 355.79h-3M31 327.07h3M196 327.07h-3M31 298.36h3M196 298.36h-3" stroke="#000" stroke-width="0.9" fill="none"/><rect x="31" y="284" width="165" height="201" fill="none" stroke="#000" stroke-width="1.2"/><text x="26" y="488.78" font-size="10.5" text-anchor="end" font-weight="normal">0</text><text x="26" y="460.06571428571425" font-size="10.5" text-anchor="end" font-weight="normal">2</text><text x="26" y="431.3514285714285" font-size="10.5" text-anchor="end" font-weight="normal">4</text><text x="26" y="402.63714285714286" font-size="10.5" text-anchor="end" font-weight="normal">6</text><text x="26" y="373.9228571428571" font-size="10.5" text-anchor="end" font-weight="normal">8</text><text x="26" y="345.2085714285714" font-size="10.5" text-anchor="end" font-weight="normal">10</text><text x="26" y="316.4942857142857" font-size="10.5" text-anchor="end" font-weight="normal">12</text><text x="26" y="287.78" font-size="10.5" text-anchor="end" font-weight="normal">14</text><text x="31.5" y="497.7" font-size="11.5" text-anchor="middle" font-weight="normal">X</text><text x="169.7" y="497.7" font-size="11.5" text-anchor="middle" font-weight="normal">&#915;</text><text x="194.4" y="497.7" font-size="11.5" text-anchor="middle" font-weight="normal">Z</text><text x="10.7" y="384.5" font-size="11.5" text-anchor="middle" font-weight="normal" transform="rotate(-90 10.7 384.5)">Frequency (THz)</text><text x="33.3" y="274.4" font-size="13.7" text-anchor="start" font-weight="bold">b Ba<tspan dx="0.8" dy="2.3" font-size="9.5" font-weight="normal">3</tspan><tspan dx="0.8" dy="-2.3">Zr</tspan><tspan dx="0.8" dy="2.3" font-size="9.5" font-weight="normal">2</tspan><tspan dx="0.8" dy="-2.3">S</tspan><tspan dx="0.8" dy="2.3" font-size="9.5" font-weight="normal">7</tspan><tspan dx="0.8" dy="-2.3"> SED</tspan></text><defs><linearGradient id="cb284" x1="0" y1="0" x2="0" y2="1"><stop offset="0.00" stop-color="#fcffa4"/><stop offset="0.05" stop-color="#f1ef75"/><stop offset="0.10" stop-color="#f6d746"/><stop offset="0.15" stop-color="#fbbe23"/><stop offset="0.20" stop-color="#fca50a"/><stop offset="0.25" stop-color="#f98e09"/><stop offset="0.30" stop-color="#f37819"/><stop offset="0.35" stop-color="#ea632a"/><stop offset="0.40" stop-color="#dd513a"/><stop offset="0.45" stop-color="#cc4248"/><stop offset="0.50" stop-color="#bc3754"/><stop offset="0.55" stop-color="#a82e5f"/><stop offset="0.60" stop-color="#932667"/><stop offset="0.65" stop-color="#7f1e6c"/><stop offset="0.70" stop-color="#6a176e"/><stop offset="0.75" stop-color="#57106e"/><stop offset="0.80" stop-color="#420a68"/><stop offset="0.85" stop-color="#2b0b57"/><stop offset="0.90" stop-color="#160b39"/><stop offset="0.95" stop-color="#07051b"/><stop offset="1.00" stop-color="#000004"/></linearGradient></defs><path d="M199 293L202.0 282L205 293Z" fill="#fcffa4" stroke="#000" stroke-width="1"/><path d="M199 475L202.0 486.5L205 475Z" fill="#000004" stroke="#000" stroke-width="1"/><rect x="199" y="293" width="6" height="182" fill="url(#cb284)" stroke="#000" stroke-width="1"/><path d="M205 456.74h-2.2M205 446.05h-2.2M205 438.48h-2.2M205 432.60h-2.2M205 427.79h-2.2M205 423.73h-2.2M205 420.21h-2.2M205 417.11h-2.2M205 396.07h-2.2M205 385.39h-2.2M205 377.81h-2.2M205 371.93h-2.2M205 367.13h-2.2M205 363.06h-2.2M205 359.55h-2.2M205 356.44h-2.2M205 335.40h-2.2M205 324.72h-2.2M205 317.14h-2.2M205 311.26h-2.2M205 306.46h-2.2M205 302.40h-2.2M205 298.88h-2.2M205 295.78h-2.2M205 293.00h-3.5M205 353.67h-3.5M205 414.33h-3.5M205 475.00h-3.5" stroke="#000" stroke-width="0.8"/><text x="210" y="298.4" font-size="10.5" text-anchor="start" font-weight="normal">10<tspan dy="-8" font-size="7.9">&#8722;3</tspan></text><text x="210" y="359.06666666666666" font-size="10.5" text-anchor="start" font-weight="normal">10<tspan dy="-8" font-size="7.9">&#8722;4</tspan></text><text x="210" y="419.7333333333333" font-size="10.5" text-anchor="start" font-weight="normal">10<tspan dy="-8" font-size="7.9">&#8722;5</tspan></text><text x="210" y="480.4" font-size="10.5" text-anchor="start" font-weight="normal">10<tspan dy="-8" font-size="7.9">&#8722;6</tspan></text><text x="239" y="384" font-size="11.5" text-anchor="middle" font-weight="normal" transform="rotate(-90 239 384)">SED (J s)</text><clipPath id="clipc"><rect x="296" y="22" width="161" height="201"/></clipPath><g clip-path="url(#clipc)"><g fill="none" stroke="#0000ff" stroke-opacity="0.35" stroke-width="0.9"><circle cx="309.4" cy="200.5" r="1.5"/><circle cx="297.7" cy="180.6" r="1.5"/><circle cx="313.4" cy="213.7" r="1.5"/><circle cx="304.4" cy="216.7" r="1.5"/><circle cx="314.3" cy="181.5" r="1.5"/><circle cx="310.3" cy="189.6" r="1.5"/><circle cx="301.4" cy="211.3" r="1.5"/><circle cx="299.0" cy="202.2" r="1.5"/><circle cx="314.5" cy="185.8" r="1.5"/><circle cx="313.4" cy="197.9" r="1.5"/><circle cx="298.2" cy="178.9" r="1.5"/><circle cx="301.5" cy="221.7" r="1.5"/><circle cx="309.5" cy="200.9" r="1.5"/><circle cx="314.6" cy="199.1" r="1.5"/><circle cx="318.9" cy="212.4" r="1.5"/><circle cx="306.7" cy="189.9" r="1.5"/><circle cx="319.9" cy="189.2" r="1.5"/><circle cx="317.8" cy="213.5" r="1.5"/><circle cx="309.9" cy="218.1" r="1.5"/><circle cx="299.3" cy="177.1" r="1.5"/><circle cx="313.8" cy="216.5" r="1.5"/><circle cx="300.8" cy="185.8" r="1.5"/><circle cx="313.1" cy="180.2" r="1.5"/><circle cx="313.8" cy="196.4" r="1.5"/><circle cx="313.3" cy="198.1" r="1.5"/><circle cx="298.0" cy="183.2" r="1.5"/><circle cx="310.8" cy="178.0" r="1.5"/><circle cx="309.0" cy="178.9" r="1.5"/><circle cx="298.3" cy="180.9" r="1.5"/><circle cx="307.6" cy="215.9" r="1.5"/><circle cx="319.8" cy="195.9" r="1.5"/><circle cx="308.1" cy="203.9" r="1.5"/><circle cx="304.8" cy="177.9" r="1.5"/><circle cx="298.2" cy="203.9" r="1.5"/><circle cx="316.5" cy="205.5" r="1.5"/><circle cx="312.6" cy="193.2" r="1.5"/><circle cx="312.8" cy="182.5" r="1.5"/><circle cx="312.8" cy="198.5" r="1.5"/><circle cx="315.8" cy="206.4" r="1.5"/><circle cx="313.7" cy="196.8" r="1.5"/><circle cx="304.2" cy="183.4" r="1.5"/><circle cx="298.2" cy="217.2" r="1.5"/><circle cx="298.9" cy="202.4" r="1.5"/><circle cx="312.1" cy="190.9" r="1.5"/><circle cx="297.3" cy="214.1" r="1.5"/><circle cx="306.2" cy="199.6" r="1.5"/><circle cx="314.1" cy="205.8" r="1.5"/><circle cx="313.7" cy="189.1" r="1.5"/><circle cx="306.9" cy="184.0" r="1.5"/><circle cx="300.5" cy="178.5" r="1.5"/><circle cx="319.7" cy="189.6" r="1.5"/><circle cx="314.6" cy="217.7" r="1.5"/><circle cx="313.8" cy="191.4" r="1.5"/><circle cx="319.6" cy="208.8" r="1.5"/><circle cx="302.7" cy="213.2" r="1.5"/><circle cx="315.3" cy="191.7" r="1.5"/><circle cx="301.8" cy="207.6" r="1.5"/><circle cx="317.3" cy="190.4" r="1.5"/><circle cx="307.5" cy="189.8" r="1.5"/><circle cx="302.8" cy="204.7" r="1.5"/><circle cx="306.4" cy="204.9" r="1.5"/><circle cx="305.7" cy="189.8" r="1.5"/><circle cx="301.7" cy="221.4" r="1.5"/><circle cx="297.6" cy="199.4" r="1.5"/><circle cx="312.0" cy="177.0" r="1.5"/><circle cx="314.1" cy="216.1" r="1.5"/><circle cx="313.7" cy="185.3" r="1.5"/><circle cx="318.8" cy="201.0" r="1.5"/><circle cx="305.6" cy="214.6" r="1.5"/><circle cx="302.9" cy="211.0" r="1.5"/><circle cx="298.1" cy="216.3" r="1.5"/><circle cx="303.6" cy="201.0" r="1.5"/><circle cx="318.9" cy="221.6" r="1.5"/><circle cx="298.5" cy="218.4" r="1.5"/><circle cx="309.4" cy="219.3" r="1.5"/><circle cx="310.1" cy="185.2" r="1.5"/><circle cx="312.5" cy="195.1" r="1.5"/><circle cx="312.1" cy="197.6" r="1.5"/><circle cx="302.3" cy="208.7" r="1.5"/><circle cx="316.2" cy="215.8" r="1.5"/><circle cx="304.3" cy="202.5" r="1.5"/><circle cx="299.0" cy="188.0" r="1.5"/><circle cx="316.6" cy="215.6" r="1.5"/><circle cx="318.4" cy="206.5" r="1.5"/><circle cx="319.0" cy="192.4" r="1.5"/><circle cx="300.9" cy="181.2" r="1.5"/><circle cx="302.4" cy="218.5" r="1.5"/><circle cx="314.7" cy="217.9" r="1.5"/><circle cx="311.5" cy="194.7" r="1.5"/><circle cx="304.5" cy="191.0" r="1.5"/><circle cx="312.4" cy="212.3" r="1.5"/><circle cx="300.1" cy="208.5" r="1.5"/><circle cx="297.1" cy="204.5" r="1.5"/><circle cx="307.9" cy="182.0" r="1.5"/><circle cx="317.1" cy="198.3" r="1.5"/><circle cx="305.9" cy="193.3" r="1.5"/><circle cx="303.4" cy="194.3" r="1.5"/><circle cx="320.6" cy="209.6" r="1.5"/><circle cx="309.5" cy="195.1" r="1.5"/><circle cx="298.6" cy="203.1" r="1.5"/><circle cx="314.3" cy="194.5" r="1.5"/><circle cx="313.4" cy="208.6" r="1.5"/><circle cx="300.6" cy="202.4" r="1.5"/><circle cx="316.2" cy="219.7" r="1.5"/><circle cx="299.5" cy="194.4" r="1.5"/><circle cx="307.5" cy="203.0" r="1.5"/><circle cx="305.9" cy="191.8" r="1.5"/><circle cx="304.4" cy="201.6" r="1.5"/><circle cx="301.4" cy="220.4" r="1.5"/><circle cx="313.6" cy="217.2" r="1.5"/><circle cx="311.5" cy="196.6" r="1.5"/><circle cx="316.0" cy="180.9" r="1.5"/><circle cx="305.2" cy="184.8" r="1.5"/><circle cx="302.6" cy="210.1" r="1.5"/><circle cx="319.6" cy="195.9" r="1.5"/><circle cx="297.7" cy="201.6" r="1.5"/><circle cx="305.1" cy="197.2" r="1.5"/><circle cx="297.6" cy="187.6" r="1.5"/><circle cx="317.6" cy="192.3" r="1.5"/><circle cx="310.8" cy="206.6" r="1.5"/><circle cx="317.7" cy="213.7" r="1.5"/><circle cx="315.4" cy="186.3" r="1.5"/><circle cx="304.3" cy="213.3" r="1.5"/><circle cx="310.7" cy="184.4" r="1.5"/><circle cx="297.3" cy="188.6" r="1.5"/><circle cx="306.4" cy="212.1" r="1.5"/><circle cx="318.5" cy="209.8" r="1.5"/><circle cx="313.1" cy="213.3" r="1.5"/><circle cx="298.5" cy="211.0" r="1.5"/><circle cx="298.6" cy="178.6" r="1.5"/><circle cx="314.5" cy="184.6" r="1.5"/><circle cx="298.7" cy="178.9" r="1.5"/><circle cx="305.2" cy="200.8" r="1.5"/><circle cx="302.0" cy="218.2" r="1.5"/><circle cx="303.2" cy="206.7" r="1.5"/><circle cx="315.2" cy="221.9" r="1.5"/><circle cx="315.9" cy="190.1" r="1.5"/><circle cx="305.0" cy="209.2" r="1.5"/><circle cx="304.7" cy="191.0" r="1.5"/><circle cx="313.6" cy="191.8" r="1.5"/><circle cx="299.9" cy="200.6" r="1.5"/><circle cx="301.4" cy="195.4" r="1.5"/><circle cx="319.5" cy="194.2" r="1.5"/><circle cx="312.2" cy="186.3" r="1.5"/><circle cx="311.6" cy="206.3" r="1.5"/><circle cx="316.7" cy="187.6" r="1.5"/><circle cx="303.7" cy="186.9" r="1.5"/><circle cx="307.7" cy="201.5" r="1.5"/><circle cx="318.2" cy="221.9" r="1.5"/><circle cx="306.0" cy="177.0" r="1.5"/><circle cx="316.7" cy="198.1" r="1.5"/><circle cx="314.6" cy="203.8" r="1.5"/><circle cx="312.6" cy="216.7" r="1.5"/><circle cx="309.8" cy="181.8" r="1.5"/><circle cx="300.0" cy="220.7" r="1.5"/><circle cx="302.5" cy="183.3" r="1.5"/><circle cx="312.9" cy="195.9" r="1.5"/><circle cx="314.1" cy="207.4" r="1.5"/><circle cx="309.0" cy="178.3" r="1.5"/><circle cx="318.3" cy="182.5" r="1.5"/><circle cx="307.3" cy="217.6" r="1.5"/><circle cx="319.5" cy="200.9" r="1.5"/><circle cx="317.7" cy="206.2" r="1.5"/><circle cx="308.5" cy="194.2" r="1.5"/><circle cx="299.9" cy="194.1" r="1.5"/><circle cx="307.4" cy="195.6" r="1.5"/><circle cx="304.3" cy="216.5" r="1.5"/><circle cx="313.1" cy="192.4" r="1.5"/><circle cx="317.3" cy="187.6" r="1.5"/><circle cx="320.8" cy="220.3" r="1.5"/></g><g fill="none" stroke="#0000ff" stroke-opacity="0.55" stroke-width="0.9"><circle cx="312.0" cy="209.4" r="1.5"/><circle cx="306.0" cy="211.5" r="1.5"/><circle cx="311.6" cy="214.6" r="1.5"/><circle cx="303.3" cy="195.2" r="1.5"/><circle cx="307.2" cy="202.2" r="1.5"/><circle cx="309.8" cy="217.9" r="1.5"/><circle cx="303.6" cy="197.1" r="1.5"/><circle cx="316.2" cy="196.0" r="1.5"/><circle cx="310.4" cy="193.2" r="1.5"/><circle cx="302.6" cy="187.8" r="1.5"/><circle cx="311.0" cy="184.1" r="1.5"/><circle cx="312.1" cy="212.3" r="1.5"/><circle cx="305.0" cy="190.7" r="1.5"/><circle cx="311.5" cy="218.2" r="1.5"/><circle cx="310.3" cy="198.6" r="1.5"/><circle cx="310.3" cy="219.6" r="1.5"/><circle cx="317.0" cy="189.8" r="1.5"/><circle cx="310.4" cy="202.7" r="1.5"/><circle cx="307.0" cy="185.8" r="1.5"/><circle cx="311.5" cy="198.7" r="1.5"/><circle cx="318.2" cy="214.5" r="1.5"/><circle cx="302.6" cy="210.9" r="1.5"/><circle cx="306.9" cy="207.0" r="1.5"/><circle cx="305.7" cy="221.4" r="1.5"/><circle cx="305.4" cy="215.0" r="1.5"/><circle cx="312.0" cy="211.1" r="1.5"/><circle cx="309.1" cy="217.4" r="1.5"/><circle cx="314.0" cy="195.5" r="1.5"/><circle cx="307.2" cy="211.6" r="1.5"/><circle cx="312.5" cy="191.5" r="1.5"/><circle cx="319.7" cy="198.6" r="1.5"/><circle cx="314.3" cy="194.9" r="1.5"/><circle cx="313.0" cy="197.6" r="1.5"/><circle cx="307.3" cy="184.0" r="1.5"/><circle cx="307.0" cy="202.0" r="1.5"/><circle cx="307.8" cy="197.2" r="1.5"/><circle cx="309.9" cy="184.4" r="1.5"/><circle cx="304.5" cy="188.2" r="1.5"/><circle cx="316.0" cy="209.4" r="1.5"/><circle cx="302.7" cy="203.8" r="1.5"/><circle cx="315.4" cy="194.7" r="1.5"/><circle cx="308.2" cy="197.9" r="1.5"/><circle cx="319.5" cy="204.0" r="1.5"/><circle cx="318.2" cy="190.1" r="1.5"/><circle cx="305.7" cy="186.2" r="1.5"/><circle cx="302.2" cy="206.4" r="1.5"/><circle cx="314.2" cy="195.5" r="1.5"/><circle cx="314.6" cy="215.0" r="1.5"/><circle cx="308.6" cy="190.0" r="1.5"/><circle cx="302.0" cy="208.1" r="1.5"/><circle cx="313.6" cy="204.2" r="1.5"/><circle cx="307.3" cy="186.3" r="1.5"/><circle cx="303.8" cy="221.2" r="1.5"/><circle cx="300.6" cy="202.0" r="1.5"/><circle cx="301.1" cy="209.2" r="1.5"/><circle cx="304.4" cy="221.2" r="1.5"/><circle cx="307.8" cy="221.1" r="1.5"/><circle cx="313.1" cy="211.1" r="1.5"/><circle cx="315.2" cy="210.7" r="1.5"/><circle cx="309.8" cy="199.2" r="1.5"/><circle cx="311.4" cy="185.7" r="1.5"/><circle cx="316.6" cy="220.3" r="1.5"/><circle cx="303.2" cy="196.0" r="1.5"/><circle cx="311.2" cy="194.6" r="1.5"/><circle cx="307.5" cy="217.9" r="1.5"/><circle cx="301.2" cy="207.3" r="1.5"/><circle cx="316.4" cy="194.5" r="1.5"/><circle cx="302.3" cy="208.0" r="1.5"/><circle cx="314.4" cy="207.7" r="1.5"/><circle cx="317.0" cy="212.7" r="1.5"/><circle cx="319.2" cy="212.3" r="1.5"/><circle cx="316.6" cy="212.1" r="1.5"/><circle cx="316.7" cy="199.6" r="1.5"/><circle cx="309.5" cy="209.7" r="1.5"/><circle cx="304.8" cy="200.6" r="1.5"/><circle cx="306.1" cy="219.3" r="1.5"/><circle cx="316.4" cy="204.0" r="1.5"/><circle cx="309.3" cy="202.5" r="1.5"/><circle cx="307.4" cy="219.4" r="1.5"/><circle cx="311.0" cy="191.8" r="1.5"/><circle cx="312.6" cy="209.1" r="1.5"/><circle cx="310.9" cy="203.8" r="1.5"/><circle cx="301.1" cy="211.8" r="1.5"/><circle cx="308.6" cy="219.1" r="1.5"/><circle cx="314.5" cy="212.1" r="1.5"/><circle cx="311.8" cy="197.4" r="1.5"/><circle cx="313.0" cy="196.7" r="1.5"/><circle cx="311.4" cy="217.9" r="1.5"/><circle cx="305.5" cy="208.3" r="1.5"/><circle cx="319.7" cy="193.8" r="1.5"/><circle cx="312.4" cy="194.5" r="1.5"/><circle cx="313.6" cy="218.7" r="1.5"/><circle cx="301.0" cy="217.1" r="1.5"/><circle cx="304.7" cy="189.1" r="1.5"/><circle cx="318.2" cy="206.0" r="1.5"/><circle cx="309.0" cy="190.5" r="1.5"/><circle cx="305.0" cy="203.7" r="1.5"/><circle cx="310.1" cy="192.8" r="1.5"/><circle cx="317.4" cy="197.4" r="1.5"/><circle cx="315.2" cy="214.0" r="1.5"/><circle cx="312.3" cy="203.2" r="1.5"/><circle cx="303.8" cy="208.4" r="1.5"/><circle cx="315.0" cy="202.0" r="1.5"/><circle cx="313.7" cy="215.6" r="1.5"/><circle cx="311.0" cy="211.0" r="1.5"/><circle cx="308.1" cy="215.1" r="1.5"/><circle cx="317.1" cy="210.9" r="1.5"/><circle cx="306.2" cy="198.8" r="1.5"/><circle cx="307.6" cy="195.2" r="1.5"/><circle cx="307.2" cy="217.3" r="1.5"/><circle cx="301.4" cy="207.7" r="1.5"/><circle cx="317.5" cy="216.2" r="1.5"/><circle cx="318.8" cy="195.0" r="1.5"/><circle cx="307.0" cy="186.6" r="1.5"/><circle cx="301.4" cy="197.3" r="1.5"/><circle cx="315.2" cy="187.1" r="1.5"/><circle cx="310.4" cy="200.8" r="1.5"/><circle cx="309.7" cy="209.5" r="1.5"/><circle cx="307.9" cy="187.9" r="1.5"/><circle cx="315.8" cy="214.3" r="1.5"/><circle cx="310.3" cy="193.7" r="1.5"/><circle cx="316.3" cy="200.3" r="1.5"/><circle cx="313.2" cy="189.0" r="1.5"/><circle cx="305.2" cy="191.3" r="1.5"/><circle cx="318.2" cy="196.8" r="1.5"/><circle cx="306.1" cy="208.2" r="1.5"/><circle cx="307.4" cy="194.8" r="1.5"/><circle cx="305.0" cy="212.3" r="1.5"/><circle cx="308.8" cy="203.9" r="1.5"/><circle cx="306.3" cy="184.5" r="1.5"/><circle cx="302.8" cy="188.8" r="1.5"/><circle cx="307.6" cy="212.0" r="1.5"/><circle cx="301.5" cy="194.6" r="1.5"/><circle cx="313.6" cy="196.2" r="1.5"/><circle cx="317.2" cy="188.8" r="1.5"/><circle cx="318.8" cy="221.9" r="1.5"/><circle cx="308.0" cy="216.9" r="1.5"/><circle cx="316.3" cy="203.2" r="1.5"/><circle cx="304.3" cy="221.1" r="1.5"/><circle cx="311.7" cy="187.3" r="1.5"/><circle cx="304.7" cy="208.8" r="1.5"/><circle cx="304.0" cy="189.7" r="1.5"/><circle cx="308.9" cy="189.9" r="1.5"/><circle cx="301.5" cy="203.3" r="1.5"/><circle cx="312.6" cy="214.9" r="1.5"/><circle cx="315.1" cy="216.1" r="1.5"/><circle cx="309.4" cy="213.4" r="1.5"/><circle cx="305.3" cy="201.6" r="1.5"/><circle cx="307.4" cy="218.7" r="1.5"/><circle cx="319.5" cy="207.9" r="1.5"/><circle cx="316.4" cy="200.7" r="1.5"/><circle cx="318.1" cy="214.2" r="1.5"/><circle cx="306.1" cy="184.4" r="1.5"/><circle cx="303.9" cy="197.2" r="1.5"/><circle cx="302.4" cy="198.0" r="1.5"/><circle cx="303.9" cy="220.8" r="1.5"/><circle cx="316.9" cy="189.5" r="1.5"/><circle cx="301.4" cy="190.2" r="1.5"/><circle cx="306.0" cy="220.7" r="1.5"/><circle cx="317.2" cy="208.8" r="1.5"/></g><path d="M300.5 222.0L300.5 200.0L303.0 190.0L306.0 186.0L311.0 186.0L316.0 188.0L321.0 192.0L321.0 222.0Z" fill="#1010ff" fill-opacity="0.85"/><path d="M336.0 222.0L337.0 185.0L340.0 178.0L345.0 177.0L350.0 180.0L356.0 182.0L362.0 181.0L368.0 182.0L374.0 183.0L375.0 222.0Z" fill="#1515ff" fill-opacity="0.8"/><g fill="none" stroke="#0000ff" stroke-opacity="0.5" stroke-width="0.9"><circle cx="352.9" cy="184.8" r="1.5"/><circle cx="342.7" cy="214.2" r="1.5"/><circle cx="358.9" cy="197.7" r="1.5"/><circle cx="368.1" cy="214.0" r="1.5"/><circle cx="348.0" cy="186.0" r="1.5"/><circle cx="351.7" cy="219.7" r="1.5"/><circle cx="362.4" cy="204.4" r="1.5"/><circle cx="349.1" cy="193.1" r="1.5"/><circle cx="355.0" cy="216.5" r="1.5"/><circle cx="365.4" cy="205.4" r="1.5"/><circle cx="350.7" cy="203.6" r="1.5"/><circle cx="364.8" cy="203.8" r="1.5"/><circle cx="339.6" cy="195.1" r="1.5"/><circle cx="359.0" cy="182.2" r="1.5"/><circle cx="358.8" cy="184.5" r="1.5"/><circle cx="349.6" cy="196.0" r="1.5"/><circle cx="345.7" cy="211.6" r="1.5"/><circle cx="363.4" cy="203.1" r="1.5"/><circle cx="359.4" cy="215.6" r="1.5"/><circle cx="364.6" cy="201.0" r="1.5"/><circle cx="349.3" cy="198.2" r="1.5"/><circle cx="344.6" cy="184.9" r="1.5"/><circle cx="354.5" cy="193.3" r="1.5"/><circle cx="368.2" cy="183.6" r="1.5"/><circle cx="368.0" cy="185.3" r="1.5"/><circle cx="358.0" cy="182.6" r="1.5"/><circle cx="347.5" cy="217.4" r="1.5"/><circle cx="347.1" cy="186.7" r="1.5"/><circle cx="370.1" cy="221.0" r="1.5"/><circle cx="346.3" cy="219.5" r="1.5"/><circle cx="337.6" cy="190.0" r="1.5"/><circle cx="362.5" cy="204.9" r="1.5"/><circle cx="364.0" cy="202.6" r="1.5"/><circle cx="371.8" cy="199.8" r="1.5"/><circle cx="370.4" cy="198.0" r="1.5"/><circle cx="344.4" cy="215.4" r="1.5"/><circle cx="342.1" cy="177.6" r="1.5"/><circle cx="363.8" cy="199.0" r="1.5"/><circle cx="345.9" cy="204.9" r="1.5"/><circle cx="348.5" cy="180.8" r="1.5"/><circle cx="373.3" cy="188.4" r="1.5"/><circle cx="371.1" cy="219.9" r="1.5"/><circle cx="367.0" cy="184.7" r="1.5"/><circle cx="338.0" cy="214.5" r="1.5"/><circle cx="370.3" cy="200.9" r="1.5"/><circle cx="373.3" cy="187.3" r="1.5"/><circle cx="354.5" cy="184.2" r="1.5"/><circle cx="345.0" cy="218.8" r="1.5"/><circle cx="371.9" cy="214.5" r="1.5"/><circle cx="358.6" cy="190.3" r="1.5"/><circle cx="358.6" cy="220.9" r="1.5"/><circle cx="347.3" cy="202.6" r="1.5"/><circle cx="372.2" cy="220.5" r="1.5"/><circle cx="341.3" cy="210.4" r="1.5"/><circle cx="373.4" cy="211.1" r="1.5"/><circle cx="357.0" cy="210.8" r="1.5"/><circle cx="358.4" cy="202.9" r="1.5"/><circle cx="342.1" cy="187.9" r="1.5"/><circle cx="365.8" cy="184.4" r="1.5"/><circle cx="369.9" cy="216.6" r="1.5"/><circle cx="339.4" cy="218.9" r="1.5"/><circle cx="351.9" cy="209.3" r="1.5"/><circle cx="346.7" cy="198.4" r="1.5"/><circle cx="358.3" cy="212.8" r="1.5"/><circle cx="355.2" cy="201.3" r="1.5"/><circle cx="338.5" cy="195.5" r="1.5"/><circle cx="370.7" cy="218.3" r="1.5"/><circle cx="350.8" cy="220.8" r="1.5"/><circle cx="354.8" cy="216.9" r="1.5"/><circle cx="341.2" cy="193.8" r="1.5"/><circle cx="339.9" cy="193.3" r="1.5"/><circle cx="340.3" cy="189.0" r="1.5"/><circle cx="365.5" cy="206.5" r="1.5"/><circle cx="364.2" cy="185.6" r="1.5"/><circle cx="342.2" cy="206.0" r="1.5"/><circle cx="360.5" cy="196.0" r="1.5"/><circle cx="350.9" cy="203.5" r="1.5"/><circle cx="364.8" cy="184.2" r="1.5"/><circle cx="341.9" cy="198.4" r="1.5"/><circle cx="343.9" cy="214.9" r="1.5"/><circle cx="358.0" cy="202.8" r="1.5"/><circle cx="354.5" cy="186.0" r="1.5"/><circle cx="349.9" cy="197.6" r="1.5"/><circle cx="359.3" cy="186.8" r="1.5"/><circle cx="351.5" cy="207.1" r="1.5"/><circle cx="364.4" cy="184.7" r="1.5"/><circle cx="371.7" cy="190.3" r="1.5"/><circle cx="361.7" cy="182.8" r="1.5"/><circle cx="351.5" cy="207.0" r="1.5"/><circle cx="365.5" cy="187.9" r="1.5"/><circle cx="340.0" cy="205.1" r="1.5"/><circle cx="345.8" cy="184.5" r="1.5"/><circle cx="358.6" cy="221.1" r="1.5"/><circle cx="342.9" cy="216.7" r="1.5"/><circle cx="351.6" cy="190.2" r="1.5"/><circle cx="349.8" cy="186.0" r="1.5"/><circle cx="363.6" cy="191.3" r="1.5"/><circle cx="359.0" cy="200.9" r="1.5"/><circle cx="364.5" cy="204.8" r="1.5"/><circle cx="355.4" cy="189.7" r="1.5"/><circle cx="357.3" cy="198.4" r="1.5"/><circle cx="363.0" cy="208.6" r="1.5"/><circle cx="351.3" cy="195.5" r="1.5"/><circle cx="336.5" cy="217.2" r="1.5"/><circle cx="355.3" cy="197.8" r="1.5"/><circle cx="348.2" cy="194.3" r="1.5"/><circle cx="348.3" cy="216.1" r="1.5"/><circle cx="343.4" cy="217.5" r="1.5"/><circle cx="357.4" cy="183.2" r="1.5"/><circle cx="370.3" cy="188.6" r="1.5"/><circle cx="358.5" cy="194.1" r="1.5"/><circle cx="338.1" cy="194.6" r="1.5"/><circle cx="372.2" cy="184.0" r="1.5"/><circle cx="345.3" cy="214.0" r="1.5"/><circle cx="354.2" cy="218.4" r="1.5"/><circle cx="349.0" cy="204.8" r="1.5"/><circle cx="352.6" cy="186.1" r="1.5"/><circle cx="366.4" cy="183.8" r="1.5"/><circle cx="371.2" cy="204.6" r="1.5"/><circle cx="342.6" cy="195.8" r="1.5"/><circle cx="344.2" cy="179.4" r="1.5"/><circle cx="366.0" cy="201.7" r="1.5"/><circle cx="365.5" cy="190.7" r="1.5"/><circle cx="344.6" cy="217.1" r="1.5"/><circle cx="358.2" cy="206.3" r="1.5"/><circle cx="362.7" cy="199.1" r="1.5"/><circle cx="353.9" cy="192.5" r="1.5"/><circle cx="338.2" cy="205.8" r="1.5"/><circle cx="356.6" cy="188.0" r="1.5"/><circle cx="364.4" cy="192.1" r="1.5"/><circle cx="353.9" cy="186.5" r="1.5"/><circle cx="347.6" cy="221.5" r="1.5"/><circle cx="369.3" cy="217.8" r="1.5"/><circle cx="364.9" cy="191.3" r="1.5"/><circle cx="371.5" cy="206.2" r="1.5"/><circle cx="368.9" cy="221.1" r="1.5"/><circle cx="358.0" cy="184.4" r="1.5"/><circle cx="350.4" cy="185.2" r="1.5"/><circle cx="353.5" cy="200.7" r="1.5"/><circle cx="361.1" cy="205.8" r="1.5"/><circle cx="340.8" cy="182.4" r="1.5"/><circle cx="357.2" cy="189.4" r="1.5"/><circle cx="343.3" cy="195.1" r="1.5"/><circle cx="368.4" cy="205.4" r="1.5"/><circle cx="371.8" cy="212.5" r="1.5"/><circle cx="339.2" cy="207.9" r="1.5"/><circle cx="370.0" cy="215.8" r="1.5"/><circle cx="366.2" cy="208.1" r="1.5"/><circle cx="371.6" cy="203.4" r="1.5"/><circle cx="351.1" cy="193.5" r="1.5"/><circle cx="356.5" cy="186.5" r="1.5"/><circle cx="360.2" cy="188.4" r="1.5"/><circle cx="345.0" cy="213.4" r="1.5"/><circle cx="372.1" cy="204.4" r="1.5"/><circle cx="373.7" cy="194.5" r="1.5"/><circle cx="356.9" cy="194.1" r="1.5"/><circle cx="355.3" cy="197.7" r="1.5"/><circle cx="348.1" cy="204.9" r="1.5"/><circle cx="347.0" cy="198.5" r="1.5"/><circle cx="355.7" cy="220.4" r="1.5"/></g><path d="M320.0 222.0L321.0 200.0L322.0 175.0L324.0 165.0L327.0 161.0L331.0 160.5L334.0 163.0L336.0 170.0L338.0 180.0L339.5 195.0L340.0 222.0Z" fill="#0808f8" fill-opacity="1.0"/><path d="M362.0 222.0L362.5 195.0L365.0 186.0L370.0 183.5L376.0 183.0L379.0 181.5L382.0 184.0L384.0 195.0L385.5 210.0L386.5 222.0Z" fill="#0808f8" fill-opacity="1.0"/><path d="M397.0 224.0L397.5 210.0L399.5 204.0L403.0 201.5L406.0 202.0L408.5 205.0L409.0 224.0Z" fill="#0808f8" fill-opacity="1.0"/><path d="M428.0 218.0L429.5 200.0L431.0 188.0L433.0 181.0L436.0 179.0L439.0 181.0L441.0 188.0L443.0 200.0L445.0 212.0L446.0 220.0Z" fill="#0808f8" fill-opacity="0.9"/><g fill="none" stroke="#0000ff" stroke-opacity="0.55" stroke-width="1.0"><circle cx="317.4" cy="182.2" r="1.5"/><circle cx="368.2" cy="182.0" r="1.5"/><circle cx="320.3" cy="167.5" r="1.5"/><circle cx="337.2" cy="160.4" r="1.5"/><circle cx="343.4" cy="171.8" r="1.5"/><circle cx="352.2" cy="181.9" r="1.5"/><circle cx="331.3" cy="152.8" r="1.5"/><circle cx="340.0" cy="177.2" r="1.5"/><circle cx="338.2" cy="164.8" r="1.5"/><circle cx="318.9" cy="171.5" r="1.5"/><circle cx="315.5" cy="176.6" r="1.5"/><circle cx="360.0" cy="176.2" r="1.5"/><circle cx="365.4" cy="170.2" r="1.5"/><circle cx="339.1" cy="176.8" r="1.5"/><circle cx="322.4" cy="168.5" r="1.5"/><circle cx="346.3" cy="179.2" r="1.5"/><circle cx="307.8" cy="184.0" r="1.5"/><circle cx="322.0" cy="171.1" r="1.5"/><circle cx="355.4" cy="176.9" r="1.5"/><circle cx="377.7" cy="184.1" r="1.5"/><circle cx="353.4" cy="175.4" r="1.5"/><circle cx="330.6" cy="162.9" r="1.5"/><circle cx="360.3" cy="171.9" r="1.5"/><circle cx="329.4" cy="161.6" r="1.5"/><circle cx="328.5" cy="153.1" r="1.5"/><circle cx="338.7" cy="178.0" r="1.5"/><circle cx="315.2" cy="181.4" r="1.5"/><circle cx="331.7" cy="163.3" r="1.5"/><circle cx="360.9" cy="182.9" r="1.5"/><circle cx="346.9" cy="177.2" r="1.5"/><circle cx="359.8" cy="172.8" r="1.5"/><circle cx="341.5" cy="176.0" r="1.5"/><circle cx="375.0" cy="179.3" r="1.5"/><circle cx="378.4" cy="186.0" r="1.5"/><circle cx="330.9" cy="149.1" r="1.5"/><circle cx="356.2" cy="183.0" r="1.5"/><circle cx="320.9" cy="169.7" r="1.5"/><circle cx="364.8" cy="180.4" r="1.5"/><circle cx="363.9" cy="182.0" r="1.5"/><circle cx="353.9" cy="173.9" r="1.5"/><circle cx="369.6" cy="182.3" r="1.5"/><circle cx="314.2" cy="183.2" r="1.5"/><circle cx="322.2" cy="168.4" r="1.5"/><circle cx="306.7" cy="174.3" r="1.5"/><circle cx="326.7" cy="148.9" r="1.5"/><circle cx="373.9" cy="183.5" r="1.5"/><circle cx="322.5" cy="157.0" r="1.5"/><circle cx="329.7" cy="148.9" r="1.5"/><circle cx="317.6" cy="175.6" r="1.5"/><circle cx="328.1" cy="154.7" r="1.5"/><circle cx="323.0" cy="155.0" r="1.5"/><circle cx="325.8" cy="163.3" r="1.5"/><circle cx="313.9" cy="178.5" r="1.5"/><circle cx="365.2" cy="181.7" r="1.5"/><circle cx="317.6" cy="182.7" r="1.5"/><circle cx="335.9" cy="169.0" r="1.5"/><circle cx="353.6" cy="182.4" r="1.5"/><circle cx="312.4" cy="178.1" r="1.5"/><circle cx="349.3" cy="168.1" r="1.5"/><circle cx="381.2" cy="176.1" r="1.5"/><circle cx="351.1" cy="180.1" r="1.5"/><circle cx="334.3" cy="162.5" r="1.5"/><circle cx="361.8" cy="176.7" r="1.5"/><circle cx="360.1" cy="172.5" r="1.5"/><circle cx="373.9" cy="182.3" r="1.5"/><circle cx="370.1" cy="178.4" r="1.5"/><circle cx="359.5" cy="170.3" r="1.5"/><circle cx="322.2" cy="158.4" r="1.5"/><circle cx="346.8" cy="175.4" r="1.5"/><circle cx="320.1" cy="177.3" r="1.5"/><circle cx="330.2" cy="157.9" r="1.5"/><circle cx="356.0" cy="181.3" r="1.5"/><circle cx="317.6" cy="182.6" r="1.5"/><circle cx="316.5" cy="181.7" r="1.5"/><circle cx="355.1" cy="180.3" r="1.5"/><circle cx="328.1" cy="152.0" r="1.5"/><circle cx="355.2" cy="176.5" r="1.5"/><circle cx="379.6" cy="174.1" r="1.5"/><circle cx="312.1" cy="184.4" r="1.5"/><circle cx="333.5" cy="162.3" r="1.5"/><circle cx="348.4" cy="180.3" r="1.5"/><circle cx="353.7" cy="174.5" r="1.5"/><circle cx="374.5" cy="177.3" r="1.5"/><circle cx="330.1" cy="153.4" r="1.5"/><circle cx="354.8" cy="182.8" r="1.5"/><circle cx="310.3" cy="172.7" r="1.5"/><circle cx="328.0" cy="161.8" r="1.5"/><circle cx="369.7" cy="177.6" r="1.5"/><circle cx="312.6" cy="179.7" r="1.5"/><circle cx="378.8" cy="181.7" r="1.5"/><circle cx="339.2" cy="176.9" r="1.5"/><circle cx="339.7" cy="171.4" r="1.5"/><circle cx="334.4" cy="163.2" r="1.5"/><circle cx="354.4" cy="180.0" r="1.5"/><circle cx="322.2" cy="168.3" r="1.5"/><circle cx="331.9" cy="160.3" r="1.5"/><circle cx="317.8" cy="174.9" r="1.5"/><circle cx="376.6" cy="184.1" r="1.5"/><circle cx="335.1" cy="154.2" r="1.5"/><circle cx="374.0" cy="170.2" r="1.5"/><circle cx="330.8" cy="160.7" r="1.5"/><circle cx="321.5" cy="171.6" r="1.5"/><circle cx="357.7" cy="173.0" r="1.5"/><circle cx="371.8" cy="175.7" r="1.5"/><circle cx="349.4" cy="166.9" r="1.5"/><circle cx="377.8" cy="175.9" r="1.5"/><circle cx="341.2" cy="165.0" r="1.5"/><circle cx="379.2" cy="185.5" r="1.5"/><circle cx="354.2" cy="174.9" r="1.5"/><circle cx="328.2" cy="158.1" r="1.5"/><circle cx="349.0" cy="180.3" r="1.5"/><circle cx="344.3" cy="178.2" r="1.5"/><circle cx="324.7" cy="156.3" r="1.5"/><circle cx="307.8" cy="184.3" r="1.5"/><circle cx="354.7" cy="181.4" r="1.5"/><circle cx="376.4" cy="183.6" r="1.5"/><circle cx="358.0" cy="180.1" r="1.5"/><circle cx="342.0" cy="167.5" r="1.5"/><circle cx="343.5" cy="170.1" r="1.5"/><circle cx="374.2" cy="183.5" r="1.5"/><circle cx="360.6" cy="173.4" r="1.5"/><circle cx="309.8" cy="184.6" r="1.5"/><circle cx="312.9" cy="184.6" r="1.5"/><circle cx="342.6" cy="177.5" r="1.5"/><circle cx="315.9" cy="181.6" r="1.5"/><circle cx="370.7" cy="182.3" r="1.5"/><circle cx="311.3" cy="178.4" r="1.5"/><circle cx="356.9" cy="181.8" r="1.5"/><circle cx="362.3" cy="183.3" r="1.5"/><circle cx="364.6" cy="174.9" r="1.5"/><circle cx="313.2" cy="174.8" r="1.5"/><circle cx="334.2" cy="163.4" r="1.5"/><circle cx="379.9" cy="186.6" r="1.5"/><circle cx="332.1" cy="163.6" r="1.5"/><circle cx="358.4" cy="183.1" r="1.5"/><circle cx="368.9" cy="174.8" r="1.5"/><circle cx="325.0" cy="153.3" r="1.5"/><circle cx="372.8" cy="183.7" r="1.5"/><circle cx="311.9" cy="183.6" r="1.5"/><circle cx="344.1" cy="177.5" r="1.5"/><circle cx="303.8" cy="126.5" r="1.5"/><circle cx="304.7" cy="135.5" r="1.5"/><circle cx="305.9" cy="150.7" r="1.5"/><circle cx="306.6" cy="158.5" r="1.5"/><circle cx="302.0" cy="165.0" r="1.5"/><circle cx="300.0" cy="172.0" r="1.5"/><circle cx="307.0" cy="168.0" r="1.5"/><circle cx="310.0" cy="170.0" r="1.5"/><circle cx="313.0" cy="174.0" r="1.5"/><circle cx="298.5" cy="176.0" r="1.5"/><circle cx="304.0" cy="172.0" r="1.5"/><circle cx="296.5" cy="181.0" r="1.5"/><circle cx="297.0" cy="188.0" r="1.5"/><circle cx="414.4" cy="165.6" r="1.5"/><circle cx="439.3" cy="168.7" r="1.5"/><circle cx="427.8" cy="186.6" r="1.5"/><circle cx="431.2" cy="153.4" r="1.5"/><circle cx="421.4" cy="192.4" r="1.5"/><circle cx="436.4" cy="161.6" r="1.5"/><circle cx="429.9" cy="185.0" r="1.5"/><circle cx="432.3" cy="163.8" r="1.5"/><circle cx="428.1" cy="139.6" r="1.5"/><circle cx="429.3" cy="187.0" r="1.5"/><circle cx="435.7" cy="161.0" r="1.5"/><circle cx="427.8" cy="185.3" r="1.5"/><circle cx="428.2" cy="157.3" r="1.5"/><circle cx="418.4" cy="153.6" r="1.5"/><circle cx="425.4" cy="158.5" r="1.5"/><circle cx="425.9" cy="166.6" r="1.5"/><circle cx="430.7" cy="164.2" r="1.5"/><circle cx="428.5" cy="160.4" r="1.5"/><circle cx="426.2" cy="139.2" r="1.5"/><circle cx="434.9" cy="170.1" r="1.5"/><circle cx="430.2" cy="182.1" r="1.5"/><circle cx="422.2" cy="183.0" r="1.5"/><circle cx="419.1" cy="194.9" r="1.5"/><circle cx="430.8" cy="166.3" r="1.5"/><circle cx="417.4" cy="149.8" r="1.5"/><circle cx="417.0" cy="192.3" r="1.5"/><circle cx="435.9" cy="155.1" r="1.5"/><circle cx="421.6" cy="184.7" r="1.5"/><circle cx="432.2" cy="163.6" r="1.5"/><circle cx="436.1" cy="163.5" r="1.5"/><circle cx="414.5" cy="161.4" r="1.5"/><circle cx="433.4" cy="146.8" r="1.5"/><circle cx="434.4" cy="158.1" r="1.5"/><circle cx="427.5" cy="180.4" r="1.5"/><circle cx="435.1" cy="166.8" r="1.5"/><circle cx="431.5" cy="176.8" r="1.5"/><circle cx="433.6" cy="174.3" r="1.5"/><circle cx="424.3" cy="157.9" r="1.5"/><circle cx="436.3" cy="179.2" r="1.5"/><circle cx="422.5" cy="183.1" r="1.5"/><circle cx="419.7" cy="170.8" r="1.5"/><circle cx="434.6" cy="188.7" r="1.5"/><circle cx="424.5" cy="134.8" r="1.5"/><circle cx="430.9" cy="139.2" r="1.5"/><circle cx="435.7" cy="170.6" r="1.5"/><circle cx="430.5" cy="140.3" r="1.5"/><circle cx="427.6" cy="182.6" r="1.5"/><circle cx="437.4" cy="175.2" r="1.5"/><circle cx="436.1" cy="159.0" r="1.5"/><circle cx="417.7" cy="149.0" r="1.5"/><circle cx="435.0" cy="161.5" r="1.5"/><circle cx="413.3" cy="189.4" r="1.5"/><circle cx="418.4" cy="164.8" r="1.5"/><circle cx="430.5" cy="184.5" r="1.5"/><circle cx="417.3" cy="170.5" r="1.5"/><circle cx="425.2" cy="165.6" r="1.5"/><circle cx="428.8" cy="191.1" r="1.5"/><circle cx="434.2" cy="187.5" r="1.5"/><circle cx="428.4" cy="159.3" r="1.5"/><circle cx="440.9" cy="184.8" r="1.5"/><circle cx="432.0" cy="175.0" r="1.5"/><circle cx="425.7" cy="175.0" r="1.5"/><circle cx="425.5" cy="167.1" r="1.5"/><circle cx="414.5" cy="182.1" r="1.5"/><circle cx="429.6" cy="171.4" r="1.5"/><circle cx="423.5" cy="168.6" r="1.5"/><circle cx="415.8" cy="170.3" r="1.5"/><circle cx="422.7" cy="181.8" r="1.5"/><circle cx="416.5" cy="192.6" r="1.5"/><circle cx="414.9" cy="192.1" r="1.5"/><circle cx="426.2" cy="143.4" r="1.5"/><circle cx="424.3" cy="192.7" r="1.5"/><circle cx="420.1" cy="156.3" r="1.5"/><circle cx="439.1" cy="180.3" r="1.5"/><circle cx="412.1" cy="197.4" r="1.5"/><circle cx="432.7" cy="148.5" r="1.5"/><circle cx="430.3" cy="175.6" r="1.5"/><circle cx="417.9" cy="177.6" r="1.5"/><circle cx="433.6" cy="187.5" r="1.5"/><circle cx="432.5" cy="158.9" r="1.5"/><circle cx="432.4" cy="186.2" r="1.5"/><circle cx="430.0" cy="190.4" r="1.5"/><circle cx="438.9" cy="169.2" r="1.5"/><circle cx="418.4" cy="194.2" r="1.5"/><circle cx="428.9" cy="150.8" r="1.5"/><circle cx="429.0" cy="174.6" r="1.5"/><circle cx="433.8" cy="164.4" r="1.5"/><circle cx="426.5" cy="176.9" r="1.5"/><circle cx="426.3" cy="188.4" r="1.5"/><circle cx="420.9" cy="157.3" r="1.5"/><circle cx="428.6" cy="180.6" r="1.5"/><circle cx="439.5" cy="171.8" r="1.5"/><circle cx="415.4" cy="172.2" r="1.5"/><circle cx="414.9" cy="172.2" r="1.5"/><circle cx="422.2" cy="175.9" r="1.5"/><circle cx="415.4" cy="158.5" r="1.5"/><circle cx="439.0" cy="182.5" r="1.5"/><circle cx="439.0" cy="185.7" r="1.5"/><circle cx="418.3" cy="150.0" r="1.5"/><circle cx="425.4" cy="163.6" r="1.5"/><circle cx="432.2" cy="168.0" r="1.5"/><circle cx="416.2" cy="195.0" r="1.5"/><circle cx="424.2" cy="131.4" r="1.5"/><circle cx="435.6" cy="179.4" r="1.5"/><circle cx="415.4" cy="188.6" r="1.5"/><circle cx="423.3" cy="187.2" r="1.5"/><circle cx="432.4" cy="175.8" r="1.5"/><circle cx="420.3" cy="163.5" r="1.5"/><circle cx="438.2" cy="180.4" r="1.5"/><circle cx="419.1" cy="177.0" r="1.5"/><circle cx="428.4" cy="139.1" r="1.5"/><circle cx="430.2" cy="167.3" r="1.5"/><circle cx="421.1" cy="154.8" r="1.5"/><circle cx="414.7" cy="159.1" r="1.5"/><circle cx="426.2" cy="154.0" r="1.5"/><circle cx="427.0" cy="186.3" r="1.5"/><circle cx="417.8" cy="176.0" r="1.5"/><circle cx="424.4" cy="153.0" r="1.5"/><circle cx="429.8" cy="182.5" r="1.5"/><circle cx="435.6" cy="162.1" r="1.5"/><circle cx="429.8" cy="187.4" r="1.5"/><circle cx="439.6" cy="181.4" r="1.5"/><circle cx="431.0" cy="178.3" r="1.5"/><circle cx="437.8" cy="176.2" r="1.5"/><circle cx="422.0" cy="186.7" r="1.5"/><circle cx="424.6" cy="157.8" r="1.5"/><circle cx="432.5" cy="165.9" r="1.5"/><circle cx="430.7" cy="157.1" r="1.5"/><circle cx="429.2" cy="159.8" r="1.5"/><circle cx="419.7" cy="177.3" r="1.5"/><circle cx="410.2" cy="214.1" r="1.5"/><circle cx="419.0" cy="207.2" r="1.5"/><circle cx="427.0" cy="209.8" r="1.5"/><circle cx="429.5" cy="212.1" r="1.5"/><circle cx="427.1" cy="212.2" r="1.5"/><circle cx="417.0" cy="199.2" r="1.5"/><circle cx="425.6" cy="213.0" r="1.5"/><circle cx="420.2" cy="210.3" r="1.5"/><circle cx="419.7" cy="199.2" r="1.5"/><circle cx="418.4" cy="206.3" r="1.5"/><circle cx="417.8" cy="205.3" r="1.5"/><circle cx="423.9" cy="214.9" r="1.5"/><circle cx="422.1" cy="211.4" r="1.5"/><circle cx="414.3" cy="200.7" r="1.5"/><circle cx="418.8" cy="202.4" r="1.5"/><circle cx="411.9" cy="200.3" r="1.5"/><circle cx="414.3" cy="211.3" r="1.5"/><circle cx="428.6" cy="204.4" r="1.5"/><circle cx="410.7" cy="207.7" r="1.5"/><circle cx="426.4" cy="200.5" r="1.5"/><circle cx="420.5" cy="198.6" r="1.5"/><circle cx="417.3" cy="205.4" r="1.5"/><circle cx="421.9" cy="211.5" r="1.5"/><circle cx="410.8" cy="207.7" r="1.5"/><circle cx="427.7" cy="213.6" r="1.5"/><circle cx="420.6" cy="210.2" r="1.5"/><circle cx="428.1" cy="196.2" r="1.5"/><circle cx="418.9" cy="205.8" r="1.5"/><circle cx="414.6" cy="206.4" r="1.5"/><circle cx="414.1" cy="208.7" r="1.5"/></g><path d="M307.0 224.0L307.4 222.0L308.0 210.0L309.5 205.0L311.6 203.0L314.0 201.0L316.4 205.0L318.0 200.0L320.0 194.0L321.1 190.0L323.5 192.0L324.7 203.0L327.1 206.0L330.7 203.0L333.1 198.0L336.7 196.0L340.3 195.0L343.9 196.0L347.5 197.0L351.1 198.0L353.5 203.0L355.9 206.0L359.5 208.0L363.0 200.0L365.5 198.0L370.2 197.0L372.6 199.0L374.5 207.0L374.5 216.5L384.0 216.5L386.5 219.0L387.5 223.5L307.0 224.0Z" fill="#f51010" fill-opacity="1.0"/><path d="M403.5 216.8L430.0 216.5L440.0 217.0L447.0 218.0L452.0 219.5L458.0 221.5L458.0 224.0L403.5 224.0Z" fill="#f51010" fill-opacity="1.0"/><path d="M405.0 216.8L405.5 209.0L406.0 206.0L409.0 205.0L412.0 207.0L415.0 210.0L418.0 209.0L421.0 207.0L424.0 208.0L427.0 212.0L430.0 215.0L433.0 213.0L436.0 210.0L439.0 213.0L442.0 216.8Z" fill="#f51010" fill-opacity="1.0"/><rect x="296" y="221.6" width="12" height="1.6" fill="#e02040" fill-opacity="0.7"/><g fill="none" stroke="#ff0000" stroke-opacity="0.85" stroke-width="1.1"><circle cx="315.4" cy="204.7" r="1.5"/><circle cx="323.5" cy="193.6" r="1.5"/><circle cx="363.2" cy="199.6" r="1.5"/><circle cx="345.0" cy="191.8" r="1.5"/><circle cx="324.5" cy="193.0" r="1.5"/><circle cx="371.4" cy="196.9" r="1.5"/><circle cx="309.2" cy="199.6" r="1.5"/><circle cx="334.9" cy="194.3" r="1.5"/><circle cx="327.6" cy="197.9" r="1.5"/><circle cx="335.0" cy="195.0" r="1.5"/><circle cx="324.3" cy="201.0" r="1.5"/><circle cx="310.5" cy="201.9" r="1.5"/><circle cx="363.1" cy="195.0" r="1.5"/><circle cx="371.0" cy="193.3" r="1.5"/><circle cx="352.8" cy="197.0" r="1.5"/><circle cx="342.0" cy="194.7" r="1.5"/><circle cx="350.8" cy="192.2" r="1.5"/><circle cx="317.7" cy="203.0" r="1.5"/><circle cx="333.3" cy="197.6" r="1.5"/><circle cx="360.0" cy="200.6" r="1.5"/><circle cx="355.3" cy="207.2" r="1.5"/><circle cx="347.5" cy="193.9" r="1.5"/><circle cx="312.9" cy="203.8" r="1.5"/><circle cx="309.2" cy="207.2" r="1.5"/><circle cx="341.0" cy="195.2" r="1.5"/><circle cx="312.1" cy="196.0" r="1.5"/><circle cx="335.9" cy="195.6" r="1.5"/><circle cx="373.9" cy="195.7" r="1.5"/><circle cx="346.3" cy="190.2" r="1.5"/><circle cx="342.0" cy="187.7" r="1.5"/><circle cx="347.9" cy="198.4" r="1.5"/><circle cx="362.4" cy="193.1" r="1.5"/><circle cx="362.7" cy="194.4" r="1.5"/><circle cx="326.1" cy="205.8" r="1.5"/><circle cx="361.1" cy="206.3" r="1.5"/><circle cx="357.5" cy="202.8" r="1.5"/><circle cx="358.9" cy="202.3" r="1.5"/><circle cx="371.5" cy="198.9" r="1.5"/><circle cx="361.6" cy="202.0" r="1.5"/><circle cx="360.2" cy="203.0" r="1.5"/><circle cx="311.8" cy="201.9" r="1.5"/><circle cx="332.4" cy="199.7" r="1.5"/><circle cx="355.2" cy="196.7" r="1.5"/><circle cx="359.4" cy="203.0" r="1.5"/><circle cx="361.0" cy="205.5" r="1.5"/><circle cx="312.1" cy="194.3" r="1.5"/><circle cx="330.2" cy="203.2" r="1.5"/><circle cx="319.9" cy="195.3" r="1.5"/><circle cx="324.2" cy="193.7" r="1.5"/><circle cx="309.8" cy="206.5" r="1.5"/><circle cx="373.2" cy="201.7" r="1.5"/><circle cx="332.1" cy="198.9" r="1.5"/><circle cx="308.2" cy="208.1" r="1.5"/><circle cx="336.0" cy="192.9" r="1.5"/><circle cx="355.7" cy="203.1" r="1.5"/><circle cx="310.4" cy="206.0" r="1.5"/><circle cx="360.7" cy="206.5" r="1.5"/><circle cx="329.2" cy="196.2" r="1.5"/><circle cx="364.6" cy="195.1" r="1.5"/><circle cx="352.2" cy="197.3" r="1.5"/><circle cx="344.0" cy="197.0" r="1.5"/><circle cx="352.2" cy="196.3" r="1.5"/><circle cx="349.6" cy="198.5" r="1.5"/><circle cx="362.7" cy="199.4" r="1.5"/><circle cx="347.7" cy="198.6" r="1.5"/><circle cx="333.9" cy="199.3" r="1.5"/><circle cx="355.4" cy="197.1" r="1.5"/><circle cx="366.2" cy="198.3" r="1.5"/><circle cx="321.6" cy="189.1" r="1.5"/><circle cx="345.6" cy="190.4" r="1.5"/><circle cx="319.8" cy="195.3" r="1.5"/><circle cx="326.0" cy="206.5" r="1.5"/><circle cx="350.3" cy="199.7" r="1.5"/><circle cx="314.8" cy="199.3" r="1.5"/><circle cx="327.5" cy="201.6" r="1.5"/><circle cx="344.2" cy="188.1" r="1.5"/><circle cx="374.1" cy="203.3" r="1.5"/><circle cx="312.0" cy="201.2" r="1.5"/><circle cx="349.3" cy="199.2" r="1.5"/><circle cx="331.4" cy="193.9" r="1.5"/><circle cx="333.9" cy="191.5" r="1.5"/><circle cx="348.6" cy="198.0" r="1.5"/><circle cx="356.3" cy="204.0" r="1.5"/><circle cx="344.2" cy="197.3" r="1.5"/><circle cx="316.1" cy="205.0" r="1.5"/><circle cx="352.0" cy="201.8" r="1.5"/><circle cx="356.0" cy="204.5" r="1.5"/><circle cx="366.4" cy="196.6" r="1.5"/><circle cx="328.0" cy="204.3" r="1.5"/><circle cx="313.9" cy="193.1" r="1.5"/><circle cx="323.3" cy="187.3" r="1.5"/><circle cx="372.4" cy="198.1" r="1.5"/><circle cx="315.1" cy="198.3" r="1.5"/><circle cx="311.7" cy="204.0" r="1.5"/><circle cx="346.7" cy="191.2" r="1.5"/><circle cx="344.2" cy="194.8" r="1.5"/><circle cx="368.0" cy="190.9" r="1.5"/><circle cx="367.9" cy="196.4" r="1.5"/><circle cx="309.3" cy="207.0" r="1.5"/><circle cx="374.1" cy="203.1" r="1.5"/><circle cx="310.8" cy="205.2" r="1.5"/><circle cx="316.9" cy="205.3" r="1.5"/><circle cx="313.7" cy="202.8" r="1.5"/><circle cx="324.6" cy="198.8" r="1.5"/><circle cx="371.8" cy="198.0" r="1.5"/><circle cx="342.5" cy="189.4" r="1.5"/><circle cx="314.9" cy="200.1" r="1.5"/><circle cx="353.5" cy="201.1" r="1.5"/><circle cx="318.4" cy="195.6" r="1.5"/><circle cx="309.9" cy="201.4" r="1.5"/><circle cx="410.8" cy="201.9" r="1.5"/><circle cx="414.3" cy="207.9" r="1.5"/><circle cx="419.2" cy="205.1" r="1.5"/><circle cx="425.0" cy="209.8" r="1.5"/><circle cx="411.8" cy="202.6" r="1.5"/><circle cx="421.3" cy="205.4" r="1.5"/><circle cx="408.9" cy="204.4" r="1.5"/><circle cx="406.4" cy="206.1" r="1.5"/><circle cx="424.2" cy="208.7" r="1.5"/><circle cx="424.5" cy="202.3" r="1.5"/><circle cx="433.7" cy="211.1" r="1.5"/><circle cx="428.9" cy="206.4" r="1.5"/><circle cx="416.5" cy="210.0" r="1.5"/><circle cx="413.3" cy="202.1" r="1.5"/><circle cx="405.9" cy="207.0" r="1.5"/><circle cx="411.2" cy="207.5" r="1.5"/><circle cx="414.4" cy="203.3" r="1.5"/><circle cx="433.5" cy="205.8" r="1.5"/><circle cx="438.8" cy="213.7" r="1.5"/><circle cx="409.2" cy="206.1" r="1.5"/><circle cx="435.1" cy="211.3" r="1.5"/><circle cx="420.1" cy="204.5" r="1.5"/><circle cx="432.6" cy="205.4" r="1.5"/><circle cx="430.7" cy="215.5" r="1.5"/><circle cx="432.4" cy="204.6" r="1.5"/><circle cx="423.3" cy="199.5" r="1.5"/><circle cx="420.0" cy="202.0" r="1.5"/><circle cx="422.7" cy="208.1" r="1.5"/><circle cx="437.2" cy="204.0" r="1.5"/><circle cx="407.0" cy="205.0" r="1.5"/><circle cx="409.3" cy="206.2" r="1.5"/><circle cx="408.2" cy="198.5" r="1.5"/><circle cx="434.5" cy="204.5" r="1.5"/><circle cx="414.4" cy="207.5" r="1.5"/><circle cx="426.0" cy="211.7" r="1.5"/><circle cx="416.6" cy="208.2" r="1.5"/><circle cx="413.1" cy="207.4" r="1.5"/><circle cx="421.1" cy="206.8" r="1.5"/><circle cx="433.3" cy="212.5" r="1.5"/><circle cx="429.3" cy="207.9" r="1.5"/><circle cx="312.3" cy="146.2" r="1.5"/><circle cx="311.9" cy="148.9" r="1.5"/><circle cx="312.7" cy="151.8" r="1.5"/><circle cx="313.4" cy="154.8" r="1.5"/><circle cx="312.7" cy="157.8" r="1.5"/><circle cx="313.0" cy="159.9" r="1.5"/><circle cx="312.9" cy="171.0" r="1.5"/><circle cx="313.2" cy="175.2" r="1.5"/><circle cx="312.6" cy="179.8" r="1.5"/><circle cx="312.8" cy="183.7" r="1.5"/><circle cx="312.9" cy="187.5" r="1.5"/><circle cx="312.2" cy="192.0" r="1.5"/><circle cx="311.9" cy="195.9" r="1.5"/><circle cx="334.0" cy="139.0" r="1.5"/><circle cx="334.4" cy="142.8" r="1.5"/><circle cx="333.9" cy="149.5" r="1.5"/><circle cx="334.2" cy="155.3" r="1.5"/><circle cx="334.2" cy="159.4" r="1.5"/><circle cx="333.6" cy="163.0" r="1.5"/><circle cx="334.9" cy="167.1" r="1.5"/><circle cx="334.3" cy="171.7" r="1.5"/><circle cx="334.0" cy="175.1" r="1.5"/><circle cx="333.8" cy="180.0" r="1.5"/><circle cx="333.6" cy="185.0" r="1.5"/><circle cx="363.2" cy="64.4" r="1.5"/><circle cx="363.8" cy="81.2" r="1.5"/><circle cx="363.7" cy="82.6" r="1.5"/><circle cx="364.4" cy="83.9" r="1.5"/><circle cx="362.7" cy="118.2" r="1.5"/><circle cx="362.9" cy="147.4" r="1.5"/><circle cx="363.1" cy="153.2" r="1.5"/><circle cx="362.3" cy="158.7" r="1.5"/><circle cx="362.5" cy="168.7" r="1.5"/><circle cx="362.9" cy="171.9" r="1.5"/><circle cx="362.7" cy="178.0" r="1.5"/><circle cx="363.5" cy="183.1" r="1.5"/><circle cx="363.0" cy="187.6" r="1.5"/><circle cx="409.4" cy="78.0" r="1.5"/><circle cx="408.8" cy="81.1" r="1.5"/><circle cx="408.0" cy="92.2" r="1.5"/><circle cx="408.8" cy="94.4" r="1.5"/><circle cx="408.4" cy="106.8" r="1.5"/><circle cx="408.3" cy="110.7" r="1.5"/><circle cx="409.3" cy="111.5" r="1.5"/><circle cx="408.6" cy="115.7" r="1.5"/><circle cx="409.6" cy="121.6" r="1.5"/><circle cx="408.1" cy="124.2" r="1.5"/><circle cx="408.7" cy="130.3" r="1.5"/><circle cx="408.4" cy="134.1" r="1.5"/><circle cx="409.2" cy="137.3" r="1.5"/><circle cx="409.6" cy="142.2" r="1.5"/><circle cx="408.7" cy="149.5" r="1.5"/><circle cx="408.3" cy="154.9" r="1.5"/><circle cx="409.4" cy="159.9" r="1.5"/><circle cx="408.1" cy="166.5" r="1.5"/><circle cx="408.4" cy="169.8" r="1.5"/><circle cx="408.5" cy="174.5" r="1.5"/><circle cx="409.6" cy="180.3" r="1.5"/><circle cx="408.7" cy="184.9" r="1.5"/><circle cx="408.2" cy="190.1" r="1.5"/><circle cx="408.3" cy="194.4" r="1.5"/><circle cx="407.8" cy="199.6" r="1.5"/><circle cx="411.0" cy="200.5" r="1.5"/><circle cx="412.2" cy="198.7" r="1.5"/><circle cx="413.4" cy="196.9" r="1.5"/><circle cx="414.6" cy="195.1" r="1.5"/><circle cx="415.8" cy="193.3" r="1.5"/><circle cx="417.0" cy="191.5" r="1.5"/><circle cx="418.2" cy="189.7" r="1.5"/><circle cx="419.4" cy="187.9" r="1.5"/><circle cx="420.6" cy="186.1" r="1.5"/><circle cx="421.8" cy="184.3" r="1.5"/><circle cx="423.0" cy="182.5" r="1.5"/><circle cx="414.0" cy="208.0" r="1.5"/><circle cx="415.5" cy="207.7" r="1.5"/><circle cx="417.0" cy="207.4" r="1.5"/><circle cx="418.5" cy="207.1" r="1.5"/><circle cx="420.0" cy="206.8" r="1.5"/><circle cx="421.5" cy="206.5" r="1.5"/><circle cx="423.0" cy="206.2" r="1.5"/><circle cx="424.5" cy="205.9" r="1.5"/></g><g fill="none" stroke="#ff0000" stroke-opacity="0.25" stroke-width="0.8"><circle cx="311.4" cy="87.0" r="1.5"/><circle cx="363.0" cy="57.5" r="1.5"/><circle cx="409.5" cy="75.2" r="1.5"/></g></g><line x1="296" y1="217.4" x2="457" y2="217.4" stroke="#000" stroke-width="1.3" stroke-dasharray="4.7,2.9"/><rect x="361.4" y="27.2" width="90.0" height="36.2" rx="2.5" fill="#fff" fill-opacity="0.85" stroke="#d6d6d6" stroke-width="1"/><circle cx="378" cy="37" r="2" fill="#0000ff"/><circle cx="378" cy="53.7" r="2" fill="#ff0000" fill-opacity="0.8"/><text x="399.2" y="40.5" font-size="11" text-anchor="start" font-weight="normal">BaZrS<tspan dy="2.8" font-size="8.5">3</tspan></text><text x="399.2" y="57.5" font-size="11" text-anchor="start" font-weight="normal">Ba<tspan dy="2.8" font-size="8.5">3</tspan><tspan dx="0.7" dy="-2.8">Zr</tspan><tspan dy="2.8" font-size="8.5">2</tspan><tspan dx="0.7" dy="-2.8">S</tspan><tspan dy="2.8" font-size="8.5">7</tspan></text><path d="M296.00 223v-5M296.00 22v5M353.50 223v-5M353.50 22v5M411.00 223v-5M411.00 22v5M296 223.00h5M457 223.00h-5M296 189.50h5M457 189.50h-5M296 156.00h5M457 156.00h-5M296 122.50h5M457 122.50h-5M296 89.00h5M457 89.00h-5M296 55.50h5M457 55.50h-5M296 22.00h5M457 22.00h-5" stroke="#000" stroke-width="1.1" fill="none"/><path d="M307.50 223v-3M307.50 22v3M319.00 223v-3M319.00 22v3M330.50 223v-3M330.50 22v3M342.00 223v-3M342.00 22v3M365.00 223v-3M365.00 22v3M376.50 223v-3M376.50 22v3M388.00 223v-3M388.00 22v3M399.50 223v-3M399.50 22v3M422.50 223v-3M422.50 22v3M434.00 223v-3M434.00 22v3M445.50 223v-3M445.50 22v3M457.00 223v-3M457.00 22v3M296 214.62h3M457 214.62h-3M296 206.25h3M457 206.25h-3M296 197.88h3M457 197.88h-3M296 181.12h3M457 181.12h-3M296 172.75h3M457 172.75h-3M296 164.38h3M457 164.38h-3M296 147.62h3M457 147.62h-3M296 139.25h3M457 139.25h-3M296 130.88h3M457 130.88h-3M296 114.12h3M457 114.12h-3M296 105.75h3M457 105.75h-3M296 97.38h3M457 97.38h-3M296 80.62h3M457 80.62h-3M296 72.25h3M457 72.25h-3M296 63.88h3M457 63.88h-3M296 47.12h3M457 47.12h-3M296 38.75h3M457 38.75h-3M296 30.38h3M457 30.38h-3" stroke="#000" stroke-width="0.9" fill="none"/><rect x="296" y="22" width="161" height="201" fill="none" stroke="#000" stroke-width="1.2"/><text x="291" y="226.78" font-size="10.5" text-anchor="end" font-weight="normal">0</text><text x="291" y="193.28" font-size="10.5" text-anchor="end" font-weight="normal">2</text><text x="291" y="159.78" font-size="10.5" text-anchor="end" font-weight="normal">4</text><text x="291" y="126.28" font-size="10.5" text-anchor="end" font-weight="normal">6</text><text x="291" y="92.78" font-size="10.5" text-anchor="end" font-weight="normal">8</text><text x="291" y="59.28" font-size="10.5" text-anchor="end" font-weight="normal">10</text><text x="291" y="25.78" font-size="10.5" text-anchor="end" font-weight="normal">12</text><text x="296.0" y="235.56" font-size="10.5" text-anchor="middle" font-weight="normal">0</text><text x="353.5" y="235.56" font-size="10.5" text-anchor="middle" font-weight="normal">5</text><text x="411.0" y="235.56" font-size="10.5" text-anchor="middle" font-weight="normal">10</text><text x="376.5" y="247" font-size="11.5" text-anchor="middle" font-weight="normal">Frequency (THz)</text><text x="274" y="122" font-size="11.5" text-anchor="middle" font-weight="normal" transform="rotate(-90 274 122)">v<tspan dy="1.8" font-size="9.5" font-style="italic">g</tspan><tspan dy="-1.8"> (km/s)</tspan></text><text x="295.6" y="12.7" font-size="13.7" text-anchor="start" font-weight="bold">c v<tspan dy="2.5" font-size="10" font-weight="normal" font-style="italic">g</tspan></text><clipPath id="clipe"><rect x="514" y="22" width="162" height="201"/></clipPath><g clip-path="url(#clipe)"><path d="M516.3 21.5L524.5 21.5L529.0 31.3L531.4 43.0L532.6 52.2L537.3 62.7L545.0 63.0L555.0 65.0L565.0 66.0L572.0 68.0L580.0 66.0L590.0 62.6L596.0 61.0L601.0 63.0L603.0 70.0L603.5 90.0L602.5 120.0L602.0 160.0L598.0 150.0L590.0 140.0L580.0 145.0L570.0 138.0L560.0 146.0L550.0 140.0L540.0 150.0L530.0 148.0L524.5 160.0L524.5 100.0L524.0 82.0L524.5 62.7L523.9 51.0L522.7 39.4L521.0 31.3Z" fill="#0808f8" fill-opacity="1.0"/><path d="M615.5 191.0L615.5 105.0L617.0 98.0L620.0 96.5L624.0 97.0L626.0 102.0L626.0 191.0Z" fill="#0808f8" fill-opacity="1.0"/><path d="M647.0 179.0L647.0 150.0L648.5 120.0L650.0 100.0L652.0 95.0L657.0 93.0L662.0 93.5L664.5 96.0L664.0 120.0L662.5 150.0L661.5 179.0Z" fill="#0808f8" fill-opacity="1.0"/><g fill="none" stroke="#0000ff" stroke-opacity="0.3" stroke-width="0.9"><circle cx="578.0" cy="99.0" r="1.5"/><circle cx="543.7" cy="32.7" r="1.5"/><circle cx="536.5" cy="51.8" r="1.5"/><circle cx="571.8" cy="55.5" r="1.5"/><circle cx="533.7" cy="37.2" r="1.5"/><circle cx="548.3" cy="42.9" r="1.5"/><circle cx="561.9" cy="43.0" r="1.5"/><circle cx="542.2" cy="40.9" r="1.5"/><circle cx="573.1" cy="51.9" r="1.5"/><circle cx="559.1" cy="74.7" r="1.5"/><circle cx="536.2" cy="40.3" r="1.5"/><circle cx="536.5" cy="28.5" r="1.5"/><circle cx="581.8" cy="80.5" r="1.5"/><circle cx="548.0" cy="28.4" r="1.5"/><circle cx="540.1" cy="60.6" r="1.5"/><circle cx="549.5" cy="45.5" r="1.5"/><circle cx="574.8" cy="53.8" r="1.5"/><circle cx="540.9" cy="38.4" r="1.5"/><circle cx="554.6" cy="80.8" r="1.5"/><circle cx="583.9" cy="80.5" r="1.5"/><circle cx="555.2" cy="54.8" r="1.5"/><circle cx="564.8" cy="58.3" r="1.5"/><circle cx="583.6" cy="86.3" r="1.5"/><circle cx="535.5" cy="47.0" r="1.5"/><circle cx="556.6" cy="73.6" r="1.5"/><circle cx="569.5" cy="62.2" r="1.5"/><circle cx="542.0" cy="53.4" r="1.5"/><circle cx="581.4" cy="56.2" r="1.5"/><circle cx="557.4" cy="58.2" r="1.5"/><circle cx="550.4" cy="70.3" r="1.5"/><circle cx="545.1" cy="33.8" r="1.5"/><circle cx="553.9" cy="71.4" r="1.5"/><circle cx="553.0" cy="65.1" r="1.5"/><circle cx="578.7" cy="75.2" r="1.5"/><circle cx="586.2" cy="82.2" r="1.5"/><circle cx="586.3" cy="64.9" r="1.5"/><circle cx="566.5" cy="59.3" r="1.5"/><circle cx="551.3" cy="28.2" r="1.5"/><circle cx="548.9" cy="26.8" r="1.5"/><circle cx="549.8" cy="34.9" r="1.5"/><circle cx="580.6" cy="91.6" r="1.5"/><circle cx="586.4" cy="97.2" r="1.5"/><circle cx="559.3" cy="58.6" r="1.5"/><circle cx="562.1" cy="40.6" r="1.5"/><circle cx="555.1" cy="67.3" r="1.5"/><circle cx="547.4" cy="57.7" r="1.5"/><circle cx="533.6" cy="34.2" r="1.5"/><circle cx="560.6" cy="64.7" r="1.5"/><circle cx="576.5" cy="97.4" r="1.5"/><circle cx="553.0" cy="64.2" r="1.5"/><circle cx="545.3" cy="36.9" r="1.5"/><circle cx="562.7" cy="46.9" r="1.5"/><circle cx="539.0" cy="39.3" r="1.5"/><circle cx="546.6" cy="24.1" r="1.5"/><circle cx="561.1" cy="37.9" r="1.5"/><circle cx="588.3" cy="66.7" r="1.5"/><circle cx="548.3" cy="61.1" r="1.5"/><circle cx="541.1" cy="26.1" r="1.5"/><circle cx="582.7" cy="59.9" r="1.5"/><circle cx="557.9" cy="49.3" r="1.5"/><circle cx="570.3" cy="53.5" r="1.5"/><circle cx="553.2" cy="52.6" r="1.5"/><circle cx="590.1" cy="77.1" r="1.5"/><circle cx="537.8" cy="29.9" r="1.5"/><circle cx="537.7" cy="63.1" r="1.5"/><circle cx="588.7" cy="73.9" r="1.5"/><circle cx="582.1" cy="93.3" r="1.5"/><circle cx="562.6" cy="90.7" r="1.5"/><circle cx="539.2" cy="45.8" r="1.5"/><circle cx="541.7" cy="70.2" r="1.5"/><circle cx="568.6" cy="58.9" r="1.5"/><circle cx="576.4" cy="51.8" r="1.5"/><circle cx="564.7" cy="75.3" r="1.5"/><circle cx="540.8" cy="41.2" r="1.5"/><circle cx="575.8" cy="52.3" r="1.5"/><circle cx="575.2" cy="61.9" r="1.5"/><circle cx="563.0" cy="75.5" r="1.5"/><circle cx="579.2" cy="65.0" r="1.5"/><circle cx="568.5" cy="72.6" r="1.5"/><circle cx="544.6" cy="40.0" r="1.5"/><circle cx="540.3" cy="28.3" r="1.5"/><circle cx="570.2" cy="79.9" r="1.5"/><circle cx="567.9" cy="45.3" r="1.5"/><circle cx="552.1" cy="79.9" r="1.5"/><circle cx="556.6" cy="43.9" r="1.5"/><circle cx="550.8" cy="64.2" r="1.5"/><circle cx="575.7" cy="60.1" r="1.5"/><circle cx="563.6" cy="49.0" r="1.5"/><circle cx="584.4" cy="62.2" r="1.5"/><circle cx="571.7" cy="80.2" r="1.5"/><circle cx="570.0" cy="90.7" r="1.5"/><circle cx="540.6" cy="56.0" r="1.5"/><circle cx="582.6" cy="81.9" r="1.5"/><circle cx="554.1" cy="73.4" r="1.5"/><circle cx="564.8" cy="91.9" r="1.5"/><circle cx="549.0" cy="56.0" r="1.5"/><circle cx="552.7" cy="34.0" r="1.5"/><circle cx="559.7" cy="74.0" r="1.5"/><circle cx="540.3" cy="30.3" r="1.5"/><circle cx="537.3" cy="25.4" r="1.5"/><circle cx="552.9" cy="75.0" r="1.5"/><circle cx="589.7" cy="85.8" r="1.5"/><circle cx="589.2" cy="84.8" r="1.5"/><circle cx="556.6" cy="56.4" r="1.5"/><circle cx="557.1" cy="44.2" r="1.5"/><circle cx="578.6" cy="71.3" r="1.5"/><circle cx="574.6" cy="62.9" r="1.5"/><circle cx="550.5" cy="37.2" r="1.5"/><circle cx="557.2" cy="58.4" r="1.5"/><circle cx="545.5" cy="61.5" r="1.5"/><circle cx="572.1" cy="83.3" r="1.5"/><circle cx="547.9" cy="59.9" r="1.5"/><circle cx="579.4" cy="56.8" r="1.5"/><circle cx="577.5" cy="68.5" r="1.5"/><circle cx="581.6" cy="56.2" r="1.5"/><circle cx="581.3" cy="91.8" r="1.5"/><circle cx="557.5" cy="55.3" r="1.5"/><circle cx="562.1" cy="64.0" r="1.5"/><circle cx="570.1" cy="70.5" r="1.5"/><circle cx="533.9" cy="30.8" r="1.5"/><circle cx="551.3" cy="48.9" r="1.5"/><circle cx="554.0" cy="71.9" r="1.5"/><circle cx="552.4" cy="55.8" r="1.5"/><circle cx="574.9" cy="88.9" r="1.5"/><circle cx="589.5" cy="81.0" r="1.5"/><circle cx="567.1" cy="45.3" r="1.5"/><circle cx="570.6" cy="47.3" r="1.5"/><circle cx="557.3" cy="33.6" r="1.5"/><circle cx="568.9" cy="87.5" r="1.5"/><circle cx="549.9" cy="78.4" r="1.5"/><circle cx="559.3" cy="59.0" r="1.5"/><circle cx="560.1" cy="75.6" r="1.5"/><circle cx="575.8" cy="67.6" r="1.5"/><circle cx="550.9" cy="55.2" r="1.5"/><circle cx="547.8" cy="26.3" r="1.5"/><circle cx="555.1" cy="61.1" r="1.5"/><circle cx="539.1" cy="40.8" r="1.5"/><circle cx="549.1" cy="51.8" r="1.5"/><circle cx="535.8" cy="42.2" r="1.5"/><circle cx="557.6" cy="65.1" r="1.5"/><circle cx="588.4" cy="86.0" r="1.5"/><circle cx="546.4" cy="52.7" r="1.5"/><circle cx="538.7" cy="51.6" r="1.5"/><circle cx="567.1" cy="85.2" r="1.5"/><circle cx="580.1" cy="92.7" r="1.5"/><circle cx="546.3" cy="27.2" r="1.5"/><circle cx="549.1" cy="74.2" r="1.5"/><circle cx="572.2" cy="59.1" r="1.5"/><circle cx="535.2" cy="53.8" r="1.5"/><circle cx="554.0" cy="72.4" r="1.5"/><circle cx="569.6" cy="53.8" r="1.5"/><circle cx="589.5" cy="70.9" r="1.5"/><circle cx="568.0" cy="79.0" r="1.5"/><circle cx="580.6" cy="93.3" r="1.5"/><circle cx="550.9" cy="68.6" r="1.5"/><circle cx="542.3" cy="64.2" r="1.5"/><circle cx="540.8" cy="56.4" r="1.5"/><circle cx="559.5" cy="76.5" r="1.5"/><circle cx="561.2" cy="88.8" r="1.5"/><circle cx="542.5" cy="30.9" r="1.5"/><circle cx="566.7" cy="51.7" r="1.5"/><circle cx="566.2" cy="82.0" r="1.5"/><circle cx="578.0" cy="94.0" r="1.5"/><circle cx="575.9" cy="91.1" r="1.5"/><circle cx="568.1" cy="92.3" r="1.5"/><circle cx="582.6" cy="85.2" r="1.5"/><circle cx="575.6" cy="56.5" r="1.5"/><circle cx="538.8" cy="38.5" r="1.5"/><circle cx="589.5" cy="73.2" r="1.5"/><circle cx="551.2" cy="76.7" r="1.5"/><circle cx="559.2" cy="52.1" r="1.5"/><circle cx="546.1" cy="23.1" r="1.5"/><circle cx="565.3" cy="54.8" r="1.5"/><circle cx="555.0" cy="30.9" r="1.5"/><circle cx="553.3" cy="36.9" r="1.5"/><circle cx="541.3" cy="27.2" r="1.5"/><circle cx="568.6" cy="71.3" r="1.5"/><circle cx="562.3" cy="85.6" r="1.5"/><circle cx="546.2" cy="60.8" r="1.5"/><circle cx="559.5" cy="70.9" r="1.5"/><circle cx="580.7" cy="99.3" r="1.5"/><circle cx="571.5" cy="98.0" r="1.5"/><circle cx="543.1" cy="62.9" r="1.5"/><circle cx="553.6" cy="73.7" r="1.5"/><circle cx="586.9" cy="73.9" r="1.5"/><circle cx="583.8" cy="71.3" r="1.5"/><circle cx="570.8" cy="53.3" r="1.5"/><circle cx="586.0" cy="66.3" r="1.5"/><circle cx="563.0" cy="70.9" r="1.5"/><circle cx="551.7" cy="53.5" r="1.5"/><circle cx="573.2" cy="76.1" r="1.5"/><circle cx="582.8" cy="84.0" r="1.5"/><circle cx="558.7" cy="79.1" r="1.5"/><circle cx="567.7" cy="91.6" r="1.5"/><circle cx="531.5" cy="31.1" r="1.5"/><circle cx="579.7" cy="75.1" r="1.5"/><circle cx="574.3" cy="52.6" r="1.5"/><circle cx="572.2" cy="56.1" r="1.5"/><circle cx="532.2" cy="47.0" r="1.5"/><circle cx="580.7" cy="98.4" r="1.5"/><circle cx="566.2" cy="82.5" r="1.5"/><circle cx="568.7" cy="86.7" r="1.5"/><circle cx="590.7" cy="84.8" r="1.5"/><circle cx="535.0" cy="39.9" r="1.5"/><circle cx="567.3" cy="46.5" r="1.5"/><circle cx="584.2" cy="65.2" r="1.5"/><circle cx="550.9" cy="52.0" r="1.5"/><circle cx="539.2" cy="31.6" r="1.5"/><circle cx="573.6" cy="54.1" r="1.5"/><circle cx="560.9" cy="47.1" r="1.5"/><circle cx="570.2" cy="52.2" r="1.5"/><circle cx="587.3" cy="76.0" r="1.5"/><circle cx="532.1" cy="43.6" r="1.5"/><circle cx="533.9" cy="41.8" r="1.5"/><circle cx="587.7" cy="60.5" r="1.5"/><circle cx="557.5" cy="52.7" r="1.5"/><circle cx="552.3" cy="79.9" r="1.5"/><circle cx="555.9" cy="42.9" r="1.5"/><circle cx="585.0" cy="99.8" r="1.5"/><circle cx="534.1" cy="44.9" r="1.5"/><circle cx="583.8" cy="90.3" r="1.5"/><circle cx="582.1" cy="64.2" r="1.5"/><circle cx="546.5" cy="46.8" r="1.5"/><circle cx="562.3" cy="63.3" r="1.5"/><circle cx="586.3" cy="76.5" r="1.5"/><circle cx="560.2" cy="37.3" r="1.5"/><circle cx="581.3" cy="88.7" r="1.5"/><circle cx="582.0" cy="87.2" r="1.5"/><circle cx="563.6" cy="81.7" r="1.5"/><circle cx="552.7" cy="35.7" r="1.5"/><circle cx="568.4" cy="53.6" r="1.5"/><circle cx="576.0" cy="84.5" r="1.5"/><circle cx="585.3" cy="73.1" r="1.5"/><circle cx="544.8" cy="30.1" r="1.5"/><circle cx="566.3" cy="65.5" r="1.5"/><circle cx="576.3" cy="61.5" r="1.5"/><circle cx="588.4" cy="89.6" r="1.5"/><circle cx="547.6" cy="28.1" r="1.5"/><circle cx="537.8" cy="30.4" r="1.5"/><circle cx="576.4" cy="88.9" r="1.5"/><circle cx="581.3" cy="92.2" r="1.5"/><circle cx="578.7" cy="64.6" r="1.5"/><circle cx="549.5" cy="39.8" r="1.5"/><circle cx="572.6" cy="82.1" r="1.5"/><circle cx="535.0" cy="46.6" r="1.5"/><circle cx="552.1" cy="39.8" r="1.5"/><circle cx="545.3" cy="63.9" r="1.5"/><circle cx="541.5" cy="59.6" r="1.5"/><circle cx="566.9" cy="48.6" r="1.5"/><circle cx="575.2" cy="90.9" r="1.5"/><circle cx="574.5" cy="81.0" r="1.5"/><circle cx="533.2" cy="42.1" r="1.5"/><circle cx="537.5" cy="60.5" r="1.5"/><circle cx="554.3" cy="38.0" r="1.5"/><circle cx="551.1" cy="53.4" r="1.5"/><circle cx="554.5" cy="75.1" r="1.5"/><circle cx="581.9" cy="92.2" r="1.5"/><circle cx="554.1" cy="51.2" r="1.5"/><circle cx="563.5" cy="89.2" r="1.5"/><circle cx="570.9" cy="80.0" r="1.5"/><circle cx="564.4" cy="53.8" r="1.5"/><circle cx="565.9" cy="88.7" r="1.5"/><circle cx="549.3" cy="59.6" r="1.5"/><circle cx="562.2" cy="67.3" r="1.5"/><circle cx="573.8" cy="92.4" r="1.5"/><circle cx="545.2" cy="39.8" r="1.5"/><circle cx="538.8" cy="59.7" r="1.5"/><circle cx="585.3" cy="97.3" r="1.5"/><circle cx="570.0" cy="52.8" r="1.5"/><circle cx="582.9" cy="85.5" r="1.5"/><circle cx="546.2" cy="26.6" r="1.5"/><circle cx="542.2" cy="39.2" r="1.5"/><circle cx="553.6" cy="35.2" r="1.5"/><circle cx="550.2" cy="70.9" r="1.5"/><circle cx="582.4" cy="92.3" r="1.5"/><circle cx="555.2" cy="39.9" r="1.5"/><circle cx="575.8" cy="56.5" r="1.5"/><circle cx="590.6" cy="93.0" r="1.5"/><circle cx="555.6" cy="71.1" r="1.5"/><circle cx="542.4" cy="42.8" r="1.5"/><circle cx="575.4" cy="98.7" r="1.5"/><circle cx="571.6" cy="86.4" r="1.5"/><circle cx="541.1" cy="27.1" r="1.5"/><circle cx="580.5" cy="90.9" r="1.5"/><circle cx="532.2" cy="38.4" r="1.5"/><circle cx="566.1" cy="81.2" r="1.5"/><circle cx="569.1" cy="60.1" r="1.5"/><circle cx="540.3" cy="57.3" r="1.5"/><circle cx="553.6" cy="56.4" r="1.5"/><circle cx="550.9" cy="68.3" r="1.5"/><circle cx="569.1" cy="75.8" r="1.5"/><circle cx="557.0" cy="63.5" r="1.5"/><circle cx="553.8" cy="40.8" r="1.5"/><circle cx="558.9" cy="76.0" r="1.5"/><circle cx="552.0" cy="66.1" r="1.5"/><circle cx="557.8" cy="43.8" r="1.5"/><circle cx="562.9" cy="55.2" r="1.5"/><circle cx="550.7" cy="60.1" r="1.5"/><circle cx="568.5" cy="78.1" r="1.5"/><circle cx="544.6" cy="57.0" r="1.5"/><circle cx="583.6" cy="69.2" r="1.5"/><circle cx="574.9" cy="87.4" r="1.5"/><circle cx="533.4" cy="27.9" r="1.5"/><circle cx="570.5" cy="62.4" r="1.5"/><circle cx="555.4" cy="58.0" r="1.5"/><circle cx="558.8" cy="77.6" r="1.5"/><circle cx="536.6" cy="33.8" r="1.5"/><circle cx="554.4" cy="78.2" r="1.5"/><circle cx="578.1" cy="78.5" r="1.5"/><circle cx="572.5" cy="73.0" r="1.5"/><circle cx="533.9" cy="27.8" r="1.5"/><circle cx="562.2" cy="71.5" r="1.5"/><circle cx="543.0" cy="35.3" r="1.5"/><circle cx="564.6" cy="77.5" r="1.5"/><circle cx="559.3" cy="41.4" r="1.5"/><circle cx="540.8" cy="25.6" r="1.5"/><circle cx="541.8" cy="68.2" r="1.5"/><circle cx="557.9" cy="69.1" r="1.5"/><circle cx="584.4" cy="85.6" r="1.5"/><circle cx="544.3" cy="68.4" r="1.5"/><circle cx="556.7" cy="80.9" r="1.5"/><circle cx="533.1" cy="35.6" r="1.5"/><circle cx="559.6" cy="70.7" r="1.5"/><circle cx="588.0" cy="92.3" r="1.5"/><circle cx="563.8" cy="78.2" r="1.5"/><circle cx="570.1" cy="72.0" r="1.5"/><circle cx="586.2" cy="61.2" r="1.5"/><circle cx="560.9" cy="42.6" r="1.5"/><circle cx="566.9" cy="54.7" r="1.5"/><circle cx="547.1" cy="61.5" r="1.5"/><circle cx="567.3" cy="44.2" r="1.5"/><circle cx="552.3" cy="37.9" r="1.5"/><circle cx="570.4" cy="72.0" r="1.5"/><circle cx="550.2" cy="42.8" r="1.5"/><circle cx="579.8" cy="54.3" r="1.5"/><circle cx="565.0" cy="79.9" r="1.5"/><circle cx="542.0" cy="70.0" r="1.5"/><circle cx="534.1" cy="25.0" r="1.5"/><circle cx="557.8" cy="82.5" r="1.5"/><circle cx="585.6" cy="75.7" r="1.5"/><circle cx="576.4" cy="66.3" r="1.5"/><circle cx="575.5" cy="92.9" r="1.5"/><circle cx="541.3" cy="38.5" r="1.5"/><circle cx="555.0" cy="48.2" r="1.5"/><circle cx="568.4" cy="57.7" r="1.5"/><circle cx="572.7" cy="61.6" r="1.5"/><circle cx="538.4" cy="44.3" r="1.5"/><circle cx="575.5" cy="66.2" r="1.5"/><circle cx="563.1" cy="49.1" r="1.5"/><circle cx="558.3" cy="86.1" r="1.5"/><circle cx="569.8" cy="56.2" r="1.5"/><circle cx="567.7" cy="91.3" r="1.5"/><circle cx="582.9" cy="65.4" r="1.5"/><circle cx="578.4" cy="69.9" r="1.5"/><circle cx="539.4" cy="54.8" r="1.5"/><circle cx="588.0" cy="97.0" r="1.5"/><circle cx="567.2" cy="43.9" r="1.5"/><circle cx="574.6" cy="55.4" r="1.5"/><circle cx="552.3" cy="45.6" r="1.5"/><circle cx="554.9" cy="44.2" r="1.5"/><circle cx="577.1" cy="79.1" r="1.5"/><circle cx="587.0" cy="86.6" r="1.5"/><circle cx="564.4" cy="49.8" r="1.5"/><circle cx="539.3" cy="62.7" r="1.5"/><circle cx="549.6" cy="67.6" r="1.5"/><circle cx="548.6" cy="74.5" r="1.5"/><circle cx="588.8" cy="96.6" r="1.5"/><circle cx="543.5" cy="44.0" r="1.5"/><circle cx="543.9" cy="41.9" r="1.5"/><circle cx="581.7" cy="63.9" r="1.5"/><circle cx="563.5" cy="74.9" r="1.5"/><circle cx="564.9" cy="62.5" r="1.5"/><circle cx="550.8" cy="28.3" r="1.5"/><circle cx="539.5" cy="25.6" r="1.5"/><circle cx="546.6" cy="33.3" r="1.5"/><circle cx="571.1" cy="67.5" r="1.5"/><circle cx="569.3" cy="94.5" r="1.5"/><circle cx="552.4" cy="80.8" r="1.5"/><circle cx="586.3" cy="80.0" r="1.5"/><circle cx="555.2" cy="53.7" r="1.5"/><circle cx="571.6" cy="95.4" r="1.5"/><circle cx="567.4" cy="77.7" r="1.5"/><circle cx="547.9" cy="70.0" r="1.5"/><circle cx="562.6" cy="51.3" r="1.5"/><circle cx="558.4" cy="39.6" r="1.5"/><circle cx="557.3" cy="80.4" r="1.5"/><circle cx="578.1" cy="58.9" r="1.5"/><circle cx="577.6" cy="62.0" r="1.5"/><circle cx="578.1" cy="66.3" r="1.5"/><circle cx="533.2" cy="40.7" r="1.5"/><circle cx="555.8" cy="81.9" r="1.5"/><circle cx="559.9" cy="85.8" r="1.5"/><circle cx="543.4" cy="28.5" r="1.5"/><circle cx="565.6" cy="53.8" r="1.5"/><circle cx="563.7" cy="83.0" r="1.5"/><circle cx="563.9" cy="70.5" r="1.5"/><circle cx="544.3" cy="42.0" r="1.5"/><circle cx="568.0" cy="50.7" r="1.5"/><circle cx="562.0" cy="74.7" r="1.5"/><circle cx="550.4" cy="76.9" r="1.5"/><circle cx="576.6" cy="54.9" r="1.5"/><circle cx="538.4" cy="36.3" r="1.5"/><circle cx="563.9" cy="59.7" r="1.5"/><circle cx="554.2" cy="32.0" r="1.5"/><circle cx="566.2" cy="58.3" r="1.5"/><circle cx="534.8" cy="38.7" r="1.5"/><circle cx="550.8" cy="77.4" r="1.5"/><circle cx="531.4" cy="30.7" r="1.5"/><circle cx="563.8" cy="80.5" r="1.5"/><circle cx="564.7" cy="90.7" r="1.5"/><circle cx="583.9" cy="87.8" r="1.5"/><circle cx="568.4" cy="73.0" r="1.5"/><circle cx="570.1" cy="61.4" r="1.5"/><circle cx="545.4" cy="42.9" r="1.5"/><circle cx="576.3" cy="65.3" r="1.5"/><circle cx="566.9" cy="79.5" r="1.5"/><circle cx="558.8" cy="68.6" r="1.5"/><circle cx="580.8" cy="62.2" r="1.5"/><circle cx="531.4" cy="27.9" r="1.5"/><circle cx="549.5" cy="55.9" r="1.5"/><circle cx="648.3" cy="127.3" r="1.5"/><circle cx="640.4" cy="180.9" r="1.5"/><circle cx="645.2" cy="168.1" r="1.5"/><circle cx="641.8" cy="147.9" r="1.5"/><circle cx="628.4" cy="124.8" r="1.5"/><circle cx="643.2" cy="133.6" r="1.5"/><circle cx="640.3" cy="157.7" r="1.5"/><circle cx="641.3" cy="97.6" r="1.5"/><circle cx="640.6" cy="163.5" r="1.5"/><circle cx="649.7" cy="101.5" r="1.5"/><circle cx="630.2" cy="158.3" r="1.5"/><circle cx="630.2" cy="167.6" r="1.5"/><circle cx="626.9" cy="142.2" r="1.5"/><circle cx="630.3" cy="121.4" r="1.5"/><circle cx="627.2" cy="114.9" r="1.5"/><circle cx="643.5" cy="165.0" r="1.5"/><circle cx="644.1" cy="123.3" r="1.5"/><circle cx="638.8" cy="141.2" r="1.5"/><circle cx="633.8" cy="135.6" r="1.5"/><circle cx="636.3" cy="160.0" r="1.5"/><circle cx="648.4" cy="95.4" r="1.5"/><circle cx="633.5" cy="165.6" r="1.5"/><circle cx="636.9" cy="123.4" r="1.5"/><circle cx="641.7" cy="122.9" r="1.5"/><circle cx="629.4" cy="140.9" r="1.5"/><circle cx="628.5" cy="165.1" r="1.5"/><circle cx="637.1" cy="111.2" r="1.5"/><circle cx="642.2" cy="151.9" r="1.5"/><circle cx="633.0" cy="104.9" r="1.5"/><circle cx="638.3" cy="128.9" r="1.5"/><circle cx="636.5" cy="127.6" r="1.5"/><circle cx="633.6" cy="143.9" r="1.5"/><circle cx="637.2" cy="165.1" r="1.5"/><circle cx="644.2" cy="164.4" r="1.5"/><circle cx="633.5" cy="112.3" r="1.5"/><circle cx="639.1" cy="105.2" r="1.5"/><circle cx="630.5" cy="115.6" r="1.5"/><circle cx="627.1" cy="113.8" r="1.5"/><circle cx="642.3" cy="151.4" r="1.5"/><circle cx="639.9" cy="160.7" r="1.5"/><circle cx="647.2" cy="127.5" r="1.5"/><circle cx="641.3" cy="153.3" r="1.5"/><circle cx="633.6" cy="128.7" r="1.5"/><circle cx="629.3" cy="112.6" r="1.5"/><circle cx="645.6" cy="146.3" r="1.5"/><circle cx="642.4" cy="181.1" r="1.5"/><circle cx="628.5" cy="104.8" r="1.5"/><circle cx="636.6" cy="113.5" r="1.5"/><circle cx="639.8" cy="169.4" r="1.5"/><circle cx="641.7" cy="110.1" r="1.5"/><circle cx="635.9" cy="119.1" r="1.5"/><circle cx="644.3" cy="116.3" r="1.5"/><circle cx="645.8" cy="118.5" r="1.5"/><circle cx="639.4" cy="161.2" r="1.5"/><circle cx="630.1" cy="131.4" r="1.5"/><circle cx="639.0" cy="155.8" r="1.5"/><circle cx="645.3" cy="97.2" r="1.5"/><circle cx="640.7" cy="180.6" r="1.5"/><circle cx="648.5" cy="112.0" r="1.5"/><circle cx="641.9" cy="131.8" r="1.5"/><circle cx="637.7" cy="97.0" r="1.5"/><circle cx="636.1" cy="146.2" r="1.5"/><circle cx="630.1" cy="175.2" r="1.5"/><circle cx="646.1" cy="145.7" r="1.5"/><circle cx="629.6" cy="112.7" r="1.5"/><circle cx="638.2" cy="167.3" r="1.5"/><circle cx="641.6" cy="131.0" r="1.5"/><circle cx="635.6" cy="156.3" r="1.5"/><circle cx="642.2" cy="165.6" r="1.5"/><circle cx="636.1" cy="136.8" r="1.5"/><circle cx="624.5" cy="180.0" r="1.5"/><circle cx="626.1" cy="174.9" r="1.5"/><circle cx="627.7" cy="169.8" r="1.5"/><circle cx="629.3" cy="164.7" r="1.5"/><circle cx="630.9" cy="159.6" r="1.5"/><circle cx="632.5" cy="154.5" r="1.5"/><circle cx="634.1" cy="149.4" r="1.5"/><circle cx="635.7" cy="144.3" r="1.5"/><circle cx="637.3" cy="139.2" r="1.5"/><circle cx="638.9" cy="134.1" r="1.5"/><circle cx="640.5" cy="129.0" r="1.5"/><circle cx="642.1" cy="123.9" r="1.5"/><circle cx="643.7" cy="118.8" r="1.5"/><circle cx="645.3" cy="113.7" r="1.5"/><circle cx="646.9" cy="108.6" r="1.5"/><circle cx="648.5" cy="103.5" r="1.5"/><circle cx="650.1" cy="98.4" r="1.5"/><circle cx="627.0" cy="99.0" r="1.5"/><circle cx="628.8" cy="98.8" r="1.5"/><circle cx="630.6" cy="98.5" r="1.5"/><circle cx="632.4" cy="98.2" r="1.5"/><circle cx="634.2" cy="98.0" r="1.5"/><circle cx="636.0" cy="97.8" r="1.5"/><circle cx="637.8" cy="97.5" r="1.5"/><circle cx="639.6" cy="97.2" r="1.5"/><circle cx="641.4" cy="97.0" r="1.5"/><circle cx="643.2" cy="96.8" r="1.5"/><circle cx="645.0" cy="96.5" r="1.5"/><circle cx="646.8" cy="96.2" r="1.5"/><circle cx="648.6" cy="96.0" r="1.5"/><circle cx="617.7" cy="189.0" r="1.5"/><circle cx="619.5" cy="185.2" r="1.5"/><circle cx="624.6" cy="183.7" r="1.5"/><circle cx="615.2" cy="199.1" r="1.5"/><circle cx="622.5" cy="189.7" r="1.5"/><circle cx="625.6" cy="187.9" r="1.5"/><circle cx="615.9" cy="187.0" r="1.5"/><circle cx="616.8" cy="199.7" r="1.5"/><circle cx="624.7" cy="189.9" r="1.5"/><circle cx="619.4" cy="189.0" r="1.5"/><circle cx="622.9" cy="185.0" r="1.5"/><circle cx="621.9" cy="182.8" r="1.5"/><circle cx="525.2" cy="99.4" r="1.5"/></g><defs><linearGradient id="eg" x1="0" y1="100" x2="0" y2="175" gradientUnits="userSpaceOnUse"><stop offset="0" stop-color="#f51010" stop-opacity="0"/><stop offset="1" stop-color="#f51010" stop-opacity="0.75"/></linearGradient></defs><path d="M524.6 100.0L603.0 100.0L602.0 150.0L603.0 200.0L600.0 188.7L593.0 197.0L586.0 191.0L578.7 206.7L571.6 205.5L564.4 206.7L559.6 205.5L552.4 200.7L545.2 191.0L540.4 196.0L535.6 212.7L528.4 215.0L526.0 205.5L524.6 190.0L524.6 130.0Z" fill="url(#eg)"/><path d="M525.5 127.0V141.0M525.5 152.6V192.3M556.3 55.3V66.7M556.3 70.3V191.9" stroke="#f51515" stroke-width="2.3" stroke-linecap="round"/><path d="M527.7 93.8V140.6M527.7 151.5V205.7M565.1 80.2V116.7M565.1 122.5V197.3M573.9 112.2V163.7M573.9 170.0V205.6M578.3 106.8V154.3M578.3 160.7V202.1" stroke="#f51515" stroke-width="1.5" stroke-linecap="round"/><path d="M529.9 111.9V175.2M529.9 182.9V207.5M554.1 56.1V195.5M584.9 87.1V124.4M584.9 133.8V191.2" stroke="#f51515" stroke-width="1.6" stroke-linecap="round"/><path d="M532.1 83.4V98.4M532.1 104.6V204.9M569.5 78.6V205.2M595.9 129.4V183.1M598.1 137.0V164.1M598.1 169.8V187.5M600.3 112.5V176.4M600.3 184.4V187.1" stroke="#f51515" stroke-width="1.8" stroke-linecap="round"/><path d="M534.3 80.4V128.2M534.3 132.9V204.1M536.5 91.0V204.2M558.5 102.3V134.1M558.5 147.5V199.9M560.7 105.6V173.5M560.7 183.2V203.3M580.5 101.0V183.3M580.5 191.5V195.5" stroke="#f51515" stroke-width="1.3" stroke-linecap="round"/><path d="M538.7 81.3V126.1M538.7 133.4V199.9M582.7 100.2V195.6M593.7 131.2V179.0M593.7 191.1V192.1" stroke="#f51515" stroke-width="2.1" stroke-linecap="round"/><path d="M540.9 88.2V165.8M540.9 177.4V183.8" stroke="#f51515" stroke-width="2.2" stroke-linecap="round"/><path d="M543.1 86.4V174.5M543.1 181.5V189.5" stroke="#f51515" stroke-width="1.4" stroke-linecap="round"/><path d="M545.3 87.0V148.9M545.3 152.4V180.1M571.7 89.3V133.7M571.7 140.7V197.1M602.5 126.5V188.9" stroke="#f51515" stroke-width="2.5" stroke-linecap="round"/><path d="M547.5 78.1V101.1M547.5 107.0V188.0M551.9 62.5V165.2M551.9 170.6V196.0M562.9 105.4V195.1" stroke="#f51515" stroke-width="2.0" stroke-linecap="round"/><path d="M549.7 96.3V139.2M549.7 151.8V188.9" stroke="#f51515" stroke-width="2.6" stroke-linecap="round"/><path d="M567.3 75.2V175.1M567.3 182.8V198.9" stroke="#f51515" stroke-width="2.4" stroke-linecap="round"/><path d="M576.1 106.2V205.1M587.1 129.1V154.2M587.1 163.9V187.7M591.5 133.6V186.7" stroke="#f51515" stroke-width="1.2" stroke-linecap="round"/><path d="M589.3 127.5V174.9M589.3 184.4V192.1" stroke="#f51515" stroke-width="1.7" stroke-linecap="round"/><path d="M622.0 207.0L622.0 165.0L626.0 163.5L630.0 166.0L634.0 168.0L637.0 158.0L641.0 152.0L645.0 144.0L648.0 138.0L650.0 139.0L649.0 150.0L649.0 206.0L642.0 205.5L636.0 203.5L630.0 207.5Z" fill="#f51010" fill-opacity="0.95"/><g fill="#ff0000" fill-opacity="0.8"><circle cx="668.2" cy="131.5" r="1.8"/><circle cx="660.2" cy="165.1" r="1.8"/><circle cx="658.8" cy="182.2" r="1.8"/><circle cx="655.8" cy="150.7" r="1.8"/><circle cx="666.2" cy="156.3" r="1.8"/><circle cx="656.2" cy="141.2" r="1.8"/><circle cx="667.5" cy="143.0" r="1.8"/><circle cx="661.8" cy="131.7" r="1.8"/><circle cx="659.8" cy="145.4" r="1.8"/><circle cx="662.7" cy="132.4" r="1.8"/><circle cx="670.1" cy="169.8" r="1.8"/><circle cx="665.6" cy="169.0" r="1.8"/><circle cx="666.0" cy="164.8" r="1.8"/><circle cx="671.1" cy="177.7" r="1.8"/><circle cx="660.4" cy="146.2" r="1.8"/><circle cx="666.5" cy="149.8" r="1.8"/><circle cx="672.7" cy="168.8" r="1.8"/><circle cx="662.2" cy="178.1" r="1.8"/><circle cx="652.5" cy="154.6" r="1.8"/><circle cx="656.1" cy="176.2" r="1.8"/><circle cx="655.0" cy="170.6" r="1.8"/><circle cx="672.3" cy="138.8" r="1.8"/><circle cx="658.5" cy="180.6" r="1.8"/><circle cx="667.6" cy="146.7" r="1.8"/><circle cx="662.0" cy="138.2" r="1.8"/><circle cx="656.7" cy="140.0" r="1.8"/><circle cx="672.5" cy="167.6" r="1.8"/><circle cx="654.5" cy="147.3" r="1.8"/><circle cx="665.9" cy="129.7" r="1.8"/><circle cx="657.2" cy="168.1" r="1.8"/><circle cx="658.6" cy="150.1" r="1.8"/><circle cx="653.0" cy="133.2" r="1.8"/><circle cx="658.1" cy="130.6" r="1.8"/><circle cx="656.2" cy="155.0" r="1.8"/><circle cx="671.3" cy="165.5" r="1.8"/><circle cx="673.7" cy="164.7" r="1.8"/><circle cx="664.8" cy="146.7" r="1.8"/><circle cx="654.7" cy="166.7" r="1.8"/><circle cx="664.0" cy="156.1" r="1.8"/><circle cx="666.4" cy="157.9" r="1.8"/><circle cx="673.3" cy="136.2" r="1.8"/><circle cx="657.0" cy="178.9" r="1.8"/><circle cx="652.1" cy="148.7" r="1.8"/><circle cx="652.2" cy="167.7" r="1.8"/><circle cx="664.8" cy="136.6" r="1.8"/><circle cx="667.6" cy="167.2" r="1.8"/><circle cx="656.5" cy="151.4" r="1.8"/><circle cx="666.5" cy="158.6" r="1.8"/><circle cx="668.8" cy="140.6" r="1.8"/><circle cx="662.6" cy="178.8" r="1.8"/><circle cx="671.2" cy="136.9" r="1.8"/><circle cx="673.1" cy="168.6" r="1.8"/><circle cx="674.7" cy="134.6" r="1.8"/><circle cx="653.2" cy="146.9" r="1.8"/><circle cx="659.5" cy="161.7" r="1.8"/><circle cx="666.5" cy="175.8" r="1.8"/><circle cx="658.1" cy="154.2" r="1.8"/><circle cx="673.6" cy="130.7" r="1.8"/><circle cx="675.6" cy="141.3" r="1.8"/><circle cx="667.1" cy="137.5" r="1.8"/><circle cx="657.3" cy="130.8" r="1.8"/><circle cx="648.2" cy="148.6" r="1.8"/><circle cx="646.5" cy="148.6" r="1.8"/><circle cx="645.8" cy="158.8" r="1.8"/><circle cx="659.7" cy="145.6" r="1.8"/><circle cx="654.5" cy="152.9" r="1.8"/><circle cx="656.5" cy="142.5" r="1.8"/><circle cx="656.5" cy="142.7" r="1.8"/><circle cx="658.9" cy="150.5" r="1.8"/><circle cx="650.5" cy="155.8" r="1.8"/></g><g fill="none" stroke="#ff0000" stroke-opacity="0.5" stroke-width="1.0"><circle cx="672.0" cy="193.7" r="1.6"/><circle cx="661.8" cy="187.9" r="1.6"/><circle cx="665.2" cy="193.0" r="1.6"/><circle cx="671.5" cy="185.4" r="1.6"/><circle cx="662.4" cy="187.7" r="1.6"/><circle cx="653.5" cy="185.3" r="1.6"/><circle cx="651.2" cy="189.0" r="1.6"/><circle cx="659.7" cy="193.6" r="1.6"/><circle cx="673.3" cy="182.7" r="1.6"/><circle cx="660.6" cy="196.3" r="1.6"/><circle cx="664.8" cy="193.9" r="1.6"/><circle cx="663.6" cy="195.0" r="1.6"/><circle cx="653.3" cy="183.3" r="1.6"/><circle cx="661.5" cy="202.1" r="1.6"/><circle cx="673.3" cy="184.4" r="1.6"/><circle cx="662.1" cy="191.2" r="1.6"/><circle cx="661.1" cy="205.2" r="1.6"/><circle cx="671.5" cy="197.7" r="1.6"/><circle cx="657.9" cy="182.2" r="1.6"/><circle cx="674.5" cy="199.8" r="1.6"/><circle cx="656.4" cy="197.9" r="1.6"/><circle cx="657.0" cy="202.3" r="1.6"/><circle cx="656.1" cy="184.2" r="1.6"/><circle cx="650.7" cy="191.9" r="1.6"/><circle cx="668.9" cy="187.8" r="1.6"/><circle cx="656.6" cy="200.9" r="1.6"/><circle cx="671.5" cy="179.4" r="1.6"/><circle cx="672.2" cy="197.5" r="1.6"/><circle cx="651.6" cy="189.0" r="1.6"/><circle cx="663.9" cy="182.5" r="1.6"/><circle cx="674.5" cy="178.9" r="1.6"/><circle cx="669.0" cy="181.6" r="1.6"/><circle cx="659.4" cy="179.2" r="1.6"/><circle cx="666.5" cy="198.4" r="1.6"/><circle cx="668.0" cy="201.4" r="1.6"/><circle cx="674.5" cy="201.2" r="1.6"/><circle cx="668.4" cy="193.3" r="1.6"/><circle cx="666.5" cy="203.1" r="1.6"/><circle cx="672.7" cy="195.8" r="1.6"/><circle cx="651.6" cy="197.2" r="1.6"/><circle cx="662.4" cy="197.9" r="1.6"/><circle cx="655.5" cy="197.6" r="1.6"/><circle cx="673.3" cy="197.0" r="1.6"/><circle cx="655.0" cy="193.1" r="1.6"/><circle cx="672.7" cy="194.2" r="1.6"/><circle cx="658.6" cy="193.6" r="1.6"/><circle cx="654.6" cy="196.8" r="1.6"/><circle cx="672.6" cy="191.4" r="1.6"/><circle cx="659.4" cy="204.6" r="1.6"/><circle cx="668.7" cy="186.4" r="1.6"/></g><g fill="none" stroke="#ff0000" stroke-opacity="0.7" stroke-width="0.9"><circle cx="522.9" cy="201.1" r="1.5"/><circle cx="524.7" cy="137.8" r="1.5"/><circle cx="521.8" cy="58.1" r="1.5"/><circle cx="521.3" cy="185.9" r="1.5"/><circle cx="524.0" cy="157.5" r="1.5"/><circle cx="521.1" cy="204.6" r="1.5"/><circle cx="521.9" cy="63.0" r="1.5"/><circle cx="522.5" cy="124.5" r="1.5"/><circle cx="523.2" cy="82.4" r="1.5"/><circle cx="524.1" cy="55.1" r="1.5"/><circle cx="533.8" cy="78.8" r="1.5"/><circle cx="535.2" cy="78.7" r="1.5"/><circle cx="550.4" cy="56.9" r="1.5"/><circle cx="576.9" cy="82.6" r="1.5"/><circle cx="527.1" cy="84.9" r="1.5"/><circle cx="555.7" cy="41.3" r="1.5"/><circle cx="544.7" cy="78.7" r="1.5"/><circle cx="592.6" cy="98.6" r="1.5"/><circle cx="556.5" cy="46.1" r="1.5"/><circle cx="530.8" cy="80.1" r="1.5"/><circle cx="591.2" cy="93.5" r="1.5"/><circle cx="554.9" cy="38.7" r="1.5"/><circle cx="559.7" cy="73.6" r="1.5"/><circle cx="531.3" cy="79.0" r="1.5"/><circle cx="548.1" cy="76.6" r="1.5"/><circle cx="525.2" cy="96.5" r="1.5"/><circle cx="562.0" cy="73.4" r="1.5"/><circle cx="601.3" cy="102.4" r="1.5"/><circle cx="596.0" cy="99.3" r="1.5"/><circle cx="532.9" cy="82.7" r="1.5"/><circle cx="599.3" cy="104.5" r="1.5"/><circle cx="592.4" cy="95.7" r="1.5"/><circle cx="574.0" cy="81.8" r="1.5"/><circle cx="594.9" cy="99.2" r="1.5"/><circle cx="556.4" cy="40.0" r="1.5"/><circle cx="582.3" cy="77.8" r="1.5"/><circle cx="568.6" cy="75.4" r="1.5"/><circle cx="581.7" cy="78.6" r="1.5"/><circle cx="577.2" cy="80.8" r="1.5"/><circle cx="572.5" cy="77.5" r="1.5"/><circle cx="540.9" cy="78.4" r="1.5"/><circle cx="587.0" cy="94.3" r="1.5"/><circle cx="576.1" cy="85.1" r="1.5"/><circle cx="536.1" cy="76.6" r="1.5"/><circle cx="549.1" cy="75.8" r="1.5"/><circle cx="570.8" cy="77.6" r="1.5"/><circle cx="583.3" cy="76.4" r="1.5"/><circle cx="579.2" cy="81.9" r="1.5"/><circle cx="598.6" cy="103.4" r="1.5"/><circle cx="595.2" cy="99.6" r="1.5"/><circle cx="571.3" cy="72.0" r="1.5"/><circle cx="602.9" cy="115.5" r="1.5"/><circle cx="562.4" cy="75.5" r="1.5"/><circle cx="529.8" cy="83.7" r="1.5"/><circle cx="525.2" cy="95.9" r="1.5"/><circle cx="592.8" cy="93.3" r="1.5"/><circle cx="599.4" cy="101.9" r="1.5"/><circle cx="539.2" cy="75.6" r="1.5"/><circle cx="594.1" cy="97.5" r="1.5"/><circle cx="559.5" cy="74.1" r="1.5"/><circle cx="532.9" cy="81.2" r="1.5"/><circle cx="528.3" cy="86.8" r="1.5"/><circle cx="583.6" cy="78.0" r="1.5"/><circle cx="598.4" cy="100.8" r="1.5"/><circle cx="541.6" cy="74.4" r="1.5"/><circle cx="568.0" cy="71.3" r="1.5"/><circle cx="596.9" cy="98.1" r="1.5"/><circle cx="555.6" cy="43.2" r="1.5"/><circle cx="558.6" cy="73.4" r="1.5"/><circle cx="562.7" cy="76.0" r="1.5"/><circle cx="575.2" cy="84.2" r="1.5"/><circle cx="583.1" cy="79.1" r="1.5"/><circle cx="525.4" cy="96.9" r="1.5"/><circle cx="600.6" cy="103.0" r="1.5"/><circle cx="557.2" cy="63.2" r="1.5"/><circle cx="529.5" cy="82.5" r="1.5"/><circle cx="595.6" cy="100.8" r="1.5"/><circle cx="570.5" cy="74.0" r="1.5"/><circle cx="547.6" cy="75.2" r="1.5"/><circle cx="588.5" cy="95.3" r="1.5"/><circle cx="554.4" cy="44.4" r="1.5"/><circle cx="562.9" cy="74.3" r="1.5"/><circle cx="539.0" cy="77.2" r="1.5"/><circle cx="564.6" cy="74.3" r="1.5"/><circle cx="541.6" cy="80.0" r="1.5"/><circle cx="590.3" cy="99.7" r="1.5"/><circle cx="589.5" cy="99.9" r="1.5"/><circle cx="525.0" cy="94.0" r="1.5"/><circle cx="577.5" cy="77.2" r="1.5"/><circle cx="562.3" cy="76.1" r="1.5"/><circle cx="601.5" cy="110.0" r="1.5"/><circle cx="602.2" cy="116.0" r="1.5"/><circle cx="602.2" cy="122.0" r="1.5"/><circle cx="601.6" cy="128.0" r="1.5"/><circle cx="600.9" cy="134.0" r="1.5"/><circle cx="600.7" cy="140.0" r="1.5"/><circle cx="601.3" cy="146.0" r="1.5"/><circle cx="602.0" cy="152.0" r="1.5"/><circle cx="602.3" cy="158.0" r="1.5"/><circle cx="601.8" cy="164.0" r="1.5"/><circle cx="601.1" cy="170.0" r="1.5"/><circle cx="600.7" cy="176.0" r="1.5"/><circle cx="601.1" cy="182.0" r="1.5"/><circle cx="601.8" cy="188.0" r="1.5"/><circle cx="587.8" cy="201.0" r="1.5"/><circle cx="581.1" cy="203.6" r="1.5"/><circle cx="552.6" cy="206.1" r="1.5"/><circle cx="555.1" cy="204.1" r="1.5"/><circle cx="563.7" cy="207.1" r="1.5"/><circle cx="597.1" cy="204.6" r="1.5"/><circle cx="557.6" cy="201.1" r="1.5"/><circle cx="542.1" cy="209.6" r="1.5"/><circle cx="595.8" cy="208.8" r="1.5"/><circle cx="573.8" cy="202.1" r="1.5"/><circle cx="573.1" cy="201.4" r="1.5"/><circle cx="559.9" cy="208.7" r="1.5"/><circle cx="521.5" cy="28.0" r="1.5"/><circle cx="522.5" cy="34.0" r="1.5"/><circle cx="523.0" cy="41.0" r="1.5"/><circle cx="523.5" cy="48.0" r="1.5"/><circle cx="524.0" cy="55.0" r="1.5"/><circle cx="525.0" cy="62.0" r="1.5"/><circle cx="525.5" cy="70.0" r="1.5"/><circle cx="526.0" cy="78.0" r="1.5"/><circle cx="527.5" cy="36.0" r="1.5"/><circle cx="528.5" cy="41.0" r="1.5"/><circle cx="530.0" cy="55.0" r="1.5"/></g><g fill="none" stroke="#ff0000" stroke-opacity="0.25" stroke-width="0.9"><circle cx="599.2" cy="208.8" r="1.5"/><circle cx="546.8" cy="205.5" r="1.5"/><circle cx="558.9" cy="208.3" r="1.5"/><circle cx="529.6" cy="206.1" r="1.5"/><circle cx="534.6" cy="209.4" r="1.5"/><circle cx="589.4" cy="209.6" r="1.5"/><circle cx="599.3" cy="208.3" r="1.5"/><circle cx="571.8" cy="207.0" r="1.5"/><circle cx="598.2" cy="209.7" r="1.5"/><circle cx="558.6" cy="207.0" r="1.5"/><circle cx="668.5" cy="205.8" r="1.5"/><circle cx="652.5" cy="207.9" r="1.5"/><circle cx="654.4" cy="210.9" r="1.5"/><circle cx="646.3" cy="202.5" r="1.5"/><circle cx="672.4" cy="202.7" r="1.5"/><circle cx="660.2" cy="196.4" r="1.5"/><circle cx="657.8" cy="207.7" r="1.5"/><circle cx="671.0" cy="200.5" r="1.5"/><circle cx="648.1" cy="208.6" r="1.5"/><circle cx="656.8" cy="205.7" r="1.5"/><circle cx="646.1" cy="200.1" r="1.5"/><circle cx="646.4" cy="201.3" r="1.5"/><circle cx="652.9" cy="211.8" r="1.5"/><circle cx="656.9" cy="200.2" r="1.5"/><circle cx="651.6" cy="203.4" r="1.5"/></g></g><line x1="514" y1="202.9" x2="676" y2="202.9" stroke="#a03040" stroke-width="1.4" stroke-dasharray="1.5,2.35"/><rect x="580.7" y="26.8" width="90.29999999999995" height="35.8" rx="2.5" fill="#fff" fill-opacity="0.85" stroke="#d6d6d6" stroke-width="1"/><circle cx="596.6" cy="37.3" r="1.3" fill="none" stroke="#0000ff" stroke-width="1.3"/><circle cx="596.6" cy="53.8" r="1.3" fill="none" stroke="#ff2020" stroke-width="1.3"/><text x="617.5" y="40.5" font-size="11" text-anchor="start" font-weight="normal">BaZrS<tspan dy="2.8" font-size="8.5">3</tspan></text><text x="617.5" y="57.5" font-size="11" text-anchor="start" font-weight="normal">Ba<tspan dy="2.8" font-size="8.5">3</tspan><tspan dx="0.7" dy="-2.8">Zr</tspan><tspan dy="2.8" font-size="8.5">2</tspan><tspan dx="0.7" dy="-2.8">S</tspan><tspan dy="2.8" font-size="8.5">7</tspan></text><path d="M514.00 223v-5M514.00 22v5M571.86 223v-5M571.86 22v5M629.71 223v-5M629.71 22v5M514 223.00h5M676 223.00h-5M514 182.80h5M676 182.80h-5M514 142.60h5M676 142.60h-5M514 102.40h5M676 102.40h-5M514 62.20h5M676 62.20h-5M514 22.00h5M676 22.00h-5" stroke="#000" stroke-width="1.1" fill="none"/><path d="M525.57 223v-3M525.57 22v3M537.14 223v-3M537.14 22v3M548.71 223v-3M548.71 22v3M560.29 223v-3M560.29 22v3M583.43 223v-3M583.43 22v3M595.00 223v-3M595.00 22v3M606.57 223v-3M606.57 22v3M618.14 223v-3M618.14 22v3M641.29 223v-3M641.29 22v3M652.86 223v-3M652.86 22v3M664.43 223v-3M664.43 22v3M676.00 223v-3M676.00 22v3M514 212.95h3M676 212.95h-3M514 202.90h3M676 202.90h-3M514 192.85h3M676 192.85h-3M514 172.75h3M676 172.75h-3M514 162.70h3M676 162.70h-3M514 152.65h3M676 152.65h-3M514 132.55h3M676 132.55h-3M514 122.50h3M676 122.50h-3M514 112.45h3M676 112.45h-3M514 92.35h3M676 92.35h-3M514 82.30h3M676 82.30h-3M514 72.25h3M676 72.25h-3M514 52.15h3M676 52.15h-3M514 42.10h3M676 42.10h-3M514 32.05h3M676 32.05h-3" stroke="#000" stroke-width="0.9" fill="none"/><rect x="514" y="22" width="162" height="201" fill="none" stroke="#000" stroke-width="1.2"/><text x="509" y="226.78" font-size="10.5" text-anchor="end" font-weight="normal">0.0</text><text x="509" y="186.58" font-size="10.5" text-anchor="end" font-weight="normal">0.2</text><text x="509" y="146.38" font-size="10.5" text-anchor="end" font-weight="normal">0.4</text><text x="509" y="106.18" font-size="10.5" text-anchor="end" font-weight="normal">0.6</text><text x="509" y="65.97999999999999" font-size="10.5" text-anchor="end" font-weight="normal">0.8</text><text x="509" y="25.78" font-size="10.5" text-anchor="end" font-weight="normal">1.0</text><text x="514.0" y="235.56" font-size="10.5" text-anchor="middle" font-weight="normal">0</text><text x="571.8571428571429" y="235.56" font-size="10.5" text-anchor="middle" font-weight="normal">5</text><text x="629.7142857142857" y="235.56" font-size="10.5" text-anchor="middle" font-weight="normal">10</text><text x="595.0" y="247" font-size="11.5" text-anchor="middle" font-weight="normal">Frequency (THz)</text><text x="490" y="122" font-size="11.5" text-anchor="middle" font-weight="normal" transform="rotate(-90 490 122)">Participation ratio (a.u.)</text><text x="513.8" y="12.7" font-size="13.7" text-anchor="start" font-weight="bold">e PR</text><line x1="418.6" y1="284" x2="418.6" y2="485" stroke="#000" stroke-width="1.4" stroke-dasharray="4.7,2.9"/><path d="M294.1 465.4L295.1 465.4L296.1 465.4L297.2 465.4L298.2 465.4L299.2 465.4L300.2 465.4L301.3 465.4L302.3 465.4L303.3 465.4L304.3 465.4L305.4 465.4L306.4 465.4L307.4 465.4L308.4 465.4L309.5 465.4L310.5 465.4L311.5 465.4L312.5 465.4L313.6 465.4L314.6 465.4L315.6 465.4L316.6 465.4L317.7 465.4L318.7 465.4L319.7 465.4L320.7 465.4L321.8 465.4L322.8 465.4L323.8 465.4L324.8 465.4L325.9 465.4L326.9 465.4L327.9 465.4L328.9 465.4L330.0 465.4L331.0 465.4L332.0 465.4L333.0 465.4L334.1 465.4L335.1 465.4L336.1 465.4L337.1 465.4L338.2 465.4L339.2 465.4L340.2 465.4L341.2 465.4L342.3 465.4L343.3 465.4L344.3 465.4L345.3 465.4L346.4 465.4L347.4 465.4L348.4 465.4L349.4 465.4L350.5 465.4L351.5 465.4L352.5 465.4L353.5 465.4L354.6 465.4L355.6 465.4L356.6 465.4L357.6 465.4L358.7 465.4L359.7 465.4L360.7 465.4L361.7 465.4L362.8 465.4L363.8 465.4L364.8 465.4L365.8 465.4L366.9 465.4L367.9 465.4L368.9 465.4L369.9 465.3L371.0 465.3L372.0 465.3L373.0 465.3L374.0 465.3L375.1 465.3L376.1 465.3L377.1 465.2L378.1 465.2L379.2 465.2L380.2 465.1L381.2 465.1L382.2 465.0L383.3 464.9L384.3 464.8L385.3 464.7L386.3 464.6L387.4 464.4L388.4 464.3L389.4 464.1L390.4 463.8L391.5 463.5L392.5 463.2L393.5 462.8L394.5 462.3L395.6 461.8L396.6 461.1L397.6 460.4L398.6 459.5L399.7 458.4L400.7 457.2L401.7 455.8L402.7 454.2L403.8 452.4L404.8 450.2L405.8 447.8L406.8 445.0L407.9 441.8L408.9 438.3L409.9 434.3L410.9 429.9L412.0 425.1L413.0 419.9L414.0 414.2L415.0 408.2L416.1 401.8L417.1 395.2L418.1 388.3L419.1 381.4L420.2 374.3L421.2 367.3L422.2 360.4L423.2 353.7L424.3 347.3L425.3 341.1L426.3 335.3L427.4 329.9L428.4 324.9L429.4 320.3L430.4 316.1L431.5 312.3L432.5 308.9L433.5 305.8L434.5 303.1L435.6 300.7L436.6 298.5L437.6 296.6L438.6 295.0L439.7 293.5L440.7 292.3L441.7 291.2L442.7 290.2L443.8 289.4L444.8 288.6L445.8 288.0L446.8 287.5L447.9 287.0L448.9 286.6L449.9 286.2L450.9 285.9L452.0 285.7L453.0 285.4L454.0 285.2L455.0 285.1L456.1 284.9L457.1 284.8" fill="none" stroke="#0000ff" stroke-width="1.35"/><path d="M294.1 465.1L295.1 465.1L296.1 465.1L297.2 465.1L298.2 465.0L299.2 465.0L300.2 465.0L301.3 465.0L302.3 465.0L303.3 464.9L304.3 464.9L305.4 464.9L306.4 464.9L307.4 464.8L308.4 464.8L309.5 464.8L310.5 464.7L311.5 464.7L312.5 464.7L313.6 464.6L314.6 464.6L315.6 464.5L316.6 464.5L317.7 464.5L318.7 464.4L319.7 464.3L320.7 464.3L321.8 464.2L322.8 464.2L323.8 464.1L324.8 464.0L325.9 464.0L326.9 463.9L327.9 463.8L328.9 463.7L330.0 463.6L331.0 463.5L332.0 463.4L333.0 463.3L334.1 463.2L335.1 463.1L336.1 463.0L337.1 462.9L338.2 462.7L339.2 462.6L340.2 462.5L341.2 462.3L342.3 462.1L343.3 462.0L344.3 461.8L345.3 461.6L346.4 461.4L347.4 461.2L348.4 460.9L349.4 460.7L350.5 460.5L351.5 460.2L352.5 459.9L353.5 459.6L354.6 459.3L355.6 459.0L356.6 458.7L357.6 458.3L358.7 457.9L359.7 457.6L360.7 457.1L361.7 456.7L362.8 456.2L363.8 455.8L364.8 455.3L365.8 454.7L366.9 454.2L367.9 453.6L368.9 452.9L369.9 452.3L371.0 451.6L372.0 450.9L373.0 450.1L374.0 449.3L375.1 448.4L376.1 447.5L377.1 446.6L378.1 445.6L379.2 444.6L380.2 443.5L381.2 442.3L382.2 441.1L383.3 439.8L384.3 438.5L385.3 437.1L386.3 435.6L387.4 434.1L388.4 432.4L389.4 430.7L390.4 428.9L391.5 427.0L392.5 425.0L393.5 423.0L394.5 420.8L395.6 418.5L396.6 416.1L397.6 413.6L398.6 411.0L399.7 408.3L400.7 405.5L401.7 402.5L402.7 399.4L403.8 396.3L404.8 393.0L405.8 389.5L406.8 386.0L407.9 382.4L408.9 378.7L409.9 374.9L410.9 371.0L412.0 367.0L413.0 363.0L414.0 359.0L415.0 354.9L416.1 350.9L417.1 346.9L418.1 342.9L419.1 339.0L420.2 335.1L421.2 331.4L422.2 327.8L423.2 324.3L424.3 321.0L425.3 317.8L426.3 314.8L427.4 312.0L428.4 309.4L429.4 306.9L430.4 304.7L431.5 302.6L432.5 300.7L433.5 298.9L434.5 297.4L435.6 295.9L436.6 294.6L437.6 293.4L438.6 292.4L439.7 291.4L440.7 290.6L441.7 289.8L442.7 289.2L443.8 288.6L444.8 288.0L445.8 287.6L446.8 287.1L447.9 286.8L448.9 286.4L449.9 286.1L450.9 285.9L452.0 285.7L453.0 285.5L454.0 285.3L455.0 285.1L456.1 285.0L457.1 284.9" fill="none" stroke="#f02020" stroke-width="1.35"/><path d="M294.1 465.4L295.1 465.4L296.1 465.4L297.2 465.4L298.2 465.4L299.2 465.4L300.2 465.4L301.3 465.4L302.3 465.4L303.3 465.4L304.3 465.4L305.4 465.4L306.4 465.4L307.4 465.4L308.4 465.4L309.5 465.4L310.5 465.3L311.5 465.3L312.5 465.3L313.6 465.3L314.6 465.3L315.6 465.3L316.6 465.3L317.7 465.3L318.7 465.3L319.7 465.3L320.7 465.3L321.8 465.3L322.8 465.3L323.8 465.3L324.8 465.3L325.9 465.2L326.9 465.2L327.9 465.2L328.9 465.2L330.0 465.2L331.0 465.2L332.0 465.2L333.0 465.2L334.1 465.1L335.1 465.1L336.1 465.1L337.1 465.1L338.2 465.0L339.2 465.0L340.2 465.0L341.2 465.0L342.3 464.9L343.3 464.9L344.3 464.9L345.3 464.8L346.4 464.8L347.4 464.7L348.4 464.7L349.4 464.6L350.5 464.6L351.5 464.5L352.5 464.4L353.5 464.4L354.6 464.3L355.6 464.2L356.6 464.1L357.6 464.0L358.7 463.9L359.7 463.8L360.7 463.7L361.7 463.6L362.8 463.5L363.8 463.3L364.8 463.2L365.8 463.0L366.9 462.8L367.9 462.6L368.9 462.4L369.9 462.2L371.0 462.0L372.0 461.7L373.0 461.5L374.0 461.2L375.1 460.9L376.1 460.5L377.1 460.2L378.1 459.8L379.2 459.4L380.2 459.0L381.2 458.5L382.2 458.0L383.3 457.4L384.3 456.9L385.3 456.2L386.3 455.6L387.4 454.9L388.4 454.1L389.4 453.3L390.4 452.4L391.5 451.4L392.5 450.4L393.5 449.3L394.5 448.1L395.6 446.9L396.6 445.5L397.6 444.1L398.6 442.6L399.7 440.9L400.7 439.2L401.7 437.3L402.7 435.3L403.8 433.1L404.8 430.8L405.8 428.4L406.8 425.7L407.9 423.0L408.9 420.0L409.9 416.9L410.9 413.6L412.0 410.1L413.0 406.4L414.0 402.5L415.0 398.4L416.1 394.1L417.1 389.7L418.1 385.1L419.1 380.3L420.2 375.4L421.2 370.4L422.2 365.4L423.2 360.3L424.3 355.1L425.3 350.1L426.3 345.0L427.4 340.1L428.4 335.4L429.4 330.8L430.4 326.4L431.5 322.2L432.5 318.3L433.5 314.7L434.5 311.3L435.6 308.3L436.6 305.5L437.6 302.9L438.6 300.6L439.7 298.6L440.7 296.7L441.7 295.1L442.7 293.7L443.8 292.4L444.8 291.3L445.8 290.3L446.8 289.5L447.9 288.8L448.9 288.1L449.9 287.5L450.9 287.1L452.0 286.6L453.0 286.3L454.0 286.0L455.0 285.7L456.1 285.5L457.1 285.3" fill="none" stroke="#2a8c22" stroke-width="1.35"/><rect x="301.3" y="288.8" width="88.09999999999997" height="69.39999999999998" rx="2.5" fill="#fff" fill-opacity="0.85" stroke="#d6d6d6" stroke-width="1"/><line x1="305.6" y1="298.8" x2="318" y2="298.8" stroke="#0000ff" stroke-width="1.4"/><text x="327.2" y="302.8" font-size="11" text-anchor="start" font-weight="normal">BaZrS<tspan dy="2.8" font-size="8.5">3</tspan></text><line x1="305.6" y1="315.1" x2="318" y2="315.1" stroke="#f02020" stroke-width="1.4"/><text x="327.2" y="319.1" font-size="11" text-anchor="start" font-weight="normal">Ba<tspan dy="2.8" font-size="8.5">3</tspan><tspan dx="0.7" dy="-2.8">Zr</tspan><tspan dy="2.8" font-size="8.5">2</tspan><tspan dx="0.7" dy="-2.8">S</tspan><tspan dy="2.8" font-size="8.5">7</tspan><tspan dx="0.7" dy="-2.8"> z</tspan></text><line x1="305.6" y1="331.2" x2="318" y2="331.2" stroke="#2a8c22" stroke-width="1.4"/><text x="327.2" y="335.2" font-size="11" text-anchor="start" font-weight="normal">Ba<tspan dy="2.8" font-size="8.5">3</tspan><tspan dx="0.7" dy="-2.8">Zr</tspan><tspan dy="2.8" font-size="8.5">2</tspan><tspan dx="0.7" dy="-2.8">S</tspan><tspan dy="2.8" font-size="8.5">7</tspan><tspan dx="0.7" dy="-2.8"> x</tspan></text><line x1="305.6" y1="347.4" x2="318" y2="347.4" stroke="#000" stroke-width="1.4" stroke-dasharray="4,2.6"/><text x="327.2" y="351.4" font-size="11" text-anchor="start" font-weight="normal">Air</text><path d="M326.68 485v-5M326.68 284v5M378.84 485v-5M378.84 284v5M431.00 485v-5M431.00 284v5M296 485.00h5M457 485.00h-5M296 444.80h5M457 444.80h-5M296 404.60h5M457 404.60h-5M296 364.40h5M457 364.40h-5M296 324.20h5M457 324.20h-5M296 284.00h5M457 284.00h-5" stroke="#000" stroke-width="1.1" fill="none"/><path d="M296 474.95h3M457 474.95h-3M296 464.90h3M457 464.90h-3M296 454.85h3M457 454.85h-3M296 434.75h3M457 434.75h-3M296 424.70h3M457 424.70h-3M296 414.65h3M457 414.65h-3M296 394.55h3M457 394.55h-3M296 384.50h3M457 384.50h-3M296 374.45h3M457 374.45h-3M296 354.35h3M457 354.35h-3M296 344.30h3M457 344.30h-3M296 334.25h3M457 334.25h-3M296 314.15h3M457 314.15h-3M296 304.10h3M457 304.10h-3M296 294.05h3M457 294.05h-3" stroke="#000" stroke-width="0.9" fill="none"/><rect x="296" y="284" width="161" height="201" fill="none" stroke="#000" stroke-width="1.2"/><text x="291" y="488.78" font-size="10.5" text-anchor="end" font-weight="normal">0</text><text x="291" y="448.58" font-size="10.5" text-anchor="end" font-weight="normal">20</text><text x="291" y="408.38" font-size="10.5" text-anchor="end" font-weight="normal">40</text><text x="291" y="368.17999999999995" font-size="10.5" text-anchor="end" font-weight="normal">60</text><text x="291" y="327.97999999999996" font-size="10.5" text-anchor="end" font-weight="normal">80</text><text x="291" y="287.78" font-size="10.5" text-anchor="end" font-weight="normal">100</text><text x="326.68" y="502.5" font-size="10.5" text-anchor="middle" font-weight="normal">10<tspan dy="-8" font-size="7.9">&#8722;4</tspan></text><text x="378.84000000000003" y="502.5" font-size="10.5" text-anchor="middle" font-weight="normal">10<tspan dy="-8" font-size="7.9">&#8722;2</tspan></text><text x="431.0" y="502.5" font-size="10.5" text-anchor="middle" font-weight="normal">10<tspan dy="-8" font-size="7.9">0</tspan></text><text x="376.5" y="514.3" font-size="11.5" text-anchor="middle" font-weight="normal">v<tspan dy="1.8" font-size="9.5" font-style="italic">g</tspan><tspan dy="-1.8"> (km/s)</tspan></text><text x="268.5" y="384" font-size="11.5" text-anchor="middle" font-weight="normal" transform="rotate(-90 268.5 384)">Cumulative percent of modes (%)</text><text x="295.6" y="274.6" font-size="13.7" text-anchor="start" font-weight="bold">d Cumulative v<tspan dy="2.5" font-size="10" font-weight="normal" font-style="italic">g</tspan></text><path d="M514.0 485.0C519.2 484.9 539.0 485.0 545.5 484.7C552.0 484.4 550.0 484.5 552.8 483.0C555.6 481.5 559.3 478.9 562.5 475.7C565.7 472.5 569.4 468.2 572.2 463.6C575.0 459.0 577.2 453.7 579.4 447.8C581.6 441.9 583.5 434.9 585.5 428.5C587.5 422.1 589.3 417.2 591.5 409.1C593.7 401.0 596.4 389.6 598.8 380.0C601.2 370.4 603.7 360.5 606.1 351.8C608.5 343.1 610.5 334.9 613.3 327.6C616.1 320.3 619.8 313.4 623.0 308.2C626.2 302.9 629.3 299.5 632.7 296.1C636.1 292.7 639.2 289.4 643.6 287.6C648.0 285.8 654.0 285.8 659.4 285.2C664.8 284.6 673.2 284.4 676.0 284.2" fill="none" stroke="#0000ff" stroke-width="1.35"/><path d="M514.0 485.0C515.2 484.9 519.1 485.2 521.3 484.7C523.5 484.2 525.5 483.5 527.3 481.8C529.1 480.1 530.4 477.7 532.2 474.5C534.0 471.3 536.2 466.8 538.2 462.4C540.2 457.9 542.7 453.2 544.3 447.8C545.9 442.4 546.5 434.1 547.9 429.7C549.3 425.3 551.2 424.6 552.8 421.2C554.4 417.8 556.0 413.6 557.6 409.1C559.2 404.7 560.8 399.4 562.5 394.5C564.2 389.6 566.6 383.5 567.8 380.0C569.0 376.5 568.2 378.3 569.7 373.6C571.2 368.9 574.6 358.7 577.0 351.8C579.4 344.9 581.9 338.4 584.3 332.4C586.7 326.3 589.1 320.3 591.5 315.5C593.9 310.7 596.4 306.6 598.8 303.4C601.2 300.2 603.3 298.5 606.1 296.1C608.9 293.7 612.2 290.6 615.8 288.8C619.4 287.0 623.5 286.0 627.9 285.2C632.3 284.4 634.4 284.4 642.4 284.2C650.4 284.0 670.4 284.0 676.0 284.0" fill="none" stroke="#f02020" stroke-width="1.35"/><rect x="519.3" y="288.8" width="79.0" height="36.80000000000001" rx="2.5" fill="#fff" fill-opacity="0.85" stroke="#d6d6d6" stroke-width="1"/><line x1="523.7" y1="299" x2="536.3" y2="299" stroke="#0000ff" stroke-width="1.4"/><text x="545" y="303" font-size="11" text-anchor="start" font-weight="normal">BaZrS<tspan dy="2.8" font-size="8.5">3</tspan></text><line x1="523.7" y1="315" x2="536.3" y2="315" stroke="#f02020" stroke-width="1.4"/><text x="545" y="319" font-size="11" text-anchor="start" font-weight="normal">Ba<tspan dy="2.8" font-size="8.5">3</tspan><tspan dx="0.7" dy="-2.8">Zr</tspan><tspan dy="2.8" font-size="8.5">2</tspan><tspan dx="0.7" dy="-2.8">S</tspan><tspan dy="2.8" font-size="8.5">7</tspan></text><path d="M514.00 485v-5M514.00 284v5M546.40 485v-5M546.40 284v5M578.80 485v-5M578.80 284v5M611.20 485v-5M611.20 284v5M643.60 485v-5M643.60 284v5M676.00 485v-5M676.00 284v5M514 485.00h5M676 485.00h-5M514 444.80h5M676 444.80h-5M514 404.60h5M676 404.60h-5M514 364.40h5M676 364.40h-5M514 324.20h5M676 324.20h-5M514 284.00h5M676 284.00h-5" stroke="#000" stroke-width="1.1" fill="none"/><path d="M522.10 485v-3M522.10 284v3M530.20 485v-3M530.20 284v3M538.30 485v-3M538.30 284v3M554.50 485v-3M554.50 284v3M562.60 485v-3M562.60 284v3M570.70 485v-3M570.70 284v3M586.90 485v-3M586.90 284v3M595.00 485v-3M595.00 284v3M603.10 485v-3M603.10 284v3M619.30 485v-3M619.30 284v3M627.40 485v-3M627.40 284v3M635.50 485v-3M635.50 284v3M651.70 485v-3M651.70 284v3M659.80 485v-3M659.80 284v3M667.90 485v-3M667.90 284v3M514 474.95h3M676 474.95h-3M514 464.90h3M676 464.90h-3M514 454.85h3M676 454.85h-3M514 434.75h3M676 434.75h-3M514 424.70h3M676 424.70h-3M514 414.65h3M676 414.65h-3M514 394.55h3M676 394.55h-3M514 384.50h3M676 384.50h-3M514 374.45h3M676 374.45h-3M514 354.35h3M676 354.35h-3M514 344.30h3M676 344.30h-3M514 334.25h3M676 334.25h-3M514 314.15h3M676 314.15h-3M514 304.10h3M676 304.10h-3M514 294.05h3M676 294.05h-3" stroke="#000" stroke-width="0.9" fill="none"/><rect x="514" y="284" width="162" height="201" fill="none" stroke="#000" stroke-width="1.2"/><text x="509" y="488.78" font-size="10.5" text-anchor="end" font-weight="normal">0</text><text x="509" y="448.58" font-size="10.5" text-anchor="end" font-weight="normal">20</text><text x="509" y="408.38" font-size="10.5" text-anchor="end" font-weight="normal">40</text><text x="509" y="368.17999999999995" font-size="10.5" text-anchor="end" font-weight="normal">60</text><text x="509" y="327.97999999999996" font-size="10.5" text-anchor="end" font-weight="normal">80</text><text x="509" y="287.78" font-size="10.5" text-anchor="end" font-weight="normal">100</text><text x="514.0" y="497.56" font-size="10.5" text-anchor="middle" font-weight="normal">0.0</text><text x="546.4" y="497.56" font-size="10.5" text-anchor="middle" font-weight="normal">0.2</text><text x="578.8" y="497.56" font-size="10.5" text-anchor="middle" font-weight="normal">0.4</text><text x="611.2" y="497.56" font-size="10.5" text-anchor="middle" font-weight="normal">0.6</text><text x="643.6" y="497.56" font-size="10.5" text-anchor="middle" font-weight="normal">0.8</text><text x="676.0" y="497.56" font-size="10.5" text-anchor="middle" font-weight="normal">1.0</text><text x="595.0" y="509" font-size="11.5" text-anchor="middle" font-weight="normal">Participation ratio (a.u.)</text><text x="488" y="384" font-size="11.5" text-anchor="middle" font-weight="normal" transform="rotate(-90 488 384)">Cumulative percent of modes (%)</text><text x="513.8" y="274.6" font-size="13.7" text-anchor="start" font-weight="bold">f Cumulative PR</text>
</svg></div></body></html>
